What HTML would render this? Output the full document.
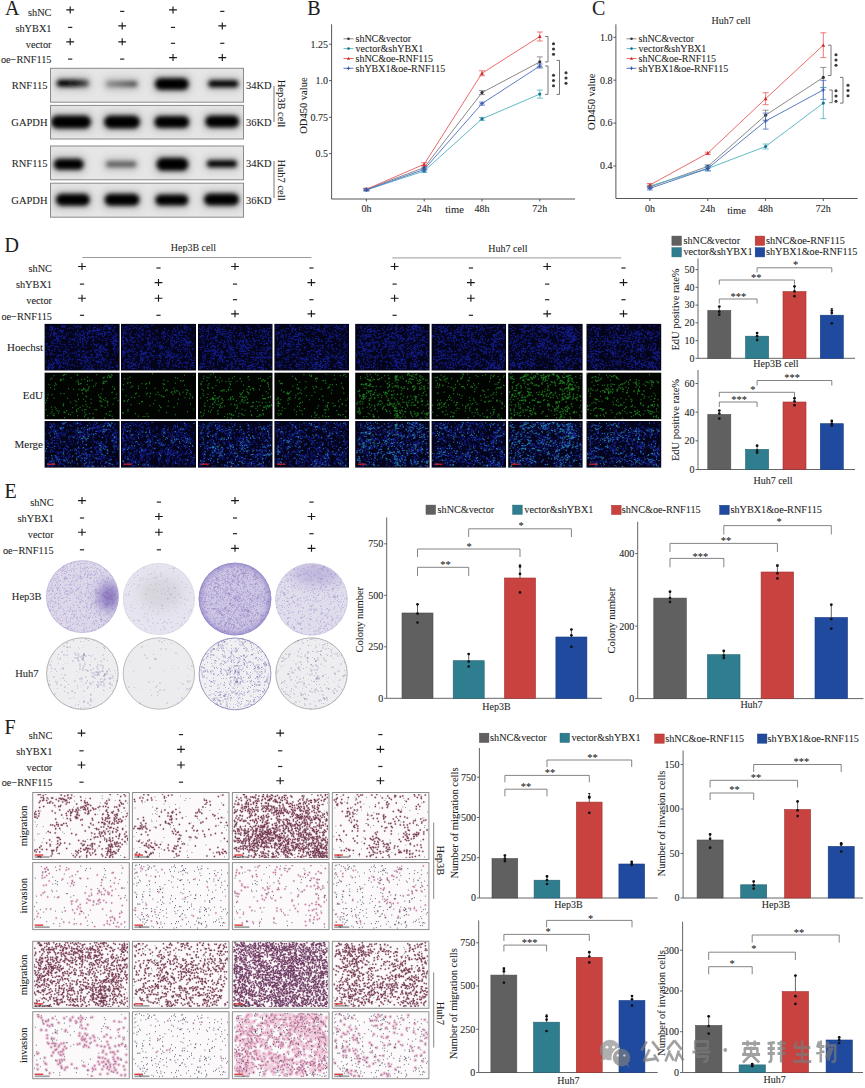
<!DOCTYPE html>
<html><head><meta charset="utf-8"><style>
html,body{margin:0;padding:0;background:#fff;width:865px;height:1088px;overflow:hidden}
svg{display:block}
text{font-family:"Liberation Serif",serif;stroke:#222;stroke-width:0.08px}
</style></head><body>
<svg width="865" height="1088" viewBox="0 0 865 1088">
<rect width="865" height="1088" fill="#fff"/>
<text x="5.0" y="14.6" font-size="20" text-anchor="start" fill="#1e1e1e">A</text>
<text x="51.5" y="15.6" font-size="10.3" text-anchor="end" fill="#1e1e1e">shNC</text>
<path d="M66.30 9.90h7.8M70.20 6.40v7" stroke="#1a1a1a" stroke-width="1.15"/>
<path d="M120.10 11.40h4.2" stroke="#222" stroke-width="1.2"/>
<path d="M169.10 9.90h7.8M173.00 6.40v7" stroke="#1a1a1a" stroke-width="1.15"/>
<path d="M220.20 11.40h4.2" stroke="#222" stroke-width="1.2"/>
<text x="51.5" y="31.6" font-size="10.3" text-anchor="end" fill="#1e1e1e">shYBX1</text>
<path d="M68.10 27.40h4.2" stroke="#222" stroke-width="1.2"/>
<path d="M118.30 25.90h7.8M122.20 22.40v7" stroke="#1a1a1a" stroke-width="1.15"/>
<path d="M170.90 27.40h4.2" stroke="#222" stroke-width="1.2"/>
<path d="M218.40 25.90h7.8M222.30 22.40v7" stroke="#1a1a1a" stroke-width="1.15"/>
<text x="51.5" y="47.5" font-size="10.3" text-anchor="end" fill="#1e1e1e">vector</text>
<path d="M66.30 41.80h7.8M70.20 38.30v7" stroke="#1a1a1a" stroke-width="1.15"/>
<path d="M118.30 41.80h7.8M122.20 38.30v7" stroke="#1a1a1a" stroke-width="1.15"/>
<path d="M170.90 43.30h4.2" stroke="#222" stroke-width="1.2"/>
<path d="M220.20 43.30h4.2" stroke="#222" stroke-width="1.2"/>
<text x="51.5" y="63.3" font-size="10.3" text-anchor="end" fill="#1e1e1e">oe−RNF115</text>
<path d="M68.10 59.10h4.2" stroke="#222" stroke-width="1.2"/>
<path d="M120.10 59.10h4.2" stroke="#222" stroke-width="1.2"/>
<path d="M169.10 57.60h7.8M173.00 54.10v7" stroke="#1a1a1a" stroke-width="1.15"/>
<path d="M218.40 57.60h7.8M222.30 54.10v7" stroke="#1a1a1a" stroke-width="1.15"/>
<defs><filter id="bl" x="-50%" y="-80%" width="200%" height="260%"><feGaussianBlur stdDeviation="1.9"/></filter><filter id="bl2" x="-50%" y="-80%" width="200%" height="260%"><feGaussianBlur stdDeviation="3.5"/></filter></defs>
<rect x="50.5" y="68.3" width="193.0" height="33.9" fill="#e6e6e6" stroke="#8a8a8a" stroke-width="1"/>
<clipPath id="cb0"><rect x="51" y="68.8" width="192" height="32.9"/></clipPath>
<g clip-path="url(#cb0)">
<rect x="53.8" y="75.8" width="38.0" height="15.0" rx="6" fill="#b0b0b0" opacity="0.65" filter="url(#bl2)"/>
<defs><linearGradient id="lg0" x1="0" x2="1"><stop offset="0" stop-color="rgb(0,0,0)"/><stop offset="0.55" stop-color="rgb(10,10,10)"/><stop offset="1" stop-color="rgb(90,90,90)"/></linearGradient></defs>
<rect x="56.8" y="79.8" width="32.0" height="7.0" rx="3.5" fill="url(#lg0)" filter="url(#bl)"/>
<rect x="103.2" y="77.2" width="37.0" height="13.5" rx="6" fill="#b0b0b0" opacity="0.65" filter="url(#bl2)"/>
<defs><linearGradient id="lgr0" x1="0" x2="1"><stop offset="0" stop-color="rgb(141,141,141)"/><stop offset="1" stop-color="rgb(71,71,71)"/></linearGradient></defs>
<rect x="106.2" y="81.2" width="31.0" height="5.5" rx="2.8" fill="url(#lgr0)" filter="url(#bl)"/>
<rect x="151.8" y="74.0" width="40.0" height="20.0" rx="6" fill="#b0b0b0" opacity="0.65" filter="url(#bl2)"/>
<rect x="154.8" y="78.0" width="34.0" height="12.0" rx="6.0" fill="rgb(0,0,0)" filter="url(#bl)"/>
<rect x="205.3" y="76.2" width="36.0" height="15.0" rx="6" fill="#b0b0b0" opacity="0.65" filter="url(#bl2)"/>
<rect x="208.3" y="80.2" width="30.0" height="7.0" rx="3.5" fill="rgb(0,0,0)" filter="url(#bl)"/>
</g>
<text x="47.5" y="88.8" font-size="10.5" text-anchor="end" fill="#1e1e1e">RNF115</text>
<text x="246.0" y="88.8" font-size="10.5" text-anchor="start" fill="#1e1e1e">34KD</text>
<rect x="50.5" y="105.4" width="193.0" height="33.6" fill="#e6e6e6" stroke="#8a8a8a" stroke-width="1"/>
<clipPath id="cb1"><rect x="51" y="105.9" width="192" height="32.6"/></clipPath>
<g clip-path="url(#cb1)">
<rect x="48.0" y="111.5" width="46.0" height="21.0" rx="6" fill="#b0b0b0" opacity="0.65" filter="url(#bl2)"/>
<rect x="51.0" y="115.5" width="40.0" height="13.0" rx="6.5" fill="rgb(0,0,0)" filter="url(#bl)"/>
<rect x="101.0" y="111.5" width="42.0" height="21.0" rx="6" fill="#b0b0b0" opacity="0.65" filter="url(#bl2)"/>
<rect x="104.0" y="115.5" width="36.0" height="13.0" rx="6.5" fill="rgb(0,0,0)" filter="url(#bl)"/>
<rect x="151.3" y="112.0" width="41.0" height="20.0" rx="6" fill="#b0b0b0" opacity="0.65" filter="url(#bl2)"/>
<rect x="154.3" y="116.0" width="35.0" height="12.0" rx="6.0" fill="rgb(0,0,0)" filter="url(#bl)"/>
<rect x="202.2" y="111.5" width="40.0" height="20.0" rx="6" fill="#b0b0b0" opacity="0.65" filter="url(#bl2)"/>
<rect x="205.2" y="115.5" width="34.0" height="12.0" rx="6.0" fill="rgb(0,0,0)" filter="url(#bl)"/>
</g>
<text x="47.5" y="125.8" font-size="10.5" text-anchor="end" fill="#1e1e1e">GAPDH</text>
<text x="246.0" y="125.8" font-size="10.5" text-anchor="start" fill="#1e1e1e">36KD</text>
<rect x="50.5" y="146.0" width="193.0" height="33.8" fill="#e6e6e6" stroke="#8a8a8a" stroke-width="1"/>
<clipPath id="cb2"><rect x="51" y="146.5" width="192" height="32.8"/></clipPath>
<g clip-path="url(#cb2)">
<rect x="50.7" y="154.8" width="36.0" height="19.0" rx="6" fill="#b0b0b0" opacity="0.65" filter="url(#bl2)"/>
<rect x="53.7" y="158.8" width="30.0" height="11.0" rx="5.5" fill="rgb(0,0,0)" filter="url(#bl)"/>
<rect x="103.1" y="157.6" width="36.0" height="13.5" rx="6" fill="#b0b0b0" opacity="0.65" filter="url(#bl2)"/>
<rect x="106.1" y="161.6" width="30.0" height="5.5" rx="2.8" fill="rgb(91,91,91)" filter="url(#bl)"/>
<rect x="153.4" y="153.8" width="38.0" height="21.0" rx="6" fill="#b0b0b0" opacity="0.65" filter="url(#bl2)"/>
<rect x="156.4" y="157.8" width="32.0" height="13.0" rx="6.5" fill="rgb(0,0,0)" filter="url(#bl)"/>
<rect x="203.9" y="156.3" width="36.0" height="15.0" rx="6" fill="#b0b0b0" opacity="0.65" filter="url(#bl2)"/>
<rect x="206.9" y="160.3" width="30.0" height="7.0" rx="3.5" fill="rgb(0,0,0)" filter="url(#bl)"/>
</g>
<text x="47.5" y="166.5" font-size="10.5" text-anchor="end" fill="#1e1e1e">RNF115</text>
<text x="246.0" y="166.5" font-size="10.5" text-anchor="start" fill="#1e1e1e">34KD</text>
<rect x="50.5" y="183.2" width="193.0" height="34.0" fill="#e6e6e6" stroke="#8a8a8a" stroke-width="1"/>
<clipPath id="cb3"><rect x="51" y="183.7" width="192" height="33.0"/></clipPath>
<g clip-path="url(#cb3)">
<rect x="52.8" y="189.8" width="40.0" height="20.0" rx="6" fill="#b0b0b0" opacity="0.65" filter="url(#bl2)"/>
<rect x="55.8" y="193.8" width="34.0" height="12.0" rx="6.0" fill="rgb(0,0,0)" filter="url(#bl)"/>
<rect x="101.5" y="189.8" width="41.0" height="20.0" rx="6" fill="#b0b0b0" opacity="0.65" filter="url(#bl2)"/>
<rect x="104.5" y="193.8" width="35.0" height="12.0" rx="6.0" fill="rgb(0,0,0)" filter="url(#bl)"/>
<rect x="152.3" y="190.5" width="39.0" height="19.0" rx="6" fill="#b0b0b0" opacity="0.65" filter="url(#bl2)"/>
<rect x="155.3" y="194.5" width="33.0" height="11.0" rx="5.5" fill="rgb(0,0,0)" filter="url(#bl)"/>
<rect x="201.0" y="189.5" width="41.0" height="20.0" rx="6" fill="#b0b0b0" opacity="0.65" filter="url(#bl2)"/>
<rect x="204.0" y="193.5" width="35.0" height="12.0" rx="6.0" fill="rgb(0,0,0)" filter="url(#bl)"/>
</g>
<text x="47.5" y="203.8" font-size="10.5" text-anchor="end" fill="#1e1e1e">GAPDH</text>
<text x="246.0" y="203.8" font-size="10.5" text-anchor="start" fill="#1e1e1e">36KD</text>
<line x1="274.0" y1="86.0" x2="274.0" y2="122.0" stroke="#555" stroke-width="0.8"/>
<line x1="274.0" y1="161.0" x2="274.0" y2="198.0" stroke="#555" stroke-width="0.8"/>
<text x="277.5" y="103.5" font-size="10.5" text-anchor="middle" fill="#1e1e1e" transform="rotate(90 277.5 103.5)">Hep3B cell</text>
<text x="277.5" y="180.0" font-size="10.5" text-anchor="middle" fill="#1e1e1e" transform="rotate(90 277.5 180.0)">Huh7 cell</text>
<text x="307.3" y="14.6" font-size="20" text-anchor="start" fill="#1e1e1e">B</text>
<line x1="331.6" y1="24.3" x2="331.6" y2="199.0" stroke="#444" stroke-width="0.9"/>
<line x1="331.6" y1="199.0" x2="575.0" y2="199.0" stroke="#444" stroke-width="0.9"/>
<line x1="329.1" y1="44.2" x2="331.6" y2="44.2" stroke="#444" stroke-width="0.9"/>
<text x="328.1" y="47.5" font-size="10" text-anchor="end" fill="#1e1e1e">1.25</text>
<line x1="329.1" y1="80.6" x2="331.6" y2="80.6" stroke="#444" stroke-width="0.9"/>
<text x="328.1" y="83.9" font-size="10" text-anchor="end" fill="#1e1e1e">1.0</text>
<line x1="329.1" y1="117.3" x2="331.6" y2="117.3" stroke="#444" stroke-width="0.9"/>
<text x="328.1" y="120.6" font-size="10" text-anchor="end" fill="#1e1e1e">0.75</text>
<line x1="329.1" y1="153.6" x2="331.6" y2="153.6" stroke="#444" stroke-width="0.9"/>
<text x="328.1" y="156.9" font-size="10" text-anchor="end" fill="#1e1e1e">0.5</text>
<line x1="366.4" y1="199.0" x2="366.4" y2="201.5" stroke="#444" stroke-width="0.9"/>
<text x="366.4" y="212.0" font-size="10" text-anchor="middle" fill="#1e1e1e">0h</text>
<line x1="424.2" y1="199.0" x2="424.2" y2="201.5" stroke="#444" stroke-width="0.9"/>
<text x="424.2" y="212.0" font-size="10" text-anchor="middle" fill="#1e1e1e">24h</text>
<line x1="482.0" y1="199.0" x2="482.0" y2="201.5" stroke="#444" stroke-width="0.9"/>
<text x="482.0" y="212.0" font-size="10" text-anchor="middle" fill="#1e1e1e">48h</text>
<line x1="539.8" y1="199.0" x2="539.8" y2="201.5" stroke="#444" stroke-width="0.9"/>
<text x="539.8" y="212.0" font-size="10" text-anchor="middle" fill="#1e1e1e">72h</text>
<polyline points="366.4,189.3 424.2,167.6 482.0,92.6 539.8,61.9" fill="none" stroke="#7a7a7a" stroke-width="0.9"/>
<line x1="366.4" y1="188.3" x2="366.4" y2="190.3" stroke="#7a7a7a" stroke-width="0.8"/>
<line x1="363.4" y1="188.3" x2="369.4" y2="188.3" stroke="#7a7a7a" stroke-width="0.8"/>
<line x1="363.4" y1="190.3" x2="369.4" y2="190.3" stroke="#7a7a7a" stroke-width="0.8"/>
<circle cx="366.4" cy="189.3" r="1.6" fill="#333"/>
<line x1="424.2" y1="166.1" x2="424.2" y2="169.1" stroke="#7a7a7a" stroke-width="0.8"/>
<line x1="421.2" y1="166.1" x2="427.2" y2="166.1" stroke="#7a7a7a" stroke-width="0.8"/>
<line x1="421.2" y1="169.1" x2="427.2" y2="169.1" stroke="#7a7a7a" stroke-width="0.8"/>
<circle cx="424.2" cy="167.6" r="1.6" fill="#333"/>
<line x1="482.0" y1="90.6" x2="482.0" y2="94.6" stroke="#7a7a7a" stroke-width="0.8"/>
<line x1="479.0" y1="90.6" x2="485.0" y2="90.6" stroke="#7a7a7a" stroke-width="0.8"/>
<line x1="479.0" y1="94.6" x2="485.0" y2="94.6" stroke="#7a7a7a" stroke-width="0.8"/>
<circle cx="482.0" cy="92.6" r="1.6" fill="#333"/>
<line x1="539.8" y1="56.9" x2="539.8" y2="66.9" stroke="#7a7a7a" stroke-width="0.8"/>
<line x1="536.8" y1="56.9" x2="542.8" y2="56.9" stroke="#7a7a7a" stroke-width="0.8"/>
<line x1="536.8" y1="66.9" x2="542.8" y2="66.9" stroke="#7a7a7a" stroke-width="0.8"/>
<circle cx="539.8" cy="61.9" r="1.6" fill="#333"/>
<polyline points="366.4,190.0 424.2,171.0 482.0,118.9 539.8,94.1" fill="none" stroke="#4fb3c0" stroke-width="0.9"/>
<line x1="366.4" y1="189.0" x2="366.4" y2="191.0" stroke="#4fb3c0" stroke-width="0.8"/>
<line x1="363.4" y1="189.0" x2="369.4" y2="189.0" stroke="#4fb3c0" stroke-width="0.8"/>
<line x1="363.4" y1="191.0" x2="369.4" y2="191.0" stroke="#4fb3c0" stroke-width="0.8"/>
<circle cx="366.4" cy="190.0" r="1.6" fill="#19748a"/>
<line x1="424.2" y1="169.5" x2="424.2" y2="172.5" stroke="#4fb3c0" stroke-width="0.8"/>
<line x1="421.2" y1="169.5" x2="427.2" y2="169.5" stroke="#4fb3c0" stroke-width="0.8"/>
<line x1="421.2" y1="172.5" x2="427.2" y2="172.5" stroke="#4fb3c0" stroke-width="0.8"/>
<circle cx="424.2" cy="171.0" r="1.6" fill="#19748a"/>
<line x1="482.0" y1="117.4" x2="482.0" y2="120.4" stroke="#4fb3c0" stroke-width="0.8"/>
<line x1="479.0" y1="117.4" x2="485.0" y2="117.4" stroke="#4fb3c0" stroke-width="0.8"/>
<line x1="479.0" y1="120.4" x2="485.0" y2="120.4" stroke="#4fb3c0" stroke-width="0.8"/>
<circle cx="482.0" cy="118.9" r="1.6" fill="#19748a"/>
<line x1="539.8" y1="90.1" x2="539.8" y2="98.1" stroke="#4fb3c0" stroke-width="0.8"/>
<line x1="536.8" y1="90.1" x2="542.8" y2="90.1" stroke="#4fb3c0" stroke-width="0.8"/>
<line x1="536.8" y1="98.1" x2="542.8" y2="98.1" stroke="#4fb3c0" stroke-width="0.8"/>
<circle cx="539.8" cy="94.1" r="1.6" fill="#19748a"/>
<polyline points="366.4,189.3 424.2,164.2 482.0,73.3 539.8,36.5" fill="none" stroke="#e85a5a" stroke-width="0.9"/>
<line x1="366.4" y1="188.3" x2="366.4" y2="190.3" stroke="#e85a5a" stroke-width="0.8"/>
<line x1="363.4" y1="188.3" x2="369.4" y2="188.3" stroke="#e85a5a" stroke-width="0.8"/>
<line x1="363.4" y1="190.3" x2="369.4" y2="190.3" stroke="#e85a5a" stroke-width="0.8"/>
<path d="M366.4 187.3L368.3 190.9H364.5Z" fill="#d42a2a"/>
<line x1="424.2" y1="162.7" x2="424.2" y2="165.7" stroke="#e85a5a" stroke-width="0.8"/>
<line x1="421.2" y1="162.7" x2="427.2" y2="162.7" stroke="#e85a5a" stroke-width="0.8"/>
<line x1="421.2" y1="165.7" x2="427.2" y2="165.7" stroke="#e85a5a" stroke-width="0.8"/>
<path d="M424.2 162.2L426.1 165.8H422.3Z" fill="#d42a2a"/>
<line x1="482.0" y1="70.8" x2="482.0" y2="75.8" stroke="#e85a5a" stroke-width="0.8"/>
<line x1="479.0" y1="70.8" x2="485.0" y2="70.8" stroke="#e85a5a" stroke-width="0.8"/>
<line x1="479.0" y1="75.8" x2="485.0" y2="75.8" stroke="#e85a5a" stroke-width="0.8"/>
<path d="M482.0 71.3L483.9 74.9H480.1Z" fill="#d42a2a"/>
<line x1="539.8" y1="32.0" x2="539.8" y2="41.0" stroke="#e85a5a" stroke-width="0.8"/>
<line x1="536.8" y1="32.0" x2="542.8" y2="32.0" stroke="#e85a5a" stroke-width="0.8"/>
<line x1="536.8" y1="41.0" x2="542.8" y2="41.0" stroke="#e85a5a" stroke-width="0.8"/>
<path d="M539.8 34.5L541.7 38.1H537.9Z" fill="#d42a2a"/>
<polyline points="366.4,189.8 424.2,169.4 482.0,103.6 539.8,66.0" fill="none" stroke="#4b6cc1" stroke-width="0.9"/>
<line x1="366.4" y1="188.8" x2="366.4" y2="190.8" stroke="#4b6cc1" stroke-width="0.8"/>
<line x1="363.4" y1="188.8" x2="369.4" y2="188.8" stroke="#4b6cc1" stroke-width="0.8"/>
<line x1="363.4" y1="190.8" x2="369.4" y2="190.8" stroke="#4b6cc1" stroke-width="0.8"/>
<line x1="364.3" y1="189.8" x2="368.5" y2="189.8" stroke="#3355aa" stroke-width="0.9"/>
<line x1="366.4" y1="187.7" x2="366.4" y2="191.9" stroke="#3355aa" stroke-width="0.9"/>
<line x1="424.2" y1="167.9" x2="424.2" y2="170.9" stroke="#4b6cc1" stroke-width="0.8"/>
<line x1="421.2" y1="167.9" x2="427.2" y2="167.9" stroke="#4b6cc1" stroke-width="0.8"/>
<line x1="421.2" y1="170.9" x2="427.2" y2="170.9" stroke="#4b6cc1" stroke-width="0.8"/>
<line x1="422.1" y1="169.4" x2="426.3" y2="169.4" stroke="#3355aa" stroke-width="0.9"/>
<line x1="424.2" y1="167.3" x2="424.2" y2="171.5" stroke="#3355aa" stroke-width="0.9"/>
<line x1="482.0" y1="102.1" x2="482.0" y2="105.1" stroke="#4b6cc1" stroke-width="0.8"/>
<line x1="479.0" y1="102.1" x2="485.0" y2="102.1" stroke="#4b6cc1" stroke-width="0.8"/>
<line x1="479.0" y1="105.1" x2="485.0" y2="105.1" stroke="#4b6cc1" stroke-width="0.8"/>
<line x1="479.9" y1="103.6" x2="484.1" y2="103.6" stroke="#3355aa" stroke-width="0.9"/>
<line x1="482.0" y1="101.5" x2="482.0" y2="105.7" stroke="#3355aa" stroke-width="0.9"/>
<line x1="539.8" y1="64.0" x2="539.8" y2="68.0" stroke="#4b6cc1" stroke-width="0.8"/>
<line x1="536.8" y1="64.0" x2="542.8" y2="64.0" stroke="#4b6cc1" stroke-width="0.8"/>
<line x1="536.8" y1="68.0" x2="542.8" y2="68.0" stroke="#4b6cc1" stroke-width="0.8"/>
<line x1="537.7" y1="66.0" x2="541.9" y2="66.0" stroke="#3355aa" stroke-width="0.9"/>
<line x1="539.8" y1="63.9" x2="539.8" y2="68.1" stroke="#3355aa" stroke-width="0.9"/>
<line x1="343.5" y1="38.8" x2="353.5" y2="38.8" stroke="#7a7a7a" stroke-width="0.9"/>
<circle cx="348.5" cy="38.8" r="1.3" fill="#333"/>
<text x="355.5" y="42.1" font-size="10" text-anchor="start" fill="#1e1e1e">shNC&amp;vector</text>
<line x1="343.5" y1="48.6" x2="353.5" y2="48.6" stroke="#4fb3c0" stroke-width="0.9"/>
<circle cx="348.5" cy="48.6" r="1.3" fill="#19748a"/>
<text x="355.5" y="51.9" font-size="10" text-anchor="start" fill="#1e1e1e">vector&amp;shYBX1</text>
<line x1="343.5" y1="58.5" x2="353.5" y2="58.5" stroke="#e85a5a" stroke-width="0.9"/>
<path d="M348.5 56.8L350.1 59.8H346.9Z" fill="#d42a2a"/>
<text x="355.5" y="61.8" font-size="10" text-anchor="start" fill="#1e1e1e">shNC&amp;oe-RNF115</text>
<line x1="343.5" y1="68.3" x2="353.5" y2="68.3" stroke="#4b6cc1" stroke-width="0.9"/>
<line x1="346.7" y1="68.3" x2="350.3" y2="68.3" stroke="#3355aa" stroke-width="0.9"/>
<line x1="348.5" y1="66.5" x2="348.5" y2="70.1" stroke="#3355aa" stroke-width="0.9"/>
<text x="355.5" y="71.6" font-size="10" text-anchor="start" fill="#1e1e1e">shYBX1&amp;oe-RNF115</text>
<polyline points="545,36.5 548,36.5 548,61.9 545,61.9" fill="none" stroke="#555" stroke-width="0.8"/>
<circle cx="553.5" cy="43.8" r="1.55" fill="#3a3a3a"/>
<circle cx="553.5" cy="49.0" r="1.55" fill="#3a3a3a"/>
<circle cx="553.5" cy="54.2" r="1.55" fill="#3a3a3a"/>
<polyline points="545,66 548,66 548,94.4 545,94.4" fill="none" stroke="#555" stroke-width="0.8"/>
<circle cx="553.5" cy="75.3" r="1.55" fill="#3a3a3a"/>
<circle cx="553.5" cy="80.5" r="1.55" fill="#3a3a3a"/>
<circle cx="553.5" cy="85.7" r="1.55" fill="#3a3a3a"/>
<polyline points="556.5,60.4 559.5,60.4 559.5,94.4 556.5,94.4" fill="none" stroke="#555" stroke-width="0.8"/>
<circle cx="566" cy="72.8" r="1.55" fill="#3a3a3a"/>
<circle cx="566" cy="78.0" r="1.55" fill="#3a3a3a"/>
<circle cx="566" cy="83.2" r="1.55" fill="#3a3a3a"/>
<text x="307.0" y="105.6" font-size="10.5" text-anchor="middle" fill="#1e1e1e" transform="rotate(-90 307.0 105.6)">OD450 value</text>
<text x="454.5" y="213.0" font-size="10.5" text-anchor="middle" fill="#1e1e1e">time</text>
<text x="592.0" y="14.6" font-size="20" text-anchor="start" fill="#1e1e1e">C</text>
<text x="731.0" y="23.5" font-size="10" text-anchor="middle" fill="#1e1e1e">Huh7 cell</text>
<line x1="615.9" y1="24.3" x2="615.9" y2="198.5" stroke="#444" stroke-width="0.9"/>
<line x1="615.9" y1="198.5" x2="857.5" y2="198.5" stroke="#444" stroke-width="0.9"/>
<line x1="613.4" y1="37.3" x2="615.9" y2="37.3" stroke="#444" stroke-width="0.9"/>
<text x="612.4" y="40.6" font-size="10" text-anchor="end" fill="#1e1e1e">1.0</text>
<line x1="613.4" y1="80.2" x2="615.9" y2="80.2" stroke="#444" stroke-width="0.9"/>
<text x="612.4" y="83.5" font-size="10" text-anchor="end" fill="#1e1e1e">0.8</text>
<line x1="613.4" y1="123.1" x2="615.9" y2="123.1" stroke="#444" stroke-width="0.9"/>
<text x="612.4" y="126.4" font-size="10" text-anchor="end" fill="#1e1e1e">0.6</text>
<line x1="613.4" y1="166.0" x2="615.9" y2="166.0" stroke="#444" stroke-width="0.9"/>
<text x="612.4" y="169.3" font-size="10" text-anchor="end" fill="#1e1e1e">0.4</text>
<line x1="649.9" y1="198.5" x2="649.9" y2="201.0" stroke="#444" stroke-width="0.9"/>
<text x="649.9" y="211.5" font-size="10" text-anchor="middle" fill="#1e1e1e">0h</text>
<line x1="707.8" y1="198.5" x2="707.8" y2="201.0" stroke="#444" stroke-width="0.9"/>
<text x="707.8" y="211.5" font-size="10" text-anchor="middle" fill="#1e1e1e">24h</text>
<line x1="765.6" y1="198.5" x2="765.6" y2="201.0" stroke="#444" stroke-width="0.9"/>
<text x="765.6" y="211.5" font-size="10" text-anchor="middle" fill="#1e1e1e">48h</text>
<line x1="823.3" y1="198.5" x2="823.3" y2="201.0" stroke="#444" stroke-width="0.9"/>
<text x="823.3" y="211.5" font-size="10" text-anchor="middle" fill="#1e1e1e">72h</text>
<polyline points="649.9,187.0 707.8,166.4 765.6,115.2 823.3,77.4" fill="none" stroke="#7a7a7a" stroke-width="0.9"/>
<line x1="649.9" y1="186.0" x2="649.9" y2="188.0" stroke="#7a7a7a" stroke-width="0.8"/>
<line x1="646.9" y1="186.0" x2="652.9" y2="186.0" stroke="#7a7a7a" stroke-width="0.8"/>
<line x1="646.9" y1="188.0" x2="652.9" y2="188.0" stroke="#7a7a7a" stroke-width="0.8"/>
<circle cx="649.9" cy="187.0" r="1.6" fill="#333"/>
<line x1="707.8" y1="164.9" x2="707.8" y2="167.9" stroke="#7a7a7a" stroke-width="0.8"/>
<line x1="704.8" y1="164.9" x2="710.8" y2="164.9" stroke="#7a7a7a" stroke-width="0.8"/>
<line x1="704.8" y1="167.9" x2="710.8" y2="167.9" stroke="#7a7a7a" stroke-width="0.8"/>
<circle cx="707.8" cy="166.4" r="1.6" fill="#333"/>
<line x1="765.6" y1="110.2" x2="765.6" y2="120.2" stroke="#7a7a7a" stroke-width="0.8"/>
<line x1="762.6" y1="110.2" x2="768.6" y2="110.2" stroke="#7a7a7a" stroke-width="0.8"/>
<line x1="762.6" y1="120.2" x2="768.6" y2="120.2" stroke="#7a7a7a" stroke-width="0.8"/>
<circle cx="765.6" cy="115.2" r="1.6" fill="#333"/>
<line x1="823.3" y1="67.4" x2="823.3" y2="87.4" stroke="#7a7a7a" stroke-width="0.8"/>
<line x1="820.3" y1="67.4" x2="826.3" y2="67.4" stroke="#7a7a7a" stroke-width="0.8"/>
<line x1="820.3" y1="87.4" x2="826.3" y2="87.4" stroke="#7a7a7a" stroke-width="0.8"/>
<circle cx="823.3" cy="77.4" r="1.6" fill="#333"/>
<polyline points="649.9,186.0 707.8,168.5 765.6,146.5 823.3,103.1" fill="none" stroke="#4fb3c0" stroke-width="0.9"/>
<line x1="649.9" y1="185.0" x2="649.9" y2="187.0" stroke="#4fb3c0" stroke-width="0.8"/>
<line x1="646.9" y1="185.0" x2="652.9" y2="185.0" stroke="#4fb3c0" stroke-width="0.8"/>
<line x1="646.9" y1="187.0" x2="652.9" y2="187.0" stroke="#4fb3c0" stroke-width="0.8"/>
<circle cx="649.9" cy="186.0" r="1.6" fill="#19748a"/>
<line x1="707.8" y1="166.5" x2="707.8" y2="170.5" stroke="#4fb3c0" stroke-width="0.8"/>
<line x1="704.8" y1="166.5" x2="710.8" y2="166.5" stroke="#4fb3c0" stroke-width="0.8"/>
<line x1="704.8" y1="170.5" x2="710.8" y2="170.5" stroke="#4fb3c0" stroke-width="0.8"/>
<circle cx="707.8" cy="168.5" r="1.6" fill="#19748a"/>
<line x1="765.6" y1="144.0" x2="765.6" y2="149.0" stroke="#4fb3c0" stroke-width="0.8"/>
<line x1="762.6" y1="144.0" x2="768.6" y2="144.0" stroke="#4fb3c0" stroke-width="0.8"/>
<line x1="762.6" y1="149.0" x2="768.6" y2="149.0" stroke="#4fb3c0" stroke-width="0.8"/>
<circle cx="765.6" cy="146.5" r="1.6" fill="#19748a"/>
<line x1="823.3" y1="87.6" x2="823.3" y2="118.6" stroke="#4fb3c0" stroke-width="0.8"/>
<line x1="820.3" y1="87.6" x2="826.3" y2="87.6" stroke="#4fb3c0" stroke-width="0.8"/>
<line x1="820.3" y1="118.6" x2="826.3" y2="118.6" stroke="#4fb3c0" stroke-width="0.8"/>
<circle cx="823.3" cy="103.1" r="1.6" fill="#19748a"/>
<polyline points="649.9,185.0 707.8,153.2 765.6,98.7 823.3,45.2" fill="none" stroke="#e85a5a" stroke-width="0.9"/>
<line x1="649.9" y1="183.5" x2="649.9" y2="186.5" stroke="#e85a5a" stroke-width="0.8"/>
<line x1="646.9" y1="183.5" x2="652.9" y2="183.5" stroke="#e85a5a" stroke-width="0.8"/>
<line x1="646.9" y1="186.5" x2="652.9" y2="186.5" stroke="#e85a5a" stroke-width="0.8"/>
<path d="M649.9 183.0L651.8 186.6H648.0Z" fill="#d42a2a"/>
<line x1="707.8" y1="152.2" x2="707.8" y2="154.2" stroke="#e85a5a" stroke-width="0.8"/>
<line x1="704.8" y1="152.2" x2="710.8" y2="152.2" stroke="#e85a5a" stroke-width="0.8"/>
<line x1="704.8" y1="154.2" x2="710.8" y2="154.2" stroke="#e85a5a" stroke-width="0.8"/>
<path d="M707.8 151.2L709.7 154.8H705.9Z" fill="#d42a2a"/>
<line x1="765.6" y1="92.7" x2="765.6" y2="104.7" stroke="#e85a5a" stroke-width="0.8"/>
<line x1="762.6" y1="92.7" x2="768.6" y2="92.7" stroke="#e85a5a" stroke-width="0.8"/>
<line x1="762.6" y1="104.7" x2="768.6" y2="104.7" stroke="#e85a5a" stroke-width="0.8"/>
<path d="M765.6 96.7L767.5 100.3H763.7Z" fill="#d42a2a"/>
<line x1="823.3" y1="32.8" x2="823.3" y2="57.6" stroke="#e85a5a" stroke-width="0.8"/>
<line x1="820.3" y1="32.8" x2="826.3" y2="32.8" stroke="#e85a5a" stroke-width="0.8"/>
<line x1="820.3" y1="57.6" x2="826.3" y2="57.6" stroke="#e85a5a" stroke-width="0.8"/>
<path d="M823.3 43.2L825.2 46.8H821.4Z" fill="#d42a2a"/>
<polyline points="649.9,188.4 707.8,168.5 765.6,121.1 823.3,89.9" fill="none" stroke="#4b6cc1" stroke-width="0.9"/>
<line x1="649.9" y1="186.9" x2="649.9" y2="189.9" stroke="#4b6cc1" stroke-width="0.8"/>
<line x1="646.9" y1="186.9" x2="652.9" y2="186.9" stroke="#4b6cc1" stroke-width="0.8"/>
<line x1="646.9" y1="189.9" x2="652.9" y2="189.9" stroke="#4b6cc1" stroke-width="0.8"/>
<line x1="647.8" y1="188.4" x2="652.0" y2="188.4" stroke="#3355aa" stroke-width="0.9"/>
<line x1="649.9" y1="186.3" x2="649.9" y2="190.5" stroke="#3355aa" stroke-width="0.9"/>
<line x1="707.8" y1="166.0" x2="707.8" y2="171.0" stroke="#4b6cc1" stroke-width="0.8"/>
<line x1="704.8" y1="166.0" x2="710.8" y2="166.0" stroke="#4b6cc1" stroke-width="0.8"/>
<line x1="704.8" y1="171.0" x2="710.8" y2="171.0" stroke="#4b6cc1" stroke-width="0.8"/>
<line x1="705.7" y1="168.5" x2="709.9" y2="168.5" stroke="#3355aa" stroke-width="0.9"/>
<line x1="707.8" y1="166.4" x2="707.8" y2="170.6" stroke="#3355aa" stroke-width="0.9"/>
<line x1="765.6" y1="113.1" x2="765.6" y2="129.1" stroke="#4b6cc1" stroke-width="0.8"/>
<line x1="762.6" y1="113.1" x2="768.6" y2="113.1" stroke="#4b6cc1" stroke-width="0.8"/>
<line x1="762.6" y1="129.1" x2="768.6" y2="129.1" stroke="#4b6cc1" stroke-width="0.8"/>
<line x1="763.5" y1="121.1" x2="767.7" y2="121.1" stroke="#3355aa" stroke-width="0.9"/>
<line x1="765.6" y1="119.0" x2="765.6" y2="123.2" stroke="#3355aa" stroke-width="0.9"/>
<line x1="823.3" y1="80.4" x2="823.3" y2="99.4" stroke="#4b6cc1" stroke-width="0.8"/>
<line x1="820.3" y1="80.4" x2="826.3" y2="80.4" stroke="#4b6cc1" stroke-width="0.8"/>
<line x1="820.3" y1="99.4" x2="826.3" y2="99.4" stroke="#4b6cc1" stroke-width="0.8"/>
<line x1="821.2" y1="89.9" x2="825.4" y2="89.9" stroke="#3355aa" stroke-width="0.9"/>
<line x1="823.3" y1="87.8" x2="823.3" y2="92.0" stroke="#3355aa" stroke-width="0.9"/>
<line x1="626.5" y1="38.8" x2="636.5" y2="38.8" stroke="#7a7a7a" stroke-width="0.9"/>
<circle cx="631.5" cy="38.8" r="1.3" fill="#333"/>
<text x="638.5" y="42.1" font-size="10" text-anchor="start" fill="#1e1e1e">shNC&amp;vector</text>
<line x1="626.5" y1="48.6" x2="636.5" y2="48.6" stroke="#4fb3c0" stroke-width="0.9"/>
<circle cx="631.5" cy="48.6" r="1.3" fill="#19748a"/>
<text x="638.5" y="51.9" font-size="10" text-anchor="start" fill="#1e1e1e">vector&amp;shYBX1</text>
<line x1="626.5" y1="58.5" x2="636.5" y2="58.5" stroke="#e85a5a" stroke-width="0.9"/>
<path d="M631.5 56.8L633.1 59.8H629.9Z" fill="#d42a2a"/>
<text x="638.5" y="61.8" font-size="10" text-anchor="start" fill="#1e1e1e">shNC&amp;oe-RNF115</text>
<line x1="626.5" y1="68.3" x2="636.5" y2="68.3" stroke="#4b6cc1" stroke-width="0.9"/>
<line x1="629.7" y1="68.3" x2="633.3" y2="68.3" stroke="#3355aa" stroke-width="0.9"/>
<line x1="631.5" y1="66.5" x2="631.5" y2="70.1" stroke="#3355aa" stroke-width="0.9"/>
<text x="638.5" y="71.6" font-size="10" text-anchor="start" fill="#1e1e1e">shYBX1&amp;oe-RNF115</text>
<polyline points="828,45.2 831,45.2 831,75.5 828,75.5" fill="none" stroke="#555" stroke-width="0.8"/>
<circle cx="836" cy="54.8" r="1.55" fill="#3a3a3a"/>
<circle cx="836" cy="60.0" r="1.55" fill="#3a3a3a"/>
<circle cx="836" cy="65.2" r="1.55" fill="#3a3a3a"/>
<polyline points="829.2,90 832.2,90 832.2,102.7 829.2,102.7" fill="none" stroke="#555" stroke-width="0.8"/>
<circle cx="836" cy="90.8" r="1.55" fill="#3a3a3a"/>
<circle cx="836" cy="96.0" r="1.55" fill="#3a3a3a"/>
<circle cx="836" cy="101.2" r="1.55" fill="#3a3a3a"/>
<polyline points="840,77.4 843,77.4 843,103.1 840,103.1" fill="none" stroke="#555" stroke-width="0.8"/>
<circle cx="848" cy="85.3" r="1.55" fill="#3a3a3a"/>
<circle cx="848" cy="90.5" r="1.55" fill="#3a3a3a"/>
<circle cx="848" cy="95.7" r="1.55" fill="#3a3a3a"/>
<text x="595.0" y="101.8" font-size="10.5" text-anchor="middle" fill="#1e1e1e" transform="rotate(-90 595.0 101.8)">OD450 value</text>
<text x="736.5" y="214.0" font-size="10.5" text-anchor="middle" fill="#1e1e1e">time</text>
<text x="4.6" y="252.4" font-size="20" text-anchor="start" fill="#1e1e1e">D</text>
<text x="52.0" y="272.2" font-size="10.3" text-anchor="end" fill="#1e1e1e">shNC</text>
<path d="M78.10 266.50h7.8M82.00 263.00v7" stroke="#1a1a1a" stroke-width="1.15"/>
<path d="M156.40 268.00h4.2" stroke="#222" stroke-width="1.2"/>
<path d="M231.10 266.50h7.8M235.00 263.00v7" stroke="#1a1a1a" stroke-width="1.15"/>
<path d="M309.30 268.00h4.2" stroke="#222" stroke-width="1.2"/>
<text x="52.0" y="288.3" font-size="10.3" text-anchor="end" fill="#1e1e1e">shYBX1</text>
<path d="M79.90 284.10h4.2" stroke="#222" stroke-width="1.2"/>
<path d="M154.60 282.60h7.8M158.50 279.10v7" stroke="#1a1a1a" stroke-width="1.15"/>
<path d="M232.90 284.10h4.2" stroke="#222" stroke-width="1.2"/>
<path d="M307.50 282.60h7.8M311.40 279.10v7" stroke="#1a1a1a" stroke-width="1.15"/>
<text x="52.0" y="303.9" font-size="10.3" text-anchor="end" fill="#1e1e1e">vector</text>
<path d="M78.10 298.20h7.8M82.00 294.70v7" stroke="#1a1a1a" stroke-width="1.15"/>
<path d="M154.60 298.20h7.8M158.50 294.70v7" stroke="#1a1a1a" stroke-width="1.15"/>
<path d="M232.90 299.70h4.2" stroke="#222" stroke-width="1.2"/>
<path d="M309.30 299.70h4.2" stroke="#222" stroke-width="1.2"/>
<text x="52.0" y="319.5" font-size="10.3" text-anchor="end" fill="#1e1e1e">oe−RNF115</text>
<path d="M79.90 315.30h4.2" stroke="#222" stroke-width="1.2"/>
<path d="M156.40 315.30h4.2" stroke="#222" stroke-width="1.2"/>
<path d="M231.10 313.80h7.8M235.00 310.30v7" stroke="#1a1a1a" stroke-width="1.15"/>
<path d="M307.50 313.80h7.8M311.40 310.30v7" stroke="#1a1a1a" stroke-width="1.15"/>
<path d="M390.70 266.50h7.8M394.60 263.00v7" stroke="#1a1a1a" stroke-width="1.15"/>
<path d="M392.50 284.10h4.2" stroke="#222" stroke-width="1.2"/>
<path d="M390.70 298.20h7.8M394.60 294.70v7" stroke="#1a1a1a" stroke-width="1.15"/>
<path d="M392.50 315.30h4.2" stroke="#222" stroke-width="1.2"/>
<path d="M468.80 268.00h4.2" stroke="#222" stroke-width="1.2"/>
<path d="M467.00 282.60h7.8M470.90 279.10v7" stroke="#1a1a1a" stroke-width="1.15"/>
<path d="M467.00 298.20h7.8M470.90 294.70v7" stroke="#1a1a1a" stroke-width="1.15"/>
<path d="M468.80 315.30h4.2" stroke="#222" stroke-width="1.2"/>
<path d="M543.30 266.50h7.8M547.20 263.00v7" stroke="#1a1a1a" stroke-width="1.15"/>
<path d="M545.10 284.10h4.2" stroke="#222" stroke-width="1.2"/>
<path d="M545.10 299.70h4.2" stroke="#222" stroke-width="1.2"/>
<path d="M543.30 313.80h7.8M547.20 310.30v7" stroke="#1a1a1a" stroke-width="1.15"/>
<path d="M621.40 268.00h4.2" stroke="#222" stroke-width="1.2"/>
<path d="M619.60 282.60h7.8M623.50 279.10v7" stroke="#1a1a1a" stroke-width="1.15"/>
<path d="M621.40 299.70h4.2" stroke="#222" stroke-width="1.2"/>
<path d="M619.60 313.80h7.8M623.50 310.30v7" stroke="#1a1a1a" stroke-width="1.15"/>
<line x1="82.4" y1="257.5" x2="311.4" y2="257.5" stroke="#999" stroke-width="1"/>
<line x1="392.3" y1="257.9" x2="621.2" y2="257.9" stroke="#999" stroke-width="1"/>
<text x="193.4" y="251.3" font-size="10" text-anchor="middle" fill="#1e1e1e">Hep3B cell</text>
<text x="507.9" y="252.0" font-size="10" text-anchor="middle" fill="#1e1e1e">Huh7 cell</text>
<text x="43.0" y="350.6" font-size="11" text-anchor="end" fill="#1e1e1e">Hoechst</text>
<text x="43.0" y="399.1" font-size="11" text-anchor="end" fill="#1e1e1e">EdU</text>
<text x="43.0" y="447.8" font-size="11" text-anchor="end" fill="#1e1e1e">Merge</text>
<defs><filter id="sm" x="0" y="0" width="1" height="1"><feGaussianBlur stdDeviation="0.35"/></filter></defs>
<defs><path id="p19" d="M115 33h0M101 42h0M117 46h0M143 32h0M104 63h0M49 37h0M109 19h0M106 82h0M55 47h0M46 79h0M130 84h0M53 89h0M135 39h0M74 79h0M143 52h0M139 34h0M118 11h0M100 81h0M107 21h0M98 25h0M72 48h0M9 83h0M83 47h0M121 15h0M89 26h0M55 30h0M118 26h0M43 57h0M75 56h0M48 20h0M99 42h0M111 47h0M11 81h0M14 7h0M69 62h0M34 28h0M130 7h0M127 17h0M32 85h0M36 22h0M40 55h0M13 5h0M79 20h0M60 31h0M111 55h0M107 62h0M93 67h0M28 66h0M17 20h0M52 32h0M19 32h0M97 48h0M2 26h0M107 90h0M16 60h0M25 62h0M14 70h0M122 33h0M25 24h0M93 61h0M102 56h0M56 81h0M3 75h0M81 27h0M112 53h0M41 74h0M113 78h0M131 75h0M45 79h0M86 72h0M38 79h0M64 36h0M13 62h0M78 16h0M104 53h0M12 22h0M21 49h0M101 14h0M13 13h0M125 31h0M15 74h0M71 8h0M26 32h0M98 31h0M45 58h0M104 43h0M25 30h0M76 23h0M23 44h0M53 17h0M96 20h0M58 31h0M84 67h0M64 77h0M115 33h0M14 16h0M19 18h0M5 39h0M84 70h0M95 61h0M65 34h0M5 42h0M48 53h0M110 14h0M53 41h0M120 23h0M112 18h0M113 7h0M10 25h0M111 10h0M79 25h0M36 5h0M85 11h0M140 8h0M34 14h0M19 17h0M99 7h0M89 77h0M133 71h0M38 26h0M112 57h0M27 74h0M27 18h0M50 67h0M92 76h0M46 80h0M119 6h0M85 35h0M26 28h0M42 77h0M73 23h0M62 22h0M67 40h0M76 44h0M29 89h0M137 39h0M126 6h0M126 58h0M8 90h0M98 90h0M135 3h0M80 78h0M72 31h0M140 55h0M73 7h0M114 71h0M133 76h0M64 58h0M127 83h0M120 18h0M122 53h0M60 34h0M104 59h0M146 86h0M116 68h0M11 23h0M121 5h0M102 7h0M123 5h0M62 17h0M120 23h0M90 19h0M20 45h0M84 91h0M127 28h0M110 49h0M13 36h0M28 47h0M142 43h0M125 53h0M99 15h0M128 79h0M111 76h0M109 12h0M93 62h0M9 88h0M144 41h0M116 80h0M29 87h0M140 58h0M115 66h0M110 71h0M118 69h0M69 54h0M117 49h0M34 17h0M90 90h0M67 71h0M10 46h0M123 82h0M66 44h0M70 71h0M80 30h0M49 41h0M110 30h0M38 78h0M30 77h0M51 7h0M116 33h0M138 41h0M103 20h0M31 14h0M139 39h0M123 2h0M94 91h0M26 78h0M56 58h0M78 60h0M117 70h0M66 12h0M12 59h0M85 56h0M92 55h0M65 5h0M138 12h0M72 79h0M18 81h0M111 50h0M29 71h0M141 62h0M128 16h0M87 56h0M114 89h0M87 32h0M89 86h0M109 46h0M121 29h0M109 72h0M139 91h0M34 76h0M111 45h0M113 42h0M119 76h0M24 71h0M9 79h0M112 75h0M31 15h0M128 6h0M106 75h0M21 33h0M7 88h0M15 11h0M47 51h0M76 45h0M67 62h0M18 88h0M16 11h0M60 59h0M79 88h0M82 17h0M13 83h0M24 74h0M30 55h0M92 28h0M24 76h0M8 74h0M80 66h0M140 45h0M66 85h0M11 61h0M23 30h0M105 12h0M22 9h0M17 77h0M22 19h0M3 8h0M143 35h0M137 24h0M40 6h0M116 67h0M137 28h0M86 29h0M88 67h0M141 18h0M113 62h0M95 25h0M20 78h0M69 66h0M147 36h0M67 55h0M11 88h0M7 91h0M115 54h0M137 49h0M14 80h0M79 47h0M140 50h0M106 17h0M85 8h0M122 20h0M114 91h0M34 70h0M80 74h0M101 41h0M111 63h0M78 22h0M101 67h0M131 9h0M103 12h0M16 85h0M31 52h0M127 16h0M41 4h0M127 60h0M85 75h0M143 78h0M66 4h0M119 9h0M86 29h0M79 85h0M143 26h0M81 67h0M37 55h0M65 72h0M104 45h0M67 15h0M126 64h0M15 38h0M90 84h0M136 36h0M16 34h0M113 47h0M20 55h0M115 51h0M77 40h0M48 61h0M141 34h0M79 73h0M146 83h0M130 10h0M56 82h0M93 82h0M23 70h0M63 20h0M43 57h0M83 91h0M95 27h0M70 55h0M30 63h0M32 80h0M20 17h0M138 29h0M112 21h0M82 81h0M77 14h0M143 32h0M30 32h0M132 18h0M110 63h0M17 86h0M77 39h0M136 14h0M98 73h0M3 40h0M91 8h0M10 53h0M38 87h0M39 4h0M72 72h0M69 72h0M135 86h0M130 7h0M68 42h0M70 20h0M122 43h0M92 14h0M57 70h0M114 71h0M12 44h0M90 67h0M90 13h0M14 87h0M46 85h0M70 32h0M105 51h0M19 24h0M137 87h0M130 89h0M37 29h0M83 74h0M106 14h0M139 25h0M8 51h0M128 23h0M105 66h0M19 20h0M141 22h0M142 40h0M143 23h0M24 80h0M20 39h0M32 40h0M51 9h0M98 8h0M84 40h0M86 19h0M141 49h0M120 91h0M19 13h0M41 41h0M64 77h0M74 15h0M82 64h0M41 80h0M122 85h0M144 30h0M113 45h0M14 88h0M72 37h0M100 52h0M40 26h0M87 73h0M79 27h0M132 79h0M105 77h0M108 77h0M36 3h0M142 25h0M81 85h0M125 74h0M21 70h0M86 22h0M110 56h0M27 9h0M116 20h0M91 70h0M97 68h0M22 73h0M42 90h0M86 89h0M85 83h0M28 74h0M63 66h0M94 87h0M103 25h0M39 42h0M68 37h0M15 43h0M26 32h0M144 33h0M80 61h0M39 60h0M13 57h0M138 14h0M45 81h0M58 4h0M71 21h0M60 84h0M61 28h0M29 74h0M18 6h0M20 22h0M131 86h0M124 37h0M108 75h0M18 22h0M45 17h0M71 22h0M112 58h0M121 20h0M23 20h0M25 66h0M95 84h0M98 38h0M105 10h0M35 47h0M57 10h0M127 10h0M84 37h0M125 52h0M96 91h0M31 36h0M115 19h0M82 34h0M95 13h0M37 66h0M18 79h0M113 82h0M49 34h0M17 40h0M32 25h0M50 82h0M29 24h0M121 85h0M45 65h0M114 63h0M147 52h0M102 53h0M58 40h0M146 22h0M20 12h0M28 30h0M89 4h0M37 77h0M98 14h0M84 71h0M61 4h0M137 35h0M138 27h0M79 54h0M43 24h0M128 88h0M79 54h0M141 43h0M38 13h0M106 4h0M133 35h0M62 46h0M103 74h0M76 30h0M25 72h0M32 15h0M112 85h0M109 22h0M87 27h0M142 6h0M60 85h0M111 61h0M94 25h0M107 40h0M145 86h0M105 21h0M109 56h0M54 82h0M15 82h0M11 28h0M23 25h0M132 31h0M105 61h0M120 19h0M55 29h0M45 17h0M94 53h0M38 71h0M80 68h0M35 42h0M68 24h0M19 61h0M16 53h0M23 45h0M124 18h0M35 86h0M135 87h0M46 9h0M104 26h0M103 75h0M116 89h0M57 32h0M120 72h0M137 42h0M78 60h0M86 17h0M129 8h0M76 89h0M43 56h0M71 21h0M127 3h0M33 12h0M10 11h0M98 33h0M144 84h0M138 51h0M69 61h0M83 65h0M76 36h0M132 8h0M20 51h0M6 86h0M65 24h0M138 71h0M83 77h0M73 82h0M51 71h0M108 52h0M67 5h0M71 19h0M50 29h0M15 70h0M34 63h0M41 30h0M11 6h0M124 64h0M105 60h0M107 67h0M124 41h0M63 63h0M61 56h0M14 53h0M116 24h0M48 91h0M135 39h0M135 28h0M38 80h0M13 8h0M3 55h0M96 34h0M77 66h0M117 15h0M81 66h0M44 21h0M34 5h0M113 19h0M132 7h0M79 55h0M103 67h0M136 62h0M36 15h0M30 83h0M108 30h0M119 51h0M32 62h0M36 17h0M146 56h0M43 50h0M120 57h0M69 5h0M72 28h0M107 10h0M107 61h0M74 76h0M44 46h0M25 39h0M5 61h0M27 26h0M131 11h0M86 20h0M22 19h0M29 77h0M78 41h0M80 32h0M7 50h0M114 12h0M139 46h0M89 80h0M78 31h0M28 35h0M38 72h0M99 28h0M65 28h0M28 63h0M7 19h0M38 62h0M75 64h0M74 68h0M19 86h0M40 28h0M133 21h0M92 75h0M19 17h0M123 43h0M144 36h0M37 7h0M40 26h0M16 9h0M25 35h0M8 85h0M110 55h0M119 48h0M52 58h0M30 77h0M47 64h0M58 21h0M34 24h0M24 20h0M119 51h0M3 58h0M38 58h0M132 11h0M43 46h0M42 55h0M120 50h0M32 81h0M96 83h0M122 70h0M120 22h0M121 16h0M76 34h0M68 60h0M116 89h0M39 26h0M83 58h0M97 71h0M27 51h0M79 19h0M105 41h0M85 68h0M123 51h0M95 64h0M18 22h0M47 76h0M72 36h0M111 46h0M112 53h0M141 31h0M117 55h0M29 13h0M31 40h0M53 46h0M16 39h0M88 16h0M85 83h0M43 72h0M11 11h0M48 73h0M26 45h0M107 13h0M68 51h0M76 29h0M76 65h0M111 49h0M40 54h0M16 90h0M55 72h0M10 80h0M22 72h0M118 73h0M123 4h0M130 17h0M66 20h0M125 40h0M91 15h0M30 85h0M143 19h0M139 32h0M128 9h0M122 81h0M107 66h0M94 42h0M24 28h0M91 15h0M87 17h0M100 13h0M72 4h0M98 91h0M100 3h0M7 46h0M141 6h0M69 30h0M140 35h0M48 70h0M98 73h0M88 86h0M13 20h0M89 90h0M63 7h0M101 56h0M93 90h0M88 26h0M71 26h0M96 90h0M69 63h0M89 15h0M96 16h0M39 68h0M28 80h0M76 54h0M114 43h0M111 58h0M75 74h0M147 48h0M98 11h0M114 75h0"/><path id="p20" d="M133 77h0M38 13h0M130 9h0M113 66h0M9 24h0M28 81h0M65 18h0M144 43h0M64 58h0M80 88h0M39 78h0M113 52h0M118 17h0M32 14h0M83 83h0M140 33h0M12 13h0M23 72h0M103 21h0M83 64h0M4 55h0M136 28h0M88 31h0M37 6h0M120 91h0M17 85h0M129 85h0M13 81h0M130 78h0M135 40h0M117 11h0M81 85h0M40 90h0M29 77h0M98 90h0M21 69h0M126 9h0M65 78h0M119 9h0M113 52h0M37 6h0M122 18h0M19 6h0M101 74h0M139 52h0M67 72h0M38 5h0M84 48h0M72 22h0M111 58h0M65 4h0M90 82h0M117 22h0M6 86h0M87 91h0M128 5h0M61 56h0M38 66h0M12 30h0M95 15h0M15 74h0M135 39h0M3 74h0M121 56h0M15 44h0M38 62h0M14 69h0M86 16h0M132 10h0M134 4h0M93 53h0M52 59h0M80 74h0M114 58h0M86 35h0M86 9h0M32 16h0M112 49h0M41 80h0M116 33h0M122 51h0M126 58h0M67 15h0M40 4h0M81 34h0M43 3h0M123 83h0M130 7h0M115 67h0M19 51h0M90 16h0M46 51h0M76 41h0M140 31h0M117 20h0M19 82h0M68 53h0M85 24h0M52 84h0M78 53h0M48 83h0M83 37h0M39 79h0M110 49h0M111 58h0M119 17h0M126 65h0M126 10h0M74 35h0M39 42h0M113 42h0M119 10h0M20 33h0M55 79h0M82 57h0M75 35h0M53 10h0M80 79h0M83 36h0M111 56h0M96 91h0M71 69h0M83 38h0M66 44h0M124 17h0M6 51h0M58 33h0M143 50h0M93 61h0M125 57h0M25 76h0M118 54h0M44 76h0M48 32h0M86 17h0M131 85h0M68 23h0M108 45h0M75 75h0M64 74h0M69 23h0M137 92h0M85 68h0M22 21h0M80 13h0M124 82h0M77 34h0M69 33h0M7 44h0M56 70h0M66 5h0M83 74h0M133 8h0M79 32h0M32 42h0M37 65h0M147 56h0M87 35h0M2 60h0M83 47h0M19 86h0M64 77h0M126 60h0M38 5h0M89 28h0M121 69h0M66 86h0M98 27h0M104 74h0M102 25h0M15 78h0M23 24h0M137 63h0M15 11h0M68 20h0M97 82h0M90 70h0M34 14h0M74 14h0M104 4h0M119 21h0M78 31h0M140 31h0M135 5h0M77 66h0M65 3h0M135 87h0M20 26h0M73 22h0M63 65h0"/></defs>
<g transform="translate(44.6 323.9)">
<rect width="75" height="46.6" fill="#04041a"/><g filter="url(#sm)"><g transform="scale(0.5)">
<use href="#p19" stroke="#2030e8" stroke-width="2.8" stroke-linecap="round" stroke-opacity="0.56"/>
</g></g>
</g>
<g transform="translate(44.6 372.7)">
<rect width="75" height="46.6" fill="#020402"/><g filter="url(#sm)"><g transform="scale(0.5)">
<use href="#p20" stroke="#24aa28" stroke-width="2.6" stroke-linecap="round" stroke-opacity="0.75"/>
</g></g>
</g>
<g transform="translate(44.6 421.0)">
<rect width="75" height="46.6" fill="#04041a"/><g filter="url(#sm)"><g transform="scale(0.5)">
<use href="#p19" stroke="#2030e8" stroke-width="2.8" stroke-linecap="round" stroke-opacity="0.56"/>
<use href="#p20" stroke="#30c0b8" stroke-width="2.4" stroke-linecap="round" stroke-opacity="0.65"/>
</g></g>
<rect x="2.8" y="42.6" width="8" height="1.2" fill="#e02020"/>
</g>
<defs><path id="p21" d="M147 68h0M99 26h0M45 58h0M27 72h0M71 33h0M43 60h0M74 28h0M109 15h0M42 61h0M96 49h0M107 32h0M107 35h0M77 66h0M22 49h0M58 40h0M127 32h0M70 29h0M10 28h0M17 79h0M52 3h0M37 23h0M89 46h0M115 28h0M108 36h0M40 70h0M39 76h0M136 19h0M106 70h0M65 30h0M36 85h0M36 36h0M100 69h0M103 73h0M114 80h0M89 78h0M26 61h0M36 81h0M4 17h0M104 27h0M126 77h0M22 41h0M16 70h0M81 81h0M16 83h0M117 80h0M52 42h0M30 7h0M105 62h0M115 29h0M133 78h0M22 52h0M53 36h0M26 66h0M118 17h0M46 58h0M146 5h0M139 59h0M120 33h0M115 54h0M132 64h0M86 28h0M139 89h0M136 66h0M17 41h0M24 69h0M76 82h0M95 78h0M20 55h0M137 57h0M31 18h0M143 78h0M55 66h0M129 79h0M55 38h0M3 43h0M4 38h0M100 34h0M6 87h0M85 89h0M118 44h0M42 21h0M100 43h0M122 66h0M76 38h0M38 55h0M51 15h0M49 59h0M27 37h0M113 72h0M102 29h0M42 33h0M4 27h0M87 9h0M16 76h0M107 32h0M86 25h0M47 60h0M25 9h0M107 21h0M135 78h0M25 27h0M6 54h0M34 21h0M23 84h0M6 17h0M35 87h0M14 37h0M57 75h0M105 44h0M124 29h0M9 18h0M31 60h0M136 67h0M89 22h0M14 6h0M112 24h0M140 44h0M18 86h0M9 72h0M15 12h0M57 38h0M94 65h0M113 63h0M60 60h0M42 74h0M5 35h0M86 48h0M94 22h0M46 69h0M43 14h0M37 25h0M32 63h0M111 27h0M89 64h0M106 41h0M53 16h0M141 65h0M80 49h0M20 10h0M118 37h0M120 67h0M44 14h0M89 25h0M4 25h0M103 89h0M74 43h0M8 75h0M115 17h0M37 62h0M73 12h0M22 85h0M23 77h0M129 64h0M97 54h0M136 55h0M24 74h0M37 10h0M24 34h0M103 50h0M127 30h0M8 70h0M144 40h0M87 60h0M47 41h0M100 30h0M12 10h0M82 62h0M110 66h0M128 10h0M51 58h0M23 89h0M112 24h0M113 24h0M129 31h0M82 19h0M129 44h0M34 46h0M116 51h0M109 84h0M94 48h0M103 42h0M9 58h0M3 35h0M126 49h0M33 23h0M100 53h0M95 30h0M94 62h0M94 58h0M107 32h0M55 6h0M55 13h0M95 82h0M108 39h0M139 12h0M78 51h0M42 61h0M31 77h0M133 35h0M130 30h0M8 57h0M58 74h0M101 60h0M64 20h0M96 78h0M105 12h0M40 60h0M106 33h0M13 71h0M112 65h0M24 56h0M139 85h0M102 58h0M61 3h0M38 19h0M138 38h0M126 17h0M53 31h0M92 73h0M76 45h0M128 41h0M11 33h0M97 71h0M116 30h0M81 26h0M81 47h0M130 64h0M6 47h0M84 28h0M58 43h0M75 63h0M4 16h0M129 32h0M140 71h0M123 15h0M38 48h0M56 41h0M34 82h0M116 29h0M9 17h0M8 50h0M142 74h0M121 27h0M115 21h0M148 69h0M134 77h0M63 54h0M28 49h0M136 29h0M5 79h0M65 42h0M41 12h0M52 67h0M53 48h0M98 58h0M69 44h0M14 75h0M18 4h0M26 70h0M88 90h0M17 9h0M39 66h0M62 33h0M83 16h0M47 57h0M115 73h0M5 22h0M145 84h0M13 84h0M5 26h0M44 88h0M139 71h0M113 51h0M44 60h0M29 21h0M42 79h0M41 5h0M105 68h0M83 50h0M49 59h0M112 85h0M44 47h0M26 3h0M131 8h0M146 73h0M116 87h0M50 27h0M128 40h0M21 84h0M131 88h0M13 77h0M39 26h0M112 38h0M58 48h0M102 38h0M50 22h0M133 27h0M76 64h0M99 68h0M85 20h0M95 57h0M48 59h0M133 44h0M81 46h0M3 29h0M139 35h0M111 37h0M48 57h0M33 44h0M26 89h0M19 33h0M130 52h0M127 87h0M15 63h0M27 72h0M145 77h0M63 36h0M29 82h0M17 67h0M96 24h0M47 87h0M93 65h0M109 12h0M82 43h0M77 62h0M21 35h0M129 24h0M58 18h0M64 28h0M118 74h0M73 38h0M49 63h0M4 61h0M56 45h0M7 84h0M74 28h0M77 78h0M60 64h0M53 40h0M92 80h0M58 23h0M37 15h0M21 15h0M10 20h0M54 48h0M114 72h0M6 62h0M121 51h0M17 33h0M14 38h0M24 29h0M3 60h0M33 58h0M54 65h0M146 84h0M73 39h0M116 85h0M32 58h0M7 63h0M65 71h0M82 45h0M134 43h0M120 13h0M123 63h0M42 77h0M64 90h0M95 57h0M80 44h0M75 78h0M15 88h0M30 28h0M79 73h0M67 54h0M83 59h0M135 72h0M106 9h0M128 66h0M88 20h0M89 11h0M144 79h0M70 14h0M85 47h0M4 33h0M69 42h0M55 51h0M68 46h0M130 76h0M44 23h0M53 68h0M79 76h0M121 36h0M143 83h0M26 80h0M79 59h0M103 26h0M22 30h0M113 5h0M56 23h0M96 75h0M66 63h0M23 28h0M20 72h0M118 77h0M117 44h0M141 82h0M134 37h0M137 36h0M3 55h0M52 7h0M49 4h0M19 28h0M99 64h0M93 64h0M112 31h0M39 8h0M118 23h0M111 36h0M143 50h0M138 10h0M6 78h0M28 34h0M110 21h0M126 5h0M102 66h0M33 30h0M26 50h0M97 63h0M114 70h0M13 75h0M48 60h0M7 17h0M106 22h0M8 7h0M125 47h0M55 87h0M96 63h0M30 66h0M38 8h0M113 12h0M56 84h0M134 6h0M121 67h0M120 78h0M11 31h0M47 5h0M35 27h0M50 85h0M121 33h0M131 24h0M41 56h0M5 21h0M22 4h0M73 91h0M21 79h0M87 17h0M3 7h0M124 38h0M6 56h0M145 50h0M140 36h0M79 66h0M127 8h0M42 59h0M138 40h0M13 34h0M96 80h0M24 54h0M132 52h0M102 22h0M145 24h0M125 33h0M72 16h0M14 57h0M29 79h0M104 16h0M45 61h0M132 38h0M46 85h0M78 41h0M42 5h0M6 89h0M120 23h0M121 13h0M51 67h0M141 61h0M63 64h0M128 11h0M130 36h0M85 39h0M55 49h0M103 28h0M4 33h0M49 56h0M41 54h0M18 25h0M43 50h0M63 46h0M49 59h0M52 74h0M136 44h0M19 18h0M53 53h0M93 18h0M42 66h0M54 71h0M134 40h0M130 37h0M117 19h0M129 54h0M6 54h0M133 36h0M94 31h0M53 80h0M109 23h0M115 61h0M56 66h0M24 83h0M128 2h0M60 58h0M14 51h0M9 50h0M91 57h0M59 89h0M114 73h0M65 55h0M89 67h0M42 19h0M120 3h0M126 42h0M102 34h0M43 71h0M28 54h0M78 37h0M30 84h0M129 6h0M9 28h0M110 75h0M60 38h0M131 15h0M93 77h0M5 40h0M52 81h0M93 61h0M61 63h0M118 69h0M58 78h0M107 8h0M86 15h0M102 46h0M29 7h0M103 76h0M67 56h0M77 86h0M137 51h0M123 23h0M57 14h0M75 79h0M4 42h0M116 67h0M14 76h0M41 69h0M92 53h0M132 84h0M141 81h0M10 47h0M44 31h0M16 54h0M24 37h0M5 59h0M107 59h0M34 42h0M58 61h0M94 86h0M94 62h0M42 29h0M44 11h0M79 67h0M32 3h0M135 37h0M132 35h0M87 61h0M58 47h0M38 19h0M114 35h0M103 17h0M19 88h0M16 84h0M137 33h0M55 31h0M10 40h0M14 54h0M39 53h0M59 40h0M18 24h0M128 50h0M100 39h0M146 87h0M22 44h0M63 38h0M89 55h0M67 54h0M43 59h0M65 19h0M22 80h0M12 20h0M43 61h0M72 67h0M30 85h0M8 74h0M64 2h0M103 67h0M55 30h0M123 17h0M92 34h0M47 78h0M133 49h0M7 39h0M64 65h0M56 57h0M15 83h0M5 82h0M30 89h0M54 28h0M132 11h0M109 48h0M92 84h0M44 73h0M79 48h0M50 64h0M132 40h0M39 73h0M44 70h0M86 31h0M129 67h0M13 32h0M20 77h0M9 6h0M26 66h0M134 38h0M140 63h0M17 51h0M112 47h0M122 15h0M117 42h0M73 39h0M92 68h0M56 40h0M39 69h0M122 41h0M25 90h0M99 61h0M29 83h0M17 67h0M108 64h0M11 30h0M104 85h0M108 83h0M6 12h0M16 54h0M11 5h0M5 54h0M52 58h0M53 88h0M109 80h0M131 61h0M94 55h0M139 37h0M68 31h0M95 13h0M100 40h0M14 57h0M77 46h0M121 13h0M123 84h0M40 64h0M57 21h0M97 72h0M92 66h0M40 44h0M25 81h0M10 13h0M19 28h0M58 14h0M66 68h0M19 54h0M21 27h0M111 84h0M104 65h0M129 35h0M77 62h0M104 82h0M77 45h0M36 10h0M76 73h0M120 59h0M71 63h0M2 67h0M84 83h0M17 20h0M4 65h0M107 64h0M128 17h0M56 57h0M47 90h0M50 43h0M116 15h0M37 80h0M31 41h0M51 88h0M102 33h0M103 46h0M101 67h0M25 44h0M35 34h0M61 50h0M134 38h0M6 10h0M46 66h0M98 65h0M13 56h0M133 59h0M16 64h0M24 6h0M79 68h0M58 91h0M86 62h0M82 20h0M27 82h0M80 64h0M111 61h0M90 37h0M72 25h0M56 35h0M54 90h0M95 58h0M53 29h0M113 8h0M5 18h0M28 61h0M123 18h0M45 20h0M6 57h0M133 78h0M123 80h0M31 10h0M19 65h0M85 24h0M95 61h0M42 55h0M10 54h0M95 63h0M129 85h0M85 17h0M119 55h0M4 57h0M81 56h0M15 62h0M131 77h0M74 73h0M42 71h0M80 69h0M59 27h0M58 24h0"/><path id="p22" d="M6 57h0M3 80h0M5 81h0M81 46h0M65 62h0M124 39h0M76 76h0M27 50h0M53 41h0M122 17h0M51 43h0M54 87h0M68 55h0M53 41h0M143 50h0M36 47h0M114 37h0M137 51h0M29 82h0M19 20h0M106 31h0M139 45h0M70 43h0M49 23h0M13 57h0M35 87h0M127 25h0M108 40h0M106 69h0M80 70h0M113 11h0M113 62h0M57 19h0M31 41h0M4 34h0M43 58h0M107 37h0M23 27h0M58 48h0M86 24h0M109 10h0M117 41h0M48 88h0M10 46h0M91 80h0M143 49h0M85 31h0M51 31h0M130 34h0M119 16h0M94 17h0M86 48h0M89 36h0M104 43h0M14 20h0M57 22h0M102 38h0M14 74h0M13 21h0M41 58h0M58 66h0M76 44h0M15 54h0M84 48h0M7 56h0M115 53h0M70 43h0M146 73h0M137 51h0M109 84h0M18 9h0M51 22h0M95 57h0M20 64h0M134 36h0M52 82h0M133 78h0M29 42h0M118 44h0M131 43h0M86 15h0M139 63h0M59 42h0M7 12h0M20 29h0M63 2h0M44 88h0M14 77h0M14 12h0M146 5h0M143 49h0M87 23h0M91 33h0M93 35h0M132 40h0M48 88h0M125 16h0M59 41h0M55 88h0M109 21h0M133 35h0M79 69h0M37 62h0M21 49h0M111 36h0M138 42h0M130 34h0M84 22h0M128 50h0M42 22h0M101 40h0M94 67h0M110 36h0M35 32h0M5 24h0M68 31h0M127 5h0M35 27h0M77 66h0M74 39h0"/></defs>
<g transform="translate(121.0 323.9)">
<rect width="75" height="46.6" fill="#04041a"/><g filter="url(#sm)"><g transform="scale(0.5)">
<use href="#p21" stroke="#2030e8" stroke-width="2.8" stroke-linecap="round" stroke-opacity="0.56"/>
</g></g>
</g>
<g transform="translate(121.0 372.7)">
<rect width="75" height="46.6" fill="#020402"/><g filter="url(#sm)"><g transform="scale(0.5)">
<use href="#p22" stroke="#24aa28" stroke-width="2.6" stroke-linecap="round" stroke-opacity="0.75"/>
</g></g>
</g>
<g transform="translate(121.0 421.0)">
<rect width="75" height="46.6" fill="#04041a"/><g filter="url(#sm)"><g transform="scale(0.5)">
<use href="#p21" stroke="#2030e8" stroke-width="2.8" stroke-linecap="round" stroke-opacity="0.56"/>
<use href="#p22" stroke="#30c0b8" stroke-width="2.4" stroke-linecap="round" stroke-opacity="0.65"/>
</g></g>
<rect x="2.8" y="42.6" width="8" height="1.2" fill="#e02020"/>
</g>
<defs><path id="p23" d="M87 27h0M119 67h0M83 20h0M39 45h0M90 41h0M128 57h0M103 11h0M136 59h0M97 33h0M51 44h0M142 23h0M127 64h0M100 40h0M10 63h0M91 36h0M141 29h0M96 38h0M98 23h0M92 53h0M141 64h0M71 52h0M14 79h0M11 85h0M13 67h0M140 40h0M37 55h0M136 66h0M87 17h0M120 2h0M8 23h0M142 51h0M101 9h0M62 47h0M33 60h0M49 76h0M91 45h0M141 31h0M30 55h0M13 47h0M6 89h0M71 70h0M30 51h0M134 26h0M115 14h0M116 73h0M55 88h0M129 31h0M50 15h0M61 4h0M7 12h0M71 47h0M110 43h0M131 11h0M126 12h0M96 48h0M127 87h0M104 43h0M111 32h0M82 81h0M106 66h0M67 84h0M99 89h0M34 45h0M124 57h0M60 32h0M71 56h0M40 82h0M6 51h0M130 88h0M98 59h0M95 82h0M92 42h0M97 36h0M137 39h0M68 84h0M74 80h0M61 74h0M26 48h0M118 52h0M139 21h0M107 9h0M66 34h0M66 80h0M94 81h0M35 58h0M66 50h0M129 21h0M54 14h0M74 9h0M137 55h0M134 68h0M48 57h0M100 22h0M19 89h0M12 67h0M61 18h0M6 86h0M58 91h0M11 24h0M86 52h0M130 75h0M60 83h0M91 90h0M30 59h0M66 35h0M63 24h0M38 26h0M146 27h0M98 89h0M35 54h0M69 53h0M120 76h0M133 68h0M131 83h0M68 64h0M104 82h0M82 23h0M131 25h0M79 86h0M60 65h0M69 66h0M5 26h0M92 75h0M92 60h0M120 68h0M58 2h0M106 17h0M113 58h0M82 89h0M89 64h0M35 62h0M92 55h0M26 62h0M32 70h0M19 43h0M118 32h0M63 61h0M21 51h0M64 29h0M91 40h0M19 55h0M89 86h0M146 34h0M50 71h0M95 55h0M90 73h0M116 73h0M98 5h0M103 84h0M92 23h0M125 68h0M64 32h0M67 18h0M126 74h0M103 89h0M65 14h0M85 18h0M86 52h0M86 55h0M5 47h0M52 11h0M121 75h0M20 40h0M41 71h0M100 58h0M46 63h0M78 65h0M12 81h0M42 36h0M146 86h0M9 15h0M144 49h0M32 82h0M50 56h0M86 71h0M34 10h0M32 90h0M51 20h0M36 25h0M72 59h0M98 37h0M45 56h0M66 37h0M94 48h0M141 82h0M69 80h0M98 49h0M84 42h0M127 39h0M30 45h0M13 11h0M72 6h0M75 79h0M98 85h0M35 25h0M101 17h0M68 76h0M90 44h0M142 66h0M74 34h0M50 39h0M19 44h0M123 87h0M48 20h0M4 87h0M41 42h0M41 3h0M40 75h0M59 52h0M70 18h0M97 31h0M111 81h0M90 40h0M18 25h0M128 47h0M15 63h0M127 58h0M143 81h0M118 59h0M36 30h0M30 43h0M37 64h0M22 55h0M68 48h0M77 37h0M40 82h0M101 40h0M102 29h0M112 89h0M88 74h0M133 17h0M96 59h0M60 25h0M33 70h0M87 48h0M95 33h0M73 57h0M91 64h0M53 36h0M65 13h0M128 62h0M74 72h0M130 80h0M33 44h0M134 34h0M83 22h0M130 67h0M62 58h0M22 77h0M79 33h0M115 91h0M22 85h0M109 67h0M125 52h0M120 69h0M138 39h0M84 78h0M15 68h0M25 79h0M79 69h0M91 33h0M99 48h0M60 33h0M11 74h0M102 15h0M63 17h0M110 61h0M137 16h0M141 32h0M47 11h0M89 35h0M102 47h0M82 70h0M106 88h0M42 7h0M45 72h0M39 57h0M137 14h0M131 29h0M129 76h0M56 20h0M118 61h0M142 70h0M114 68h0M66 53h0M87 56h0M13 65h0M96 46h0M108 18h0M34 48h0M109 47h0M93 29h0M102 21h0M49 10h0M42 7h0M82 74h0M40 17h0M52 42h0M43 10h0M41 10h0M85 11h0M108 76h0M9 9h0M128 14h0M146 48h0M126 61h0M132 13h0M45 20h0M56 67h0M33 58h0M85 32h0M138 53h0M117 67h0M11 70h0M29 91h0M140 49h0M67 27h0M58 75h0M139 10h0M8 87h0M59 19h0M101 86h0M75 61h0M54 24h0M53 46h0M116 72h0M134 14h0M27 44h0M114 34h0M59 74h0M4 84h0M11 85h0M21 15h0M4 36h0M81 88h0M140 46h0M63 13h0M109 23h0M136 90h0M54 46h0M5 11h0M68 86h0M24 4h0M18 54h0M137 26h0M27 10h0M73 65h0M57 89h0M123 6h0M98 42h0M43 15h0M11 14h0M25 40h0M7 24h0M37 36h0M61 25h0M133 10h0M71 56h0M8 19h0M105 34h0M102 53h0M93 42h0M117 81h0M44 15h0M59 86h0M124 60h0M89 54h0M122 86h0M30 69h0M132 58h0M84 49h0M132 48h0M129 16h0M130 82h0M46 62h0M77 18h0M136 57h0M89 84h0M91 78h0M129 52h0M133 34h0M11 24h0M60 55h0M32 53h0M22 53h0M132 41h0M86 73h0M68 77h0M43 11h0M10 58h0M112 39h0M132 16h0M146 3h0M79 40h0M40 16h0M76 47h0M66 47h0M89 81h0M110 66h0M44 65h0M38 7h0M135 77h0M100 49h0M48 87h0M94 82h0M39 11h0M49 59h0M25 67h0M63 68h0M75 5h0M91 41h0M145 61h0M40 52h0M124 71h0M29 36h0M121 33h0M83 35h0M48 68h0M139 18h0M82 39h0M10 25h0M68 43h0M56 20h0M79 72h0M85 49h0M59 29h0M64 82h0M20 23h0M57 26h0M78 90h0M53 20h0M87 43h0M84 7h0M56 20h0M44 68h0M32 63h0M138 38h0M141 33h0M58 37h0M93 81h0M83 37h0M138 48h0M77 17h0M63 50h0M115 18h0M78 49h0M89 50h0M19 14h0M50 63h0M2 26h0M99 70h0M26 77h0M108 56h0M20 11h0M50 21h0M129 67h0M11 43h0M31 82h0M52 5h0M124 88h0M113 90h0M49 17h0M116 70h0M5 79h0M25 68h0M61 35h0M20 9h0M116 71h0M26 53h0M87 22h0M135 22h0M134 67h0M89 79h0M88 46h0M43 37h0M62 26h0M143 9h0M93 26h0M35 56h0M71 51h0M102 89h0M52 76h0M73 24h0M145 38h0M73 9h0M43 64h0M12 6h0M34 28h0M53 34h0M42 63h0M19 26h0M89 36h0M16 54h0M30 64h0M100 35h0M48 55h0M129 88h0M115 35h0M43 69h0M25 30h0M120 27h0M101 8h0M123 38h0M103 42h0M112 85h0M95 70h0M60 32h0M56 41h0M28 59h0M135 74h0M68 88h0M6 27h0M61 35h0M116 22h0M21 32h0M118 47h0M64 22h0M12 30h0M106 36h0M136 67h0M72 23h0M21 17h0M90 85h0M47 53h0M58 81h0M73 31h0M105 83h0M85 44h0M24 40h0M79 45h0M120 64h0M123 33h0M29 7h0M71 69h0M22 20h0M29 20h0M36 28h0M118 32h0M43 74h0M112 29h0M127 91h0M111 66h0M67 34h0M137 90h0M44 49h0M117 14h0M106 67h0M119 79h0M39 16h0M10 79h0M142 15h0M106 46h0M71 13h0M128 76h0M32 43h0M130 52h0M25 53h0M103 90h0M35 12h0M147 8h0M120 88h0M76 73h0M123 17h0M83 75h0M67 90h0M20 60h0M57 74h0M72 26h0M88 81h0M93 24h0M76 90h0M64 67h0M64 23h0M102 21h0M100 76h0M33 52h0M144 68h0M95 45h0M60 18h0M62 40h0M40 44h0M45 38h0M90 32h0M44 67h0M18 29h0M137 37h0M88 35h0M73 64h0M54 89h0M14 61h0M47 60h0M110 85h0M133 49h0M25 54h0M116 71h0M3 90h0M114 85h0M67 78h0M38 33h0M12 81h0M118 58h0M52 6h0M52 47h0M131 91h0M12 38h0M102 41h0M40 21h0M21 12h0M129 28h0M59 55h0M32 39h0M88 55h0M35 46h0M18 45h0M7 47h0M49 73h0M17 85h0M85 81h0M142 27h0M113 41h0M126 26h0M111 33h0M77 42h0M26 28h0M31 79h0M6 25h0M11 38h0M89 84h0M59 84h0M48 23h0M120 88h0M53 67h0M134 60h0M81 88h0M25 21h0M18 30h0M53 65h0M139 51h0M91 20h0M67 6h0M76 62h0M90 26h0M8 32h0M10 78h0M20 11h0M24 8h0M109 29h0M25 80h0M14 72h0M127 23h0M121 66h0M53 68h0M33 52h0M123 38h0M46 68h0M122 13h0M115 13h0M40 61h0M44 68h0M143 46h0M134 40h0M36 29h0M134 53h0M25 68h0M127 85h0M25 47h0M107 83h0M63 48h0M72 70h0M68 58h0M105 43h0M85 35h0M40 53h0M101 84h0M75 65h0M121 87h0M10 35h0M46 37h0M36 28h0M85 49h0M17 14h0M30 51h0M67 61h0M73 88h0M110 71h0M143 58h0M88 48h0M47 65h0M67 89h0M93 60h0M60 75h0M97 62h0M32 27h0M114 80h0M14 50h0M85 60h0M114 35h0M53 90h0M48 88h0M8 80h0M23 75h0M100 15h0M39 78h0M35 25h0M53 44h0M129 63h0M2 46h0M39 50h0M19 49h0M32 68h0M80 40h0M27 38h0M56 15h0M127 85h0M66 52h0M43 58h0M87 65h0M32 52h0M15 20h0M47 33h0M139 68h0M131 90h0M125 57h0M38 22h0M63 25h0M122 85h0M83 54h0M99 64h0M141 20h0M112 34h0M29 54h0M75 76h0M139 18h0M34 60h0M47 53h0M66 65h0M92 43h0M131 66h0M96 33h0M28 70h0M124 24h0M144 15h0M116 45h0M32 3h0M111 72h0M13 86h0M142 35h0M22 6h0M28 85h0M9 46h0M8 83h0M36 90h0M93 24h0M100 8h0M67 49h0M130 35h0M123 58h0M104 77h0M128 70h0M48 70h0M108 82h0M44 14h0M53 37h0M48 33h0M13 54h0M108 80h0M31 3h0M14 55h0M107 86h0M34 45h0M98 52h0M37 13h0M19 75h0M40 63h0M90 34h0M54 26h0M66 22h0M78 57h0M105 48h0M80 34h0M129 73h0M26 38h0M25 73h0M120 80h0M31 29h0M146 66h0M44 18h0M9 66h0M57 53h0M95 76h0M120 67h0M25 54h0M4 16h0M128 91h0M65 56h0M36 3h0M48 68h0M128 63h0M44 3h0M37 17h0M64 81h0M111 56h0M135 40h0M101 52h0M91 59h0M3 9h0M103 59h0M69 52h0M29 30h0M70 85h0M62 43h0M124 66h0M9 6h0M76 75h0M40 14h0M35 33h0M64 45h0M90 52h0M115 73h0"/><path id="p24" d="M6 22h0M130 52h0M88 54h0M99 53h0M89 49h0M117 58h0M67 83h0M119 76h0M119 68h0M25 79h0M40 14h0M52 37h0M78 17h0M137 72h0M125 11h0M19 30h0M30 52h0M73 8h0M77 56h0M34 60h0M89 40h0M105 33h0M84 48h0M92 85h0M136 67h0M111 59h0M8 18h0M71 52h0M146 66h0M19 56h0M81 87h0M40 50h0M142 69h0M94 75h0M94 55h0M61 54h0M26 4h0M5 79h0M109 31h0M32 53h0M122 87h0M49 60h0M147 64h0M46 36h0M123 84h0M66 18h0M79 68h0M105 34h0M122 59h0M66 34h0M84 12h0M18 16h0M101 40h0M88 73h0M133 69h0M98 33h0M53 67h0M40 82h0M49 53h0M32 53h0M24 53h0M39 77h0M48 17h0M73 64h0M31 40h0M10 42h0M84 41h0M140 11h0M105 77h0M12 7h0M98 60h0M143 33h0M14 61h0M38 16h0M141 24h0M35 55h0M31 51h0M75 77h0M59 83h0M30 54h0M101 8h0M46 62h0M124 66h0M41 57h0M49 35h0M64 82h0M48 69h0M85 44h0M140 67h0M11 85h0M90 57h0M57 37h0M47 52h0M35 9h0M91 25h0M31 2h0M89 54h0M30 62h0M103 28h0M129 46h0M29 64h0M13 75h0M121 12h0M102 43h0M66 91h0M30 31h0M29 30h0M130 82h0M133 17h0M102 43h0M47 37h0M145 48h0M143 66h0M22 22h0M131 52h0M53 88h0M40 83h0M98 38h0M29 50h0M36 26h0M52 34h0M101 28h0M24 68h0M111 32h0M123 34h0M145 49h0M59 90h0M42 64h0M14 67h0M11 46h0M144 8h0M88 48h0M143 59h0M28 53h0M71 85h0M129 76h0M118 88h0M107 86h0M85 12h0M100 9h0M126 85h0M65 54h0M74 65h0M43 19h0M46 61h0M63 82h0M136 69h0M22 10h0M66 63h0M64 22h0M91 36h0M107 84h0M61 33h0M131 84h0M69 11h0M64 82h0M89 84h0M20 25h0M97 49h0M62 17h0M87 82h0M62 12h0M87 17h0M108 67h0M27 75h0M65 49h0M12 81h0M61 35h0M11 12h0M34 46h0M112 35h0M35 8h0M84 61h0M30 70h0M68 85h0M7 87h0M43 48h0M136 38h0M69 48h0M65 51h0M96 48h0M131 14h0M63 29h0M142 67h0M141 28h0M128 17h0M116 72h0M130 75h0M44 10h0M125 26h0M18 50h0M65 24h0M19 56h0M50 56h0M40 52h0M100 60h0M93 49h0M40 76h0M21 31h0M82 81h0M129 60h0M56 18h0M11 36h0M18 10h0M6 80h0M131 69h0M140 50h0M140 41h0M44 69h0M136 68h0M133 52h0M36 51h0M87 57h0M102 14h0M78 71h0M21 77h0M136 60h0M139 65h0M128 15h0M38 64h0M20 43h0M100 40h0M43 70h0M109 60h0M92 60h0M106 68h0M78 64h0M87 43h0M6 24h0M33 46h0M139 21h0M70 53h0M67 91h0M66 51h0M141 49h0M64 82h0M48 69h0M34 46h0M140 20h0M77 71h0M134 16h0M45 66h0M135 52h0M5 51h0M8 33h0M33 58h0M110 67h0M13 66h0M98 61h0M92 50h0"/></defs>
<g transform="translate(198.0 323.9)">
<rect width="74.5" height="46.6" fill="#04041a"/><g filter="url(#sm)"><g transform="scale(0.5)">
<use href="#p23" stroke="#2030e8" stroke-width="2.8" stroke-linecap="round" stroke-opacity="0.56"/>
</g></g>
</g>
<g transform="translate(198.0 372.7)">
<rect width="74.5" height="46.6" fill="#020402"/><g filter="url(#sm)"><g transform="scale(0.5)">
<use href="#p24" stroke="#24aa28" stroke-width="2.6" stroke-linecap="round" stroke-opacity="0.75"/>
</g></g>
</g>
<g transform="translate(198.0 421.0)">
<rect width="74.5" height="46.6" fill="#04041a"/><g filter="url(#sm)"><g transform="scale(0.5)">
<use href="#p23" stroke="#2030e8" stroke-width="2.8" stroke-linecap="round" stroke-opacity="0.56"/>
<use href="#p24" stroke="#30c0b8" stroke-width="2.4" stroke-linecap="round" stroke-opacity="0.65"/>
</g></g>
<rect x="2.8" y="42.6" width="8" height="1.2" fill="#e02020"/>
</g>
<defs><path id="p25" d="M9 86h0M14 12h0M38 41h0M35 30h0M126 17h0M115 25h0M80 82h0M48 35h0M10 17h0M28 71h0M37 28h0M102 80h0M51 42h0M99 10h0M18 62h0M142 45h0M125 30h0M11 60h0M97 17h0M52 82h0M18 24h0M124 3h0M135 11h0M130 67h0M6 62h0M97 15h0M33 80h0M117 41h0M65 32h0M100 71h0M54 42h0M44 41h0M67 55h0M17 69h0M104 4h0M9 85h0M122 86h0M82 38h0M53 35h0M78 35h0M31 20h0M57 59h0M73 40h0M8 86h0M104 29h0M41 31h0M142 55h0M146 53h0M75 35h0M86 11h0M134 78h0M124 25h0M132 5h0M92 49h0M119 85h0M108 69h0M121 66h0M87 45h0M80 7h0M78 61h0M129 60h0M20 38h0M98 83h0M79 10h0M95 32h0M19 39h0M54 19h0M140 20h0M46 45h0M57 78h0M138 24h0M56 30h0M9 50h0M110 81h0M79 32h0M90 82h0M113 22h0M46 82h0M116 65h0M65 9h0M132 79h0M42 32h0M49 54h0M76 39h0M47 23h0M48 21h0M122 69h0M58 77h0M47 22h0M111 76h0M41 62h0M124 49h0M124 20h0M33 88h0M93 53h0M116 18h0M6 61h0M91 61h0M143 14h0M118 26h0M59 70h0M70 58h0M15 26h0M112 89h0M104 88h0M108 42h0M19 45h0M128 7h0M115 62h0M86 78h0M58 22h0M12 88h0M15 13h0M13 62h0M95 32h0M130 43h0M89 4h0M50 51h0M27 53h0M80 45h0M55 68h0M34 36h0M113 47h0M103 67h0M21 70h0M8 60h0M73 5h0M82 90h0M87 54h0M49 85h0M135 67h0M89 82h0M63 46h0M43 9h0M62 71h0M54 77h0M31 29h0M6 57h0M134 88h0M89 10h0M36 62h0M45 68h0M108 84h0M38 10h0M37 10h0M95 42h0M102 53h0M141 5h0M14 56h0M131 54h0M101 82h0M106 5h0M97 46h0M37 27h0M109 67h0M64 68h0M108 66h0M28 41h0M91 69h0M31 2h0M95 35h0M87 30h0M8 62h0M81 54h0M10 75h0M91 43h0M31 83h0M15 75h0M40 3h0M125 79h0M28 34h0M50 12h0M51 82h0M14 22h0M26 32h0M98 73h0M85 43h0M3 62h0M50 21h0M26 66h0M92 80h0M138 8h0M64 68h0M131 34h0M127 7h0M116 26h0M125 5h0M64 67h0M50 20h0M140 42h0M142 3h0M103 7h0M85 58h0M56 19h0M6 76h0M133 53h0M92 16h0M52 28h0M87 13h0M53 90h0M10 38h0M41 73h0M139 4h0M9 62h0M75 73h0M36 14h0M11 61h0M95 86h0M30 39h0M60 6h0M34 26h0M86 71h0M64 75h0M31 41h0M56 84h0M84 79h0M24 76h0M104 84h0M44 66h0M27 70h0M28 51h0M69 83h0M61 80h0M90 52h0M23 26h0M25 40h0M131 88h0M13 82h0M85 11h0M121 81h0M56 88h0M84 72h0M7 50h0M132 88h0M28 35h0M109 19h0M126 23h0M25 52h0M130 21h0M88 28h0M48 33h0M44 86h0M49 80h0M122 7h0M27 57h0M69 4h0M108 31h0M37 36h0M20 37h0M35 12h0M80 62h0M14 54h0M39 59h0M98 70h0M14 83h0M37 61h0M131 58h0M107 76h0M106 65h0M133 80h0M44 52h0M19 32h0M93 90h0M61 24h0M82 30h0M81 89h0M128 78h0M111 26h0M33 3h0M3 85h0M84 55h0M83 89h0M74 8h0M129 76h0M39 25h0M30 25h0M103 37h0M25 58h0M60 47h0M92 74h0M140 61h0M139 70h0M124 65h0M47 25h0M87 61h0M139 40h0M51 40h0M22 70h0M43 62h0M18 43h0M37 63h0M54 59h0M85 85h0M3 9h0M65 71h0M102 65h0M147 60h0M118 21h0M25 9h0M128 11h0M72 76h0M106 56h0M105 68h0M81 68h0M143 74h0M45 41h0M11 80h0M112 35h0M92 85h0M143 26h0M107 45h0M42 75h0M105 56h0M31 53h0M76 86h0M32 19h0M120 55h0M5 28h0M16 58h0M87 66h0M103 80h0M84 81h0M133 66h0M36 50h0M21 14h0M124 63h0M135 74h0M143 8h0M51 51h0M98 56h0M87 76h0M70 33h0M84 58h0M8 16h0M13 35h0M147 32h0M91 55h0M12 49h0M93 76h0M28 75h0M95 12h0M116 52h0M118 13h0M30 40h0M114 35h0M8 42h0M28 51h0M38 8h0M105 35h0M57 69h0M107 75h0M125 24h0M123 15h0M3 16h0M119 50h0M126 66h0M68 33h0M23 16h0M96 49h0M70 55h0M89 15h0M65 79h0M82 81h0M82 71h0M74 53h0M33 45h0M92 88h0M111 10h0M86 66h0M108 5h0M90 31h0M49 89h0M109 35h0M82 85h0M85 25h0M48 38h0M42 11h0M34 89h0M73 66h0M48 81h0M51 52h0M42 25h0M142 62h0M51 67h0M43 25h0M28 39h0M75 44h0M3 77h0M6 19h0M44 16h0M138 64h0M24 22h0M108 70h0M50 10h0M86 64h0M87 67h0M137 64h0M18 28h0M47 57h0M98 43h0M63 4h0M33 51h0M104 20h0M17 22h0M134 29h0M85 77h0M57 31h0M69 8h0M111 62h0M106 79h0M122 22h0M100 82h0M89 35h0M29 21h0M55 70h0M42 13h0M80 8h0M138 71h0M78 68h0M125 70h0M99 20h0M6 80h0M77 40h0M81 78h0M88 52h0M133 14h0M15 45h0M6 55h0M95 70h0M75 65h0M122 13h0M110 28h0M130 78h0M15 17h0M66 16h0M19 45h0M100 90h0M136 81h0M108 59h0M35 16h0M134 29h0M109 32h0M67 81h0M147 85h0M64 18h0M52 70h0M101 87h0M44 21h0M107 31h0M51 28h0M22 87h0M37 42h0M15 35h0M141 6h0M102 70h0M24 72h0M86 11h0M86 55h0M48 70h0M28 54h0M38 91h0M67 80h0M26 53h0M60 82h0M49 46h0M9 53h0M14 22h0M108 49h0M107 72h0M133 69h0M52 30h0M33 32h0M15 27h0M110 24h0M104 39h0M52 52h0M8 60h0M96 83h0M48 40h0M101 16h0M90 58h0M81 12h0M98 22h0M69 14h0M22 22h0M51 75h0M79 21h0M132 70h0M134 83h0M31 82h0M103 85h0M127 78h0M76 19h0M118 62h0M41 24h0M13 40h0M132 87h0M45 31h0M29 66h0M128 83h0M15 78h0M127 24h0M61 50h0M73 79h0M137 66h0M90 91h0M83 87h0M22 39h0M54 7h0M65 30h0M52 33h0M79 2h0M35 8h0M140 35h0M96 14h0M50 6h0M115 42h0M131 42h0M120 85h0M7 29h0M93 61h0M7 58h0M140 38h0M87 11h0M96 46h0M71 38h0M56 77h0M3 77h0M93 59h0M96 84h0M76 42h0M52 23h0M42 19h0M133 9h0M7 81h0M92 82h0M67 70h0M129 84h0M103 79h0M130 87h0M135 88h0M69 55h0M126 23h0M61 73h0M84 57h0M7 5h0M109 89h0M131 88h0M115 44h0M127 60h0M74 35h0M14 35h0M29 35h0M61 16h0M38 30h0M59 89h0M68 72h0M116 50h0M83 17h0M107 64h0M125 51h0M101 14h0M47 60h0M101 10h0M137 48h0M31 46h0M90 85h0M139 24h0M129 73h0M131 31h0M75 77h0M14 21h0M137 12h0M119 66h0M74 9h0M132 21h0M83 3h0M77 85h0M78 42h0M78 90h0M7 67h0M14 13h0M78 89h0M113 67h0M144 65h0M138 90h0M96 87h0M5 24h0M9 18h0M77 28h0M107 71h0M8 20h0M126 75h0M68 65h0M101 75h0M86 81h0M99 75h0M125 9h0M22 68h0M94 78h0M78 81h0M100 3h0M18 49h0M146 17h0M57 22h0M59 39h0M81 70h0M62 68h0M41 49h0M94 76h0M63 32h0M110 18h0M78 53h0M112 29h0M130 9h0M49 18h0M81 49h0M75 46h0M28 44h0M27 44h0M53 19h0M90 83h0M137 84h0M146 42h0M131 77h0M94 35h0M43 84h0M34 67h0M106 65h0M38 40h0M143 48h0M82 77h0M23 83h0M143 82h0M33 44h0M56 72h0M100 9h0M45 25h0M19 11h0M44 45h0M107 57h0M47 26h0M109 74h0M48 31h0M4 4h0M106 14h0M54 19h0M20 38h0M140 30h0M45 86h0M14 45h0M122 39h0M90 12h0M142 70h0M143 89h0M84 85h0M145 40h0M6 61h0M15 14h0M61 86h0M103 23h0M106 71h0M45 48h0M69 89h0M106 69h0M32 5h0M22 54h0M97 48h0M30 87h0M70 31h0M119 4h0M8 58h0M66 59h0M11 83h0M142 6h0M14 40h0M50 18h0M75 7h0M141 47h0M75 70h0M66 62h0M19 41h0M46 31h0M74 61h0M22 36h0M88 33h0M76 82h0M8 4h0M29 62h0M64 28h0M79 17h0M61 46h0M68 37h0M102 75h0M132 77h0M9 64h0M143 77h0M73 88h0M86 91h0M33 36h0M6 32h0M96 86h0M28 9h0M56 33h0M83 29h0M31 41h0M115 27h0M102 75h0M78 68h0M83 77h0M103 61h0M93 61h0M28 28h0M90 6h0M127 28h0M88 66h0M4 21h0M49 62h0M63 75h0M12 35h0M45 78h0M10 76h0M143 43h0M41 12h0M135 68h0M7 49h0M31 40h0M13 48h0M25 41h0M19 84h0M44 81h0M139 57h0M36 15h0M108 45h0M48 33h0M113 3h0M47 40h0M38 75h0M40 24h0M13 25h0"/><path id="p26" d="M121 13h0M136 62h0M42 50h0M107 60h0M88 66h0M50 68h0M49 53h0M7 82h0M122 66h0M97 87h0M13 54h0M120 5h0M75 46h0M16 22h0M12 82h0M43 45h0M50 62h0M103 67h0M125 76h0M106 69h0M85 84h0M63 18h0M106 65h0M136 29h0M97 16h0M84 17h0M44 78h0M96 47h0M83 11h0M74 5h0M115 35h0M74 87h0M110 28h0M103 21h0M51 75h0M60 72h0M143 90h0M14 83h0M106 66h0M102 16h0M104 3h0M46 24h0M132 85h0M106 69h0M45 31h0M5 54h0M117 61h0M28 51h0M64 29h0M30 40h0M9 76h0M51 40h0M138 5h0M98 16h0M136 63h0M83 27h0M108 60h0M42 12h0M37 27h0M56 83h0M129 84h0M86 12h0M109 88h0M138 32h0M103 75h0M59 4h0M53 35h0M12 22h0M8 58h0M119 67h0M55 76h0M83 86h0M64 46h0M130 68h0M70 5h0M103 74h0M89 90h0M143 66h0M97 86h0M51 51h0M124 24h0M85 11h0M48 33h0M77 28h0M128 83h0M81 79h0M47 42h0M109 30h0M7 61h0M52 60h0M31 50h0M132 53h0M109 29h0M21 72h0M134 21h0M108 88h0M19 39h0M143 55h0M8 52h0M44 84h0M7 61h0M51 19h0M97 47h0M143 77h0M14 35h0M44 14h0M42 11h0M84 11h0M56 59h0M114 41h0M27 42h0M27 55h0M9 61h0M74 7h0M86 71h0M15 76h0M8 67h0M28 43h0M46 67h0M141 4h0M139 41h0M143 8h0M107 31h0M70 54h0M61 32h0M147 52h0M81 39h0M48 32h0M36 7h0M40 74h0M102 81h0M9 62h0M25 42h0M7 65h0M114 41h0M10 17h0M100 74h0M14 21h0M9 85h0M31 53h0M49 31h0M54 42h0M102 81h0M81 81h0M29 41h0M97 86h0M98 55h0M79 32h0M94 33h0M19 38h0M111 24h0M33 37h0M73 8h0M108 73h0M90 53h0M142 88h0M116 24h0M81 90h0M103 88h0M84 29h0M132 6h0M16 70h0M26 39h0M128 57h0M11 62h0M143 77h0M28 62h0M7 50h0M82 13h0M137 84h0"/></defs>
<g transform="translate(274.4 323.9)">
<rect width="74.6" height="46.6" fill="#04041a"/><g filter="url(#sm)"><g transform="scale(0.5)">
<use href="#p25" stroke="#2030e8" stroke-width="2.8" stroke-linecap="round" stroke-opacity="0.56"/>
</g></g>
</g>
<g transform="translate(274.4 372.7)">
<rect width="74.6" height="46.6" fill="#020402"/><g filter="url(#sm)"><g transform="scale(0.5)">
<use href="#p26" stroke="#24aa28" stroke-width="2.6" stroke-linecap="round" stroke-opacity="0.75"/>
</g></g>
</g>
<g transform="translate(274.4 421.0)">
<rect width="74.6" height="46.6" fill="#04041a"/><g filter="url(#sm)"><g transform="scale(0.5)">
<use href="#p25" stroke="#2030e8" stroke-width="2.8" stroke-linecap="round" stroke-opacity="0.56"/>
<use href="#p26" stroke="#30c0b8" stroke-width="2.4" stroke-linecap="round" stroke-opacity="0.65"/>
</g></g>
<rect x="2.8" y="42.6" width="8" height="1.2" fill="#e02020"/>
</g>
<defs><path id="p27" d="M65 12h0M118 86h0M57 39h0M37 84h0M85 61h0M32 24h0M36 5h0M138 41h0M115 59h0M92 15h0M113 57h0M20 51h0M56 24h0M67 57h0M77 62h0M41 90h0M104 59h0M43 64h0M109 62h0M17 54h0M70 63h0M25 88h0M81 82h0M21 9h0M47 21h0M144 81h0M111 47h0M27 56h0M83 9h0M40 46h0M144 37h0M87 71h0M37 42h0M142 59h0M70 2h0M133 62h0M39 82h0M16 59h0M143 84h0M130 10h0M90 67h0M111 65h0M12 64h0M85 88h0M107 29h0M29 26h0M38 20h0M28 11h0M86 88h0M55 12h0M63 88h0M74 72h0M117 14h0M76 26h0M88 62h0M37 86h0M69 51h0M29 82h0M58 36h0M105 64h0M115 8h0M31 11h0M25 26h0M100 72h0M116 56h0M65 84h0M8 46h0M126 84h0M53 61h0M45 80h0M27 44h0M125 62h0M122 64h0M27 4h0M18 15h0M52 76h0M25 42h0M60 16h0M117 11h0M17 15h0M75 62h0M76 62h0M75 67h0M39 10h0M66 55h0M121 46h0M26 21h0M27 53h0M10 47h0M84 75h0M91 83h0M112 57h0M29 24h0M100 78h0M104 49h0M25 56h0M20 26h0M24 39h0M24 43h0M55 68h0M7 71h0M125 47h0M64 30h0M88 48h0M111 20h0M31 5h0M55 69h0M43 55h0M106 14h0M94 42h0M136 28h0M11 33h0M94 69h0M17 55h0M17 44h0M83 6h0M28 77h0M117 44h0M116 63h0M145 63h0M94 34h0M63 75h0M43 52h0M133 41h0M42 27h0M104 43h0M74 44h0M32 75h0M146 79h0M37 13h0M28 22h0M7 44h0M114 17h0M110 84h0M62 40h0M24 67h0M112 20h0M70 66h0M139 26h0M28 39h0M70 48h0M91 72h0M98 31h0M134 16h0M58 17h0M84 83h0M29 38h0M5 77h0M79 19h0M17 48h0M103 64h0M48 57h0M36 50h0M79 37h0M51 52h0M13 90h0M31 63h0M37 44h0M115 30h0M27 39h0M116 28h0M23 66h0M96 61h0M46 63h0M95 79h0M134 55h0M38 48h0M73 51h0M47 58h0M111 31h0M116 57h0M79 69h0M118 34h0M124 44h0M62 76h0M133 19h0M119 10h0M48 42h0M29 16h0M49 40h0M37 88h0M58 21h0M77 89h0M93 50h0M105 60h0M119 27h0M11 32h0M129 59h0M38 47h0M91 9h0M75 44h0M90 48h0M118 32h0M28 22h0M74 4h0M134 27h0M129 46h0M100 83h0M84 43h0M81 18h0M53 34h0M54 10h0M7 38h0M114 89h0M31 12h0M138 29h0M133 63h0M126 48h0M124 13h0M117 24h0M63 34h0M135 79h0M134 81h0M21 58h0M109 5h0M15 45h0M81 56h0M81 9h0M20 78h0M119 75h0M118 47h0M14 37h0M125 81h0M22 46h0M37 78h0M78 76h0M72 11h0M85 57h0M3 64h0M121 54h0M15 40h0M133 57h0M29 54h0M86 64h0M105 12h0M96 13h0M98 84h0M94 54h0M31 20h0M16 19h0M64 22h0M12 83h0M29 38h0M17 44h0M22 56h0M60 29h0M85 15h0M80 39h0M105 20h0M15 62h0M55 46h0M22 28h0M127 52h0M69 40h0M74 83h0M37 88h0M71 80h0M59 32h0M135 44h0M70 45h0M132 22h0M63 89h0M30 25h0M90 26h0M52 27h0M28 16h0M32 64h0M16 90h0M114 64h0M97 63h0M89 63h0M38 16h0M124 30h0M9 32h0M106 47h0M116 59h0M127 74h0M38 38h0M124 68h0M76 18h0M21 81h0M121 54h0M40 75h0M124 27h0M128 6h0M118 74h0M116 9h0M74 36h0M143 54h0M69 62h0M91 90h0M22 28h0M120 49h0M76 38h0M95 89h0M80 34h0M122 4h0M145 89h0M17 23h0M25 14h0M61 40h0M73 8h0M128 90h0M77 38h0M73 22h0M118 79h0M90 50h0M89 30h0M6 57h0M119 30h0M98 29h0M110 28h0M118 63h0M96 11h0M74 48h0M76 84h0M71 37h0M32 55h0M33 82h0M94 7h0M102 39h0M130 43h0M79 73h0M25 13h0M64 37h0M49 43h0M83 2h0M33 15h0M33 67h0M106 31h0M31 32h0M139 34h0M77 43h0M77 68h0M107 32h0M124 14h0M32 50h0M92 74h0M115 9h0M67 26h0M14 62h0M110 12h0M56 19h0M27 87h0M78 46h0M8 75h0M146 79h0M98 85h0M113 54h0M129 23h0M127 43h0M86 34h0M76 38h0M91 30h0M132 87h0M146 91h0M128 16h0M98 72h0M117 3h0M126 61h0M76 46h0M18 53h0M132 32h0M92 42h0M122 2h0M82 82h0M42 18h0M83 9h0M134 61h0M19 50h0M145 15h0M9 82h0M21 39h0M52 83h0M132 14h0M98 20h0M9 78h0M17 76h0M30 53h0M120 71h0M60 42h0M59 44h0M19 31h0M87 15h0M132 63h0M67 45h0M63 45h0M23 5h0M52 57h0M30 11h0M24 16h0M92 24h0M120 85h0M84 78h0M10 26h0M102 52h0M46 36h0M52 56h0M52 51h0M52 65h0M124 26h0M131 54h0M62 35h0M101 85h0M23 36h0M82 23h0M98 79h0M114 7h0M129 37h0M50 74h0M46 28h0M119 33h0M9 59h0M82 64h0M86 39h0M72 43h0M109 59h0M58 6h0M69 35h0M132 52h0M88 59h0M46 63h0M26 42h0M143 49h0M39 79h0M9 60h0M66 23h0M122 20h0M28 85h0M10 35h0M129 11h0M121 6h0M88 30h0M53 62h0M95 8h0M22 26h0M6 55h0M24 38h0M23 22h0M121 83h0M121 80h0M11 86h0M52 74h0M6 23h0M90 23h0M36 38h0M12 39h0M58 5h0M122 68h0M84 55h0M68 12h0M62 66h0M124 5h0M78 50h0M115 71h0M140 45h0M115 19h0M26 76h0M124 23h0M77 69h0M12 7h0M142 78h0M14 13h0M63 41h0M96 45h0M103 10h0M117 5h0M15 52h0M112 78h0M11 25h0M132 60h0M142 15h0M81 70h0M94 58h0M91 83h0M24 70h0M112 51h0M50 19h0M33 87h0M39 67h0M73 39h0M135 82h0M79 20h0M13 23h0M145 30h0M125 23h0M72 79h0M41 15h0M111 22h0M17 88h0M75 57h0M74 19h0M50 25h0M29 16h0M82 76h0M128 8h0M59 67h0M131 80h0M124 8h0M37 42h0M67 29h0M122 63h0M95 56h0M136 41h0M86 71h0M126 57h0M21 51h0M58 66h0M93 74h0M141 67h0M29 41h0M83 70h0M98 71h0M84 3h0M112 60h0M20 53h0M92 30h0M104 33h0M141 37h0M86 61h0M25 62h0M72 43h0M19 11h0M83 11h0M67 38h0M82 16h0M90 52h0M67 21h0M143 48h0M85 84h0M108 40h0M87 60h0M17 70h0M31 37h0M122 51h0M86 88h0M39 73h0M129 56h0M86 86h0M81 70h0M86 27h0M117 34h0M83 81h0M122 76h0M113 86h0M45 88h0M144 32h0M45 50h0M73 39h0M16 52h0M118 84h0M130 7h0M113 37h0M129 32h0M145 84h0M80 77h0M113 61h0M95 44h0M106 38h0M122 86h0M124 14h0M41 36h0M134 34h0M60 46h0M121 58h0M27 43h0M39 82h0M29 43h0M126 60h0M33 55h0M24 51h0M114 57h0M4 76h0M97 29h0M82 82h0M123 4h0M95 72h0M10 88h0M64 84h0M78 27h0M52 64h0M143 24h0M118 51h0M24 6h0M128 73h0M118 67h0M85 36h0M119 81h0M12 37h0M20 61h0M48 27h0M118 65h0M61 30h0M4 41h0M111 79h0M91 79h0M145 55h0M40 23h0M65 37h0M112 86h0M41 26h0M88 77h0M17 85h0M12 55h0M137 13h0M98 58h0M6 32h0M93 35h0M80 89h0M125 5h0M39 38h0M21 23h0M40 68h0M28 52h0M86 77h0M16 72h0M117 83h0M67 6h0M93 55h0M108 49h0M36 65h0M14 60h0M102 34h0M72 64h0M137 25h0M122 46h0M3 60h0M32 9h0M117 79h0M35 34h0M70 77h0M75 29h0M117 23h0M63 61h0M64 77h0M41 3h0M85 88h0M45 35h0M117 15h0M102 88h0M108 12h0M143 57h0M76 56h0M102 16h0M66 32h0M68 50h0M22 87h0M47 45h0M86 25h0M115 5h0M113 29h0M95 50h0M74 64h0M10 5h0M125 84h0M135 31h0M85 49h0M32 38h0M44 12h0M113 81h0M16 29h0M3 61h0M69 64h0M144 80h0M67 52h0M15 85h0M80 7h0M93 71h0M62 40h0M103 68h0M126 39h0M12 9h0M134 8h0M20 22h0M122 85h0M84 22h0M127 20h0M118 24h0M135 76h0M76 26h0M130 12h0M6 8h0M92 27h0M93 75h0M88 63h0M55 38h0M87 34h0M41 70h0M70 18h0M32 9h0M97 41h0M46 13h0M95 70h0M14 40h0M29 67h0M28 11h0M39 15h0M68 90h0M21 52h0M147 71h0M75 17h0M72 26h0M31 14h0M124 58h0M91 46h0M69 64h0M134 45h0M13 42h0M61 47h0M26 11h0M86 22h0M83 79h0M118 54h0M90 44h0M145 64h0M93 6h0M40 65h0M123 76h0M120 42h0M120 8h0M97 63h0M28 62h0M89 79h0M47 28h0M145 21h0M40 50h0M126 59h0M88 45h0M109 18h0M16 25h0M119 65h0M49 13h0M17 49h0M81 22h0M97 66h0M5 47h0M105 4h0M107 7h0M25 81h0M83 74h0M95 72h0M26 25h0M35 28h0M140 16h0M37 31h0M105 60h0M129 22h0M7 78h0M121 4h0M107 27h0M90 84h0M105 30h0M44 6h0M143 62h0M98 46h0M71 9h0M127 43h0M121 2h0M88 89h0M132 90h0M139 75h0M96 32h0M14 47h0M123 22h0M116 49h0M64 10h0M85 21h0M9 59h0M141 89h0M9 74h0M136 33h0M73 25h0M39 39h0M38 52h0M76 42h0M81 8h0M111 17h0M81 13h0M46 38h0M70 25h0M35 54h0M101 78h0M137 58h0M81 42h0M43 37h0M119 43h0M73 22h0M81 74h0M31 15h0M99 89h0M20 31h0M96 82h0M93 76h0M16 51h0M93 6h0M123 77h0M80 29h0M119 4h0M20 9h0M109 25h0M124 41h0M89 11h0M131 60h0M121 63h0M120 34h0M122 11h0M78 63h0M60 22h0M122 85h0M30 17h0M121 64h0M134 61h0M16 51h0M54 51h0M28 70h0M106 23h0M112 77h0M6 38h0M106 67h0M9 16h0M13 6h0M86 28h0M35 36h0M25 14h0M66 64h0M81 85h0M29 44h0M129 57h0M101 75h0M95 55h0M114 6h0M46 66h0M75 36h0M79 50h0M18 65h0M7 74h0M14 59h0M25 73h0M111 44h0M84 25h0M94 29h0M106 55h0M80 81h0M7 57h0M117 16h0M78 62h0M94 35h0M132 54h0M129 90h0M136 8h0M44 68h0M36 21h0M32 32h0M142 82h0M57 48h0M113 11h0M35 14h0M66 29h0M20 41h0M61 34h0"/><path id="p28" d="M45 14h0M14 23h0M72 44h0M68 27h0M38 44h0M78 76h0M31 37h0M143 44h0M95 54h0M12 23h0M64 22h0M46 49h0M28 62h0M73 45h0M136 41h0M132 58h0M28 64h0M120 65h0M61 40h0M134 46h0M129 7h0M41 3h0M20 23h0M63 75h0M102 17h0M19 44h0M142 83h0M144 82h0M18 44h0M84 9h0M97 47h0M139 27h0M112 21h0M79 76h0M128 17h0M65 22h0M29 25h0M10 82h0M67 11h0M131 91h0M79 85h0M107 18h0M117 35h0M21 22h0M15 46h0M125 57h0M8 44h0M53 46h0M29 27h0M84 26h0M75 45h0M118 26h0M81 9h0M122 52h0M9 35h0M6 79h0M83 8h0M122 11h0M69 12h0M144 15h0M94 77h0M39 50h0M82 54h0M62 45h0M123 3h0M36 28h0M28 16h0M77 36h0M95 59h0M144 91h0M84 75h0M108 56h0M112 65h0M23 88h0M138 33h0M55 71h0M85 43h0M82 71h0M84 88h0M77 67h0M84 82h0M94 69h0M85 61h0M29 55h0M63 40h0M22 23h0M88 61h0M27 37h0M36 87h0M55 73h0M29 15h0M111 80h0M136 77h0M131 20h0M60 39h0M123 3h0M61 41h0M64 63h0M53 10h0M140 37h0M9 75h0M118 78h0M62 40h0M121 4h0M65 42h0M11 12h0M135 13h0M117 28h0M135 57h0M22 48h0M78 63h0M84 78h0M8 78h0M129 14h0M146 81h0M78 70h0M139 82h0M119 83h0M11 79h0M112 6h0M120 29h0M41 35h0M39 52h0M105 5h0M87 63h0M44 45h0M46 62h0M118 65h0M117 34h0M141 15h0M134 55h0M39 68h0M78 61h0M86 30h0M61 40h0M65 30h0M8 82h0M81 7h0M71 62h0M28 52h0M39 74h0M39 65h0M113 7h0M105 33h0M112 20h0M47 89h0M146 21h0M15 58h0M90 10h0M36 84h0M121 56h0M146 64h0M72 63h0M98 59h0M89 76h0M108 14h0M92 30h0M66 5h0M104 50h0M105 47h0M34 28h0M115 27h0M59 6h0M86 86h0M69 77h0M52 57h0M35 44h0M66 55h0M8 71h0M120 49h0M31 38h0M143 81h0M105 31h0M80 9h0M16 53h0M92 30h0M82 11h0M83 82h0M126 22h0M79 72h0M56 69h0M30 22h0M104 65h0M81 69h0M23 3h0M93 42h0M144 63h0M9 59h0M3 62h0M49 12h0M66 52h0M102 18h0M137 12h0M54 61h0M144 85h0M115 13h0M28 25h0M91 81h0M102 16h0M68 64h0M138 31h0M68 25h0M10 46h0M68 35h0M33 9h0M134 8h0M89 80h0M10 63h0M15 62h0M36 87h0M11 8h0M147 71h0M20 51h0M7 71h0M30 69h0M52 50h0M82 7h0M78 63h0M129 33h0M75 29h0M80 7h0M68 19h0M45 65h0M121 50h0M86 27h0M95 87h0M69 24h0M121 65h0M24 36h0M17 24h0M25 7h0M27 38h0M74 22h0M44 77h0M146 80h0M26 14h0M8 75h0M91 90h0M90 79h0M32 49h0M71 81h0M87 15h0M116 59h0M137 28h0M103 63h0M109 5h0M75 67h0M37 89h0M16 43h0M122 87h0M84 6h0M82 65h0M125 57h0M88 89h0M114 53h0M42 27h0M30 4h0M127 44h0M85 14h0M122 86h0M49 43h0M108 14h0M102 59h0M90 65h0M65 56h0M142 45h0M84 44h0M126 60h0M105 68h0M145 31h0M18 48h0M22 31h0M30 42h0M73 51h0M12 24h0M68 25h0M22 25h0M144 57h0M101 72h0M113 85h0M61 74h0M132 52h0M28 37h0M16 48h0M116 3h0M17 88h0M133 80h0M68 12h0M38 88h0M98 31h0M80 72h0M85 85h0M80 12h0M37 13h0M31 45h0M91 81h0M127 17h0M134 64h0M30 14h0M125 60h0M111 47h0M29 55h0M23 40h0M133 57h0M123 4h0M16 45h0M51 28h0M131 33h0M28 56h0M16 50h0M20 23h0M26 81h0M125 70h0M4 78h0M133 31h0M118 9h0M95 32h0M94 7h0M93 36h0M40 72h0M91 51h0M84 20h0M82 14h0M20 10h0M115 7h0M141 89h0M22 48h0M85 83h0M111 78h0M145 63h0M32 76h0M125 22h0M121 65h0M67 56h0M39 40h0M5 59h0M29 16h0M113 60h0M146 80h0M129 22h0M91 43h0M60 17h0M57 39h0M83 86h0M82 15h0M50 56h0M112 13h0M6 38h0M79 51h0M133 57h0M39 68h0M90 9h0M59 43h0M45 5h0M24 13h0M81 76h0M106 21h0M23 41h0M122 4h0M81 90h0M106 2h0M38 87h0M66 65h0M78 27h0M74 63h0M31 52h0M84 87h0M31 24h0M141 66h0M70 62h0M74 50h0M34 15h0M115 29h0M33 36h0M24 69h0M116 14h0M95 69h0M73 37h0M82 28h0M136 40h0M78 43h0M144 63h0M126 84h0M75 67h0M78 63h0M80 83h0M129 29h0M59 6h0M125 85h0M51 64h0M15 71h0M144 84h0M85 57h0M46 45h0M131 10h0M115 88h0M29 83h0M93 75h0M119 32h0M80 16h0M99 78h0M33 65h0M69 60h0M106 60h0M110 12h0M37 43h0M17 52h0M84 89h0M134 82h0M9 48h0M126 81h0M107 2h0M63 48h0M48 58h0M47 63h0M69 65h0M131 15h0M27 39h0M133 26h0M120 81h0M18 31h0M121 47h0M31 17h0M13 52h0M96 12h0M101 78h0M92 29h0M58 67h0M124 81h0M66 29h0M66 37h0M130 6h0M26 26h0M23 22h0M120 54h0M124 15h0M20 10h0M110 18h0M100 89h0M4 63h0M102 16h0M81 26h0M96 83h0M9 74h0M82 77h0M112 82h0M118 47h0M38 14h0M98 28h0M117 65h0M47 14h0M11 57h0M63 78h0M8 37h0M105 3h0M96 11h0M16 53h0M123 48h0M105 65h0M119 33h0"/></defs>
<g transform="translate(355.2 323.9)">
<rect width="74.4" height="46.6" fill="#04041a"/><g filter="url(#sm)"><g transform="scale(0.5)">
<use href="#p27" stroke="#2030e8" stroke-width="2.8" stroke-linecap="round" stroke-opacity="0.56"/>
</g></g>
</g>
<g transform="translate(355.2 372.7)">
<rect width="74.4" height="46.6" fill="#020402"/><g filter="url(#sm)"><g transform="scale(0.5)">
<use href="#p28" stroke="#24aa28" stroke-width="2.6" stroke-linecap="round" stroke-opacity="0.75"/>
</g></g>
</g>
<g transform="translate(355.2 421.0)">
<rect width="74.4" height="46.6" fill="#04041a"/><g filter="url(#sm)"><g transform="scale(0.5)">
<use href="#p27" stroke="#2030e8" stroke-width="2.8" stroke-linecap="round" stroke-opacity="0.56"/>
<use href="#p28" stroke="#30c0b8" stroke-width="2.4" stroke-linecap="round" stroke-opacity="0.65"/>
</g></g>
<rect x="2.8" y="42.6" width="8" height="1.2" fill="#e02020"/>
</g>
<defs><path id="p29" d="M143 76h0M35 68h0M14 72h0M20 59h0M146 68h0M37 19h0M136 62h0M66 76h0M145 27h0M75 24h0M70 7h0M50 84h0M68 39h0M48 77h0M11 74h0M117 86h0M110 54h0M28 64h0M63 65h0M136 70h0M38 18h0M60 56h0M84 49h0M7 44h0M71 17h0M140 18h0M50 70h0M111 88h0M65 33h0M84 21h0M36 82h0M31 20h0M20 13h0M16 66h0M82 38h0M120 65h0M96 13h0M26 16h0M143 52h0M26 39h0M26 43h0M124 43h0M80 27h0M14 41h0M124 23h0M91 37h0M134 35h0M124 30h0M101 10h0M69 47h0M139 15h0M98 52h0M109 21h0M65 76h0M71 17h0M64 23h0M64 37h0M67 47h0M144 73h0M21 16h0M110 50h0M140 71h0M87 80h0M73 64h0M138 30h0M98 76h0M5 66h0M29 69h0M75 56h0M43 82h0M64 49h0M82 91h0M121 82h0M43 88h0M58 15h0M125 80h0M53 75h0M15 28h0M124 52h0M81 61h0M41 54h0M120 41h0M12 86h0M46 26h0M130 20h0M130 45h0M61 64h0M116 17h0M135 41h0M23 25h0M71 3h0M127 36h0M122 40h0M47 13h0M84 87h0M44 89h0M63 87h0M129 30h0M74 44h0M83 32h0M75 5h0M24 30h0M76 58h0M110 73h0M132 8h0M112 8h0M41 88h0M17 36h0M126 33h0M62 32h0M81 85h0M28 14h0M8 59h0M79 4h0M117 9h0M128 89h0M67 42h0M18 6h0M88 35h0M31 12h0M74 84h0M138 62h0M141 29h0M62 44h0M22 46h0M30 69h0M146 52h0M39 29h0M67 18h0M111 89h0M99 83h0M44 29h0M24 32h0M124 24h0M36 89h0M90 78h0M70 47h0M64 82h0M33 79h0M145 74h0M79 56h0M129 56h0M80 50h0M143 66h0M28 52h0M4 5h0M128 28h0M70 70h0M73 64h0M123 54h0M120 30h0M74 3h0M118 88h0M88 51h0M70 83h0M137 53h0M73 60h0M64 5h0M19 56h0M135 88h0M44 84h0M47 55h0M80 33h0M91 67h0M144 26h0M26 79h0M133 89h0M66 43h0M126 80h0M56 75h0M137 82h0M38 28h0M77 46h0M118 41h0M40 22h0M82 18h0M20 63h0M114 31h0M135 90h0M10 10h0M44 79h0M56 8h0M60 12h0M14 49h0M135 83h0M82 4h0M27 83h0M131 20h0M99 37h0M60 42h0M73 9h0M49 29h0M19 63h0M16 35h0M87 37h0M55 54h0M17 21h0M73 64h0M18 70h0M99 45h0M33 57h0M81 22h0M76 76h0M19 57h0M84 21h0M140 71h0M105 38h0M22 46h0M47 24h0M20 4h0M60 30h0M140 91h0M9 86h0M40 34h0M68 64h0M72 60h0M91 31h0M53 15h0M61 22h0M34 27h0M97 34h0M4 24h0M60 75h0M51 33h0M12 52h0M104 36h0M137 65h0M85 32h0M53 78h0M27 59h0M31 88h0M138 88h0M89 16h0M22 66h0M29 76h0M24 69h0M14 37h0M54 7h0M84 30h0M3 78h0M69 80h0M110 82h0M103 89h0M102 30h0M111 51h0M79 63h0M38 51h0M59 16h0M139 42h0M88 39h0M63 18h0M74 14h0M39 69h0M77 71h0M84 4h0M44 82h0M74 77h0M91 6h0M125 78h0M113 87h0M144 31h0M26 62h0M84 4h0M36 18h0M59 91h0M89 17h0M123 55h0M13 56h0M11 85h0M143 8h0M101 53h0M75 68h0M100 46h0M46 69h0M112 34h0M39 28h0M53 13h0M131 89h0M138 14h0M144 8h0M44 23h0M23 62h0M22 27h0M15 40h0M74 12h0M93 79h0M52 60h0M12 33h0M105 37h0M18 6h0M125 84h0M39 23h0M72 66h0M14 27h0M118 72h0M10 66h0M55 51h0M110 60h0M35 34h0M120 85h0M141 63h0M21 66h0M96 5h0M92 73h0M61 47h0M122 50h0M88 49h0M130 37h0M106 49h0M34 70h0M70 71h0M126 5h0M130 55h0M47 18h0M69 56h0M95 44h0M44 27h0M79 10h0M123 39h0M34 4h0M90 79h0M116 50h0M16 36h0M76 68h0M122 7h0M124 21h0M81 40h0M107 89h0M104 60h0M11 73h0M54 77h0M24 8h0M19 9h0M124 50h0M86 52h0M4 78h0M38 87h0M39 65h0M15 5h0M139 29h0M122 7h0M96 79h0M131 24h0M113 78h0M66 81h0M107 55h0M60 7h0M104 36h0M132 82h0M28 18h0M132 6h0M63 4h0M13 25h0M136 39h0M36 87h0M94 22h0M13 41h0M90 4h0M49 72h0M137 86h0M17 37h0M57 23h0M24 62h0M31 10h0M95 83h0M109 49h0M111 75h0M116 79h0M30 22h0M127 33h0M103 46h0M145 56h0M81 29h0M123 82h0M132 76h0M117 88h0M46 60h0M22 53h0M120 44h0M9 89h0M119 7h0M32 29h0M62 82h0M81 79h0M91 41h0M104 56h0M109 74h0M139 65h0M121 31h0M134 56h0M89 35h0M4 87h0M28 41h0M71 65h0M38 78h0M102 25h0M143 26h0M141 63h0M22 8h0M62 29h0M136 28h0M80 17h0M58 15h0M78 84h0M75 22h0M104 74h0M139 16h0M142 59h0M13 57h0M121 62h0M88 82h0M127 87h0M17 78h0M126 83h0M74 62h0M122 78h0M50 31h0M84 6h0M85 77h0M22 80h0M121 39h0M132 84h0M74 65h0M89 69h0M50 11h0M20 77h0M47 5h0M135 17h0M69 8h0M118 52h0M120 30h0M31 85h0M41 77h0M100 12h0M16 31h0M78 5h0M8 84h0M134 56h0M53 66h0M118 73h0M120 69h0M99 29h0M119 81h0M91 61h0M58 50h0M114 49h0M130 87h0M59 82h0M32 70h0M125 24h0M117 56h0M130 24h0M32 14h0M141 42h0M55 17h0M124 37h0M131 56h0M93 74h0M129 41h0M59 23h0M132 29h0M136 31h0M15 71h0M54 51h0M89 76h0M62 79h0M107 54h0M122 68h0M142 87h0M74 34h0M76 15h0M28 4h0M57 53h0M102 32h0M135 28h0M124 48h0M123 89h0M122 57h0M125 25h0M77 83h0M55 82h0M127 22h0M116 63h0M45 27h0M52 41h0M59 41h0M125 51h0M40 11h0M38 82h0M88 74h0M141 62h0M77 9h0M57 22h0M35 55h0M70 79h0M106 58h0M6 3h0M58 11h0M126 22h0M124 45h0M71 36h0M62 3h0M42 63h0M128 88h0M52 17h0M59 17h0M104 60h0M9 76h0M135 16h0M72 70h0M42 72h0M2 23h0M114 34h0M68 4h0M98 10h0M86 84h0M63 68h0M12 33h0M133 8h0M110 77h0M21 78h0M96 63h0M97 17h0M92 8h0M114 82h0M118 83h0M25 54h0M134 52h0M22 35h0M66 25h0M119 88h0M140 41h0M127 74h0M74 18h0M11 6h0M109 3h0M18 88h0M37 22h0M61 47h0M143 21h0M77 52h0M48 25h0M59 20h0M49 64h0M87 18h0M29 80h0M76 73h0M132 55h0M68 78h0M80 24h0M4 71h0M96 33h0M106 39h0M96 36h0M36 52h0M77 29h0M109 59h0M146 22h0M102 82h0M140 76h0M133 85h0M126 35h0M51 32h0M27 68h0M16 55h0M9 71h0M102 71h0M139 70h0M84 53h0M33 20h0M2 26h0M146 57h0M141 23h0M31 55h0M58 73h0M122 45h0M94 20h0M73 89h0M125 52h0M13 65h0M76 34h0M66 67h0M137 24h0M17 21h0M75 37h0M101 7h0M83 35h0M137 15h0M68 70h0M104 14h0M72 22h0M124 40h0M128 35h0M36 52h0M52 21h0M60 11h0M45 42h0M58 38h0M16 12h0M75 57h0M125 35h0M127 78h0M135 20h0M45 33h0M97 85h0M136 39h0M27 78h0M8 51h0M125 88h0M44 35h0M42 70h0M105 9h0M138 56h0M105 45h0M33 27h0M75 85h0M89 60h0M146 8h0M134 19h0M132 18h0M16 36h0M23 64h0M108 17h0M132 69h0M26 14h0M93 37h0M49 61h0M9 9h0M23 56h0M132 30h0M59 68h0M6 68h0M105 71h0M55 78h0M126 86h0M47 14h0M136 80h0M95 50h0M98 70h0M71 73h0M105 38h0M91 13h0M100 55h0M7 25h0M46 62h0M106 47h0M20 70h0M36 18h0M46 38h0M75 36h0M37 65h0M127 14h0M18 54h0M110 90h0M72 25h0M8 30h0M115 56h0M78 70h0M86 33h0M100 51h0M56 45h0M108 31h0M85 60h0M55 32h0M21 34h0M21 37h0M145 6h0M116 58h0M51 44h0M30 41h0M45 32h0M32 6h0M22 15h0M120 41h0M26 11h0M14 65h0M73 65h0M145 3h0M127 62h0M5 14h0M16 7h0M71 67h0M45 60h0M19 15h0M127 24h0M101 22h0M146 71h0M35 75h0M124 42h0M14 60h0M48 81h0M131 32h0M12 21h0M14 65h0M89 5h0M137 24h0M62 36h0M62 9h0M85 25h0M137 56h0M119 80h0M14 54h0M144 7h0M34 30h0M142 81h0M28 14h0M104 25h0M39 56h0M145 66h0M62 29h0M51 70h0M101 2h0M141 59h0M119 29h0M98 26h0M104 70h0M138 72h0M40 61h0M128 44h0M111 41h0M29 15h0M35 41h0M125 24h0M136 2h0M42 72h0M69 71h0M25 38h0M46 19h0M45 73h0M98 37h0M52 76h0M110 49h0M55 33h0M41 55h0M132 12h0M40 69h0M59 71h0M36 19h0M141 78h0M116 7h0M32 62h0M23 86h0M96 38h0M112 91h0M124 31h0M99 4h0M58 61h0M73 40h0M62 72h0M90 7h0M80 21h0M31 87h0M124 73h0M72 91h0M114 77h0M77 86h0M119 13h0M8 16h0M29 33h0M24 6h0M28 10h0M17 70h0M122 84h0M113 88h0M84 46h0M74 71h0M109 57h0M143 84h0M141 59h0M39 78h0M20 24h0M127 13h0M8 9h0M40 18h0M83 72h0M91 81h0M47 27h0M83 90h0M18 13h0M92 64h0M105 12h0M19 35h0M8 20h0M57 72h0M66 40h0M36 48h0M51 16h0M53 10h0M33 64h0M65 67h0M61 3h0M137 13h0M54 79h0M35 49h0M95 12h0M73 83h0M62 36h0M105 45h0M36 17h0M18 62h0M42 73h0M8 72h0M24 38h0M73 15h0M114 81h0M140 67h0M32 85h0M25 61h0M12 74h0M15 80h0M20 18h0"/><path id="p30" d="M28 13h0M73 90h0M45 33h0M80 27h0M31 12h0M82 29h0M140 42h0M62 28h0M12 9h0M105 37h0M79 63h0M78 29h0M131 23h0M98 46h0M49 76h0M48 24h0M40 12h0M23 9h0M76 72h0M134 83h0M2 79h0M31 55h0M87 80h0M139 29h0M141 71h0M66 31h0M72 3h0M129 33h0M13 72h0M93 8h0M44 42h0M84 22h0M13 41h0M12 55h0M73 16h0M39 29h0M118 89h0M76 50h0M105 88h0M25 62h0M82 62h0M119 45h0M140 91h0M12 41h0M92 73h0M16 64h0M45 59h0M42 88h0M133 20h0M38 50h0M131 55h0M112 88h0M26 7h0M118 12h0M62 7h0M19 5h0M88 59h0M123 8h0M29 69h0M123 51h0M127 23h0M73 64h0M32 83h0M68 68h0M89 73h0M131 57h0M33 28h0M89 6h0M28 60h0M138 30h0M15 61h0M84 52h0M102 6h0M103 36h0M119 57h0M76 10h0M145 6h0M48 30h0M118 9h0M50 60h0M97 86h0M25 15h0M134 30h0M81 80h0M24 63h0M12 41h0M91 63h0M25 67h0M135 85h0M129 44h0M34 49h0M18 55h0M141 60h0M15 65h0M112 90h0M11 86h0M124 7h0M9 29h0M102 35h0M135 19h0M123 43h0M59 51h0M21 78h0M124 78h0M20 60h0M27 84h0M106 44h0M85 87h0M27 13h0M60 28h0M15 71h0M7 10h0M108 49h0M61 46h0M123 74h0M72 24h0M55 72h0M113 34h0M51 71h0M108 4h0M52 16h0M99 55h0M34 21h0M56 44h0M75 16h0M23 79h0M114 58h0M9 16h0M18 14h0M93 83h0M113 48h0M130 55h0M102 82h0M77 69h0M131 30h0M124 82h0M17 14h0M49 76h0M16 13h0M133 8h0M142 63h0M109 49h0M110 89h0M14 29h0M60 12h0M26 63h0M44 87h0M48 65h0M16 26h0M106 58h0M52 60h0M67 77h0M122 69h0M86 25h0M2 65h0M85 55h0M61 10h0M38 88h0M16 23h0M87 33h0M145 26h0M73 63h0M52 43h0M71 66h0M144 9h0M58 12h0M19 15h0M90 75h0M144 25h0M36 46h0M34 65h0M44 88h0M46 81h0M116 18h0M121 85h0M62 2h0M130 39h0M140 61h0M45 33h0M12 64h0M64 4h0M92 79h0M137 57h0M25 39h0M116 56h0M86 38h0M125 79h0M43 31h0M125 5h0M22 26h0M12 21h0M108 59h0M125 40h0M146 67h0M21 67h0M94 22h0M136 14h0M112 88h0M68 71h0M132 87h0M137 14h0M43 80h0M31 11h0M19 15h0M56 23h0M29 76h0M119 5h0M90 29h0M19 70h0M40 55h0M52 18h0M77 56h0M50 64h0M118 81h0M11 10h0M43 87h0M39 79h0M111 75h0M64 28h0M135 31h0M77 76h0M62 65h0M23 25h0M36 54h0M29 18h0M44 36h0M17 63h0M12 25h0M126 74h0M135 90h0"/></defs>
<g transform="translate(431.6 323.9)">
<rect width="74.4" height="46.6" fill="#04041a"/><g filter="url(#sm)"><g transform="scale(0.5)">
<use href="#p29" stroke="#2030e8" stroke-width="2.8" stroke-linecap="round" stroke-opacity="0.56"/>
</g></g>
</g>
<g transform="translate(431.6 372.7)">
<rect width="74.4" height="46.6" fill="#020402"/><g filter="url(#sm)"><g transform="scale(0.5)">
<use href="#p30" stroke="#24aa28" stroke-width="2.6" stroke-linecap="round" stroke-opacity="0.75"/>
</g></g>
</g>
<g transform="translate(431.6 421.0)">
<rect width="74.4" height="46.6" fill="#04041a"/><g filter="url(#sm)"><g transform="scale(0.5)">
<use href="#p29" stroke="#2030e8" stroke-width="2.8" stroke-linecap="round" stroke-opacity="0.56"/>
<use href="#p30" stroke="#30c0b8" stroke-width="2.4" stroke-linecap="round" stroke-opacity="0.65"/>
</g></g>
<rect x="2.8" y="42.6" width="8" height="1.2" fill="#e02020"/>
</g>
<defs><path id="p31" d="M131 27h0M79 43h0M29 15h0M93 65h0M119 29h0M88 38h0M67 51h0M9 44h0M51 66h0M97 62h0M124 37h0M42 16h0M101 71h0M107 85h0M102 48h0M35 54h0M47 85h0M4 79h0M14 36h0M14 70h0M124 35h0M22 40h0M37 4h0M56 40h0M97 24h0M13 80h0M46 55h0M144 85h0M109 79h0M53 19h0M98 79h0M21 58h0M121 30h0M74 49h0M66 62h0M140 17h0M78 54h0M65 17h0M82 24h0M35 32h0M126 47h0M13 49h0M49 84h0M35 86h0M88 15h0M41 55h0M110 43h0M127 25h0M88 40h0M14 84h0M77 16h0M97 73h0M8 83h0M72 40h0M104 49h0M118 23h0M49 47h0M90 7h0M112 21h0M124 41h0M78 9h0M47 79h0M112 9h0M56 31h0M107 16h0M82 13h0M135 9h0M75 7h0M98 18h0M133 33h0M50 16h0M50 74h0M48 5h0M69 13h0M24 71h0M101 59h0M4 9h0M3 40h0M32 55h0M120 51h0M99 6h0M118 66h0M56 84h0M133 22h0M25 71h0M28 16h0M94 64h0M100 30h0M133 27h0M62 33h0M81 15h0M29 63h0M124 44h0M126 21h0M103 21h0M99 79h0M44 13h0M110 85h0M114 26h0M130 17h0M122 44h0M41 39h0M135 64h0M9 52h0M132 79h0M40 69h0M73 51h0M110 52h0M91 84h0M102 15h0M40 14h0M14 43h0M16 58h0M128 53h0M108 65h0M19 24h0M98 42h0M116 15h0M61 58h0M125 21h0M130 81h0M45 64h0M137 44h0M27 11h0M20 22h0M32 4h0M24 37h0M112 2h0M78 81h0M73 59h0M97 3h0M44 10h0M12 81h0M78 32h0M53 81h0M92 72h0M72 64h0M12 82h0M43 39h0M117 22h0M84 36h0M146 51h0M98 58h0M78 56h0M72 14h0M104 85h0M63 59h0M47 71h0M5 34h0M129 54h0M11 83h0M40 74h0M110 30h0M140 29h0M21 88h0M68 21h0M94 85h0M62 53h0M11 39h0M110 33h0M37 25h0M53 88h0M106 88h0M94 76h0M5 3h0M76 8h0M85 32h0M105 22h0M80 37h0M98 8h0M81 36h0M14 56h0M115 48h0M144 72h0M39 76h0M109 43h0M135 12h0M136 14h0M146 27h0M137 60h0M76 14h0M80 21h0M98 26h0M107 44h0M43 82h0M81 66h0M129 50h0M146 72h0M122 14h0M49 58h0M75 46h0M144 66h0M81 75h0M132 33h0M9 29h0M110 17h0M97 46h0M32 6h0M95 43h0M47 78h0M13 34h0M27 10h0M81 6h0M28 23h0M41 36h0M112 10h0M99 13h0M62 46h0M116 81h0M58 52h0M35 31h0M38 76h0M70 46h0M19 79h0M130 36h0M134 51h0M146 48h0M22 40h0M129 12h0M15 84h0M43 32h0M33 57h0M121 50h0M133 18h0M88 20h0M90 6h0M116 77h0M120 18h0M18 28h0M145 60h0M41 24h0M106 76h0M51 66h0M8 28h0M5 38h0M56 23h0M34 15h0M144 87h0M7 15h0M44 75h0M28 49h0M87 76h0M52 78h0M79 5h0M110 10h0M14 41h0M135 73h0M113 17h0M39 74h0M81 64h0M18 66h0M27 22h0M60 58h0M103 57h0M49 11h0M138 56h0M25 78h0M78 41h0M108 26h0M96 47h0M107 78h0M121 5h0M133 77h0M120 69h0M32 33h0M21 85h0M62 60h0M11 79h0M41 81h0M61 38h0M75 56h0M79 15h0M23 69h0M63 29h0M66 68h0M76 13h0M127 11h0M116 30h0M67 29h0M63 39h0M49 79h0M116 20h0M64 62h0M123 10h0M30 52h0M108 50h0M36 5h0M13 19h0M123 41h0M53 49h0M23 11h0M67 43h0M71 6h0M121 25h0M111 87h0M55 70h0M20 22h0M27 56h0M39 46h0M111 57h0M120 73h0M65 35h0M91 69h0M79 64h0M45 77h0M134 25h0M144 48h0M59 26h0M124 23h0M128 17h0M87 11h0M66 43h0M125 6h0M19 82h0M49 22h0M7 30h0M129 33h0M50 55h0M100 10h0M45 58h0M40 39h0M60 44h0M62 16h0M101 10h0M143 19h0M24 4h0M69 54h0M28 76h0M102 86h0M117 70h0M105 91h0M35 6h0M144 75h0M67 81h0M41 39h0M109 7h0M38 48h0M107 53h0M122 73h0M93 76h0M123 49h0M71 45h0M127 17h0M143 6h0M99 68h0M134 26h0M45 20h0M115 49h0M6 81h0M43 60h0M95 76h0M39 83h0M70 56h0M6 88h0M125 31h0M89 6h0M81 61h0M129 84h0M45 71h0M113 47h0M90 4h0M45 25h0M112 74h0M93 44h0M68 37h0M13 50h0M31 17h0M17 33h0M108 33h0M73 3h0M46 39h0M50 81h0M104 16h0M70 77h0M71 34h0M18 46h0M128 12h0M100 72h0M82 35h0M75 12h0M140 69h0M123 20h0M122 86h0M23 71h0M6 37h0M116 11h0M113 51h0M143 46h0M5 90h0M63 25h0M42 45h0M27 25h0M116 78h0M99 57h0M99 59h0M60 12h0M117 67h0M91 46h0M108 49h0M23 87h0M92 69h0M116 76h0M30 3h0M68 10h0M94 20h0M112 44h0M131 6h0M121 15h0M48 71h0M104 16h0M44 50h0M58 58h0M99 76h0M85 49h0M106 7h0M81 48h0M95 18h0M131 23h0M79 16h0M115 41h0M113 46h0M143 46h0M22 63h0M109 44h0M17 47h0M20 52h0M18 70h0M64 6h0M93 57h0M125 35h0M113 90h0M118 22h0M50 73h0M40 31h0M11 86h0M63 29h0M36 56h0M105 33h0M118 17h0M95 86h0M136 32h0M70 41h0M30 49h0M112 35h0M94 89h0M48 2h0M115 72h0M129 12h0M29 37h0M111 53h0M24 82h0M74 8h0M56 52h0M95 62h0M46 28h0M38 24h0M70 46h0M41 43h0M123 47h0M33 28h0M95 72h0M100 53h0M108 36h0M97 15h0M93 18h0M63 14h0M81 51h0M27 29h0M119 23h0M12 47h0M54 6h0M91 50h0M30 55h0M119 19h0M47 49h0M48 21h0M69 48h0M116 58h0M43 32h0M119 29h0M109 53h0M98 86h0M143 70h0M109 39h0M11 53h0M116 26h0M29 63h0M44 70h0M121 17h0M40 15h0M47 63h0M61 53h0M12 77h0M29 68h0M49 8h0M27 53h0M37 5h0M113 32h0M82 19h0M137 50h0M42 88h0M80 29h0M52 70h0M124 65h0M126 5h0M66 33h0M101 66h0M45 90h0M27 90h0M80 68h0M65 4h0M36 34h0M78 36h0M97 52h0M50 54h0M63 66h0M73 11h0M35 6h0M104 42h0M141 37h0M11 23h0M29 13h0M129 41h0M12 80h0M84 40h0M72 6h0M86 17h0M73 87h0M126 89h0M63 44h0M75 59h0M7 49h0M128 32h0M87 74h0M5 74h0M124 26h0M137 44h0M8 12h0M76 48h0M118 52h0M35 76h0M122 36h0M4 72h0M26 29h0M117 2h0M127 37h0M137 69h0M51 11h0M133 69h0M136 20h0M104 22h0M71 16h0M130 30h0M26 29h0M6 23h0M123 14h0M133 30h0M129 48h0M68 24h0M4 55h0M60 83h0M10 74h0M56 19h0M10 43h0M27 59h0M124 24h0M30 45h0M128 28h0M30 77h0M40 14h0M79 86h0M61 46h0M5 83h0M45 85h0M23 56h0M96 60h0M118 54h0M61 14h0M23 26h0M63 52h0M25 11h0M52 55h0M76 62h0M21 80h0M15 25h0M110 11h0M133 25h0M111 25h0M118 16h0M118 37h0M76 33h0M52 46h0M122 11h0M60 44h0M6 61h0M12 13h0M111 83h0M140 60h0M104 8h0M102 9h0M145 44h0M29 23h0M13 32h0M145 11h0M69 5h0M3 65h0M34 4h0M109 71h0M72 37h0M120 14h0M33 18h0M28 80h0M23 79h0M113 50h0M86 55h0M6 10h0M106 16h0M65 40h0M28 69h0M58 46h0M18 61h0M36 66h0M55 29h0M104 83h0M108 19h0M37 79h0M125 72h0M63 48h0M85 40h0M74 13h0M105 75h0M120 6h0M80 28h0M138 45h0M118 48h0M146 53h0M64 4h0M99 71h0M129 9h0M106 44h0M85 4h0M129 89h0M30 80h0M85 69h0M127 13h0M125 19h0M104 16h0M104 32h0M69 42h0M67 4h0M142 31h0M9 7h0M111 31h0M35 54h0M109 50h0M48 12h0M51 26h0M124 10h0M37 76h0M93 57h0M139 40h0M104 41h0M32 50h0M35 56h0M33 14h0M119 12h0M100 33h0M67 40h0M136 79h0M115 16h0M93 83h0M49 54h0M91 3h0M105 56h0M123 7h0M138 56h0M33 38h0M71 7h0M116 77h0M82 8h0M7 64h0M112 23h0M127 64h0M127 18h0M10 78h0M137 70h0M128 8h0M124 84h0M113 8h0M61 45h0M145 90h0M119 47h0M119 42h0M118 7h0M109 33h0M110 18h0M129 25h0M52 6h0M72 33h0M125 62h0M19 41h0M40 13h0M20 31h0M99 51h0M31 62h0M61 7h0M62 75h0M129 76h0M91 3h0M75 88h0M90 46h0M68 59h0M140 51h0M10 36h0M96 62h0M115 70h0M99 37h0M120 44h0M16 44h0M74 17h0M130 32h0M92 3h0M92 43h0M138 15h0M77 13h0M48 51h0M16 26h0M83 48h0M124 71h0M97 28h0M121 16h0M104 75h0M10 19h0M32 9h0M60 31h0M93 43h0M42 44h0M143 47h0M55 60h0M84 33h0M69 42h0M22 83h0M82 49h0M25 79h0M20 62h0M107 47h0M133 25h0M115 69h0M98 90h0M122 23h0M84 6h0M88 67h0M19 59h0M102 64h0M89 22h0M133 22h0M117 49h0M108 18h0M98 56h0M63 35h0M122 16h0M17 36h0M66 9h0M98 4h0M33 81h0M131 31h0M26 26h0M100 71h0M118 17h0M23 44h0M59 42h0M15 9h0M123 71h0M46 82h0M74 31h0M85 50h0M25 79h0M103 78h0M64 4h0M64 5h0M126 21h0M116 30h0M87 50h0M108 5h0M113 44h0M136 29h0M59 4h0M94 49h0M96 24h0M123 20h0M100 24h0M72 61h0M19 74h0M99 55h0M120 23h0M94 40h0M30 80h0M61 32h0M53 80h0M55 65h0M57 3h0M78 35h0M124 11h0M122 9h0M136 25h0M92 12h0M26 88h0M128 26h0M109 9h0M57 24h0M27 56h0M8 81h0M45 47h0M139 51h0M123 28h0M119 73h0M28 77h0M77 7h0M77 28h0M23 65h0M129 69h0M122 21h0M45 39h0M45 42h0M93 19h0M120 89h0M66 83h0M106 33h0M104 79h0M63 25h0M48 20h0M71 11h0M124 91h0M121 89h0M32 49h0M145 77h0M61 57h0M13 70h0M97 89h0M29 10h0M116 69h0M109 36h0M70 31h0M135 32h0M113 49h0M127 56h0M117 10h0M101 59h0M19 59h0M32 22h0M69 39h0M21 87h0M29 34h0M77 47h0M141 23h0M132 28h0M100 81h0M65 5h0M80 26h0M128 24h0M72 31h0M26 41h0M9 77h0M35 50h0M40 31h0M35 85h0M120 5h0M146 57h0M134 52h0M90 61h0M72 43h0M23 84h0M59 58h0M142 74h0M52 10h0M103 81h0M121 76h0M68 37h0M104 7h0M113 43h0M36 12h0M42 43h0M15 63h0M128 35h0M14 26h0M110 36h0M66 45h0M50 48h0M11 19h0M97 52h0M119 78h0M71 10h0M103 49h0M100 70h0M121 46h0M138 49h0M73 38h0M41 4h0M76 68h0M40 80h0M65 14h0"/><path id="p32" d="M87 19h0M114 32h0M7 89h0M16 31h0M102 22h0M79 64h0M38 37h0M28 56h0M110 38h0M80 26h0M27 49h0M124 24h0M89 3h0M143 46h0M58 26h0M14 64h0M62 39h0M109 53h0M60 58h0M130 47h0M110 52h0M20 40h0M120 52h0M112 2h0M39 5h0M26 37h0M82 35h0M55 52h0M123 39h0M139 49h0M93 17h0M14 36h0M104 34h0M26 55h0M124 23h0M130 80h0M86 76h0M53 10h0M110 10h0M55 81h0M12 47h0M67 11h0M43 45h0M30 75h0M112 89h0M9 45h0M79 63h0M93 74h0M8 32h0M8 28h0M115 76h0M102 58h0M99 5h0M131 79h0M123 22h0M119 7h0M86 18h0M36 76h0M34 19h0M60 60h0M32 6h0M46 40h0M79 67h0M137 79h0M40 4h0M46 84h0M118 8h0M73 9h0M82 66h0M69 78h0M128 17h0M16 26h0M100 71h0M101 65h0M105 83h0M92 85h0M97 90h0M97 47h0M143 70h0M55 8h0M72 17h0M9 45h0M120 49h0M64 68h0M7 12h0M118 73h0M88 3h0M68 6h0M19 80h0M107 88h0M132 33h0M11 13h0M40 69h0M34 7h0M128 34h0M123 42h0M126 64h0M72 9h0M124 10h0M110 53h0M25 72h0M78 16h0M110 18h0M132 80h0M31 55h0M133 77h0M113 42h0M118 52h0M35 6h0M55 25h0M68 23h0M23 45h0M40 32h0M73 38h0M112 74h0M59 59h0M119 7h0M90 44h0M105 16h0M66 43h0M128 53h0M41 13h0M95 39h0M121 30h0M94 25h0M75 11h0M122 12h0M145 6h0M50 55h0M103 91h0M110 10h0M78 87h0M40 38h0M71 45h0M35 29h0M26 31h0M75 14h0M137 20h0M29 55h0M131 32h0M25 26h0M144 89h0M79 5h0M32 8h0M54 6h0M89 19h0M98 14h0M95 26h0M101 8h0M48 13h0M76 44h0M80 29h0M120 69h0M130 34h0M116 49h0M34 74h0M50 10h0M22 86h0M34 3h0M43 33h0M33 86h0M81 7h0M134 25h0M6 8h0M99 51h0M22 40h0M84 24h0M47 2h0M125 23h0M57 2h0M120 69h0M44 9h0M51 74h0M68 40h0M44 44h0M49 22h0M12 36h0M89 68h0M107 55h0M118 78h0M12 75h0M29 49h0M120 44h0M133 80h0M105 78h0M127 62h0M35 49h0M68 10h0M17 26h0M70 78h0M103 22h0M54 81h0M16 47h0M108 50h0M6 59h0M79 87h0M101 11h0M7 82h0M110 82h0M116 58h0M15 64h0M24 40h0M141 31h0M104 16h0M98 58h0M116 69h0M32 22h0M48 22h0M131 43h0M30 8h0M43 14h0M109 20h0M68 40h0M123 24h0M19 52h0M85 50h0M44 21h0M6 50h0M5 76h0M45 72h0M58 2h0M69 37h0M70 47h0M120 71h0M123 40h0M12 73h0M145 66h0M105 15h0M66 44h0M27 56h0M71 56h0M112 22h0M102 10h0M12 13h0M39 47h0M9 29h0M44 39h0M17 36h0M80 8h0M102 11h0M93 77h0M21 22h0M97 60h0M112 53h0M71 12h0M30 62h0M87 19h0M39 74h0M140 28h0M94 21h0M138 44h0M108 35h0M35 55h0M112 20h0M98 61h0M130 52h0M81 64h0M123 45h0M128 12h0M20 42h0M32 16h0M129 32h0M108 44h0M19 24h0M127 17h0M124 48h0M96 72h0M129 29h0M81 74h0M108 16h0M74 33h0M22 39h0M136 29h0M78 22h0M116 31h0M122 25h0M41 40h0M59 58h0M75 8h0M52 55h0M125 34h0M117 7h0M128 34h0M67 21h0M25 79h0M29 16h0M90 45h0M20 60h0M145 56h0M128 68h0M126 34h0M83 5h0M31 15h0M17 31h0M122 49h0M39 68h0M99 76h0M29 45h0M15 68h0M81 12h0M80 48h0M53 56h0M67 81h0M33 49h0M31 8h0M143 85h0M118 30h0M60 58h0M104 32h0M34 19h0M2 64h0M105 87h0M13 79h0M63 59h0M7 82h0M62 26h0M5 91h0M82 5h0M116 7h0M123 71h0M123 82h0M26 27h0M9 7h0M75 16h0M127 25h0M120 11h0M7 65h0M60 13h0M76 9h0M38 47h0M144 11h0M68 20h0M101 68h0M135 8h0M36 12h0M111 10h0M110 52h0M29 75h0M110 19h0M60 58h0M70 14h0M42 42h0M119 74h0M39 14h0M137 50h0M61 27h0M83 65h0M12 84h0M89 3h0M120 14h0M51 7h0M46 10h0M71 11h0M25 69h0M43 76h0M22 42h0M6 2h0M49 12h0M40 45h0M48 55h0M103 79h0M91 4h0M39 23h0M145 48h0M107 85h0M134 25h0M113 10h0M120 44h0M97 68h0M100 8h0M79 28h0M98 8h0M25 86h0M91 2h0M109 7h0M4 54h0M21 63h0M24 12h0M45 76h0M119 50h0M85 49h0M105 21h0M131 19h0M96 58h0M51 71h0M142 31h0M81 61h0M69 15h0M41 69h0M113 42h0M121 31h0M5 11h0M52 25h0M135 51h0M105 90h0M76 7h0M37 3h0M60 3h0M26 30h0M115 83h0M96 75h0M7 91h0M126 32h0M121 25h0M85 39h0M24 64h0M102 59h0M25 10h0M26 9h0M29 10h0M83 43h0M127 11h0M113 47h0M115 48h0M122 16h0M57 40h0M103 44h0M110 54h0M60 44h0M102 22h0M30 79h0M13 48h0M134 52h0M128 24h0M44 32h0M2 40h0M100 71h0M8 46h0M114 70h0M128 32h0M78 42h0M93 72h0M117 23h0M22 71h0M47 11h0M120 5h0M100 11h0M34 57h0M35 56h0M118 37h0M9 12h0M79 56h0M140 36h0M137 54h0M49 79h0M4 9h0M95 61h0M41 88h0M61 58h0M92 3h0M71 9h0M78 36h0M118 77h0M107 17h0M47 19h0M107 72h0M104 18h0M40 15h0M90 50h0M124 89h0M94 42h0M56 24h0M138 55h0M108 21h0M110 77h0M14 42h0M129 34h0M109 42h0M11 18h0M43 60h0M44 81h0M109 7h0M99 70h0M40 24h0M65 6h0M130 50h0M61 58h0M12 86h0M30 14h0M36 7h0M20 42h0M21 67h0M5 73h0M87 40h0M121 17h0M67 9h0M122 30h0M120 6h0M73 54h0M44 77h0M144 11h0M13 84h0M123 6h0M108 73h0M125 5h0M55 83h0M97 6h0M61 44h0M4 54h0M71 3h0M3 38h0M120 32h0M146 77h0M119 73h0M108 49h0M103 58h0M119 44h0M119 20h0M145 47h0M41 13h0M109 50h0M109 43h0M39 32h0M24 79h0M128 14h0M48 46h0M116 59h0M92 20h0M120 50h0M85 41h0M79 33h0M120 8h0M121 28h0M53 81h0M29 50h0M68 44h0M116 51h0M18 83h0M52 66h0M46 76h0M65 59h0M125 92h0M71 5h0M76 47h0M118 67h0M113 34h0M34 54h0M22 82h0M7 45h0M6 82h0M81 47h0M48 83h0M109 78h0M97 83h0M119 20h0M116 78h0M119 16h0M41 45h0M127 35h0M23 56h0M4 73h0M71 55h0M10 54h0M122 35h0M91 5h0M9 43h0M75 87h0M9 20h0M108 34h0M121 18h0"/></defs>
<g transform="translate(508.2 323.9)">
<rect width="74.4" height="46.6" fill="#04041a"/><g filter="url(#sm)"><g transform="scale(0.5)">
<use href="#p31" stroke="#2030e8" stroke-width="2.8" stroke-linecap="round" stroke-opacity="0.56"/>
</g></g>
</g>
<g transform="translate(508.2 372.7)">
<rect width="74.4" height="46.6" fill="#020402"/><g filter="url(#sm)"><g transform="scale(0.5)">
<use href="#p32" stroke="#24aa28" stroke-width="2.6" stroke-linecap="round" stroke-opacity="0.75"/>
</g></g>
</g>
<g transform="translate(508.2 421.0)">
<rect width="74.4" height="46.6" fill="#04041a"/><g filter="url(#sm)"><g transform="scale(0.5)">
<use href="#p31" stroke="#2030e8" stroke-width="2.8" stroke-linecap="round" stroke-opacity="0.56"/>
<use href="#p32" stroke="#30c0b8" stroke-width="2.4" stroke-linecap="round" stroke-opacity="0.65"/>
</g></g>
<rect x="2.8" y="42.6" width="8" height="1.2" fill="#e02020"/>
</g>
<defs><path id="p33" d="M69 66h0M103 78h0M65 11h0M19 44h0M71 76h0M118 53h0M113 67h0M117 82h0M8 35h0M48 38h0M13 82h0M130 66h0M57 20h0M45 76h0M80 2h0M72 35h0M77 15h0M62 26h0M79 69h0M106 76h0M62 33h0M28 79h0M136 3h0M114 81h0M76 83h0M17 26h0M63 75h0M113 48h0M90 55h0M132 66h0M55 37h0M142 73h0M138 69h0M70 64h0M16 13h0M86 22h0M14 59h0M40 6h0M83 26h0M58 56h0M113 73h0M117 77h0M47 41h0M98 82h0M66 34h0M126 3h0M29 72h0M110 29h0M98 29h0M10 55h0M103 33h0M5 68h0M50 36h0M57 33h0M131 29h0M101 16h0M112 86h0M106 21h0M107 37h0M103 50h0M11 45h0M58 66h0M36 39h0M9 59h0M65 12h0M110 81h0M66 4h0M82 45h0M21 35h0M81 57h0M28 57h0M135 52h0M91 71h0M23 55h0M73 91h0M7 73h0M47 24h0M27 5h0M21 73h0M4 11h0M125 48h0M77 60h0M125 80h0M147 70h0M51 76h0M135 19h0M131 85h0M8 44h0M21 83h0M56 4h0M19 59h0M42 46h0M73 3h0M99 34h0M133 43h0M58 60h0M140 57h0M147 15h0M88 64h0M13 6h0M117 77h0M143 63h0M60 9h0M65 79h0M63 38h0M19 36h0M99 17h0M109 42h0M100 64h0M147 48h0M7 18h0M141 72h0M60 21h0M75 77h0M131 87h0M43 31h0M109 63h0M73 40h0M37 35h0M138 45h0M134 40h0M57 75h0M112 42h0M16 7h0M24 22h0M107 50h0M30 25h0M143 55h0M105 23h0M59 42h0M145 18h0M138 48h0M82 81h0M10 32h0M137 25h0M142 25h0M61 22h0M105 43h0M114 55h0M117 76h0M71 23h0M20 90h0M42 60h0M45 3h0M46 38h0M137 70h0M126 87h0M61 37h0M67 74h0M29 11h0M17 53h0M130 78h0M18 69h0M131 82h0M130 17h0M78 17h0M130 51h0M32 36h0M67 71h0M146 29h0M64 36h0M110 86h0M112 45h0M127 17h0M87 79h0M10 36h0M92 66h0M52 60h0M130 28h0M70 76h0M52 23h0M39 65h0M17 14h0M98 77h0M68 81h0M96 13h0M129 34h0M83 43h0M19 84h0M64 54h0M137 84h0M54 36h0M55 72h0M101 20h0M23 21h0M127 20h0M28 47h0M59 64h0M93 46h0M64 80h0M81 66h0M19 19h0M115 36h0M142 69h0M111 46h0M13 73h0M55 58h0M56 46h0M101 46h0M138 26h0M36 86h0M61 77h0M136 85h0M18 73h0M128 83h0M139 42h0M124 68h0M9 51h0M9 12h0M92 66h0M109 49h0M60 18h0M63 5h0M40 52h0M86 70h0M28 57h0M108 19h0M84 6h0M47 7h0M116 23h0M132 75h0M135 14h0M141 63h0M74 23h0M63 11h0M24 19h0M82 9h0M43 52h0M100 82h0M94 76h0M43 36h0M21 31h0M130 46h0M61 9h0M59 79h0M62 35h0M46 55h0M79 33h0M27 39h0M43 50h0M55 57h0M57 89h0M115 51h0M8 50h0M39 43h0M103 52h0M43 41h0M108 65h0M129 80h0M144 66h0M90 21h0M71 29h0M103 56h0M104 75h0M10 75h0M46 10h0M92 42h0M101 22h0M90 35h0M97 73h0M48 51h0M67 84h0M42 32h0M105 72h0M104 31h0M137 65h0M139 26h0M141 58h0M21 11h0M19 37h0M110 13h0M18 82h0M90 85h0M132 85h0M86 28h0M10 67h0M27 35h0M137 33h0M38 52h0M133 53h0M6 40h0M81 29h0M21 22h0M54 63h0M63 59h0M45 90h0M146 58h0M107 4h0M43 41h0M43 11h0M141 17h0M67 43h0M130 23h0M99 26h0M144 80h0M91 65h0M11 62h0M147 10h0M35 41h0M25 51h0M4 74h0M52 47h0M103 42h0M11 71h0M98 75h0M24 50h0M53 43h0M113 59h0M56 37h0M106 30h0M129 77h0M83 85h0M94 39h0M109 19h0M105 27h0M124 46h0M8 58h0M69 41h0M78 10h0M129 46h0M142 23h0M138 50h0M46 42h0M89 67h0M102 42h0M122 21h0M127 84h0M91 52h0M32 81h0M78 28h0M123 85h0M124 14h0M126 16h0M122 88h0M90 36h0M105 21h0M85 86h0M28 86h0M125 68h0M12 61h0M106 24h0M54 37h0M97 76h0M141 62h0M121 75h0M144 91h0M67 49h0M45 35h0M99 81h0M39 78h0M10 64h0M86 75h0M76 41h0M91 55h0M24 67h0M87 14h0M64 37h0M137 66h0M39 52h0M67 72h0M99 27h0M89 75h0M53 27h0M121 50h0M134 39h0M54 84h0M97 73h0M17 90h0M11 80h0M33 43h0M44 51h0M110 20h0M93 83h0M143 59h0M13 87h0M124 81h0M23 80h0M104 18h0M67 77h0M54 39h0M49 54h0M131 18h0M97 20h0M74 64h0M2 3h0M140 70h0M74 22h0M17 38h0M100 79h0M57 51h0M141 16h0M144 58h0M13 55h0M11 20h0M7 48h0M51 8h0M106 77h0M130 47h0M10 10h0M144 55h0M94 25h0M111 82h0M23 33h0M104 14h0M37 30h0M123 14h0M101 80h0M53 7h0M93 40h0M13 41h0M17 85h0M37 82h0M89 89h0M125 76h0M52 56h0M126 28h0M138 80h0M48 53h0M20 84h0M72 14h0M7 88h0M7 55h0M138 58h0M25 55h0M118 84h0M115 83h0M26 10h0M13 74h0M135 39h0M76 73h0M34 89h0M13 46h0M108 60h0M55 27h0M83 71h0M61 82h0M113 66h0M36 62h0M87 27h0M33 25h0M53 74h0M143 64h0M123 20h0M110 79h0M96 59h0M48 34h0M43 35h0M99 52h0M146 79h0M121 17h0M95 20h0M61 73h0M133 79h0M19 15h0M125 78h0M21 88h0M92 48h0M67 28h0M110 54h0M139 56h0M54 16h0M92 70h0M80 35h0M40 52h0M23 25h0M81 79h0M133 83h0M131 27h0M61 10h0M127 78h0M42 30h0M20 71h0M145 7h0M7 38h0M104 49h0M94 20h0M113 34h0M53 39h0M99 20h0M112 87h0M62 75h0M138 86h0M97 77h0M8 40h0M105 34h0M24 16h0M74 55h0M14 68h0M79 48h0M37 34h0M56 50h0M53 59h0M16 76h0M33 74h0M121 70h0M116 28h0M111 54h0M77 36h0M144 20h0M108 46h0M136 59h0M107 74h0M112 11h0M9 83h0M106 84h0M27 39h0M118 26h0M117 72h0M108 52h0M125 42h0M34 81h0M25 71h0M18 14h0M53 65h0M52 61h0M85 79h0M13 72h0M63 39h0M109 79h0M57 43h0M118 15h0M92 41h0M100 15h0M49 27h0M31 34h0M10 63h0M98 17h0M122 31h0M89 64h0M22 16h0M59 59h0M59 64h0M18 90h0M57 36h0M60 90h0M87 31h0M20 30h0M107 18h0M20 61h0M120 27h0M116 44h0M134 77h0M98 79h0M46 83h0M65 5h0M112 21h0M47 15h0M73 57h0M24 73h0M6 26h0M79 47h0M97 75h0M30 25h0M85 23h0M138 66h0M63 27h0M74 4h0M125 68h0M146 66h0M41 32h0M77 36h0M36 36h0M23 62h0M39 66h0M102 51h0M105 52h0M25 9h0M8 44h0M57 5h0M14 29h0M62 36h0M88 23h0M39 15h0M134 65h0M85 45h0M47 18h0M134 60h0M68 30h0M103 77h0M64 8h0M58 20h0M105 20h0M27 80h0M53 81h0M137 86h0M19 53h0M3 74h0M33 55h0M51 58h0M18 26h0M19 71h0M14 65h0M134 88h0M135 49h0M9 77h0M58 14h0M143 65h0M14 8h0M63 64h0M30 55h0M108 54h0M124 18h0M103 35h0M55 26h0M100 28h0M90 69h0M104 36h0M62 24h0M49 73h0M106 89h0M103 79h0M128 53h0M116 78h0M56 49h0M12 35h0M131 84h0M80 71h0M113 66h0M84 19h0M120 84h0M20 9h0M99 33h0M94 54h0M49 84h0M126 16h0M42 34h0M53 10h0M14 86h0M4 65h0M122 19h0M42 53h0M28 29h0M19 71h0M108 46h0M140 71h0M113 80h0M71 64h0M49 49h0M82 35h0M109 60h0M32 74h0M62 35h0M94 68h0M95 38h0M113 34h0M24 42h0M127 83h0M95 20h0M20 81h0M8 66h0M54 60h0M3 33h0M62 24h0M10 29h0M25 84h0M14 86h0M98 20h0M114 13h0M138 40h0M26 57h0M95 35h0M67 24h0M20 55h0M58 45h0M115 30h0M31 80h0M62 32h0M96 68h0M127 52h0M127 31h0M41 11h0M85 30h0M89 57h0M133 52h0M62 81h0M97 46h0M134 79h0M103 77h0M135 58h0M115 49h0M53 54h0M48 58h0M52 80h0M140 76h0M5 62h0M98 87h0M60 33h0M59 54h0M104 15h0M75 29h0M135 5h0M46 83h0M110 22h0M129 27h0M37 24h0M32 76h0M46 19h0M64 28h0M93 87h0M100 90h0M115 35h0M141 57h0M71 90h0M30 90h0M91 18h0M90 40h0M95 36h0M11 61h0M24 8h0M105 8h0M98 26h0M87 36h0M11 76h0M48 34h0M82 34h0M8 44h0M118 62h0M26 43h0M75 33h0M21 73h0M90 16h0M110 51h0M82 41h0M86 46h0M111 42h0M132 27h0M146 21h0M133 56h0M3 33h0M109 28h0M24 58h0M74 34h0M141 90h0M14 82h0M140 89h0M56 30h0M22 72h0M141 17h0M91 81h0M65 66h0M92 46h0M100 56h0M91 72h0M127 22h0M19 89h0M97 38h0M126 4h0M75 61h0M65 53h0M92 44h0M68 55h0M77 78h0M88 53h0M105 37h0M9 13h0M146 69h0M35 86h0M140 87h0M33 36h0M16 60h0M41 83h0M75 5h0M135 68h0M132 21h0M24 25h0M133 90h0M42 54h0M18 54h0M92 24h0M66 29h0M139 32h0M42 26h0M78 51h0M146 86h0M90 52h0M127 53h0M47 68h0M107 52h0M77 19h0M78 15h0M70 23h0M81 39h0M70 30h0M53 32h0M138 60h0M52 42h0M64 3h0M101 46h0M107 6h0M90 73h0M93 30h0M97 38h0M85 35h0M92 87h0M92 87h0M21 88h0M15 87h0M37 28h0M140 71h0M124 88h0M145 51h0M2 64h0M40 60h0M116 24h0M77 24h0M56 24h0"/><path id="p34" d="M129 77h0M40 5h0M76 72h0M113 44h0M36 39h0M49 37h0M135 68h0M91 55h0M20 54h0M17 8h0M69 81h0M7 47h0M135 87h0M72 76h0M59 64h0M94 86h0M60 9h0M132 78h0M33 36h0M52 40h0M125 49h0M9 31h0M105 21h0M144 67h0M129 83h0M16 72h0M28 38h0M34 74h0M57 89h0M104 35h0M65 26h0M71 30h0M19 71h0M47 40h0M39 82h0M106 28h0M62 53h0M89 53h0M74 33h0M115 37h0M135 41h0M109 63h0M38 51h0M55 50h0M4 33h0M22 34h0M53 37h0M133 19h0M2 66h0M140 89h0M15 26h0M49 28h0M60 56h0M144 19h0M13 35h0M13 9h0M114 83h0M42 27h0M40 32h0M134 58h0M90 58h0M134 19h0M81 81h0M43 24h0M143 54h0M72 91h0M99 18h0M28 47h0M145 20h0M125 79h0M34 73h0M51 80h0M62 36h0M131 16h0M7 65h0M92 65h0M49 27h0M47 34h0M128 32h0M98 21h0M104 37h0M64 66h0M89 68h0M44 38h0M73 38h0M68 65h0M18 54h0M87 79h0M20 86h0M61 34h0M20 17h0M131 27h0M106 84h0M53 33h0M37 35h0M47 39h0M8 42h0M11 10h0M144 90h0M131 81h0M61 11h0M15 59h0M32 36h0M31 76h0M32 74h0M4 73h0M97 69h0M99 29h0M136 64h0M90 88h0M24 10h0M103 79h0M123 69h0M103 25h0M117 76h0M17 86h0M44 42h0M138 45h0M8 82h0M49 23h0M75 60h0M131 24h0M69 63h0M106 78h0M140 72h0M109 54h0M102 41h0M100 24h0M126 4h0M43 9h0M80 40h0M63 33h0M134 20h0M61 37h0M87 15h0M71 24h0M142 65h0M135 79h0M91 55h0M18 16h0M134 88h0M79 68h0M118 26h0M32 25h0M130 20h0M100 14h0M65 13h0M11 19h0M140 77h0M50 8h0M130 47h0M100 21h0M105 16h0M71 22h0M33 36h0M53 7h0M28 13h0M145 79h0M2 2h0M62 12h0M95 36h0M19 9h0M132 64h0M143 20h0M65 29h0M48 15h0M30 11h0M21 87h0M40 33h0M139 88h0M123 69h0M36 39h0M108 86h0M82 40h0M22 54h0M95 20h0M18 15h0M68 24h0M106 37h0M9 34h0M42 49h0M36 87h0M60 83h0M63 81h0M80 17h0M23 24h0M49 75h0M63 58h0M38 39h0M21 88h0M131 18h0M98 84h0M115 36h0M84 19h0M129 54h0M99 82h0M31 57h0M75 22h0M23 16h0M4 37h0M127 16h0M19 70h0M69 51h0M113 66h0M116 47h0M98 78h0M68 31h0M142 64h0M79 29h0M127 82h0M36 38h0M26 4h0M129 65h0M54 64h0M108 61h0M11 61h0M140 86h0M61 9h0M130 65h0M19 61h0M124 67h0M135 58h0M119 18h0M127 77h0M60 65h0M25 72h0M3 74h0M42 53h0M71 65h0M53 23h0M47 6h0M28 72h0M43 52h0M124 76h0M111 43h0M21 17h0M53 8h0M65 67h0M44 40h0M53 59h0M82 36h0M122 75h0M109 60h0M36 25h0M102 42h0M2 67h0M124 68h0M34 84h0M28 85h0M79 54h0M136 52h0M57 5h0M103 83h0M88 14h0M85 47h0M122 19h0M129 83h0M132 66h0M41 33h0M54 6h0M2 74h0M43 35h0M19 36h0M59 8h0M101 81h0M67 82h0M102 75h0M3 67h0M25 15h0M95 38h0M60 10h0M9 75h0M41 51h0M77 78h0M114 65h0M79 70h0M21 85h0M14 75h0M17 52h0M77 20h0M103 37h0M52 33h0M104 33h0M25 57h0M85 23h0M137 51h0M115 23h0M125 20h0M44 31h0M84 31h0M66 79h0M72 33h0M141 17h0M96 77h0M91 67h0M90 80h0M56 24h0M30 72h0M115 51h0M39 80h0"/></defs>
<g transform="translate(586.5 323.9)">
<rect width="74.7" height="46.6" fill="#04041a"/><g filter="url(#sm)"><g transform="scale(0.5)">
<use href="#p33" stroke="#2030e8" stroke-width="2.8" stroke-linecap="round" stroke-opacity="0.56"/>
</g></g>
</g>
<g transform="translate(586.5 372.7)">
<rect width="74.7" height="46.6" fill="#020402"/><g filter="url(#sm)"><g transform="scale(0.5)">
<use href="#p34" stroke="#24aa28" stroke-width="2.6" stroke-linecap="round" stroke-opacity="0.75"/>
</g></g>
</g>
<g transform="translate(586.5 421.0)">
<rect width="74.7" height="46.6" fill="#04041a"/><g filter="url(#sm)"><g transform="scale(0.5)">
<use href="#p33" stroke="#2030e8" stroke-width="2.8" stroke-linecap="round" stroke-opacity="0.56"/>
<use href="#p34" stroke="#30c0b8" stroke-width="2.4" stroke-linecap="round" stroke-opacity="0.65"/>
</g></g>
<rect x="2.8" y="42.6" width="8" height="1.2" fill="#e02020"/>
</g>
<rect x="671.9" y="236.1" width="9.5" height="9.2" fill="#606060" stroke="#4a4a4a" stroke-width="0.5"/>
<text x="683.5" y="243.8" font-size="10.2" text-anchor="start" fill="#1e1e1e">shNC&amp;vector</text>
<rect x="671.9" y="247.7" width="9.5" height="9.2" fill="#2e7e90" stroke="#21606e" stroke-width="0.5"/>
<text x="683.5" y="255.3" font-size="10.2" text-anchor="start" fill="#1e1e1e">vector&amp;shYBX1</text>
<rect x="755.2" y="236.1" width="9.5" height="9.2" fill="#c8433f" stroke="#9e302d" stroke-width="0.5"/>
<text x="766.0" y="243.8" font-size="10.2" text-anchor="start" fill="#1e1e1e">shNC&amp;oe-RNF115</text>
<rect x="755.2" y="247.7" width="9.5" height="9.2" fill="#1f4a9e" stroke="#163a80" stroke-width="0.5"/>
<text x="766.0" y="255.3" font-size="10.2" text-anchor="start" fill="#1e1e1e">shYBX1&amp;oe-RNF115</text>
<line x1="698.0" y1="258.5" x2="698.0" y2="358.3" stroke="#555" stroke-width="0.9"/>
<line x1="698.0" y1="358.3" x2="855.0" y2="358.3" stroke="#555" stroke-width="0.9"/>
<line x1="695.5" y1="358.3" x2="698.0" y2="358.3" stroke="#555" stroke-width="0.9"/>
<text x="694.5" y="361.7" font-size="10" text-anchor="end" fill="#1e1e1e">0</text>
<line x1="695.5" y1="340.6" x2="698.0" y2="340.6" stroke="#555" stroke-width="0.9"/>
<text x="694.5" y="343.9" font-size="10" text-anchor="end" fill="#1e1e1e">10</text>
<line x1="695.5" y1="322.8" x2="698.0" y2="322.8" stroke="#555" stroke-width="0.9"/>
<text x="694.5" y="326.2" font-size="10" text-anchor="end" fill="#1e1e1e">20</text>
<line x1="695.5" y1="305.1" x2="698.0" y2="305.1" stroke="#555" stroke-width="0.9"/>
<text x="694.5" y="308.4" font-size="10" text-anchor="end" fill="#1e1e1e">30</text>
<line x1="695.5" y1="287.3" x2="698.0" y2="287.3" stroke="#555" stroke-width="0.9"/>
<text x="694.5" y="290.7" font-size="10" text-anchor="end" fill="#1e1e1e">40</text>
<line x1="695.5" y1="269.6" x2="698.0" y2="269.6" stroke="#555" stroke-width="0.9"/>
<text x="694.5" y="272.9" font-size="10" text-anchor="end" fill="#1e1e1e">50</text>
<rect x="707.8" y="310.5" width="23.0" height="47.8" fill="#606060" stroke="#4a4a4a" stroke-width="0.6"/>
<line x1="719.3" y1="306.0" x2="719.3" y2="310.5" stroke="#222" stroke-width="0.7"/>
<path d="M717.9 306.0h2.8l-1.4 1.6z" fill="#111"/>
<circle cx="719.3" cy="306.6" r="1.35" fill="#111"/>
<circle cx="719.3" cy="311.7" r="1.35" fill="#111"/>
<circle cx="719.3" cy="314.7" r="1.35" fill="#111"/>
<rect x="745.6" y="336.2" width="23.0" height="22.1" fill="#2e7e90" stroke="#21606e" stroke-width="0.6"/>
<line x1="757.1" y1="332.5" x2="757.1" y2="336.2" stroke="#222" stroke-width="0.7"/>
<path d="M755.7 332.5h2.8l-1.4 1.6z" fill="#111"/>
<circle cx="757.1" cy="333.0" r="1.35" fill="#111"/>
<circle cx="757.1" cy="336.2" r="1.35" fill="#111"/>
<circle cx="757.1" cy="339.9" r="1.35" fill="#111"/>
<rect x="783.0" y="291.6" width="23.0" height="66.7" fill="#c8433f" stroke="#9e302d" stroke-width="0.6"/>
<line x1="794.5" y1="286.3" x2="794.5" y2="291.6" stroke="#222" stroke-width="0.7"/>
<path d="M793.1 286.3h2.8l-1.4 1.6z" fill="#111"/>
<circle cx="794.5" cy="286.3" r="1.35" fill="#111"/>
<circle cx="794.5" cy="291.4" r="1.35" fill="#111"/>
<circle cx="794.5" cy="296.2" r="1.35" fill="#111"/>
<rect x="820.3" y="315.2" width="23.0" height="43.1" fill="#1f4a9e" stroke="#163a80" stroke-width="0.6"/>
<line x1="831.8" y1="308.2" x2="831.8" y2="315.2" stroke="#222" stroke-width="0.7"/>
<path d="M830.4 308.2h2.8l-1.4 1.6z" fill="#111"/>
<circle cx="831.8" cy="310.5" r="1.35" fill="#111"/>
<circle cx="831.8" cy="312.9" r="1.35" fill="#111"/>
<circle cx="831.8" cy="323.3" r="1.35" fill="#111"/>
<polyline points="719.3,303.6 719.3,299.0 757.1,299.0 757.1,303.6" fill="none" stroke="#666" stroke-width="0.8"/>
<text x="738.4" y="299.6" font-size="10.5" text-anchor="middle" fill="#222">***</text>
<polyline points="719.3,284.6 719.3,280.0 794.5,280.0 794.5,284.6" fill="none" stroke="#666" stroke-width="0.8"/>
<text x="756.3" y="280.6" font-size="10.5" text-anchor="middle" fill="#222">**</text>
<polyline points="757.1,272.4 757.1,267.8 831.8,267.8 831.8,272.4" fill="none" stroke="#666" stroke-width="0.8"/>
<text x="795.6" y="268.2" font-size="10.5" text-anchor="middle" fill="#222">*</text>
<text x="776.0" y="366.6" font-size="10" text-anchor="middle" fill="#1e1e1e">Hep3B cell</text>
<text x="679.2" y="309.5" font-size="10.5" text-anchor="middle" fill="#1e1e1e" transform="rotate(-90 679.2 309.5)">EdU positive rate%</text>
<line x1="698.0" y1="370.0" x2="698.0" y2="469.5" stroke="#555" stroke-width="0.9"/>
<line x1="698.0" y1="469.5" x2="855.0" y2="469.5" stroke="#555" stroke-width="0.9"/>
<line x1="695.5" y1="469.5" x2="698.0" y2="469.5" stroke="#555" stroke-width="0.9"/>
<text x="694.5" y="472.9" font-size="10" text-anchor="end" fill="#1e1e1e">0</text>
<line x1="695.5" y1="440.8" x2="698.0" y2="440.8" stroke="#555" stroke-width="0.9"/>
<text x="694.5" y="444.2" font-size="10" text-anchor="end" fill="#1e1e1e">20</text>
<line x1="695.5" y1="412.2" x2="698.0" y2="412.2" stroke="#555" stroke-width="0.9"/>
<text x="694.5" y="415.6" font-size="10" text-anchor="end" fill="#1e1e1e">40</text>
<line x1="695.5" y1="383.5" x2="698.0" y2="383.5" stroke="#555" stroke-width="0.9"/>
<text x="694.5" y="386.9" font-size="10" text-anchor="end" fill="#1e1e1e">60</text>
<rect x="707.8" y="414.5" width="23.0" height="55.0" fill="#606060" stroke="#4a4a4a" stroke-width="0.6"/>
<line x1="719.3" y1="410.0" x2="719.3" y2="414.5" stroke="#222" stroke-width="0.7"/>
<path d="M717.9 410.0h2.8l-1.4 1.6z" fill="#111"/>
<circle cx="719.3" cy="410.5" r="1.35" fill="#111"/>
<circle cx="719.3" cy="413.5" r="1.35" fill="#111"/>
<circle cx="719.3" cy="418.6" r="1.35" fill="#111"/>
<rect x="745.6" y="449.4" width="23.0" height="20.1" fill="#2e7e90" stroke="#21606e" stroke-width="0.6"/>
<line x1="757.1" y1="445.2" x2="757.1" y2="449.4" stroke="#222" stroke-width="0.7"/>
<path d="M755.7 445.2h2.8l-1.4 1.6z" fill="#111"/>
<circle cx="757.1" cy="445.7" r="1.35" fill="#111"/>
<circle cx="757.1" cy="450.5" r="1.35" fill="#111"/>
<circle cx="757.1" cy="452.6" r="1.35" fill="#111"/>
<rect x="783.0" y="402.0" width="23.0" height="67.5" fill="#c8433f" stroke="#9e302d" stroke-width="0.6"/>
<line x1="794.5" y1="397.8" x2="794.5" y2="402.0" stroke="#222" stroke-width="0.7"/>
<path d="M793.1 397.8h2.8l-1.4 1.6z" fill="#111"/>
<circle cx="794.5" cy="398.3" r="1.35" fill="#111"/>
<circle cx="794.5" cy="401.3" r="1.35" fill="#111"/>
<circle cx="794.5" cy="405.2" r="1.35" fill="#111"/>
<rect x="820.3" y="423.7" width="23.0" height="45.8" fill="#1f4a9e" stroke="#163a80" stroke-width="0.6"/>
<line x1="831.8" y1="420.5" x2="831.8" y2="423.7" stroke="#222" stroke-width="0.7"/>
<path d="M830.4 420.5h2.8l-1.4 1.6z" fill="#111"/>
<circle cx="831.8" cy="420.9" r="1.35" fill="#111"/>
<circle cx="831.8" cy="423.7" r="1.35" fill="#111"/>
<circle cx="831.8" cy="425.5" r="1.35" fill="#111"/>
<polyline points="719.3,407.0 719.3,402.0 757.1,402.0 757.1,407.0" fill="none" stroke="#666" stroke-width="0.8"/>
<text x="739.0" y="403.0" font-size="10.5" text-anchor="middle" fill="#222">***</text>
<polyline points="719.3,397.0 719.3,392.3 794.5,392.3 794.5,397.0" fill="none" stroke="#666" stroke-width="0.8"/>
<text x="752.9" y="392.6" font-size="10.5" text-anchor="middle" fill="#222">*</text>
<polyline points="757.1,385.5 757.1,380.5 831.8,380.5 831.8,385.5" fill="none" stroke="#666" stroke-width="0.8"/>
<text x="792.0" y="381.0" font-size="10.5" text-anchor="middle" fill="#222">***</text>
<text x="773.0" y="483.5" font-size="10" text-anchor="middle" fill="#1e1e1e">Huh7 cell</text>
<text x="679.2" y="420.0" font-size="10.5" text-anchor="middle" fill="#1e1e1e" transform="rotate(-90 679.2 420.0)">EdU positive rate%</text>
<text x="4.6" y="498.0" font-size="20" text-anchor="start" fill="#1e1e1e">E</text>
<text x="53.6" y="506.3" font-size="10.3" text-anchor="end" fill="#1e1e1e">shNC</text>
<path d="M78.10 500.60h7.8M82.00 497.10v7" stroke="#1a1a1a" stroke-width="1.15"/>
<path d="M156.80 502.10h4.2" stroke="#222" stroke-width="1.2"/>
<path d="M231.10 500.60h7.8M235.00 497.10v7" stroke="#1a1a1a" stroke-width="1.15"/>
<path d="M309.40 502.10h4.2" stroke="#222" stroke-width="1.2"/>
<text x="53.6" y="522.2" font-size="10.3" text-anchor="end" fill="#1e1e1e">shYBX1</text>
<path d="M79.90 518.00h4.2" stroke="#222" stroke-width="1.2"/>
<path d="M155.00 516.50h7.8M158.90 513.00v7" stroke="#1a1a1a" stroke-width="1.15"/>
<path d="M232.90 518.00h4.2" stroke="#222" stroke-width="1.2"/>
<path d="M307.60 516.50h7.8M311.50 513.00v7" stroke="#1a1a1a" stroke-width="1.15"/>
<text x="53.6" y="537.9" font-size="10.3" text-anchor="end" fill="#1e1e1e">vector</text>
<path d="M78.10 532.20h7.8M82.00 528.70v7" stroke="#1a1a1a" stroke-width="1.15"/>
<path d="M155.00 532.20h7.8M158.90 528.70v7" stroke="#1a1a1a" stroke-width="1.15"/>
<path d="M232.90 533.70h4.2" stroke="#222" stroke-width="1.2"/>
<path d="M309.40 533.70h4.2" stroke="#222" stroke-width="1.2"/>
<text x="53.6" y="554.0" font-size="10.3" text-anchor="end" fill="#1e1e1e">oe−RNF115</text>
<path d="M79.90 549.80h4.2" stroke="#222" stroke-width="1.2"/>
<path d="M156.80 549.80h4.2" stroke="#222" stroke-width="1.2"/>
<path d="M231.10 548.30h7.8M235.00 544.80v7" stroke="#1a1a1a" stroke-width="1.15"/>
<path d="M307.60 548.30h7.8M311.50 544.80v7" stroke="#1a1a1a" stroke-width="1.15"/>
<text x="41.6" y="600.0" font-size="10.5" text-anchor="end" fill="#1e1e1e">Hep3B</text>
<text x="38.5" y="676.5" font-size="10.5" text-anchor="end" fill="#1e1e1e">Huh7</text>
<defs><filter id="bl6" x="-50%" y="-50%" width="200%" height="200%"><feGaussianBlur stdDeviation="6"/></filter></defs>
<filter id="sp0" x="0" y="0" width="1" height="1"><feTurbulence type="fractalNoise" baseFrequency="1.7" numOctaves="2" seed="11"/><feColorMatrix type="matrix" values="0 0 0 0 0.42 0 0 0 0 0.32 0 0 0 0 0.64 14 0 0 0 -8.42"/></filter>
<clipPath id="dc0"><circle cx="82.4" cy="596.6" r="36.3"/></clipPath>
<circle cx="82.4" cy="596.6" r="36.3" fill="#dcd8ea"/>
<g clip-path="url(#dc0)">
<ellipse cx="109.4" cy="596.6" rx="11" ry="14" fill="#6e58b0" opacity="0.75" filter="url(#bl6)"/>
<rect x="46.1" y="560.3" width="72.6" height="72.6" filter="url(#sp0)" opacity="0.6"/>
<path d="M106 606h0M77 624h0M85 573h0M56 624h0M51 628h0M105 604h0M113 609h0M101 576h0M55 586h0M94 630h0M81 572h0M66 579h0M58 568h0M111 570h0M96 572h0M100 607h0M53 632h0M89 610h0M101 619h0M103 563h0M49 564h0M117 565h0M113 563h0M96 603h0M118 606h0M102 595h0M110 598h0M72 592h0M71 589h0M67 629h0M100 628h0M65 579h0M101 617h0M67 567h0M102 575h0M54 579h0M96 600h0M105 607h0M100 602h0M79 588h0M104 615h0M112 600h0M108 604h0M106 582h0M69 585h0M86 615h0M101 620h0M109 627h0M70 591h0M118 621h0M112 605h0M104 628h0M113 577h0M102 619h0M97 569h0M54 615h0M107 578h0M48 606h0M104 585h0M113 587h0M95 565h0M53 607h0M93 575h0M59 608h0M112 603h0M96 602h0M95 630h0M116 614h0M103 607h0M80 611h0M53 566h0M49 618h0M112 591h0M105 629h0M113 603h0M105 596h0M112 630h0M73 630h0M91 605h0M104 586h0M54 576h0M104 602h0M60 585h0M47 570h0M58 569h0M106 604h0M84 594h0M47 572h0M96 601h0M80 599h0M102 625h0M115 594h0M75 615h0M55 612h0M88 586h0M112 589h0M84 577h0M108 600h0M84 629h0M63 598h0M48 604h0M85 575h0M65 614h0M52 620h0M106 605h0M90 616h0M62 567h0M110 602h0M48 631h0M63 567h0M92 562h0M50 610h0M99 578h0M69 595h0M108 612h0M51 579h0M103 629h0M93 604h0M68 607h0M105 582h0M94 623h0M74 616h0M79 621h0M63 566h0M106 592h0M62 574h0M76 602h0M70 622h0M103 601h0M92 601h0M87 561h0M104 595h0M54 597h0M56 567h0M47 632h0M112 631h0M104 563h0M107 592h0M48 591h0M51 616h0M55 629h0M117 591h0M68 562h0M104 628h0M108 598h0M53 591h0M99 593h0M107 571h0M47 624h0M108 598h0M104 628h0M88 575h0M51 600h0M108 602h0M64 567h0M68 591h0M84 584h0M100 570h0M104 623h0M111 596h0M118 572h0M75 611h0M57 583h0M104 631h0M84 570h0M104 593h0M58 562h0M71 593h0M54 568h0M48 576h0M81 577h0M105 621h0M67 597h0M105 597h0M111 600h0M56 593h0M107 623h0M52 586h0M90 575h0M52 624h0M64 589h0M60 569h0M96 591h0M108 604h0M107 619h0M91 595h0M107 607h0M57 565h0M92 567h0M53 564h0M106 596h0M95 603h0M48 579h0M50 625h0M51 630h0M67 623h0M114 601h0M108 598h0M64 603h0M95 614h0M116 607h0M58 588h0M105 598h0M52 589h0M95 574h0M47 574h0M112 596h0M103 595h0M107 594h0M99 593h0M99 604h0M81 578h0M89 593h0M52 570h0M50 565h0M56 603h0M87 603h0M118 598h0M86 606h0M55 595h0M84 624h0M50 590h0M92 623h0M54 569h0M60 594h0M80 603h0M99 600h0M65 628h0M86 594h0M57 589h0M110 589h0M51 563h0M55 603h0M109 622h0M97 597h0M90 578h0M63 569h0M98 593h0M74 569h0M91 578h0M83 616h0M99 601h0M71 585h0M82 579h0M96 589h0M53 567h0M47 572h0M80 596h0M89 618h0M113 580h0M51 594h0M101 562h0M52 584h0M64 570h0M67 594h0M73 581h0M77 579h0M117 632h0M78 576h0M81 579h0M88 600h0M84 569h0M89 618h0M78 564h0M63 562h0M97 593h0M101 621h0M60 593h0M111 616h0M60 564h0M80 576h0M83 601h0M107 598h0M50 602h0M74 584h0M69 627h0M110 594h0M93 603h0M112 600h0M89 597h0M51 570h0M71 630h0M108 595h0M81 592h0M85 564h0M109 621h0M70 593h0M107 631h0M115 562h0M59 588h0M85 567h0M53 562h0M48 588h0M59 600h0M107 588h0M87 588h0M96 590h0M63 582h0M107 593h0M115 599h0M114 565h0M64 578h0M59 604h0M80 593h0M108 605h0M100 609h0M53 591h0M114 595h0M57 567h0M113 609h0M67 617h0M96 594h0M98 583h0M78 597h0M87 588h0M86 593h0M100 612h0M76 591h0M87 608h0M81 571h0M88 631h0M116 588h0M64 611h0M67 591h0M100 590h0M63 609h0M69 575h0M85 617h0M87 607h0M99 625h0M49 591h0M104 580h0M106 604h0M73 590h0M73 614h0M73 592h0M96 607h0M62 571h0M104 576h0M73 575h0M105 593h0M88 584h0M108 591h0M59 597h0" stroke="#6a4aa8" stroke-width="0.9" stroke-linecap="round" stroke-opacity="0.55" transform="scale(1.0)"/>
</g>
<circle cx="82.4" cy="596.6" r="35.9" fill="none" stroke="#b8b0d8" stroke-width="0.7" opacity="0.85"/>
<filter id="sp1" x="0" y="0" width="1" height="1"><feTurbulence type="fractalNoise" baseFrequency="1.7" numOctaves="2" seed="12"/><feColorMatrix type="matrix" values="0 0 0 0 0.45 0 0 0 0 0.38 0 0 0 0 0.62 14 0 0 0 -9.68"/></filter>
<clipPath id="dc1"><circle cx="158.9" cy="599" r="36.0"/></clipPath>
<circle cx="158.9" cy="599" r="36.0" fill="#e6e4ee"/>
<g clip-path="url(#dc1)">
<ellipse cx="160.9" cy="593" rx="22" ry="16" fill="#d2d2d8" opacity="0.8" filter="url(#bl6)"/>
<rect x="122.9" y="563.0" width="72.0" height="72.0" filter="url(#sp1)" opacity="0.6"/>
<path d="M153 623h0M131 630h0M161 573h0M184 618h0M127 570h0M131 605h0M161 630h0M148 620h0M138 620h0M133 566h0M141 580h0M156 578h0M126 595h0M137 570h0M167 579h0M173 568h0M162 606h0M158 614h0M182 624h0M194 586h0M194 598h0M127 615h0M162 605h0M167 623h0M130 631h0M175 588h0M130 627h0M146 630h0M144 568h0M172 627h0M171 595h0M182 582h0M161 576h0M142 608h0M164 627h0M191 610h0M168 599h0M139 585h0M134 584h0M129 595h0M139 621h0M147 579h0M164 622h0M150 607h0M134 620h0M168 591h0M151 574h0M176 565h0M124 624h0M187 570h0M153 611h0M144 617h0M185 599h0M143 578h0M165 629h0M156 584h0M125 566h0M171 594h0" stroke="#6a5ca8" stroke-width="0.9" stroke-linecap="round" stroke-opacity="0.55" transform="scale(1.0)"/>
</g>
<circle cx="158.9" cy="599" r="35.6" fill="none" stroke="#d8d4e4" stroke-width="0.7" opacity="0.85"/>
<filter id="sp2" x="0" y="0" width="1" height="1"><feTurbulence type="fractalNoise" baseFrequency="1.7" numOctaves="2" seed="13"/><feColorMatrix type="matrix" values="0 0 0 0 0.38 0 0 0 0 0.28 0 0 0 0 0.62 14 0 0 0 -7.72"/></filter>
<clipPath id="dc2"><circle cx="235" cy="599" r="36.3"/></clipPath>
<circle cx="235" cy="599" r="36.3" fill="#cdc6e4"/>
<g clip-path="url(#dc2)">
<circle cx="235" cy="599" r="36.3" fill="none" stroke="#8070c0" stroke-width="6" opacity="0.5" filter="url(#bl)"/>
<rect x="198.7" y="562.7" width="72.6" height="72.6" filter="url(#sp2)" opacity="0.6"/>
<path d="M211 569h0M207 612h0M257 567h0M256 579h0M269 604h0M253 580h0M263 613h0M212 598h0M244 611h0M250 585h0M250 605h0M247 614h0M238 629h0M256 598h0M239 594h0M221 588h0M267 632h0M230 596h0M247 605h0M217 568h0M225 631h0M230 593h0M250 608h0M242 570h0M259 596h0M199 598h0M260 598h0M204 630h0M225 631h0M238 585h0M243 578h0M223 621h0M231 619h0M204 568h0M261 591h0M269 619h0M203 583h0M254 632h0M238 622h0M237 600h0M262 572h0M241 571h0M209 626h0M265 600h0M258 598h0M206 604h0M223 615h0M228 577h0M244 596h0M255 587h0M221 634h0M236 620h0M270 599h0M210 588h0M260 633h0M199 634h0M227 572h0M219 601h0M213 591h0M234 612h0M233 575h0M223 599h0M256 579h0M243 577h0M249 565h0M249 611h0M238 582h0M250 593h0M238 599h0M202 630h0M234 569h0M249 630h0M233 570h0M203 633h0M263 625h0M245 586h0M219 567h0M238 570h0M246 573h0M239 629h0M246 570h0M244 573h0M209 597h0M243 582h0M243 599h0M252 625h0M247 565h0M244 575h0M230 584h0M241 607h0M238 567h0M203 586h0M244 574h0M205 631h0M247 565h0M216 613h0M256 584h0M200 572h0M227 589h0M203 609h0M223 571h0M204 611h0M252 569h0M212 625h0M229 625h0M219 585h0M246 624h0M205 602h0M205 624h0M268 602h0M261 630h0M258 595h0M214 563h0M214 595h0M267 621h0M242 573h0M263 626h0M237 600h0M263 575h0M229 582h0M248 591h0M268 624h0M266 615h0M232 567h0M268 613h0M249 621h0M222 630h0M211 572h0M240 626h0M236 575h0M231 612h0M231 619h0M245 617h0M248 613h0M236 576h0M255 594h0M235 597h0M204 626h0M228 614h0M218 587h0M242 615h0M233 580h0M230 566h0M237 579h0M205 565h0M245 584h0M270 602h0M208 573h0M201 612h0M237 620h0M226 634h0M227 600h0M215 568h0M253 587h0M209 566h0M244 611h0M200 611h0M242 626h0M240 624h0M253 633h0M269 609h0M246 593h0M240 569h0M235 605h0M266 593h0M203 595h0M246 571h0M220 614h0M199 594h0M270 579h0M217 580h0M245 610h0M225 625h0M226 584h0M242 618h0M240 619h0M262 569h0M265 626h0M231 590h0M261 600h0M263 603h0M244 615h0M268 602h0M216 591h0M265 595h0M262 593h0M202 578h0M234 622h0M266 633h0M270 584h0M269 601h0M263 568h0M229 595h0M253 607h0M239 596h0M219 580h0M252 600h0M240 619h0M225 626h0M226 635h0M254 575h0M265 630h0M221 622h0M244 616h0M201 593h0M249 611h0M220 597h0M212 629h0M251 564h0M228 627h0M219 634h0M243 574h0M228 570h0M240 598h0M209 622h0M224 590h0M200 633h0M239 611h0M222 626h0M234 566h0M266 630h0M211 595h0M232 624h0M206 573h0M204 622h0M263 627h0M203 587h0M216 587h0M218 610h0M244 630h0M258 629h0M259 624h0M229 594h0M246 622h0M234 576h0M243 592h0M255 616h0M244 617h0M218 567h0M231 628h0M229 628h0M234 598h0M223 632h0M213 609h0M200 591h0M230 604h0M225 579h0M234 625h0M265 600h0M250 624h0M230 603h0M232 564h0M261 621h0M255 584h0M229 624h0M234 626h0M263 597h0M263 616h0M212 609h0M229 618h0M222 634h0M219 613h0M251 599h0M241 566h0M248 611h0M205 573h0M270 579h0M248 619h0M225 608h0M243 625h0M245 587h0M206 621h0M212 631h0M200 571h0M250 567h0M226 565h0M243 607h0M241 574h0M254 577h0M221 624h0M247 596h0M230 621h0M218 587h0M245 565h0M216 583h0M225 608h0M234 576h0M235 577h0M265 597h0M256 572h0M266 612h0M258 566h0M256 626h0M235 577h0M233 629h0M266 603h0M222 614h0M231 600h0M232 582h0M238 602h0M222 576h0M251 622h0M255 573h0M225 593h0M238 581h0M221 613h0M228 619h0M254 568h0M215 566h0M268 612h0M268 592h0M266 621h0M266 591h0M208 619h0M262 623h0M220 610h0M270 583h0M215 591h0M265 589h0M246 611h0M241 601h0M221 596h0M214 590h0M247 616h0M244 607h0M267 604h0M237 623h0M245 573h0M251 607h0M205 634h0M267 601h0M244 599h0M204 630h0M216 603h0M226 624h0M242 610h0M219 566h0M261 626h0M240 632h0M207 635h0M261 630h0M262 619h0M262 615h0M229 619h0M251 566h0M269 624h0M238 610h0M227 610h0M238 576h0M257 583h0M243 581h0M244 567h0M237 596h0M245 609h0M220 623h0M260 595h0M205 601h0M200 628h0M230 608h0M212 634h0M232 590h0M253 596h0M269 623h0M242 609h0M235 599h0M234 628h0M228 622h0M240 605h0M214 588h0M220 612h0M215 621h0M204 631h0M217 583h0M209 609h0M253 620h0M269 575h0M238 578h0M244 589h0M238 580h0M204 613h0M216 564h0M257 604h0M200 631h0M199 595h0M253 577h0M221 613h0M249 595h0M266 564h0M215 584h0M201 632h0M248 626h0M237 572h0M268 613h0M233 582h0M267 564h0M201 598h0M235 627h0M239 634h0M234 626h0M216 609h0M269 621h0M232 581h0M206 578h0M243 572h0M239 582h0M227 612h0M219 621h0M221 564h0M244 586h0M219 569h0M268 592h0M223 633h0M262 575h0M228 632h0M218 578h0M239 600h0M248 611h0M270 588h0M236 597h0M243 634h0M241 615h0M261 594h0M228 583h0M264 602h0M270 591h0M210 601h0M257 577h0M254 633h0M233 598h0M270 565h0M256 583h0M254 620h0M235 599h0M263 627h0M226 623h0M249 615h0M219 624h0M231 589h0M221 608h0M230 611h0M227 628h0M238 571h0M236 618h0M229 574h0M264 625h0M247 616h0M228 594h0M248 570h0M230 579h0M223 610h0M226 623h0M265 589h0M242 628h0M250 631h0M222 634h0M256 565h0M265 564h0M251 621h0M257 598h0M204 566h0M251 603h0M242 611h0M238 618h0M255 575h0M251 600h0M215 583h0M226 581h0M238 597h0M227 573h0M213 576h0M218 569h0M226 592h0M268 606h0M224 591h0M253 617h0M256 577h0M258 601h0M260 564h0M233 605h0M214 609h0M204 602h0M214 570h0M249 565h0M247 611h0M229 630h0M229 619h0M247 577h0M252 566h0M218 600h0M222 618h0M217 579h0M228 621h0M213 580h0M226 626h0M202 598h0M233 580h0M251 621h0M269 570h0M208 564h0M247 603h0M210 614h0M207 613h0M230 604h0M233 606h0M255 615h0M223 593h0M226 608h0M229 623h0M238 578h0M264 619h0M217 628h0M204 628h0M205 585h0M236 610h0M246 610h0M238 606h0M203 632h0M257 613h0M237 592h0M204 592h0M254 601h0M236 627h0M219 585h0M250 599h0M209 564h0M212 597h0M245 625h0M209 564h0M262 595h0M200 601h0M208 574h0M208 581h0M231 584h0M199 630h0M220 564h0M244 569h0M206 634h0M250 612h0M225 609h0M253 569h0M270 613h0M217 604h0M262 597h0M255 579h0M200 572h0M265 565h0M204 625h0M240 615h0M215 624h0M200 563h0M233 572h0M214 564h0M234 614h0M224 627h0M200 588h0M217 578h0M223 615h0M218 612h0M218 564h0M211 569h0M201 617h0M224 616h0M217 592h0M228 610h0M222 615h0M200 633h0M239 576h0M267 572h0M207 568h0M220 631h0M243 583h0M202 613h0M248 615h0M258 613h0M259 635h0M264 622h0M256 620h0" stroke="#5a40a0" stroke-width="0.9" stroke-linecap="round" stroke-opacity="0.55" transform="scale(1.0)"/>
</g>
<circle cx="235" cy="599" r="35.9" fill="none" stroke="#8e80c6" stroke-width="0.7" opacity="0.85"/>
<filter id="sp3" x="0" y="0" width="1" height="1"><feTurbulence type="fractalNoise" baseFrequency="1.7" numOctaves="2" seed="14"/><feColorMatrix type="matrix" values="0 0 0 0 0.42 0 0 0 0 0.32 0 0 0 0 0.64 14 0 0 0 -8.70"/></filter>
<clipPath id="dc3"><circle cx="311.5" cy="599.4" r="36.2"/></clipPath>
<circle cx="311.5" cy="599.4" r="36.2" fill="#e0ddec"/>
<g clip-path="url(#dc3)">
<ellipse cx="316.5" cy="573.4" rx="26" ry="12" fill="#b0a4d4" opacity="0.6" filter="url(#bl6)"/>
<rect x="275.3" y="563.2" width="72.4" height="72.4" filter="url(#sp3)" opacity="0.6"/>
<path d="M300 598h0M314 585h0M308 600h0M316 598h0M335 574h0M295 588h0M344 635h0M343 629h0M347 584h0M294 602h0M322 619h0M319 594h0M337 585h0M313 592h0M310 610h0M288 635h0M289 605h0M347 598h0M318 581h0M335 597h0M330 597h0M338 574h0M276 632h0M288 631h0M306 564h0M284 593h0M276 633h0M311 610h0M340 572h0M311 606h0M282 630h0M316 634h0M285 594h0M340 625h0M301 618h0M287 579h0M301 623h0M346 631h0M321 606h0M339 621h0M321 579h0M333 632h0M324 628h0M319 631h0M301 618h0M310 606h0M338 596h0M291 634h0M322 585h0M279 622h0M321 587h0M335 599h0M319 582h0M290 604h0M312 606h0M300 624h0M314 612h0M345 635h0M309 575h0M331 616h0M333 589h0M333 633h0M286 630h0M317 602h0M311 577h0M323 570h0M284 632h0M281 571h0M331 574h0M282 606h0M294 595h0M281 592h0M319 633h0M328 623h0M342 621h0M345 619h0M298 577h0M336 623h0M292 597h0M326 576h0M309 624h0M294 627h0M288 618h0M328 617h0M333 590h0M321 582h0M344 631h0M303 621h0M297 604h0M309 580h0M313 605h0M287 575h0M290 574h0M333 618h0M298 606h0M300 611h0M296 632h0M299 623h0M327 609h0M316 610h0M335 613h0M276 621h0M322 576h0M340 585h0M341 596h0M298 576h0M326 566h0M307 573h0M297 632h0M294 628h0M344 571h0M329 610h0M319 578h0M347 628h0M328 614h0M334 609h0M315 567h0M278 572h0M279 624h0M288 624h0M320 573h0M313 590h0M333 596h0M347 599h0M323 579h0M284 595h0M319 629h0M312 567h0M292 598h0M293 568h0M282 591h0M328 583h0M277 575h0M343 623h0M293 633h0M289 567h0M294 596h0M332 619h0M322 610h0M324 584h0M282 582h0M326 587h0M298 599h0M333 589h0M286 576h0M341 628h0M288 593h0M297 624h0M334 566h0M301 601h0M319 569h0M294 576h0M326 624h0M326 564h0M335 627h0M332 624h0M306 580h0M322 613h0M313 566h0M299 624h0M293 602h0M300 575h0M285 615h0M326 614h0M322 613h0M278 599h0M346 575h0M318 572h0M333 588h0M326 616h0M319 628h0M320 589h0M279 581h0M314 609h0M300 575h0M328 571h0M345 634h0M335 597h0M319 601h0M316 609h0M315 589h0M276 570h0M342 564h0M326 626h0M330 610h0M310 619h0M294 569h0M285 589h0M294 586h0M301 588h0M341 611h0M345 629h0M312 585h0M283 593h0M276 629h0M288 622h0M341 619h0M325 626h0M305 574h0M339 602h0M337 618h0M343 570h0M312 580h0M335 597h0M316 631h0M341 579h0M332 626h0M279 568h0M333 577h0M279 613h0M321 579h0M333 597h0M337 597h0M322 569h0M340 582h0M313 601h0M323 599h0M333 620h0M289 571h0M310 619h0M322 568h0M305 589h0M293 612h0M338 632h0M288 601h0M315 575h0M303 617h0M285 569h0M320 565h0M337 616h0M341 602h0M314 597h0M307 600h0M285 635h0M324 568h0M291 579h0M328 590h0M324 567h0M288 581h0M322 570h0M304 598h0M302 629h0M309 629h0" stroke="#6a4aa8" stroke-width="0.9" stroke-linecap="round" stroke-opacity="0.55" transform="scale(1.0)"/>
</g>
<circle cx="311.5" cy="599.4" r="35.800000000000004" fill="none" stroke="#c8c2de" stroke-width="0.7" opacity="0.85"/>
<filter id="sp4" x="0" y="0" width="1" height="1"><feTurbulence type="fractalNoise" baseFrequency="1.7" numOctaves="2" seed="15"/><feColorMatrix type="matrix" values="0 0 0 0 0.35 0 0 0 0 0.3 0 0 0 0 0.5 14 0 0 0 -9.96"/></filter>
<clipPath id="dc4"><circle cx="82.4" cy="673.6" r="36.2"/></clipPath>
<circle cx="82.4" cy="673.6" r="36.2" fill="#eeeef0"/>
<g clip-path="url(#dc4)">
<rect x="46.2" y="637.4" width="72.4" height="72.4" filter="url(#sp4)" opacity="0.6"/>
<path d="M91 695h0M67 647h0M110 688h0M83 660h0M102 638h0M78 658h0M65 687h0M63 668h0M103 671h0M84 654h0M98 687h0M98 673h0M105 674h0M97 672h0M104 676h0M80 666h0M56 708h0M103 655h0M91 670h0M86 656h0M86 670h0M68 693h0M64 655h0M83 670h0M75 681h0M105 675h0M97 667h0M67 655h0M55 669h0M98 686h0M117 656h0M72 691h0M63 669h0M95 678h0M79 661h0M88 671h0M97 675h0M84 654h0M90 665h0M104 686h0M94 673h0M81 708h0M83 659h0M82 659h0M84 666h0M60 659h0M104 647h0M78 654h0M86 677h0M98 669h0M82 656h0M84 702h0M67 643h0M62 652h0M103 666h0M63 678h0M80 664h0M84 655h0M83 658h0M86 683h0M88 703h0M47 656h0M113 676h0M75 653h0M76 655h0M92 673h0M101 682h0M107 674h0M107 672h0M98 674h0M101 661h0M99 675h0M82 679h0M52 642h0M109 669h0M84 655h0M104 680h0M49 639h0M102 644h0M110 679h0M64 646h0M73 661h0M95 675h0M91 700h0M84 701h0M110 684h0M65 675h0M104 684h0M101 685h0M96 672h0M104 659h0M101 665h0M93 676h0M103 668h0M79 656h0M75 693h0M50 685h0M90 705h0M91 656h0M100 672h0M55 694h0M80 679h0M97 685h0M101 679h0M110 678h0M80 669h0M86 639h0M57 684h0M84 691h0M54 677h0M75 658h0M70 647h0M85 664h0M118 698h0M102 671h0M93 682h0M112 678h0M98 665h0M99 684h0M105 679h0M110 683h0M84 656h0M53 646h0M81 657h0M61 685h0M99 672h0M91 684h0M117 681h0M107 671h0M95 659h0M57 682h0M77 658h0M91 701h0M108 700h0M98 682h0M54 647h0M88 687h0M104 676h0M90 683h0M50 665h0M74 709h0M78 660h0M112 685h0M83 668h0M93 677h0M103 682h0M105 674h0" stroke="#4a3a80" stroke-width="0.9" stroke-linecap="round" stroke-opacity="0.75" transform="scale(1.0)"/>
</g>
<circle cx="82.4" cy="673.6" r="35.800000000000004" fill="none" stroke="#8a8a8a" stroke-width="0.7" opacity="0.85"/>
<filter id="sp5" x="0" y="0" width="1" height="1"><feTurbulence type="fractalNoise" baseFrequency="1.7" numOctaves="2" seed="16"/><feColorMatrix type="matrix" values="0 0 0 0 0.4 0 0 0 0 0.36 0 0 0 0 0.55 14 0 0 0 -10.52"/></filter>
<clipPath id="dc5"><circle cx="158.9" cy="673.5" r="36.1"/></clipPath>
<circle cx="158.9" cy="673.5" r="36.1" fill="#ececef"/>
<g clip-path="url(#dc5)">
<rect x="122.8" y="637.4" width="72.2" height="72.2" filter="url(#sp5)" opacity="0.6"/>
<path d="M188 643h0M156 659h0M155 659h0M178 640h0M161 649h0M142 647h0M183 684h0M159 641h0M150 668h0M166 649h0M193 699h0M128 707h0M137 709h0M164 690h0M149 682h0M156 687h0M162 642h0M188 682h0M147 658h0M145 655h0M189 689h0M192 666h0M160 690h0M190 706h0M194 687h0M146 638h0M160 683h0M191 688h0M190 681h0M176 653h0M182 698h0M140 703h0M129 687h0M178 703h0M187 689h0M158 692h0M189 641h0M167 703h0M184 705h0" stroke="#5a4a90" stroke-width="0.9" stroke-linecap="round" stroke-opacity="0.75" transform="scale(1.0)"/>
</g>
<circle cx="158.9" cy="673.5" r="35.7" fill="none" stroke="#9a9a9a" stroke-width="0.7" opacity="0.85"/>
<filter id="sp6" x="0" y="0" width="1" height="1"><feTurbulence type="fractalNoise" baseFrequency="1.7" numOctaves="2" seed="17"/><feColorMatrix type="matrix" values="0 0 0 0 0.25 0 0 0 0 0.2 0 0 0 0 0.55 14 0 0 0 -8.98"/></filter>
<clipPath id="dc6"><circle cx="235" cy="673.9" r="36.3"/></clipPath>
<circle cx="235" cy="673.9" r="36.3" fill="#f0f0f2"/>
<g clip-path="url(#dc6)">
<rect x="198.7" y="637.6" width="72.6" height="72.6" filter="url(#sp6)" opacity="0.6"/>
<path d="M259 677h0M244 656h0M238 682h0M265 672h0M216 707h0M201 652h0M249 691h0M246 651h0M236 693h0M235 678h0M202 641h0M269 708h0M263 706h0M223 661h0M229 672h0M204 708h0M240 684h0M220 645h0M243 639h0M208 656h0M209 705h0M265 682h0M239 670h0M233 688h0M222 642h0M236 649h0M251 682h0M255 683h0M266 665h0M219 700h0M241 656h0M213 705h0M237 682h0M224 657h0M237 670h0M225 642h0M202 692h0M265 666h0M235 671h0M246 657h0M204 648h0M220 695h0M225 694h0M228 699h0M215 663h0M268 694h0M236 666h0M257 685h0M258 667h0M239 691h0M259 685h0M215 698h0M202 667h0M256 640h0M226 699h0M202 689h0M260 682h0M261 700h0M237 679h0M243 639h0M257 644h0M231 652h0M239 662h0M238 658h0M238 672h0M254 701h0M268 678h0M257 677h0M255 708h0M202 690h0M227 692h0M214 710h0M232 651h0M204 668h0M247 650h0M240 683h0M257 648h0M215 681h0M267 696h0M212 655h0M245 660h0M230 670h0M228 661h0M244 663h0M242 681h0M238 672h0M248 692h0M259 668h0M204 701h0M224 685h0M265 640h0M216 707h0M259 685h0M210 686h0M217 703h0M203 703h0M262 667h0M214 649h0M225 696h0M218 685h0M221 671h0M218 646h0M249 678h0M211 682h0M256 690h0M203 699h0M265 670h0M267 703h0M202 638h0M264 664h0M214 694h0M231 677h0M215 638h0M207 654h0M245 706h0M266 664h0M224 696h0M225 663h0M258 660h0M203 660h0M270 659h0M237 683h0M207 702h0M254 639h0M219 659h0M203 677h0M239 640h0M257 639h0M239 673h0M225 656h0M218 638h0M219 688h0M220 695h0M204 695h0M203 700h0M207 670h0M239 661h0M221 647h0M271 688h0M223 648h0M252 650h0M248 701h0M238 678h0M254 692h0M262 704h0M258 669h0M258 652h0M265 682h0M251 709h0M258 674h0M230 657h0M268 683h0M213 649h0M223 646h0M236 682h0M204 640h0M239 695h0M236 652h0M265 662h0M236 648h0M234 657h0M220 701h0M252 655h0M262 639h0M207 709h0M235 651h0M224 642h0M214 649h0M258 690h0M268 699h0M202 672h0M243 668h0M254 669h0M225 699h0M242 670h0M254 700h0M204 668h0M236 672h0M235 685h0M237 651h0M226 671h0M264 692h0M243 643h0M211 652h0M211 673h0M227 673h0M232 693h0M225 696h0M243 645h0M256 685h0M218 706h0M237 694h0M207 707h0M212 650h0M213 666h0M219 648h0M223 708h0M255 671h0M216 661h0M208 672h0M230 683h0M262 701h0M205 695h0M229 667h0M235 678h0M231 671h0M241 677h0M259 668h0M215 706h0M239 668h0M206 639h0M240 642h0M221 673h0M259 642h0M230 658h0M242 642h0M249 641h0M247 656h0M227 703h0M246 648h0M219 642h0M225 670h0M205 684h0M234 680h0M207 678h0M206 705h0M228 670h0M247 663h0M201 705h0M257 665h0M244 659h0M227 675h0M214 708h0M211 671h0M215 638h0M243 688h0M211 651h0M210 645h0M265 695h0M202 652h0M255 666h0M259 665h0M202 667h0M235 666h0M228 674h0M265 640h0M211 641h0M241 679h0M231 681h0M230 669h0M221 709h0M267 680h0M250 676h0M236 682h0M227 705h0M262 660h0M213 671h0M223 675h0M259 646h0M229 694h0M223 701h0M238 710h0M262 674h0M250 662h0M247 666h0M269 657h0M217 649h0M210 701h0M260 675h0M254 705h0M238 685h0M267 679h0M269 665h0M262 672h0M243 681h0M221 704h0M268 698h0M244 695h0M254 642h0M224 696h0M201 708h0M205 654h0M251 643h0M259 698h0M239 703h0M244 655h0M220 692h0M235 677h0M247 674h0M231 698h0M247 673h0M236 694h0M220 701h0M254 702h0M234 692h0M240 666h0M263 692h0M232 654h0M204 676h0M237 681h0M199 644h0M224 651h0M245 642h0M231 656h0M207 644h0M222 645h0M252 685h0M230 678h0M226 662h0M216 704h0M232 660h0M241 645h0M243 644h0M204 699h0M250 708h0M249 662h0M210 702h0M259 647h0M270 702h0M269 706h0M260 672h0M259 646h0M201 670h0M236 681h0M260 676h0M241 638h0M256 658h0M214 699h0M258 682h0M258 643h0M204 643h0M213 682h0M237 680h0M260 685h0M244 660h0M240 659h0M221 665h0M217 698h0M261 652h0M249 703h0M233 692h0M221 692h0M257 677h0M253 663h0M239 672h0M259 645h0M230 674h0M237 650h0M227 644h0M247 705h0M202 674h0M233 677h0M235 669h0M211 646h0M204 672h0M258 679h0M223 656h0M268 676h0M214 674h0M239 678h0M257 672h0M207 646h0M234 674h0M210 695h0M235 673h0M213 699h0M267 681h0M228 697h0M235 672h0M262 706h0M231 698h0M204 671h0M234 666h0M265 663h0M238 666h0M251 696h0M226 707h0" stroke="#3a2a88" stroke-width="0.9" stroke-linecap="round" stroke-opacity="0.75" transform="scale(1.0)"/>
</g>
<circle cx="235" cy="673.9" r="35.9" fill="none" stroke="#6060a4" stroke-width="0.7" opacity="0.85"/>
<filter id="sp7" x="0" y="0" width="1" height="1"><feTurbulence type="fractalNoise" baseFrequency="1.7" numOctaves="2" seed="18"/><feColorMatrix type="matrix" values="0 0 0 0 0.35 0 0 0 0 0.3 0 0 0 0 0.5 14 0 0 0 -9.68"/></filter>
<clipPath id="dc7"><circle cx="311.5" cy="673.5" r="36.1"/></clipPath>
<circle cx="311.5" cy="673.5" r="36.1" fill="#eeeef0"/>
<g clip-path="url(#dc7)">
<rect x="275.4" y="637.4" width="72.2" height="72.2" filter="url(#sp7)" opacity="0.6"/>
<path d="M293 673h0M306 687h0M315 690h0M312 639h0M334 693h0M339 671h0M296 640h0M305 699h0M323 676h0M292 672h0M301 657h0M316 661h0M277 672h0M298 641h0M312 670h0M321 655h0M335 642h0M283 650h0M327 688h0M300 649h0M320 700h0M324 698h0M316 706h0M331 650h0M333 667h0M281 640h0M336 654h0M333 704h0M335 640h0M305 656h0M318 658h0M305 699h0M341 705h0M315 692h0M298 668h0M316 673h0M341 651h0M295 642h0M339 697h0M339 644h0M290 697h0M285 648h0M286 654h0M300 662h0M344 676h0M319 679h0M343 676h0M321 651h0M308 662h0M317 677h0M295 670h0M302 695h0M283 658h0M301 695h0M342 642h0M310 691h0M347 649h0M317 670h0M316 689h0M276 704h0M291 668h0M290 654h0M338 656h0M296 687h0M316 661h0M310 675h0M285 681h0M337 691h0M308 658h0M283 661h0M279 640h0M314 638h0M325 644h0M318 676h0M323 645h0M315 670h0M341 664h0M335 689h0M312 692h0M335 673h0M317 679h0M308 653h0M288 674h0M317 652h0M319 678h0M299 667h0M305 705h0M326 661h0M316 647h0M313 666h0M323 648h0M301 693h0M298 640h0M336 700h0M345 675h0M335 701h0M338 645h0M285 659h0M323 676h0M311 671h0M285 692h0M304 683h0M300 679h0M319 701h0M331 656h0M291 680h0M344 651h0M302 682h0M304 685h0M318 668h0M326 649h0M284 644h0M286 694h0M345 705h0M329 689h0M282 689h0M339 687h0M345 707h0M308 652h0M279 638h0M278 688h0M290 706h0M282 708h0M297 677h0M303 643h0M298 656h0M299 682h0M317 666h0M289 674h0M318 660h0M327 700h0M323 695h0M307 658h0M311 709h0M282 639h0M327 698h0M324 699h0M291 706h0M328 708h0M307 699h0M297 683h0M291 691h0M336 645h0M311 665h0M290 677h0M316 679h0M284 701h0M299 669h0M284 704h0M346 695h0M283 682h0M322 691h0M340 680h0M325 699h0M298 640h0M324 659h0M346 656h0M296 702h0M333 691h0M345 698h0M316 665h0M312 674h0M277 708h0M317 678h0M294 694h0M310 704h0M300 670h0M296 664h0M289 656h0" stroke="#4a3a80" stroke-width="0.9" stroke-linecap="round" stroke-opacity="0.75" transform="scale(1.0)"/>
</g>
<circle cx="311.5" cy="673.5" r="35.7" fill="none" stroke="#8a8a8a" stroke-width="0.7" opacity="0.85"/>
<rect x="426.0" y="505.1" width="9.5" height="9.2" fill="#606060" stroke="#4a4a4a" stroke-width="0.5"/>
<text x="437.6" y="512.8" font-size="10.2" text-anchor="start" fill="#1e1e1e">shNC&amp;vector</text>
<rect x="512.7" y="505.1" width="9.5" height="9.2" fill="#2e7e90" stroke="#21606e" stroke-width="0.5"/>
<text x="524.3" y="512.8" font-size="10.2" text-anchor="start" fill="#1e1e1e">vector&amp;shYBX1</text>
<rect x="611.6" y="505.3" width="9.5" height="9.2" fill="#c8433f" stroke="#9e302d" stroke-width="0.5"/>
<text x="621.8" y="512.8" font-size="10.2" text-anchor="start" fill="#1e1e1e">shNC&amp;oe-RNF115</text>
<rect x="719.7" y="505.3" width="9.5" height="9.2" fill="#1f4a9e" stroke="#163a80" stroke-width="0.5"/>
<text x="730.5" y="512.8" font-size="10.2" text-anchor="start" fill="#1e1e1e">shYBX1&amp;oe-RNF115</text>
<line x1="386.7" y1="517.5" x2="386.7" y2="698.3" stroke="#555" stroke-width="0.9"/>
<line x1="386.7" y1="698.3" x2="602.0" y2="698.3" stroke="#555" stroke-width="0.9"/>
<line x1="384.2" y1="698.3" x2="386.7" y2="698.3" stroke="#555" stroke-width="0.9"/>
<text x="383.2" y="701.7" font-size="10" text-anchor="end" fill="#1e1e1e">0</text>
<line x1="384.2" y1="646.8" x2="386.7" y2="646.8" stroke="#555" stroke-width="0.9"/>
<text x="383.2" y="650.2" font-size="10" text-anchor="end" fill="#1e1e1e">250</text>
<line x1="384.2" y1="595.3" x2="386.7" y2="595.3" stroke="#555" stroke-width="0.9"/>
<text x="383.2" y="598.7" font-size="10" text-anchor="end" fill="#1e1e1e">500</text>
<line x1="384.2" y1="543.8" x2="386.7" y2="543.8" stroke="#555" stroke-width="0.9"/>
<text x="383.2" y="547.2" font-size="10" text-anchor="end" fill="#1e1e1e">750</text>
<rect x="402.0" y="613.0" width="31.0" height="85.3" fill="#606060" stroke="#4a4a4a" stroke-width="0.6"/>
<line x1="417.5" y1="604.0" x2="417.5" y2="613.0" stroke="#222" stroke-width="0.7"/>
<path d="M416.1 604.0h2.8l-1.4 1.6z" fill="#111"/>
<circle cx="417.5" cy="604.3" r="1.35" fill="#111"/>
<circle cx="417.5" cy="613.6" r="1.35" fill="#111"/>
<circle cx="417.5" cy="622.5" r="1.35" fill="#111"/>
<rect x="453.2" y="660.7" width="31.0" height="37.6" fill="#2e7e90" stroke="#21606e" stroke-width="0.6"/>
<line x1="468.7" y1="653.5" x2="468.7" y2="660.7" stroke="#222" stroke-width="0.7"/>
<path d="M467.3 653.5h2.8l-1.4 1.6z" fill="#111"/>
<circle cx="468.7" cy="654.0" r="1.35" fill="#111"/>
<circle cx="468.7" cy="661.6" r="1.35" fill="#111"/>
<circle cx="468.7" cy="666.5" r="1.35" fill="#111"/>
<rect x="504.5" y="578.0" width="31.0" height="120.3" fill="#c8433f" stroke="#9e302d" stroke-width="0.6"/>
<line x1="520.0" y1="564.4" x2="520.0" y2="578.0" stroke="#222" stroke-width="0.7"/>
<path d="M518.6 564.4h2.8l-1.4 1.6z" fill="#111"/>
<circle cx="520.0" cy="566.4" r="1.35" fill="#111"/>
<circle cx="520.0" cy="573.9" r="1.35" fill="#111"/>
<circle cx="520.0" cy="592.4" r="1.35" fill="#111"/>
<rect x="555.9" y="637.0" width="31.0" height="61.3" fill="#1f4a9e" stroke="#163a80" stroke-width="0.6"/>
<line x1="571.4" y1="628.9" x2="571.4" y2="637.0" stroke="#222" stroke-width="0.7"/>
<path d="M570.0 628.9h2.8l-1.4 1.6z" fill="#111"/>
<circle cx="571.4" cy="629.5" r="1.35" fill="#111"/>
<circle cx="571.4" cy="635.3" r="1.35" fill="#111"/>
<circle cx="571.4" cy="646.8" r="1.35" fill="#111"/>
<polyline points="417.5,576.0 417.5,567.3 468.7,567.3 468.7,576.0" fill="none" stroke="#666" stroke-width="0.8"/>
<text x="445.4" y="568.2" font-size="10.5" text-anchor="middle" fill="#222">**</text>
<polyline points="417.5,557.0 417.5,549.0 520.0,549.0 520.0,557.0" fill="none" stroke="#666" stroke-width="0.8"/>
<text x="469.0" y="549.9" font-size="10.5" text-anchor="middle" fill="#222">*</text>
<polyline points="468.7,537.0 468.7,528.8 571.4,528.8 571.4,537.0" fill="none" stroke="#666" stroke-width="0.8"/>
<text x="521.0" y="529.2" font-size="10.5" text-anchor="middle" fill="#222">*</text>
<text x="496.5" y="709.8" font-size="10" text-anchor="middle" fill="#1e1e1e">Hep3B</text>
<text x="363.0" y="619.7" font-size="10.5" text-anchor="middle" fill="#1e1e1e" transform="rotate(-90 363.0 619.7)">Colony number</text>
<line x1="637.7" y1="521.8" x2="637.7" y2="698.6" stroke="#555" stroke-width="0.9"/>
<line x1="637.7" y1="698.6" x2="863.4" y2="698.6" stroke="#555" stroke-width="0.9"/>
<line x1="635.2" y1="698.6" x2="637.7" y2="698.6" stroke="#555" stroke-width="0.9"/>
<text x="634.2" y="702.0" font-size="10" text-anchor="end" fill="#1e1e1e">0</text>
<line x1="635.2" y1="626.1" x2="637.7" y2="626.1" stroke="#555" stroke-width="0.9"/>
<text x="634.2" y="629.5" font-size="10" text-anchor="end" fill="#1e1e1e">200</text>
<line x1="635.2" y1="553.6" x2="637.7" y2="553.6" stroke="#555" stroke-width="0.9"/>
<text x="634.2" y="557.0" font-size="10" text-anchor="end" fill="#1e1e1e">400</text>
<rect x="653.8" y="598.1" width="32.5" height="100.5" fill="#606060" stroke="#4a4a4a" stroke-width="0.6"/>
<line x1="670.0" y1="591.1" x2="670.0" y2="598.1" stroke="#222" stroke-width="0.7"/>
<path d="M668.6 591.1h2.8l-1.4 1.6z" fill="#111"/>
<circle cx="670.0" cy="591.7" r="1.35" fill="#111"/>
<circle cx="670.0" cy="598.1" r="1.35" fill="#111"/>
<circle cx="670.0" cy="601.9" r="1.35" fill="#111"/>
<rect x="707.5" y="654.7" width="32.5" height="43.9" fill="#2e7e90" stroke="#21606e" stroke-width="0.6"/>
<line x1="723.8" y1="650.2" x2="723.8" y2="654.7" stroke="#222" stroke-width="0.7"/>
<path d="M722.4 650.2h2.8l-1.4 1.6z" fill="#111"/>
<circle cx="723.8" cy="650.9" r="1.35" fill="#111"/>
<circle cx="723.8" cy="655.6" r="1.35" fill="#111"/>
<circle cx="723.8" cy="657.9" r="1.35" fill="#111"/>
<rect x="761.1" y="572.0" width="32.5" height="126.6" fill="#c8433f" stroke="#9e302d" stroke-width="0.6"/>
<line x1="777.4" y1="564.7" x2="777.4" y2="572.0" stroke="#222" stroke-width="0.7"/>
<path d="M776.0 564.7h2.8l-1.4 1.6z" fill="#111"/>
<circle cx="777.4" cy="565.7" r="1.35" fill="#111"/>
<circle cx="777.4" cy="573.3" r="1.35" fill="#111"/>
<circle cx="777.4" cy="578.4" r="1.35" fill="#111"/>
<rect x="815.0" y="617.5" width="32.5" height="81.1" fill="#1f4a9e" stroke="#163a80" stroke-width="0.6"/>
<line x1="831.3" y1="603.8" x2="831.3" y2="617.5" stroke="#222" stroke-width="0.7"/>
<path d="M829.9 603.8h2.8l-1.4 1.6z" fill="#111"/>
<circle cx="831.3" cy="604.8" r="1.35" fill="#111"/>
<circle cx="831.3" cy="619.1" r="1.35" fill="#111"/>
<circle cx="831.3" cy="628.6" r="1.35" fill="#111"/>
<polyline points="670.0,567.3 670.0,558.4 723.8,558.4 723.8,567.3" fill="none" stroke="#666" stroke-width="0.8"/>
<text x="700.3" y="560.4" font-size="10.5" text-anchor="middle" fill="#222">***</text>
<polyline points="670.0,552.0 670.0,543.4 777.4,543.4 777.4,552.0" fill="none" stroke="#666" stroke-width="0.8"/>
<text x="726.0" y="543.5" font-size="10.5" text-anchor="middle" fill="#222">**</text>
<polyline points="723.8,534.5 723.8,525.6 831.3,525.6 831.3,534.5" fill="none" stroke="#666" stroke-width="0.8"/>
<text x="779.2" y="525.4" font-size="10.5" text-anchor="middle" fill="#222">*</text>
<text x="751.5" y="708.0" font-size="10" text-anchor="middle" fill="#1e1e1e">Huh7</text>
<text x="615.0" y="620.6" font-size="10.5" text-anchor="middle" fill="#1e1e1e" transform="rotate(-90 615.0 620.6)">Colony number</text>
<text x="4.4" y="733.6" font-size="20" text-anchor="start" fill="#1e1e1e">F</text>
<text x="52.3" y="738.8" font-size="10.3" text-anchor="end" fill="#1e1e1e">shNC</text>
<path d="M77.60 733.10h7.8M81.50 729.60v7" stroke="#1a1a1a" stroke-width="1.15"/>
<path d="M178.90 734.60h4.2" stroke="#222" stroke-width="1.2"/>
<path d="M276.30 733.10h7.8M280.20 729.60v7" stroke="#1a1a1a" stroke-width="1.15"/>
<path d="M378.30 734.60h4.2" stroke="#222" stroke-width="1.2"/>
<text x="52.3" y="755.0" font-size="10.3" text-anchor="end" fill="#1e1e1e">shYBX1</text>
<path d="M79.40 750.80h4.2" stroke="#222" stroke-width="1.2"/>
<path d="M177.10 749.30h7.8M181.00 745.80v7" stroke="#1a1a1a" stroke-width="1.15"/>
<path d="M278.10 750.80h4.2" stroke="#222" stroke-width="1.2"/>
<path d="M376.50 749.30h7.8M380.40 745.80v7" stroke="#1a1a1a" stroke-width="1.15"/>
<text x="52.3" y="770.7" font-size="10.3" text-anchor="end" fill="#1e1e1e">vector</text>
<path d="M77.60 765.00h7.8M81.50 761.50v7" stroke="#1a1a1a" stroke-width="1.15"/>
<path d="M177.10 765.00h7.8M181.00 761.50v7" stroke="#1a1a1a" stroke-width="1.15"/>
<path d="M278.10 766.50h4.2" stroke="#222" stroke-width="1.2"/>
<path d="M378.30 766.50h4.2" stroke="#222" stroke-width="1.2"/>
<text x="52.3" y="786.4" font-size="10.3" text-anchor="end" fill="#1e1e1e">oe−RNF115</text>
<path d="M79.40 782.20h4.2" stroke="#222" stroke-width="1.2"/>
<path d="M178.90 782.20h4.2" stroke="#222" stroke-width="1.2"/>
<path d="M276.30 780.70h7.8M280.20 777.20v7" stroke="#1a1a1a" stroke-width="1.15"/>
<path d="M376.50 780.70h7.8M380.40 777.20v7" stroke="#1a1a1a" stroke-width="1.15"/>
<text x="27.5" y="825.8" font-size="10.5" text-anchor="middle" fill="#1e1e1e" transform="rotate(-90 27.5 825.8)">migration</text>
<text x="27.5" y="895.7" font-size="10.5" text-anchor="middle" fill="#1e1e1e" transform="rotate(-90 27.5 895.7)">invasion</text>
<text x="27.5" y="974.8" font-size="10.5" text-anchor="middle" fill="#1e1e1e" transform="rotate(-90 27.5 974.8)">migration</text>
<text x="27.5" y="1045.2" font-size="10.5" text-anchor="middle" fill="#1e1e1e" transform="rotate(-90 27.5 1045.2)">invasion</text>
<line x1="433.7" y1="822.5" x2="433.7" y2="898.9" stroke="#666" stroke-width="0.8"/>
<line x1="433.7" y1="972.5" x2="433.7" y2="1047.5" stroke="#666" stroke-width="0.8"/>
<text x="437.3" y="860.5" font-size="10.5" text-anchor="middle" fill="#1e1e1e" transform="rotate(90 437.3 860.5)">Hep3B</text>
<text x="437.3" y="1013.4" font-size="10.5" text-anchor="middle" fill="#1e1e1e" transform="rotate(90 437.3 1013.4)">Huh7</text>
<defs><path id="p1" d="M112 67h0M154 44h0M163 16h0M39 37h0M136 36h0M189 32h0M17 6h0M187 68h0M131 24h0M107 123h0M135 100h0M127 63h0M49 17h0M47 106h0M98 8h0M89 17h0M108 25h0M154 30h0M56 35h0M166 119h0M10 71h0M111 114h0M14 52h0M149 10h0M177 9h0M152 123h0M51 13h0M22 67h0M156 56h0M10 130h0M23 43h0M191 114h0M186 81h0M9 67h0M77 62h0M119 48h0M87 49h0M140 123h0M96 99h0M79 96h0M11 52h0M145 45h0M131 91h0M149 98h0M111 41h0M186 98h0M140 128h0M147 17h0M64 53h0M169 20h0M92 102h0M149 37h0M146 58h0M33 122h0M155 59h0M16 22h0M75 121h0M53 30h0M136 114h0M28 54h0M174 22h0M126 11h0M84 127h0M83 106h0M48 31h0M179 95h0M191 89h0M4 40h0M6 76h0M62 84h0M61 56h0M124 42h0M57 41h0M125 63h0M17 98h0M50 25h0M120 30h0M87 13h0M20 35h0M179 111h0M57 60h0M118 70h0M151 70h0M145 39h0M172 100h0M32 122h0M79 13h0M85 118h0M148 43h0M100 32h0M137 69h0M24 127h0M145 29h0M51 81h0M39 43h0M46 41h0M104 119h0M115 77h0M106 30h0M38 108h0M176 104h0M48 120h0M148 5h0M22 56h0M12 26h0M168 80h0M21 71h0M76 54h0M137 24h0M103 91h0M47 95h0M21 8h0M109 12h0M51 77h0M66 91h0M15 100h0M155 103h0M168 90h0M101 129h0M119 52h0M84 4h0M6 113h0M115 95h0M139 12h0M24 77h0M28 43h0M4 92h0M108 115h0M22 66h0M87 63h0M180 37h0M150 8h0M12 107h0M15 131h0M103 39h0M65 13h0M181 76h0M97 100h0M164 102h0M159 62h0M181 9h0M28 119h0M95 47h0M74 99h0M134 16h0M148 41h0M58 12h0M82 86h0M131 4h0M97 28h0M31 31h0M36 77h0M28 15h0M115 45h0M100 101h0M91 86h0M180 90h0M81 57h0M65 114h0M164 98h0M136 41h0M93 17h0M148 41h0M56 87h0M165 46h0M161 76h0M18 6h0M31 20h0M79 69h0M104 82h0M7 31h0M88 33h0M35 70h0M127 69h0M178 46h0M43 6h0M179 120h0M113 17h0M10 89h0M111 56h0M98 47h0M87 125h0M134 24h0M180 23h0M7 129h0M183 15h0M57 81h0M183 41h0M167 17h0M15 7h0M62 65h0M136 37h0M101 119h0M17 20h0M16 52h0M10 94h0M9 65h0M129 18h0M32 130h0M98 75h0M22 22h0M151 96h0M157 40h0M102 73h0M178 27h0M123 101h0M103 122h0M50 46h0M6 122h0M89 5h0M165 113h0M85 45h0M182 14h0M61 75h0M186 14h0M64 28h0M30 19h0M98 99h0M161 63h0M105 57h0M30 43h0M55 5h0M172 115h0M46 128h0M52 56h0M40 38h0M101 33h0M39 124h0M59 51h0M22 16h0M191 35h0M99 128h0M128 71h0M29 29h0M35 91h0M62 39h0M134 15h0M19 128h0M41 28h0M155 56h0M98 117h0M23 27h0M86 37h0M55 108h0M30 89h0M6 104h0M42 62h0M55 23h0M61 6h0M173 99h0M165 65h0M8 115h0M138 46h0M134 13h0M77 117h0M102 111h0M177 85h0M52 116h0M34 125h0M112 100h0M117 6h0M85 130h0M70 25h0M105 119h0M106 62h0M153 80h0M20 61h0M187 42h0M131 126h0M36 82h0M175 16h0M69 34h0M80 108h0M79 126h0M138 109h0M44 128h0M8 74h0M25 22h0M40 8h0M102 62h0M133 121h0M95 27h0M69 42h0M62 67h0M155 113h0M35 127h0M93 116h0M36 69h0M178 59h0M13 95h0M125 118h0M25 12h0M18 118h0M92 39h0M58 16h0M138 122h0"/><path id="p2" d="M112 67h0M154 44h0M163 16h0M39 37h0M136 36h0M189 32h0M17 6h0M187 68h0M131 24h0M107 123h0M135 100h0M127 63h0M49 17h0M47 106h0M98 8h0M89 17h0M108 25h0M154 30h0M56 35h0M166 119h0M10 71h0M111 114h0M14 52h0M149 10h0M177 9h0M152 123h0M51 13h0M22 67h0M156 56h0M10 130h0M23 43h0M191 114h0M186 81h0M9 67h0M77 62h0M119 48h0M87 49h0M140 123h0M96 99h0M79 96h0M11 52h0M145 45h0M131 91h0M149 98h0M111 41h0M186 98h0M140 128h0M147 17h0M64 53h0M169 20h0M92 102h0M149 37h0M146 58h0M33 122h0M155 59h0M16 22h0M75 121h0M53 30h0M136 114h0M28 54h0M174 22h0M126 11h0M84 127h0M83 106h0M48 31h0M179 95h0M191 89h0M4 40h0M6 76h0M62 84h0M61 56h0M124 42h0M57 41h0M125 63h0M17 98h0M50 25h0M120 30h0M87 13h0M20 35h0M179 111h0M57 60h0M118 70h0M151 70h0M145 39h0M172 100h0M32 122h0M79 13h0M85 118h0M148 43h0M100 32h0"/></defs>
<g transform="translate(32.2 792.0)">
<rect x="0.5" y="0.5" width="96.6" height="67" fill="#fbf9f9" stroke="#8e8e8e" stroke-width="1"/><g filter="url(#sm)"><g transform="scale(0.5)">
<defs><path id="p3" d="M173 93h0M156 127h0M78 12h0M170 100h0M165 120h0M154 106h0M111 107h0M53 29h0M143 70h0M49 112h0M168 122h0M166 104h0M98 17h0M91 45h0M154 97h0M132 31h0M174 89h0M111 44h0M100 66h0M82 127h0M105 31h0M63 15h0M108 28h0M169 52h0M188 49h0M75 36h0M92 122h0M105 21h0M187 18h0M113 38h0M102 29h0M121 32h0M81 38h0M123 34h0M155 92h0M141 61h0M165 46h0M182 50h0M6 116h0M163 73h0M190 43h0M174 87h0M121 103h0M164 64h0M170 47h0M77 57h0M47 54h0M161 125h0M106 27h0M143 78h0M144 65h0M60 13h0M116 114h0M148 113h0M49 65h0M70 68h0M86 39h0M52 65h0M86 130h0M113 43h0M168 45h0M8 45h0M27 4h0M22 11h0M168 75h0M117 37h0M126 45h0M167 49h0M53 18h0M154 16h0M94 47h0M37 66h0M149 96h0M165 59h0M161 42h0M105 18h0M65 15h0M103 115h0M152 53h0M173 55h0M158 106h0M15 111h0M144 63h0M152 117h0M29 115h0M111 119h0M147 29h0M72 12h0M170 62h0M43 117h0M164 56h0M157 109h0M158 104h0M188 80h0M95 130h0M126 116h0M97 56h0M14 21h0M113 40h0M175 17h0M30 12h0M79 6h0M140 81h0M125 84h0M168 89h0M77 40h0M166 123h0M172 62h0M113 25h0M152 49h0M41 22h0M176 102h0M140 114h0M149 74h0M71 7h0M58 15h0M152 79h0M124 91h0M170 100h0M21 17h0M150 59h0M149 99h0M129 73h0M54 92h0M104 105h0M172 103h0M123 35h0M142 29h0M55 36h0M141 128h0M52 68h0M174 59h0M135 80h0M127 90h0M181 73h0M154 61h0M40 38h0M170 44h0M106 42h0M47 73h0M139 61h0M159 64h0M18 11h0M115 122h0M171 71h0M58 66h0M69 17h0M5 42h0M110 25h0M175 84h0M184 32h0M147 131h0M109 130h0M77 47h0M155 52h0M97 113h0M172 118h0M13 38h0M110 113h0M56 95h0M157 111h0M13 48h0M179 57h0M151 45h0M90 44h0M48 15h0M111 34h0M121 122h0M161 97h0M186 89h0M153 47h0M156 115h0M150 123h0M178 60h0M49 116h0M68 63h0M52 91h0M65 8h0M153 106h0M152 112h0M138 70h0M46 82h0M175 85h0M35 21h0M139 83h0M89 50h0M180 58h0M58 6h0M91 32h0M14 129h0M49 116h0M103 106h0M157 115h0M69 113h0M111 116h0M156 96h0M191 93h0M103 35h0M157 71h0M72 4h0M120 109h0M86 50h0M45 27h0M136 100h0M117 126h0M166 54h0M70 53h0M163 119h0M57 27h0M107 114h0M155 129h0M17 130h0M167 108h0M121 114h0M146 84h0M61 20h0M134 108h0M87 118h0M169 30h0M66 18h0M159 108h0M29 102h0M62 14h0M114 71h0M87 50h0M106 99h0M59 46h0M157 122h0M90 120h0M120 53h0M101 31h0M57 103h0M57 13h0M106 78h0M89 46h0M182 24h0M169 101h0M155 119h0M125 119h0M171 77h0M39 12h0M148 38h0M181 75h0M159 41h0M13 5h0M156 5h0M106 34h0M75 104h0M109 121h0M116 107h0M149 36h0M7 39h0M161 110h0M121 56h0M69 47h0M36 81h0M180 105h0M111 32h0M109 127h0M191 96h0M93 117h0M97 32h0M22 7h0M164 52h0M15 120h0M89 37h0M41 66h0M146 57h0M119 82h0M185 84h0M120 106h0M135 29h0M4 118h0M5 45h0M74 21h0M171 4h0M145 94h0M105 116h0M144 62h0M153 118h0M7 50h0M20 115h0M127 34h0M189 88h0M70 21h0M136 86h0M116 13h0M89 24h0M141 55h0M90 40h0M65 102h0M45 68h0M32 79h0M137 89h0M35 22h0M39 117h0M91 52h0M31 22h0M134 83h0M55 73h0M10 52h0M177 21h0M40 124h0M165 30h0M141 45h0M150 126h0M54 123h0M47 74h0M51 110h0M185 99h0M102 98h0M140 52h0M15 31h0M8 120h0M165 101h0M129 75h0M98 30h0M107 22h0M146 64h0M41 117h0M18 108h0M89 126h0M147 54h0M158 126h0M160 121h0M173 115h0M176 110h0M105 31h0M155 59h0M38 128h0M98 103h0M10 115h0M139 125h0M175 28h0M37 19h0M145 81h0M133 75h0M149 18h0M186 8h0M89 51h0M161 62h0M51 98h0M155 72h0M150 23h0M46 42h0M168 80h0M172 35h0M161 79h0M154 63h0M110 21h0M68 24h0M16 18h0M162 39h0M93 36h0M56 29h0M154 109h0M150 52h0M93 97h0M125 104h0M49 61h0M100 55h0M112 40h0M6 116h0M50 91h0M76 54h0M23 16h0M81 35h0M155 131h0M169 58h0M12 129h0M16 5h0M176 54h0M88 85h0M152 114h0M117 63h0M139 81h0M155 84h0M51 103h0M151 122h0M101 107h0M157 119h0M142 44h0M41 12h0M107 36h0M68 43h0M117 27h0M120 110h0M177 9h0M113 113h0M68 16h0M167 49h0M97 119h0M161 130h0M173 108h0M158 71h0M174 26h0M55 106h0M15 111h0M168 104h0M151 41h0M149 24h0M88 35h0M14 43h0M186 100h0M111 34h0M77 43h0M5 50h0M88 53h0M23 13h0M161 81h0M131 90h0M76 12h0M184 5h0M79 41h0M63 63h0M161 92h0M117 95h0M43 117h0M150 126h0M60 66h0M127 125h0M133 61h0M173 38h0M170 109h0M36 108h0M152 69h0M23 29h0M54 13h0M157 116h0M185 131h0M105 34h0M142 88h0M147 52h0M122 66h0M40 120h0M157 99h0M165 104h0M91 41h0M160 106h0M152 31h0M180 95h0M119 104h0M108 112h0M179 23h0M14 21h0M146 22h0M97 10h0M186 90h0M29 17h0M36 105h0M151 119h0M72 39h0M79 83h0M35 96h0"/></defs>
<use href="#p3" stroke="#94506a" stroke-width="4.6" stroke-linecap="round" stroke-opacity="0.35"/>
<use href="#p3" stroke="#62223c" stroke-width="2.7" stroke-linecap="round" stroke-opacity="0.85"/>
<use href="#p2" stroke="#3a3a4a" stroke-width="1.8" stroke-linecap="round" stroke-opacity="0.75" transform="translate(0 136) scale(1 -1)"/>
</g></g>
<rect x="2.5" y="62.4" width="8.5" height="1.3" fill="#e02828"/>
<rect x="2.5" y="64.2" width="15" height="1.7" fill="#333" opacity="0.45"/>
</g>
<g transform="translate(131.9 792.0)">
<rect x="0.5" y="0.5" width="96.6" height="67" fill="#fbf9f9" stroke="#8e8e8e" stroke-width="1"/><g filter="url(#sm)"><g transform="scale(0.5)">
<defs><path id="p4" d="M50 33h0M73 42h0M80 54h0M21 74h0M19 85h0M72 112h0M134 38h0M80 61h0M166 47h0M20 18h0M145 85h0M175 122h0M38 122h0M146 89h0M72 48h0M88 114h0M91 81h0M25 107h0M35 126h0M172 111h0M183 26h0M28 72h0M101 52h0M20 66h0M88 35h0M130 49h0M154 75h0M13 129h0M77 49h0M65 116h0M185 93h0M182 115h0M39 110h0M78 50h0M83 83h0M134 35h0M189 122h0M85 132h0M16 74h0M81 79h0M89 109h0M80 6h0M57 105h0M96 93h0M34 106h0M86 108h0M79 56h0M34 112h0M97 112h0M176 125h0M74 63h0M30 74h0M5 15h0M32 86h0M29 108h0M128 42h0M54 111h0M127 108h0M32 110h0M66 36h0M96 119h0M39 12h0M145 16h0M27 68h0M109 78h0M32 4h0M142 60h0M16 12h0M179 51h0M138 62h0M115 90h0M50 106h0M80 41h0M39 123h0M81 118h0M28 72h0M165 129h0M88 85h0M101 104h0M121 72h0M83 119h0M42 121h0M29 103h0M32 98h0M67 59h0M27 119h0M180 121h0M40 16h0M73 7h0M149 17h0M31 129h0M173 53h0M28 63h0M36 77h0M178 61h0M85 74h0M95 86h0M24 70h0M162 45h0M173 9h0M81 42h0M37 124h0M180 82h0M158 86h0M31 16h0M130 78h0M130 92h0M115 63h0M32 130h0M189 61h0M37 108h0M168 68h0M156 19h0M6 19h0M118 91h0M127 48h0M23 57h0M41 111h0M35 96h0M182 123h0M131 77h0M14 73h0M43 111h0M68 60h0M33 6h0M165 48h0M80 53h0M18 72h0M150 128h0M28 106h0M23 70h0M22 12h0M15 98h0M89 45h0M23 51h0M127 90h0M94 127h0M82 39h0M73 106h0M142 78h0M136 40h0M24 57h0M131 41h0M39 102h0M92 99h0M87 78h0M185 119h0M93 94h0M24 5h0M157 26h0M29 121h0M191 67h0M98 87h0M79 55h0M48 106h0M93 80h0M4 73h0M84 112h0M8 124h0M12 73h0M170 121h0M105 104h0M15 124h0M13 99h0M18 62h0M63 74h0M48 71h0M149 53h0M61 4h0M79 48h0M187 119h0M10 121h0M123 68h0M65 9h0M16 73h0M95 94h0M112 132h0M6 69h0M28 80h0M85 113h0M182 6h0M57 66h0M55 49h0M67 61h0M92 107h0M167 83h0M73 63h0M124 77h0M46 103h0M148 24h0M150 21h0M142 30h0M76 65h0M90 128h0M65 12h0M20 70h0M45 115h0M191 99h0M140 43h0M174 120h0M89 124h0M17 68h0M67 18h0M96 41h0M59 40h0M76 55h0M95 65h0M89 54h0M74 117h0M156 115h0M12 54h0M20 102h0"/></defs>
<use href="#p4" stroke="#94506a" stroke-width="4.6" stroke-linecap="round" stroke-opacity="0.35"/>
<use href="#p4" stroke="#62223c" stroke-width="2.7" stroke-linecap="round" stroke-opacity="0.85"/>
<use href="#p2" stroke="#3a3a4a" stroke-width="1.8" stroke-linecap="round" stroke-opacity="0.75" transform="translate(195.2 0) scale(-1 1)"/>
</g></g>
<rect x="2.5" y="62.4" width="8.5" height="1.3" fill="#e02828"/>
<rect x="2.5" y="64.2" width="15" height="1.7" fill="#333" opacity="0.45"/>
</g>
<g transform="translate(231.9 792.0)">
<rect x="0.5" y="0.5" width="96.6" height="67" fill="#fbf9f9" stroke="#8e8e8e" stroke-width="1"/><g filter="url(#sm)"><g transform="scale(0.5)">
<defs><path id="p5" d="M74 119h0M101 83h0M51 60h0M124 36h0M148 43h0M102 59h0M123 46h0M96 75h0M163 122h0M93 89h0M34 90h0M54 97h0M156 49h0M143 97h0M49 57h0M151 48h0M80 12h0M161 28h0M6 99h0M85 84h0M108 126h0M122 39h0M119 102h0M7 112h0M45 112h0M167 124h0M97 104h0M139 90h0M129 78h0M118 63h0M63 94h0M183 80h0M61 76h0M181 10h0M72 70h0M149 84h0M113 104h0M160 57h0M145 68h0M159 104h0M68 85h0M47 12h0M123 108h0M41 32h0M111 20h0M47 56h0M23 115h0M169 52h0M7 83h0M162 127h0M158 21h0M133 85h0M11 36h0M157 17h0M56 92h0M104 123h0M115 78h0M190 41h0M142 103h0M171 94h0M69 63h0M37 69h0M172 126h0M86 112h0M71 57h0M5 70h0M48 6h0M82 125h0M14 25h0M179 106h0M154 115h0M71 110h0M173 77h0M74 97h0M95 21h0M169 128h0M34 99h0M120 24h0M89 37h0M48 83h0M110 41h0M149 109h0M14 15h0M54 8h0M135 31h0M29 20h0M115 62h0M79 54h0M143 121h0M152 43h0M63 9h0M188 127h0M158 91h0M62 96h0M17 109h0M111 59h0M181 97h0M169 94h0M41 87h0M139 48h0M56 75h0M119 35h0M67 14h0M167 54h0M21 48h0M138 38h0M177 124h0M87 9h0M154 89h0M82 86h0M132 129h0M156 84h0M103 61h0M42 56h0M108 116h0M112 132h0M172 7h0M91 37h0M165 28h0M126 132h0M137 23h0M36 15h0M38 76h0M59 81h0M24 95h0M42 80h0M138 29h0M28 97h0M94 104h0M57 86h0M190 57h0M122 68h0M138 104h0M150 15h0M173 115h0M32 62h0M127 94h0M57 94h0M139 64h0M48 76h0M59 23h0M84 46h0M146 90h0M88 16h0M62 102h0M104 116h0M142 79h0M144 29h0M24 77h0M65 115h0M104 78h0M154 106h0M154 18h0M130 52h0M176 102h0M175 122h0M35 64h0M5 42h0M71 31h0M54 99h0M161 112h0M43 111h0M133 18h0M60 103h0M164 93h0M69 130h0M90 107h0M67 98h0M35 106h0M144 100h0M24 59h0M51 101h0M159 54h0M17 70h0M163 103h0M114 99h0M158 108h0M32 79h0M105 100h0M74 49h0M161 73h0M94 125h0M113 43h0M24 98h0M137 130h0M116 115h0M137 73h0M34 95h0M145 55h0M111 12h0M99 38h0M53 89h0M4 77h0M105 32h0M158 120h0M185 50h0M191 68h0M6 36h0M182 105h0M173 102h0M77 79h0M94 110h0M68 80h0M94 99h0M59 129h0M50 63h0M134 75h0M90 19h0M99 91h0M55 85h0M53 68h0M83 72h0M170 114h0M162 101h0M123 58h0M41 40h0M57 108h0M72 10h0M121 27h0M171 30h0M185 96h0M165 79h0M121 36h0M113 114h0M153 45h0M156 103h0M99 42h0M185 81h0M68 123h0M149 49h0M107 114h0M133 111h0M70 76h0M126 101h0M129 63h0M165 79h0M184 123h0M123 88h0M95 55h0M66 82h0M14 83h0M119 9h0M85 111h0M164 112h0M180 120h0M87 67h0M66 69h0M146 81h0M113 110h0M164 91h0M142 62h0M115 62h0M80 29h0M42 103h0M94 13h0M180 122h0M175 132h0M123 55h0M81 66h0M37 47h0M164 127h0M48 67h0M117 23h0M154 85h0M104 64h0M190 55h0M70 9h0M132 107h0M135 93h0M163 77h0M175 27h0M152 93h0M142 81h0M63 120h0M114 24h0M110 113h0M74 95h0M60 70h0M25 83h0M100 12h0M30 111h0M127 52h0M159 17h0M157 125h0M186 109h0M90 115h0M68 38h0M139 30h0M166 118h0M152 74h0M176 57h0M112 101h0M177 91h0M172 97h0M102 68h0M81 92h0M46 10h0M113 72h0M140 37h0M171 117h0M69 100h0M80 130h0M113 123h0M120 74h0M41 74h0M179 130h0M163 75h0M23 5h0M141 49h0M40 36h0M107 107h0M127 114h0M50 74h0M61 103h0M161 77h0M140 132h0M46 108h0M61 88h0M161 119h0M108 73h0M71 6h0M73 118h0M62 120h0M70 58h0M171 16h0M124 112h0M9 39h0M20 76h0M86 80h0M85 34h0M114 104h0M31 52h0M143 87h0M148 77h0M5 98h0M131 33h0M61 72h0M187 64h0M41 32h0M131 105h0M88 118h0M52 36h0M86 32h0M28 99h0M106 75h0M73 79h0M113 74h0M82 131h0M43 98h0M41 109h0M36 111h0M165 32h0M169 110h0M33 85h0M103 99h0M168 62h0M14 119h0M30 82h0M182 66h0M68 109h0M40 47h0M64 71h0M67 90h0M52 14h0M180 113h0M86 108h0M24 97h0M98 16h0M99 34h0M172 47h0M188 100h0M83 82h0M176 68h0M131 95h0M109 97h0M45 129h0M82 124h0M154 103h0M95 69h0M46 125h0M155 94h0M157 57h0M34 96h0M70 103h0M107 112h0M164 79h0M120 102h0M34 90h0M41 10h0M164 130h0M141 70h0M163 121h0M40 90h0M22 34h0M134 50h0M182 93h0M96 78h0M62 32h0M66 13h0M60 123h0M131 65h0M174 68h0M162 31h0M90 78h0M73 127h0M109 22h0M28 83h0M17 71h0M136 15h0M70 111h0M12 97h0M14 112h0M173 105h0M132 47h0M36 108h0M41 115h0M32 78h0M132 51h0M127 110h0M93 58h0M160 4h0M134 67h0M125 27h0M147 81h0M112 62h0M156 82h0M145 48h0M168 113h0M160 61h0M173 33h0M171 79h0M184 86h0M50 98h0M29 12h0M86 63h0M124 41h0M118 124h0M39 104h0M76 74h0M50 76h0M83 18h0M174 115h0M178 108h0M98 93h0M36 50h0M34 120h0M137 118h0M58 120h0M178 127h0M171 109h0M70 103h0M34 118h0M135 108h0M150 105h0M73 23h0M89 19h0M122 95h0M117 23h0M71 89h0M168 50h0M108 67h0M60 89h0M58 71h0M51 102h0M106 36h0M48 118h0M177 126h0M128 105h0M147 23h0M33 22h0M106 120h0M107 127h0M93 97h0M7 65h0M95 48h0M98 56h0M37 35h0M76 81h0M61 15h0M114 63h0M61 86h0M12 77h0M103 120h0M110 69h0M107 116h0M49 102h0M166 102h0M139 86h0M120 88h0M66 127h0M181 81h0M120 45h0M88 38h0M87 105h0M169 117h0M65 65h0M53 106h0M43 99h0M141 109h0M51 117h0M44 69h0M62 81h0M111 102h0M116 63h0M177 111h0M43 107h0M4 130h0M134 117h0M98 88h0M103 42h0M175 89h0M75 82h0M182 25h0M107 109h0M178 111h0M154 114h0M141 126h0M48 83h0M110 56h0M117 95h0M136 68h0M23 58h0M66 103h0M70 61h0M92 72h0M80 32h0M75 85h0M159 132h0M161 90h0M72 17h0M97 103h0M116 122h0M130 104h0M65 93h0M135 51h0M33 25h0M138 29h0M128 60h0M153 108h0M95 59h0M26 33h0M145 32h0M109 54h0M115 117h0M83 93h0M144 33h0M64 92h0M128 77h0M143 24h0M104 62h0M117 67h0M18 57h0M178 6h0M121 49h0M42 117h0M82 98h0M87 20h0M18 12h0M77 98h0M34 127h0M174 122h0M32 36h0M179 17h0M16 57h0M89 39h0M157 62h0M168 18h0M28 78h0M48 126h0M165 108h0M47 18h0M105 38h0M150 27h0M113 100h0M144 107h0M183 113h0M118 8h0M121 116h0M29 9h0M61 61h0M72 84h0M152 32h0M159 21h0M144 76h0M15 78h0M90 43h0M50 75h0M150 70h0M152 83h0M141 60h0M79 108h0M25 80h0M140 96h0M160 106h0M19 102h0M134 123h0M173 21h0M45 94h0M26 10h0M142 91h0M78 77h0M41 117h0M166 20h0M22 113h0M33 74h0M51 104h0M111 22h0M78 98h0M122 85h0M73 76h0M131 73h0M61 98h0M191 102h0M51 86h0M8 98h0M41 84h0M74 38h0M35 50h0M105 11h0M134 30h0M14 98h0M156 66h0M96 91h0M50 23h0M141 104h0M70 85h0M154 88h0M99 115h0M173 54h0M62 128h0M77 103h0M190 129h0M139 51h0M76 16h0M161 94h0M74 93h0M10 118h0M95 11h0M123 112h0M68 81h0M188 101h0M30 24h0M89 103h0M69 47h0M19 17h0M49 27h0M73 34h0M74 83h0M104 36h0M47 123h0M103 73h0M150 121h0M7 129h0M4 78h0M182 87h0M67 79h0M127 112h0M155 35h0M13 74h0M124 101h0M174 120h0M165 55h0M8 52h0M166 120h0M125 66h0M52 93h0M30 88h0M191 69h0M111 105h0M150 74h0M163 120h0M171 89h0M148 95h0M189 111h0M159 102h0M148 113h0M148 41h0M7 89h0M87 18h0M28 58h0M113 77h0M173 100h0M84 82h0M54 18h0M147 76h0M108 35h0M51 112h0M32 132h0M65 67h0M96 105h0M26 81h0M33 94h0M43 24h0M110 109h0M96 38h0M11 74h0M149 96h0M158 132h0M87 102h0M79 108h0M98 91h0M50 77h0M60 28h0M151 37h0M65 110h0M113 77h0M141 115h0M127 73h0M62 33h0M176 39h0M175 66h0M97 97h0M71 63h0M16 47h0M74 62h0M153 96h0M111 121h0M105 118h0M175 40h0M88 40h0M170 121h0M118 66h0M83 73h0M102 93h0M44 78h0M146 54h0M27 113h0M33 89h0M29 31h0M68 28h0M145 34h0M91 121h0M137 86h0M139 54h0M70 72h0M52 39h0M130 84h0M148 91h0M83 125h0M32 81h0M179 107h0M33 29h0M137 38h0M115 29h0M46 36h0M55 101h0M174 119h0M188 107h0M79 13h0M164 54h0M89 45h0M84 129h0M177 58h0M191 74h0M188 91h0M166 124h0M180 110h0M90 66h0M50 96h0M163 119h0M189 54h0M138 49h0M127 37h0M150 60h0M52 108h0M94 111h0M172 117h0M102 120h0M60 86h0M109 72h0M163 50h0M61 96h0M182 44h0M54 86h0M114 93h0M169 100h0M180 51h0M150 70h0M61 54h0M173 123h0M113 102h0M35 102h0M58 88h0M58 90h0M35 104h0M163 97h0M59 49h0M85 81h0M121 110h0M135 113h0M118 83h0M191 4h0M28 92h0M88 80h0M166 33h0M22 103h0M43 21h0M63 123h0M172 46h0M190 106h0M95 62h0M158 72h0M37 57h0M134 96h0M59 88h0M137 45h0M14 132h0M62 76h0M89 128h0M19 74h0M32 86h0M71 32h0M22 108h0M173 127h0M20 26h0M149 56h0M128 71h0M46 102h0M89 36h0M40 71h0M40 90h0M164 37h0M136 103h0M106 15h0M8 66h0M60 109h0M138 82h0M76 9h0M168 70h0M72 69h0M72 44h0M176 60h0M6 59h0M113 79h0M94 90h0M12 101h0M186 128h0M182 125h0M69 81h0M139 86h0M25 30h0M121 31h0M179 96h0M164 90h0M56 79h0M29 22h0M60 98h0M186 77h0M11 93h0M147 61h0M95 98h0M111 132h0M109 98h0M150 37h0M26 94h0M92 76h0M72 56h0M91 49h0M5 57h0M76 83h0M36 95h0M112 97h0M74 102h0M180 123h0M152 65h0M141 8h0M70 101h0M100 67h0M179 72h0M68 33h0M95 85h0M130 49h0M173 127h0M32 39h0M111 38h0M83 97h0M146 50h0M74 111h0M33 93h0M173 116h0M27 103h0M84 80h0M48 125h0M38 10h0M35 103h0M105 90h0M99 106h0M58 51h0M80 91h0M10 11h0M163 92h0M151 63h0M104 55h0M32 108h0M64 68h0M93 44h0M185 44h0M58 51h0M85 74h0M158 86h0M75 75h0M136 36h0M68 65h0M143 89h0M145 113h0M109 117h0M129 110h0M185 128h0M46 96h0M125 117h0M4 30h0M187 108h0M12 55h0M60 100h0M52 88h0M43 131h0M13 22h0M61 9h0M163 128h0M169 79h0M22 100h0M184 111h0M43 11h0M57 84h0M57 109h0M187 14h0M142 52h0M98 107h0M18 86h0M21 30h0M61 128h0M181 128h0M58 67h0M187 121h0M46 102h0M119 125h0M59 79h0M64 123h0M121 126h0M113 101h0M160 56h0M88 75h0M89 68h0M166 16h0M177 129h0M18 114h0M147 111h0M55 84h0M116 132h0M60 17h0M86 82h0M100 102h0M130 45h0M183 67h0M17 47h0M143 12h0M162 123h0M96 32h0M121 98h0M107 82h0M5 113h0M134 82h0M174 14h0M46 94h0M162 97h0M59 107h0M153 32h0M126 68h0M166 94h0M44 21h0M117 50h0M39 128h0M13 93h0M88 91h0M76 91h0M191 44h0M51 88h0M63 47h0M145 20h0M47 103h0M169 115h0M78 84h0M182 47h0M107 126h0M189 130h0M67 91h0M23 114h0M156 131h0M91 21h0M30 96h0M65 131h0M69 29h0M91 87h0M88 72h0M96 105h0M83 31h0M132 66h0M176 120h0M62 89h0M172 52h0M85 78h0M53 14h0M83 92h0M178 103h0M126 68h0M142 16h0M153 121h0M136 88h0M89 71h0M119 107h0M43 80h0M112 98h0M167 103h0M117 29h0M166 114h0M79 14h0M88 89h0M92 132h0M124 83h0M114 118h0M102 43h0M143 112h0M166 114h0M145 62h0M150 123h0M178 123h0M79 6h0M7 91h0M138 86h0M176 107h0M75 94h0M153 38h0M64 50h0M165 41h0M171 35h0M155 104h0M48 45h0M170 91h0M27 68h0M177 123h0M115 116h0M45 104h0M78 28h0M184 130h0M172 107h0M165 117h0M41 57h0M172 26h0M175 64h0M38 108h0M92 54h0M168 122h0M19 40h0M78 86h0M38 116h0M85 41h0M91 56h0M38 92h0M91 7h0M63 39h0M191 132h0M67 39h0M148 51h0M17 85h0M191 100h0M49 109h0M124 114h0M65 79h0M129 105h0M165 117h0M187 115h0M14 52h0M72 95h0M185 128h0M122 107h0M146 67h0M174 114h0M171 118h0M42 102h0M152 51h0M186 94h0M97 97h0M144 129h0M89 62h0M112 41h0M133 88h0M53 87h0M184 132h0M92 122h0M64 28h0M136 76h0M80 36h0M126 37h0M48 79h0M156 126h0M139 113h0M50 99h0M146 94h0M20 54h0M89 52h0M68 97h0M76 38h0M14 75h0M55 91h0M59 105h0M36 39h0M177 109h0M132 93h0M9 63h0M155 103h0M92 90h0M60 68h0M34 93h0M144 116h0M5 41h0M62 58h0M51 73h0M73 132h0M63 100h0M9 111h0M147 64h0M90 86h0M52 31h0M187 5h0M181 132h0M134 24h0M86 38h0M143 119h0M95 92h0M75 15h0M12 79h0M116 64h0M188 79h0M169 81h0M130 109h0M186 121h0M82 122h0M105 65h0M86 107h0M36 41h0M47 78h0M97 43h0M44 84h0M170 84h0M95 49h0M72 50h0M49 80h0M37 18h0M64 84h0M129 111h0M103 107h0M122 110h0M135 61h0M150 41h0M75 17h0M39 114h0M83 42h0M62 68h0M176 54h0M69 100h0M182 120h0M64 54h0M143 116h0M146 74h0M103 98h0M95 89h0M55 79h0M164 70h0M23 98h0M190 128h0M35 43h0M52 14h0M49 78h0M48 73h0M26 57h0M66 91h0M185 112h0M102 91h0M27 108h0M120 10h0M110 90h0M26 74h0M125 43h0M180 98h0M101 10h0M169 89h0M70 35h0M110 121h0M127 65h0M86 15h0M108 69h0M120 83h0M110 17h0M171 112h0M121 42h0M10 61h0M22 129h0M23 110h0M91 114h0M148 65h0M45 120h0M49 94h0M45 39h0M90 120h0M155 42h0M104 55h0M27 24h0M38 25h0M120 44h0M95 113h0M74 97h0M96 109h0M190 115h0M153 105h0M170 96h0M82 123h0M64 102h0M25 5h0M116 40h0M69 92h0M145 92h0M151 120h0M11 25h0M45 61h0M93 122h0M143 85h0M34 33h0M106 95h0M176 129h0M137 118h0M55 79h0M48 54h0M137 34h0M136 72h0M107 93h0M19 32h0M72 76h0M84 73h0M104 124h0M69 81h0M103 77h0M168 83h0M96 28h0M159 85h0M111 119h0M27 83h0M45 103h0M101 102h0M80 111h0M182 96h0M185 123h0M73 78h0M135 83h0M48 31h0M79 81h0M37 90h0M55 132h0M50 91h0M51 19h0M43 97h0M177 48h0M174 55h0M37 49h0M174 130h0M71 82h0M6 24h0M21 39h0M10 48h0M189 55h0M181 119h0M90 106h0M173 39h0M111 62h0M138 112h0M108 105h0M73 90h0M23 123h0M79 97h0M177 91h0M176 72h0M169 42h0M183 127h0M187 7h0M137 45h0M92 94h0M148 112h0M175 88h0M152 112h0M102 112h0M182 124h0M149 20h0M169 132h0M175 119h0M59 90h0M103 79h0M63 5h0M107 96h0M112 55h0M92 94h0M117 117h0M166 52h0M59 95h0M84 79h0M94 60h0M13 113h0M187 97h0M137 66h0M137 116h0M95 27h0M145 58h0M121 110h0M81 72h0M60 35h0M126 95h0M155 127h0M101 41h0M74 28h0M62 89h0M169 51h0M79 94h0M129 109h0M8 18h0M190 120h0M33 29h0M130 26h0M137 82h0M162 101h0M160 92h0M85 104h0M99 119h0M184 18h0M31 115h0M165 132h0M52 107h0M45 59h0M121 74h0M47 68h0M117 81h0M72 28h0M122 20h0M120 76h0M177 110h0M69 50h0M67 22h0M73 81h0M133 79h0M167 108h0M141 44h0M185 76h0M167 47h0M27 37h0M71 87h0M112 65h0M47 89h0M55 127h0M119 70h0M174 92h0M108 56h0M154 24h0M182 61h0M104 47h0M105 35h0M111 128h0M144 8h0M168 127h0M77 35h0M148 81h0M97 107h0M81 7h0M67 130h0M48 86h0M18 82h0M153 53h0M29 21h0M61 128h0M53 113h0M137 50h0M102 32h0M135 54h0M192 95h0M182 46h0M72 51h0M152 85h0M53 53h0M43 35h0M149 86h0M189 116h0M104 87h0M157 119h0M27 29h0M183 94h0M45 97h0M179 67h0M10 93h0M53 69h0M146 78h0M117 50h0M6 68h0M53 49h0M164 76h0M89 87h0M169 75h0M165 15h0M41 86h0M17 97h0M135 23h0M97 21h0M73 25h0M132 67h0M8 83h0M17 69h0M115 57h0M169 121h0M112 87h0M76 98h0M131 72h0M18 109h0M155 69h0M150 16h0M90 32h0M15 93h0M181 131h0M34 36h0M96 68h0M119 77h0M27 100h0M133 29h0M176 124h0M87 86h0M143 115h0M119 68h0M69 22h0M87 88h0M69 106h0M96 97h0M189 114h0M105 7h0M165 104h0M43 77h0M39 44h0M64 69h0M134 97h0M60 52h0M190 123h0M77 13h0M39 90h0M144 57h0M35 116h0M72 124h0M166 118h0M71 80h0M131 57h0M94 41h0M12 132h0M178 129h0M88 40h0M166 126h0M7 79h0M166 130h0M106 82h0M188 58h0M15 100h0M166 114h0M113 95h0M134 32h0M139 85h0M29 29h0M123 58h0M29 109h0M155 54h0M105 111h0M108 105h0M57 57h0M173 32h0M71 87h0M101 17h0M138 90h0M80 42h0M123 80h0M148 128h0M185 15h0M44 106h0M139 129h0M26 76h0M73 16h0M91 37h0M148 101h0M25 87h0M169 82h0M46 47h0M99 83h0M102 42h0M133 104h0M150 29h0M61 83h0M108 39h0M104 65h0M128 46h0M65 111h0M147 38h0M79 109h0M31 17h0M102 25h0M131 48h0M34 79h0M36 115h0M152 50h0M47 44h0M45 130h0M132 98h0M49 22h0M25 107h0M67 60h0M103 72h0M124 90h0M162 100h0M86 93h0M98 41h0M131 50h0M95 37h0M153 124h0M144 21h0M122 101h0M81 65h0M9 115h0M82 129h0M45 117h0M183 84h0M134 47h0M99 37h0M86 130h0M108 7h0M72 68h0M62 70h0M56 70h0M62 84h0M66 108h0M96 94h0M147 93h0M176 81h0M150 105h0M84 29h0M165 80h0M72 109h0M64 84h0M156 51h0M160 39h0M108 130h0M171 67h0M122 66h0M81 94h0M191 11h0M20 99h0M49 36h0M103 28h0M65 31h0M66 101h0M93 41h0M112 129h0M50 17h0M63 111h0M119 123h0M97 43h0M126 32h0M137 53h0M172 119h0M143 39h0M149 84h0M7 40h0M35 97h0M17 37h0M122 109h0M39 104h0"/></defs>
<use href="#p5" stroke="#94506a" stroke-width="4.6" stroke-linecap="round" stroke-opacity="0.35"/>
<use href="#p5" stroke="#62223c" stroke-width="2.7" stroke-linecap="round" stroke-opacity="0.85"/>
<use href="#p2" stroke="#3a3a4a" stroke-width="1.8" stroke-linecap="round" stroke-opacity="0.75" transform="translate(0 136) scale(1 -1)"/>
</g></g>
<rect x="2.5" y="62.4" width="8.5" height="1.3" fill="#e02828"/>
<rect x="2.5" y="64.2" width="15" height="1.7" fill="#333" opacity="0.45"/>
</g>
<g transform="translate(331.8 792.0)">
<rect x="0.5" y="0.5" width="96.6" height="67" fill="#fbf9f9" stroke="#8e8e8e" stroke-width="1"/><g filter="url(#sm)"><g transform="scale(0.5)">
<defs><path id="p6" d="M149 19h0M109 112h0M147 86h0M154 97h0M123 54h0M150 84h0M88 92h0M103 103h0M52 22h0M137 66h0M77 93h0M110 21h0M151 89h0M157 105h0M15 87h0M85 103h0M94 44h0M93 101h0M11 12h0M123 39h0M119 78h0M127 64h0M153 14h0M144 83h0M89 131h0M179 10h0M137 10h0M17 95h0M188 56h0M36 45h0M166 8h0M12 24h0M107 50h0M31 42h0M20 23h0M170 88h0M92 99h0M52 68h0M147 95h0M36 42h0M177 76h0M20 15h0M171 106h0M175 127h0M127 125h0M88 111h0M41 78h0M34 39h0M126 10h0M67 94h0M104 46h0M164 93h0M75 107h0M71 113h0M42 41h0M145 117h0M90 91h0M57 20h0M144 60h0M111 31h0M91 115h0M164 58h0M165 5h0M102 131h0M137 40h0M32 33h0M11 27h0M155 77h0M156 123h0M18 21h0M156 63h0M134 121h0M115 111h0M167 85h0M171 11h0M173 84h0M83 53h0M58 6h0M90 44h0M32 48h0M77 129h0M9 14h0M102 98h0M150 88h0M132 109h0M91 53h0M35 57h0M13 132h0M180 62h0M31 39h0M184 84h0M5 16h0M38 32h0M183 95h0M33 115h0M42 49h0M52 73h0M184 20h0M142 8h0M156 124h0M191 76h0M72 55h0M166 84h0M51 88h0M84 111h0M180 60h0M96 119h0M65 103h0M148 80h0M126 7h0M137 119h0M49 65h0M161 130h0M33 11h0M73 66h0M115 12h0M129 50h0M36 128h0M114 126h0M106 60h0M77 111h0M72 46h0M174 82h0M161 124h0M110 110h0M90 5h0M91 80h0M170 66h0M96 96h0M103 48h0M89 105h0M133 36h0M179 13h0M44 69h0M10 5h0M21 39h0M150 118h0M36 116h0M89 85h0M77 127h0M104 50h0M75 121h0M10 25h0M93 105h0M106 78h0M93 110h0M86 99h0M184 57h0M10 95h0M113 106h0M151 66h0M170 85h0M112 119h0M163 85h0M173 85h0M173 25h0M152 71h0M134 57h0M169 34h0M106 105h0M49 14h0M113 115h0M43 93h0M94 22h0M110 25h0M51 36h0M82 96h0M119 69h0M159 94h0M93 59h0M169 117h0M163 62h0M80 6h0M112 8h0M43 117h0M24 79h0M79 95h0M146 50h0M45 67h0M125 112h0M87 11h0M137 9h0M110 104h0M103 120h0M16 132h0M178 54h0M157 103h0M156 125h0M9 15h0M150 122h0M46 98h0M101 12h0M128 8h0M47 25h0M129 22h0M169 85h0M104 54h0M100 69h0M150 119h0M82 110h0M107 72h0M70 129h0M174 6h0M84 94h0M87 29h0M52 78h0M165 89h0M54 9h0M155 85h0M13 127h0M112 104h0M18 67h0M79 114h0M150 97h0M91 122h0M65 78h0M86 121h0M151 117h0M44 44h0M109 118h0M121 71h0M8 20h0M51 58h0M19 117h0M156 131h0M137 49h0M178 106h0M87 82h0M28 49h0M151 52h0M179 111h0M94 94h0M151 92h0M31 22h0M126 108h0M164 89h0M134 37h0M116 115h0M29 113h0M93 93h0M58 30h0M175 118h0M101 32h0M45 36h0M126 59h0M153 76h0M156 118h0M149 132h0M170 81h0M184 80h0M79 112h0M46 71h0M136 121h0M23 6h0M176 29h0M114 63h0M51 102h0M24 78h0M167 129h0M29 86h0M61 6h0M98 123h0M37 52h0M55 125h0M111 20h0M118 63h0M39 61h0M83 120h0M104 53h0M115 130h0M119 84h0M82 117h0M31 48h0M139 121h0M146 71h0M167 57h0M135 120h0M165 108h0M80 47h0M150 116h0M35 117h0M119 15h0M135 95h0M19 98h0M182 119h0M153 92h0M112 28h0M139 39h0M143 90h0M145 118h0M83 125h0M97 119h0M45 56h0M134 116h0M112 115h0M82 89h0M114 24h0M144 66h0M117 102h0M80 126h0M51 5h0M110 71h0M104 109h0M138 99h0M169 29h0M187 6h0M25 117h0"/></defs>
<use href="#p6" stroke="#94506a" stroke-width="4.6" stroke-linecap="round" stroke-opacity="0.35"/>
<use href="#p6" stroke="#62223c" stroke-width="2.7" stroke-linecap="round" stroke-opacity="0.85"/>
<use href="#p2" stroke="#3a3a4a" stroke-width="1.8" stroke-linecap="round" stroke-opacity="0.75" transform="translate(195.2 0) scale(-1 1)"/>
</g></g>
<rect x="2.5" y="62.4" width="8.5" height="1.3" fill="#e02828"/>
<rect x="2.5" y="64.2" width="15" height="1.7" fill="#333" opacity="0.45"/>
</g>
<g transform="translate(32.2 862.1)">
<rect x="0.5" y="0.5" width="96.6" height="67" fill="#fbf9f9" stroke="#8e8e8e" stroke-width="1"/><g filter="url(#sm)"><g transform="scale(0.5)">
<defs><path id="p7" d="M53 70h0M175 103h0M10 109h0M133 76h0M68 16h0M90 76h0M165 116h0M159 82h0M138 47h0M153 65h0M99 99h0M171 121h0M37 94h0M114 68h0M51 71h0M168 129h0M157 49h0M179 52h0M157 117h0M144 126h0M146 57h0M83 46h0M150 123h0M152 64h0M135 75h0M91 19h0M20 32h0M180 87h0M12 103h0M31 15h0M130 26h0M123 78h0M160 110h0M97 33h0M97 124h0M116 77h0M141 94h0M34 23h0M29 11h0M18 66h0M79 84h0M31 70h0M25 13h0M125 129h0M139 65h0M110 74h0M28 46h0M27 19h0M74 121h0M23 47h0M185 120h0M160 57h0M109 82h0M107 111h0M26 14h0M25 60h0M90 94h0M113 76h0M129 84h0M179 101h0M178 124h0M164 112h0M81 96h0M143 77h0M151 60h0M55 15h0M80 78h0M106 62h0M66 98h0M140 36h0M119 66h0M181 12h0M97 98h0M29 27h0M132 78h0M73 14h0M160 109h0M81 39h0M95 104h0M162 21h0M63 120h0M88 79h0M56 8h0M85 102h0M143 53h0M61 34h0M165 114h0M166 32h0M79 42h0M78 79h0M123 80h0M150 118h0M131 63h0M156 111h0M177 73h0M155 125h0M175 110h0M111 33h0M34 38h0M159 67h0M135 60h0M96 85h0M84 124h0M164 42h0M96 92h0M154 62h0M25 31h0M133 58h0M79 43h0M80 28h0M21 20h0M136 81h0M28 94h0M144 65h0M92 89h0M144 65h0M133 77h0M20 27h0M118 55h0M48 112h0M122 86h0M80 37h0M157 98h0M148 81h0M160 22h0M173 130h0M22 62h0"/></defs>
<use href="#p7" stroke="#e4b8cc" stroke-width="5.2" stroke-linecap="round" stroke-opacity="0.5"/>
<use href="#p7" stroke="#b0588a" stroke-width="3" stroke-linecap="round" stroke-opacity="0.75"/>
<use href="#p2" stroke="#2e3250" stroke-width="2.0" stroke-linecap="round" stroke-opacity="0.9" transform="translate(195.2 0) scale(-1 1)"/>
</g></g>
<rect x="2.5" y="62.4" width="8.5" height="1.3" fill="#e02828"/>
<rect x="2.5" y="64.2" width="15" height="1.7" fill="#333" opacity="0.45"/>
</g>
<g transform="translate(131.9 862.1)">
<rect x="0.5" y="0.5" width="96.6" height="67" fill="#fbf9f9" stroke="#8e8e8e" stroke-width="1"/><g filter="url(#sm)"><g transform="scale(0.5)">
<defs><path id="p8" d="M168 102h0M47 29h0M21 14h0M57 54h0M107 71h0M46 100h0M123 108h0M18 12h0M35 38h0M60 15h0M51 122h0M39 118h0M29 86h0M29 26h0M7 92h0M20 105h0M151 50h0M33 109h0M10 21h0M126 34h0M139 123h0M7 97h0M54 60h0M168 27h0M101 115h0"/></defs>
<use href="#p8" stroke="#e4b8cc" stroke-width="5.2" stroke-linecap="round" stroke-opacity="0.5"/>
<use href="#p8" stroke="#b0588a" stroke-width="3" stroke-linecap="round" stroke-opacity="0.75"/>
<use href="#p1" stroke="#2e3250" stroke-width="2.0" stroke-linecap="round" stroke-opacity="0.9" transform="translate(0 136) scale(1 -1)"/>
</g></g>
<rect x="2.5" y="62.4" width="8.5" height="1.3" fill="#e02828"/>
<rect x="2.5" y="64.2" width="15" height="1.7" fill="#333" opacity="0.45"/>
</g>
<g transform="translate(231.9 862.1)">
<rect x="0.5" y="0.5" width="96.6" height="67" fill="#fbf9f9" stroke="#8e8e8e" stroke-width="1"/><g filter="url(#sm)"><g transform="scale(0.5)">
<defs><path id="p9" d="M173 19h0M108 6h0M12 69h0M137 29h0M65 76h0M168 85h0M68 71h0M170 64h0M73 61h0M120 78h0M70 65h0M95 43h0M11 102h0M173 74h0M175 86h0M165 110h0M178 89h0M111 19h0M160 83h0M147 119h0M72 54h0M168 24h0M74 53h0M36 90h0M155 21h0M172 49h0M185 80h0M50 29h0M186 67h0M171 106h0M114 14h0M87 16h0M150 48h0M11 63h0M158 49h0M179 102h0M161 97h0M98 71h0M91 55h0M133 26h0M152 26h0M84 121h0M159 33h0M27 51h0M57 92h0M174 51h0M170 35h0M132 69h0M185 124h0M87 77h0M124 87h0M90 92h0M173 85h0M51 78h0M187 13h0M169 102h0M157 107h0M21 122h0M169 94h0M42 120h0M164 115h0M62 52h0M185 70h0M15 22h0M14 64h0M99 26h0M171 53h0M83 21h0M127 93h0M93 52h0M71 50h0M6 61h0M36 17h0M11 79h0M105 13h0M146 23h0M23 104h0M164 95h0M66 56h0M121 7h0M147 85h0M6 59h0M8 63h0M164 32h0M173 72h0M171 115h0M90 10h0M175 113h0M145 56h0M20 44h0M19 57h0M41 28h0M56 120h0M96 14h0M8 27h0M81 59h0M172 35h0M154 97h0M132 99h0M84 112h0M80 73h0M169 80h0M98 95h0M20 11h0M52 10h0M25 50h0M178 55h0M141 59h0M182 48h0M171 35h0M9 21h0M168 64h0M49 25h0M15 23h0M10 16h0M148 127h0M93 38h0M106 54h0M32 50h0M20 47h0M30 118h0M165 47h0M61 74h0M94 55h0M133 66h0M106 106h0M124 38h0M156 118h0M31 119h0M170 41h0M60 67h0M40 97h0M75 6h0M87 21h0M158 7h0M16 38h0M90 98h0M121 76h0M177 22h0M55 7h0M156 115h0M157 37h0M155 87h0"/></defs>
<use href="#p9" stroke="#e4b8cc" stroke-width="5.2" stroke-linecap="round" stroke-opacity="0.5"/>
<use href="#p9" stroke="#b0588a" stroke-width="3" stroke-linecap="round" stroke-opacity="0.75"/>
<use href="#p2" stroke="#2e3250" stroke-width="2.0" stroke-linecap="round" stroke-opacity="0.9" transform="translate(195.2 0) scale(-1 1)"/>
</g></g>
<rect x="2.5" y="62.4" width="8.5" height="1.3" fill="#e02828"/>
<rect x="2.5" y="64.2" width="15" height="1.7" fill="#333" opacity="0.45"/>
</g>
<g transform="translate(331.8 862.1)">
<rect x="0.5" y="0.5" width="96.6" height="67" fill="#fbf9f9" stroke="#8e8e8e" stroke-width="1"/><g filter="url(#sm)"><g transform="scale(0.5)">
<defs><path id="p10" d="M116 81h0M139 15h0M102 69h0M124 29h0M161 63h0M19 39h0M42 77h0M95 80h0M105 52h0M170 57h0M136 98h0M123 83h0M126 74h0M127 125h0M187 86h0M107 111h0M115 61h0M144 96h0M23 58h0M84 30h0M135 14h0M169 97h0M24 103h0M85 36h0M50 120h0M96 43h0M92 99h0M183 8h0M12 83h0M22 29h0M117 90h0M165 93h0M98 53h0M27 13h0M149 105h0M103 56h0M9 120h0M157 93h0M111 75h0M160 58h0M9 104h0M130 31h0M179 58h0M58 53h0M181 49h0M94 41h0M75 32h0M163 49h0M136 12h0M133 109h0M108 77h0M57 118h0M22 23h0M132 82h0M131 20h0M18 110h0M147 121h0M110 83h0M165 50h0M48 108h0M117 81h0M120 27h0M143 68h0M43 17h0M9 25h0M121 27h0M111 32h0M154 66h0M114 38h0M97 32h0M41 31h0M111 35h0M129 18h0"/></defs>
<use href="#p10" stroke="#e4b8cc" stroke-width="5.2" stroke-linecap="round" stroke-opacity="0.5"/>
<use href="#p10" stroke="#b0588a" stroke-width="3" stroke-linecap="round" stroke-opacity="0.75"/>
<use href="#p1" stroke="#2e3250" stroke-width="2.0" stroke-linecap="round" stroke-opacity="0.9" transform="translate(0 136) scale(1 -1)"/>
</g></g>
<rect x="2.5" y="62.4" width="8.5" height="1.3" fill="#e02828"/>
<rect x="2.5" y="64.2" width="15" height="1.7" fill="#333" opacity="0.45"/>
</g>
<g transform="translate(32.2 940.8)">
<rect x="0.5" y="0.5" width="96.6" height="67" fill="#fbf9f9" stroke="#8e8e8e" stroke-width="1"/><g filter="url(#sm)"><g transform="scale(0.5)">
<defs><path id="p11" d="M158 58h0M32 17h0M57 50h0M121 117h0M121 56h0M100 24h0M125 18h0M137 92h0M53 24h0M116 44h0M62 55h0M136 101h0M190 115h0M61 66h0M71 4h0M103 83h0M17 56h0M17 52h0M134 120h0M85 38h0M26 69h0M76 85h0M133 7h0M124 90h0M30 66h0M8 87h0M6 66h0M51 125h0M127 99h0M40 86h0M32 37h0M186 20h0M156 54h0M35 48h0M54 95h0M181 11h0M80 108h0M74 12h0M129 125h0M139 120h0M71 117h0M73 69h0M38 108h0M63 69h0M129 79h0M154 60h0M152 40h0M46 120h0M15 73h0M140 109h0M14 91h0M160 71h0M70 111h0M121 79h0M12 4h0M159 15h0M58 58h0M98 104h0M20 71h0M81 35h0M55 61h0M130 73h0M38 58h0M41 73h0M8 41h0M97 112h0M89 129h0M179 16h0M4 81h0M36 81h0M69 128h0M49 39h0M154 91h0M39 65h0M5 105h0M138 113h0M53 58h0M84 7h0M51 83h0M155 61h0M70 15h0M16 69h0M127 128h0M31 33h0M138 98h0M73 70h0M132 93h0M167 87h0M118 74h0M141 27h0M29 65h0M36 117h0M37 64h0M132 15h0M162 67h0M139 19h0M161 77h0M111 31h0M172 33h0M173 108h0M47 8h0M18 41h0M81 39h0M114 47h0M47 50h0M145 80h0M142 83h0M147 129h0M130 46h0M142 115h0M30 41h0M83 59h0M83 28h0M78 34h0M99 98h0M117 16h0M38 112h0M59 73h0M139 29h0M160 36h0M147 42h0M29 5h0M82 28h0M101 64h0M177 108h0M65 76h0M10 101h0M21 36h0M60 121h0M74 23h0M124 29h0M49 38h0M152 75h0M175 39h0M68 15h0M113 35h0M65 122h0M60 90h0M154 101h0M134 44h0M89 40h0M137 93h0M119 16h0M41 33h0M156 117h0M108 23h0M49 63h0M149 83h0M47 100h0M142 65h0M167 70h0M5 15h0M33 59h0M28 117h0M158 31h0M83 127h0M99 48h0M106 124h0M39 61h0M133 84h0M134 24h0M190 51h0M169 29h0M89 84h0M138 81h0M190 68h0M32 26h0M95 19h0M53 103h0M85 56h0M12 77h0M28 91h0M139 42h0M18 46h0M46 64h0M150 11h0M185 117h0M41 55h0M162 32h0M135 79h0M46 24h0M98 132h0M14 83h0M18 36h0M161 116h0M26 57h0M78 33h0M22 98h0M129 38h0M123 122h0M38 47h0M23 101h0M80 87h0M106 39h0M66 65h0M161 89h0M10 122h0M34 14h0M149 55h0M33 4h0M147 92h0M163 92h0M156 97h0M179 111h0M185 67h0M172 75h0M141 114h0M116 32h0M92 105h0M171 111h0M178 109h0M104 17h0M167 67h0M81 117h0M36 128h0M78 27h0M106 30h0M176 80h0M115 59h0M126 65h0M164 51h0M27 49h0M25 131h0M20 99h0M100 98h0M74 129h0M138 123h0M10 80h0M62 27h0M109 67h0M181 22h0M14 50h0M8 125h0M150 43h0M124 71h0M189 73h0M161 108h0M81 44h0M38 17h0M139 122h0M41 37h0M161 128h0M112 79h0M136 126h0M58 10h0M166 7h0M17 10h0M120 119h0M145 64h0M80 94h0M15 129h0M169 79h0M20 100h0M132 103h0M185 13h0M107 34h0M34 18h0M152 81h0M32 93h0M124 89h0M64 29h0M135 91h0M18 79h0M42 52h0M90 111h0M10 68h0M141 91h0M124 34h0M20 70h0M142 120h0M31 61h0M139 99h0M150 97h0M14 132h0M56 52h0M125 23h0M4 48h0M53 48h0M165 40h0M62 70h0M61 104h0M100 20h0M28 56h0M9 81h0M22 108h0M120 107h0M189 15h0M155 100h0M71 106h0M43 116h0M146 40h0M72 113h0M99 52h0M167 36h0M127 42h0M100 127h0M140 115h0M51 78h0M42 18h0M86 37h0M110 84h0M85 122h0M142 80h0M154 71h0M27 55h0M175 55h0M172 98h0M133 100h0M54 90h0M74 119h0M48 36h0M79 100h0M149 51h0M12 100h0M175 102h0M85 122h0M164 124h0M40 52h0M97 82h0M61 64h0M177 63h0M26 96h0M77 65h0M37 96h0M77 114h0M142 113h0M16 33h0M7 108h0M182 53h0M191 12h0M178 75h0M174 92h0M185 47h0M10 88h0M62 64h0M160 28h0M105 74h0M125 85h0M4 103h0M6 131h0M29 56h0M92 21h0M19 73h0M163 96h0M33 62h0M137 60h0M66 9h0M131 126h0M99 100h0M138 131h0M79 13h0M185 13h0M180 14h0M168 84h0M149 77h0M33 16h0M150 59h0M30 7h0M21 41h0M63 111h0M106 32h0M79 97h0M162 123h0M176 56h0M125 4h0M179 21h0M137 5h0M136 25h0M186 49h0M40 38h0M47 12h0M156 14h0M160 83h0M175 7h0M98 131h0M53 99h0M116 6h0M125 69h0M24 82h0M44 40h0M44 120h0M122 109h0M18 89h0M35 130h0M44 55h0M74 57h0M78 96h0M43 55h0M56 78h0M90 17h0M179 60h0M146 91h0M162 43h0M154 55h0M132 21h0M132 63h0M24 22h0M58 28h0M145 90h0M127 29h0M84 102h0M134 106h0M41 82h0M167 66h0M137 107h0M113 29h0M37 83h0M148 79h0M144 101h0M82 128h0M97 116h0M16 92h0M113 92h0M184 29h0M97 117h0M100 48h0M84 16h0M72 27h0M106 113h0M163 113h0M47 96h0M114 103h0M181 23h0M131 22h0M121 50h0M25 13h0M37 38h0M121 100h0M95 54h0M107 94h0M34 6h0M76 89h0M97 121h0M173 72h0M55 6h0M4 52h0M84 81h0M65 8h0M173 97h0M180 61h0M48 16h0M101 9h0M70 38h0M54 81h0M9 132h0M152 66h0M48 44h0M16 128h0M36 48h0M95 82h0M97 36h0M101 119h0M131 113h0M5 29h0M33 69h0M123 62h0M32 93h0M29 56h0M88 7h0M74 107h0M60 107h0M34 89h0M170 41h0M101 70h0M81 40h0M28 107h0M32 88h0M73 39h0M159 46h0M172 95h0M80 53h0M145 4h0M45 81h0M97 69h0M156 110h0M128 115h0M69 25h0M56 19h0M20 116h0M96 6h0M34 98h0M86 117h0M170 96h0M110 106h0M137 120h0M106 83h0M164 18h0M33 47h0M135 98h0M159 105h0M161 79h0M171 39h0M34 132h0M112 62h0M159 81h0M96 22h0M185 113h0M63 103h0M175 68h0M185 40h0M7 23h0M160 64h0M95 31h0M60 12h0M151 48h0M166 96h0M126 23h0M61 17h0M170 124h0M51 118h0M180 79h0M51 33h0M94 12h0M136 13h0M144 100h0M98 22h0M36 18h0M66 36h0M170 44h0M101 128h0M43 81h0M173 48h0M121 66h0M101 88h0M89 88h0M185 7h0M32 76h0M5 125h0M190 7h0M135 106h0M23 79h0M112 87h0M125 123h0M180 20h0M157 132h0M166 118h0M189 84h0M148 109h0M183 75h0M77 128h0M161 49h0M136 90h0M64 95h0M122 102h0M127 77h0M40 18h0M147 78h0M160 70h0M122 18h0M31 79h0M190 76h0M60 12h0M154 83h0M8 53h0M129 125h0M105 7h0M95 46h0M176 101h0M125 48h0M97 88h0M113 27h0M109 16h0M125 107h0M57 13h0M90 86h0M172 15h0M153 80h0M44 49h0M143 113h0M66 32h0M147 113h0M24 89h0M178 90h0M33 130h0M22 56h0M42 58h0M76 117h0M143 93h0M59 117h0M60 75h0M182 93h0M82 94h0M160 66h0M49 32h0M48 121h0M115 16h0M100 39h0M46 64h0M11 43h0M177 87h0M62 16h0M90 115h0M63 100h0M121 97h0M76 92h0M185 10h0M158 86h0M7 63h0M146 83h0M148 37h0M178 27h0M23 102h0M65 62h0M151 27h0M92 4h0M21 26h0M117 110h0M51 52h0M57 118h0M7 26h0M146 115h0M105 53h0M157 13h0M15 39h0M141 132h0M53 71h0M149 59h0M35 23h0M77 109h0M174 106h0M15 37h0M153 98h0M15 71h0M55 43h0M39 84h0M36 103h0M96 99h0M134 107h0M137 121h0M58 56h0M55 125h0M186 124h0M38 53h0M147 114h0M149 127h0M80 119h0M166 83h0M53 85h0M59 95h0M93 34h0M121 55h0M22 57h0M43 114h0M116 93h0M127 80h0M134 121h0M113 86h0M107 74h0M152 132h0M183 23h0M66 31h0M162 124h0M137 83h0M76 52h0M172 84h0M49 71h0M67 32h0M32 47h0M181 56h0M103 90h0M89 24h0M31 106h0M19 89h0M26 34h0M120 115h0M119 44h0M173 131h0M24 61h0M38 132h0M128 43h0M137 107h0M60 20h0M171 89h0M108 131h0M83 100h0M17 7h0M31 39h0M168 35h0M12 75h0M76 99h0M170 96h0M75 118h0M158 33h0M49 6h0M84 25h0M106 30h0M162 21h0M147 16h0M77 5h0M118 24h0M37 64h0M44 16h0M164 72h0M38 79h0M169 71h0M119 58h0M139 108h0M37 33h0M179 61h0M19 29h0M76 122h0M85 63h0M109 130h0M151 111h0M15 22h0M116 53h0M72 100h0M33 18h0M117 98h0M32 44h0M25 99h0M87 42h0M161 101h0M104 121h0M121 79h0M52 11h0M94 28h0M119 95h0M70 46h0M189 54h0M107 66h0M126 29h0M177 50h0M82 121h0M142 125h0M138 34h0M139 106h0M191 132h0M173 49h0M54 59h0M102 78h0M190 35h0M118 112h0M140 92h0M85 22h0M78 20h0M125 31h0M143 115h0M177 57h0M142 125h0M54 71h0M130 86h0M92 106h0M102 66h0M36 23h0M23 17h0M126 19h0M19 9h0M53 128h0M139 107h0M63 97h0M182 126h0M189 35h0M56 118h0M101 37h0M49 35h0M116 13h0M174 50h0M24 88h0M83 23h0M126 31h0M56 52h0M14 103h0M134 29h0M164 102h0M130 86h0M146 120h0M51 42h0M13 47h0M46 73h0M36 116h0M122 46h0M144 81h0M144 41h0M186 97h0M70 110h0M140 86h0M55 9h0M101 44h0M183 14h0M43 16h0M163 34h0M145 57h0M12 60h0M137 115h0M100 9h0M156 116h0M23 123h0M148 37h0M91 78h0M171 89h0M35 49h0M47 27h0M102 8h0M110 56h0M127 9h0M64 40h0M156 21h0M133 108h0M29 86h0M190 121h0M170 58h0M161 27h0M21 132h0M78 44h0M149 122h0M50 123h0M30 130h0M178 81h0M30 78h0M155 93h0M13 64h0M191 13h0M120 14h0M107 76h0M64 13h0M93 70h0M90 15h0M61 78h0M146 105h0M126 55h0M48 86h0M104 117h0M59 31h0M69 98h0M173 80h0M122 111h0M49 12h0M28 41h0M91 102h0M36 64h0M66 38h0M63 103h0M145 95h0M39 55h0M129 30h0M162 80h0M17 76h0M123 106h0M20 34h0M146 101h0M9 119h0M62 18h0M110 15h0M85 106h0M187 20h0M177 32h0M140 112h0M98 95h0M153 70h0M46 35h0M123 117h0M161 117h0M100 99h0M100 47h0M176 123h0M142 97h0M158 49h0M80 80h0M134 19h0M118 36h0M177 48h0M144 51h0M112 23h0M122 106h0M99 31h0M179 119h0M98 65h0M89 7h0M168 92h0M136 38h0M15 58h0M148 72h0M119 48h0M182 17h0M130 39h0M152 36h0M154 66h0M116 63h0M173 68h0M25 80h0M73 80h0M133 129h0M29 18h0M117 31h0M54 93h0M130 33h0M148 128h0M69 36h0M127 20h0M58 123h0M188 69h0M44 22h0M142 129h0M97 110h0M70 61h0M42 41h0M80 44h0M25 115h0M143 7h0M164 96h0M160 71h0M167 74h0M143 44h0M70 48h0M147 106h0M20 16h0M5 60h0M55 71h0M116 97h0M74 95h0M114 68h0M34 104h0M146 58h0M60 56h0M127 97h0M135 121h0M61 105h0M71 102h0M40 52h0M180 122h0M14 74h0M12 102h0M120 100h0M11 93h0M87 47h0M82 27h0M129 4h0M87 117h0M116 62h0M149 112h0M68 17h0M47 64h0M40 60h0M176 18h0M184 107h0M153 96h0M82 117h0M115 58h0M61 123h0M154 71h0M31 77h0M74 48h0M162 75h0M135 11h0M91 18h0M128 31h0M154 127h0M126 94h0M95 35h0M62 114h0M115 48h0M27 69h0M146 94h0M136 100h0M120 109h0M183 38h0M91 121h0M144 109h0M108 23h0M58 24h0M137 12h0M14 69h0M163 77h0M34 55h0M137 27h0M50 57h0M99 99h0M175 56h0M128 115h0M164 75h0M93 20h0M171 61h0M74 41h0M164 57h0M28 53h0M37 38h0M142 92h0M89 81h0M68 86h0M16 49h0M124 18h0M65 43h0M185 38h0M160 44h0M144 53h0M123 114h0M163 80h0M101 28h0M101 23h0M35 113h0M180 79h0M88 59h0M13 55h0M131 17h0M87 23h0M101 13h0M155 120h0M191 23h0M22 71h0M73 9h0M114 128h0M71 77h0M62 20h0M162 58h0M184 5h0M180 39h0M144 11h0M106 91h0M75 27h0M169 96h0M169 55h0M30 30h0M143 4h0M51 117h0M166 107h0M73 70h0M45 107h0M184 128h0M14 6h0M138 34h0M141 44h0M172 66h0M51 52h0M116 118h0M52 43h0M148 5h0M75 65h0M34 23h0M24 84h0M23 63h0M127 116h0M88 16h0M117 19h0M187 37h0M76 40h0M55 95h0M163 5h0M58 37h0M162 78h0M96 32h0M21 87h0M87 33h0M186 63h0M62 25h0M84 67h0M11 73h0M17 104h0M81 129h0M141 5h0M17 44h0M127 40h0M108 96h0M20 43h0M79 21h0M59 96h0M66 25h0M54 54h0M6 90h0M120 87h0M14 39h0M25 5h0M115 31h0M40 13h0M81 4h0M79 63h0M114 65h0M48 114h0M164 76h0M98 41h0M62 111h0M163 81h0M24 78h0M128 80h0M180 8h0M123 47h0M25 76h0M122 113h0M71 76h0M138 119h0M14 120h0M67 4h0M92 131h0M98 16h0M128 98h0M95 36h0M8 37h0M8 69h0M84 130h0M142 121h0M168 110h0M68 23h0M132 52h0M129 59h0M113 103h0M137 103h0M126 40h0M10 79h0M58 26h0M181 56h0M143 123h0M159 68h0M128 103h0M51 25h0M39 69h0M50 104h0M116 13h0M138 5h0M97 20h0M188 47h0M90 117h0M91 11h0M82 99h0M37 34h0M96 34h0M129 72h0M91 25h0M43 4h0M47 90h0M50 127h0M180 10h0M13 78h0M129 109h0M158 78h0M101 32h0M100 59h0M183 17h0M22 98h0M121 11h0M113 122h0M144 101h0M111 34h0M144 78h0M150 75h0M164 111h0M67 14h0M13 44h0M112 18h0M135 40h0M32 120h0M121 93h0M100 33h0M36 44h0M57 38h0M25 77h0M169 50h0M49 118h0M121 16h0M145 114h0M133 113h0M103 113h0M31 23h0M96 60h0M136 53h0M23 114h0M143 119h0M52 128h0M161 68h0M145 63h0M98 63h0M137 67h0M168 120h0M110 41h0M178 94h0M18 66h0M109 91h0M43 19h0M79 16h0M63 88h0M111 95h0M70 90h0M130 12h0M32 67h0M50 126h0M86 68h0M145 119h0M34 7h0M101 41h0M164 41h0M167 116h0M29 11h0M58 108h0M181 35h0M86 130h0M158 82h0M184 9h0M62 41h0M91 129h0M146 100h0M15 56h0M37 63h0M187 71h0M132 129h0M82 120h0M95 99h0M63 15h0M87 67h0M186 61h0M122 90h0M86 64h0M155 62h0M184 53h0M185 17h0M136 89h0M141 123h0M42 42h0M22 19h0M178 110h0M82 16h0M50 54h0M159 33h0M140 113h0M30 42h0M40 101h0M53 108h0M25 54h0M190 13h0M24 71h0M163 99h0M152 99h0M137 5h0M170 82h0M175 123h0M104 116h0M138 49h0M32 64h0M15 9h0M132 30h0M95 92h0M40 54h0M137 96h0M137 106h0M87 25h0M178 125h0M71 62h0M152 46h0M123 35h0M161 19h0M131 111h0M80 20h0M115 27h0M19 18h0M129 94h0M128 124h0M13 90h0M39 51h0M46 54h0M102 97h0M143 128h0M174 72h0M70 66h0M27 34h0M47 45h0M108 93h0M175 101h0M140 34h0M181 39h0M56 39h0M44 126h0M188 78h0M116 34h0M33 52h0M144 127h0M115 24h0M89 48h0M132 38h0M37 52h0M67 76h0M149 17h0M132 48h0M121 84h0M185 13h0M164 107h0M129 117h0M14 4h0M74 99h0M152 9h0M87 5h0"/></defs>
<use href="#p11" stroke="#94506a" stroke-width="4.6" stroke-linecap="round" stroke-opacity="0.35"/>
<use href="#p11" stroke="#62223c" stroke-width="2.7" stroke-linecap="round" stroke-opacity="0.85"/>
<use href="#p2" stroke="#3a3a4a" stroke-width="1.8" stroke-linecap="round" stroke-opacity="0.75" transform="translate(0 136) scale(1 -1)"/>
</g></g>
<rect x="2.5" y="62.4" width="8.5" height="1.3" fill="#e02828"/>
<rect x="2.5" y="64.2" width="15" height="1.7" fill="#333" opacity="0.45"/>
</g>
<g transform="translate(131.9 940.8)">
<rect x="0.5" y="0.5" width="96.6" height="67" fill="#fbf9f9" stroke="#8e8e8e" stroke-width="1"/><g filter="url(#sm)"><g transform="scale(0.5)">
<defs><path id="p12" d="M77 22h0M128 108h0M121 123h0M185 13h0M173 15h0M187 128h0M142 129h0M178 77h0M162 53h0M132 93h0M40 90h0M27 28h0M92 4h0M157 100h0M125 65h0M34 122h0M28 65h0M66 91h0M77 56h0M83 76h0M72 102h0M166 39h0M20 119h0M142 127h0M24 89h0M117 70h0M161 129h0M59 35h0M110 5h0M170 129h0M9 107h0M68 96h0M60 131h0M123 49h0M75 8h0M123 99h0M84 37h0M153 59h0M83 58h0M145 125h0M169 51h0M97 111h0M27 56h0M177 45h0M60 112h0M50 92h0M88 107h0M143 118h0M159 37h0M165 110h0M141 78h0M6 51h0M147 108h0M20 127h0M38 38h0M116 69h0M100 77h0M156 68h0M114 76h0M53 91h0M48 116h0M74 129h0M102 7h0M169 88h0M24 40h0M16 17h0M96 92h0M133 82h0M187 22h0M88 34h0M71 42h0M140 86h0M185 11h0M17 116h0M122 100h0M116 96h0M21 116h0M22 93h0M166 127h0M78 125h0M131 72h0M125 74h0M76 40h0M129 63h0M165 101h0M157 35h0M142 109h0M114 126h0M61 57h0M173 14h0M11 102h0M170 109h0M162 87h0M121 76h0M164 110h0M189 62h0M110 78h0M135 106h0M71 131h0M132 71h0M147 118h0M160 103h0M144 59h0M49 14h0M166 121h0M8 99h0M94 18h0M162 103h0M108 96h0M111 102h0M99 94h0M57 115h0M86 36h0M177 21h0M149 85h0M75 82h0M117 132h0M47 86h0M168 61h0M134 46h0M175 29h0M176 36h0M52 55h0M151 111h0M150 67h0M65 70h0M140 57h0M147 76h0M165 84h0M71 124h0M153 7h0M38 123h0M42 92h0M121 35h0M52 104h0M105 71h0M64 15h0M156 19h0M141 9h0M8 13h0M79 129h0M103 6h0M54 32h0M35 80h0M49 15h0M191 123h0M108 51h0M22 98h0M86 129h0M67 92h0M113 47h0M105 118h0M137 81h0M87 56h0M132 74h0M152 110h0M114 63h0M173 21h0M27 75h0M47 91h0M38 94h0M128 94h0M99 115h0M52 108h0M174 54h0M65 54h0M84 19h0M146 40h0M97 53h0M76 14h0M143 49h0M100 95h0M145 117h0M131 126h0M62 47h0M64 75h0M133 110h0M119 65h0M182 57h0M98 91h0M115 77h0M109 64h0M145 45h0M117 117h0M179 40h0M120 53h0M82 40h0M105 99h0M17 79h0M119 47h0M128 29h0M91 119h0M150 124h0M143 52h0M109 57h0M9 9h0M67 75h0M26 104h0M140 96h0M124 22h0M99 52h0M27 63h0M137 96h0M51 49h0M138 19h0M72 67h0M110 104h0M69 128h0M161 66h0M175 10h0M27 95h0M52 68h0M144 28h0M57 82h0M102 36h0M116 62h0M122 53h0M35 101h0M171 26h0M77 98h0M112 84h0M64 50h0M49 108h0M107 45h0M106 62h0M9 68h0M123 49h0M102 62h0M14 40h0M137 109h0M122 109h0M50 125h0M43 80h0M166 58h0M118 113h0M34 107h0M18 54h0M64 31h0M119 94h0M86 120h0M133 82h0M85 30h0M106 127h0M122 114h0M77 92h0M57 81h0M83 111h0M184 80h0M73 37h0M70 81h0M30 9h0M79 132h0M179 21h0M131 16h0M152 99h0M108 108h0M119 42h0M147 83h0M71 121h0M99 67h0M163 98h0M59 91h0M94 95h0M162 31h0M7 31h0M187 45h0M47 48h0M116 80h0M151 45h0M150 131h0M85 79h0M58 79h0M131 55h0M58 40h0M106 95h0M81 113h0M87 119h0M104 56h0M189 76h0M13 6h0M49 90h0M180 88h0M191 22h0M90 110h0M54 75h0M84 85h0M165 19h0M135 76h0M129 33h0M178 101h0M116 28h0M131 7h0M178 115h0M130 55h0M134 103h0M77 122h0M78 47h0M65 33h0M35 92h0M109 42h0M94 68h0M19 29h0M42 98h0M109 69h0M165 122h0M140 81h0M127 93h0M106 14h0M37 108h0M122 92h0M178 59h0M69 62h0M24 120h0M162 127h0M32 119h0M124 40h0M114 123h0M46 122h0M103 73h0M189 37h0M64 49h0M45 40h0M92 108h0M98 104h0M99 6h0M145 82h0M114 16h0M53 82h0M66 47h0M101 50h0M117 46h0M38 66h0M34 99h0M52 93h0M9 102h0M70 73h0M168 58h0M56 55h0M65 106h0M114 106h0M187 39h0M147 120h0M125 70h0M169 123h0M79 86h0M88 83h0M143 97h0M88 123h0M104 62h0M105 95h0M178 61h0M127 49h0M73 124h0M61 104h0M102 99h0M63 77h0M136 4h0M101 11h0M143 5h0M141 82h0M107 38h0M81 65h0M173 85h0M91 52h0M147 16h0M15 60h0M183 92h0M128 74h0M154 9h0M83 47h0M23 86h0M91 124h0M110 87h0M96 99h0M135 130h0M96 95h0M173 119h0M99 73h0M137 55h0M112 62h0M78 88h0M69 108h0M109 115h0M95 91h0M15 6h0M182 92h0M151 106h0M185 86h0M40 42h0M76 27h0M180 99h0M150 113h0M184 52h0M6 29h0M24 92h0M74 121h0M154 15h0M51 88h0M146 93h0M127 108h0M109 58h0M145 92h0M16 98h0M58 28h0M178 70h0M110 8h0M70 13h0M180 21h0M128 99h0M174 77h0M60 132h0M112 5h0M127 57h0M85 45h0M14 99h0M85 102h0M101 50h0M152 54h0M131 9h0M93 74h0M68 18h0M157 26h0M151 128h0M73 86h0M166 36h0M47 87h0M173 101h0M67 46h0M68 111h0M16 50h0M62 36h0M60 33h0M31 39h0M96 80h0M156 29h0M73 29h0M57 42h0M137 40h0M95 108h0M46 107h0M111 125h0M25 76h0M83 127h0M27 84h0M62 80h0M141 87h0M177 73h0M164 43h0M85 76h0M113 60h0M32 81h0M90 37h0M153 119h0M60 79h0M14 98h0M81 129h0M14 18h0M34 54h0M41 23h0M23 26h0M119 12h0M167 97h0M71 127h0M104 39h0M80 71h0M161 41h0M31 95h0M131 22h0M102 39h0M26 59h0M130 97h0M133 33h0M172 114h0M60 74h0M112 10h0M45 71h0M60 63h0M118 131h0M16 114h0M23 45h0M103 117h0M69 106h0M108 101h0M37 108h0M82 102h0M23 101h0M40 103h0M132 130h0M176 56h0M19 98h0M148 23h0M132 57h0M99 12h0M28 85h0M18 118h0M72 23h0M146 48h0M129 28h0M64 54h0M25 69h0M78 7h0M80 111h0M107 64h0M153 121h0M121 64h0M5 55h0M99 63h0M131 92h0M20 104h0M177 112h0M30 49h0M139 108h0M93 62h0M32 113h0M183 16h0M44 45h0M33 44h0M147 81h0M122 49h0M119 58h0M32 56h0M127 58h0M65 33h0M179 88h0M17 96h0M60 60h0M118 119h0M88 31h0M138 62h0M132 65h0M166 7h0M183 9h0M125 95h0M8 43h0M26 63h0M84 74h0M6 82h0M141 76h0M160 37h0M168 108h0M17 47h0M152 53h0M154 42h0M155 113h0M157 67h0M176 41h0M53 49h0M36 18h0M162 116h0M71 96h0M57 54h0M142 9h0M29 50h0M71 67h0M52 44h0M118 47h0M102 57h0M60 60h0M72 77h0M72 14h0M94 46h0M184 27h0M155 131h0M159 45h0M169 7h0M58 113h0M97 61h0M65 95h0M40 100h0M121 43h0M129 84h0M42 124h0M76 132h0M98 48h0M175 110h0M67 79h0M157 71h0M183 46h0M179 110h0M104 62h0M8 12h0M172 81h0M33 39h0M145 46h0M77 42h0M178 38h0M81 73h0M98 77h0M110 26h0M64 71h0M110 48h0M102 129h0M83 110h0M181 55h0M57 20h0M69 128h0M77 5h0M52 95h0M108 103h0M166 46h0M68 122h0M123 59h0M161 79h0M7 106h0M139 76h0M116 17h0M149 16h0M186 126h0M146 125h0M53 116h0M9 20h0M13 68h0M109 59h0M171 85h0M34 66h0M140 85h0M152 37h0M118 115h0M99 71h0M115 75h0M63 6h0M99 19h0M153 80h0M37 26h0M170 95h0M19 76h0M153 92h0M187 127h0M97 109h0M98 54h0M110 50h0M190 35h0M154 56h0M43 125h0M57 59h0M79 73h0M186 73h0M99 66h0M125 126h0M180 29h0M30 114h0M99 125h0M135 75h0M148 61h0M9 61h0M172 62h0M76 45h0M187 6h0M69 118h0M144 104h0M114 56h0M30 108h0M51 30h0M5 11h0M177 8h0M109 112h0M107 54h0M71 126h0M85 95h0M162 97h0M155 105h0M57 67h0M158 124h0M111 28h0M59 48h0M144 120h0M56 70h0M174 50h0M5 128h0M31 111h0M143 96h0M157 93h0M66 76h0M164 56h0M80 9h0M158 60h0M55 23h0M115 130h0M177 98h0M62 72h0M22 16h0M68 64h0M175 13h0M50 68h0M94 112h0M51 70h0M89 51h0M177 25h0M161 95h0M54 119h0M91 38h0M160 109h0M71 64h0M189 13h0M50 45h0M54 28h0M175 113h0M116 94h0M158 19h0M117 78h0M38 107h0M122 96h0M132 104h0M54 63h0M68 52h0M34 70h0M64 112h0M180 55h0M157 116h0M67 105h0M153 48h0M143 63h0M169 58h0M90 43h0M51 124h0M102 6h0M22 6h0M17 52h0M31 55h0M160 81h0M88 15h0M59 28h0M52 88h0M191 36h0M13 79h0M115 114h0M155 57h0M53 76h0M119 35h0M46 95h0M146 37h0M92 118h0M55 23h0M176 56h0M146 67h0M184 50h0M35 40h0M180 45h0M4 77h0M106 9h0M185 62h0M43 107h0M130 49h0M135 110h0M53 95h0M150 120h0M10 64h0M171 50h0M65 75h0M27 12h0M13 25h0M72 65h0M164 112h0M77 84h0M159 19h0M170 119h0"/></defs>
<use href="#p12" stroke="#94506a" stroke-width="4.6" stroke-linecap="round" stroke-opacity="0.35"/>
<use href="#p12" stroke="#62223c" stroke-width="2.7" stroke-linecap="round" stroke-opacity="0.85"/>
<use href="#p2" stroke="#3a3a4a" stroke-width="1.8" stroke-linecap="round" stroke-opacity="0.75" transform="translate(195.2 0) scale(-1 1)"/>
</g></g>
<rect x="2.5" y="62.4" width="8.5" height="1.3" fill="#e02828"/>
<rect x="2.5" y="64.2" width="15" height="1.7" fill="#333" opacity="0.45"/>
</g>
<g transform="translate(231.9 940.8)">
<rect x="0.5" y="0.5" width="96.6" height="67" fill="#fbf9f9" stroke="#8e8e8e" stroke-width="1"/><g filter="url(#sm)"><g transform="scale(0.5)">
<defs><path id="p13" d="M113 39h0M135 107h0M38 83h0M19 126h0M88 126h0M25 28h0M169 9h0M190 56h0M150 98h0M56 83h0M178 129h0M86 87h0M129 77h0M156 15h0M145 46h0M115 94h0M115 44h0M35 129h0M27 13h0M172 86h0M66 114h0M153 46h0M59 43h0M119 84h0M82 90h0M8 94h0M151 123h0M173 116h0M15 89h0M107 86h0M142 64h0M91 35h0M100 60h0M118 72h0M49 121h0M73 117h0M19 105h0M124 114h0M124 116h0M143 22h0M138 8h0M106 87h0M88 16h0M175 14h0M94 129h0M117 50h0M102 67h0M89 131h0M30 11h0M57 4h0M55 104h0M139 54h0M135 14h0M22 10h0M88 90h0M184 97h0M150 21h0M36 115h0M15 22h0M132 84h0M164 112h0M20 132h0M110 129h0M168 30h0M44 38h0M134 11h0M184 92h0M34 104h0M85 11h0M167 39h0M54 32h0M107 42h0M53 23h0M189 109h0M80 101h0M118 33h0M155 14h0M61 71h0M11 55h0M53 17h0M76 73h0M76 79h0M141 28h0M139 95h0M84 73h0M155 59h0M116 23h0M109 120h0M168 8h0M132 60h0M97 124h0M113 86h0M96 38h0M29 58h0M120 122h0M154 31h0M71 66h0M180 85h0M123 7h0M22 120h0M143 122h0M113 62h0M68 5h0M156 28h0M114 52h0M71 27h0M109 128h0M50 89h0M45 44h0M104 11h0M55 86h0M23 9h0M160 62h0M143 13h0M51 69h0M11 50h0M115 5h0M60 31h0M150 59h0M75 90h0M176 25h0M33 124h0M39 61h0M173 98h0M59 115h0M21 67h0M18 68h0M139 24h0M104 55h0M54 63h0M148 125h0M10 34h0M104 89h0M150 4h0M96 120h0M109 65h0M20 53h0M105 97h0M88 60h0M136 96h0M110 68h0M39 15h0M79 124h0M151 63h0M5 20h0M125 71h0M139 35h0M145 101h0M191 51h0M125 113h0M73 13h0M45 10h0M118 88h0M12 18h0M118 56h0M93 66h0M58 88h0M183 118h0M77 89h0M100 29h0M82 78h0M54 12h0M95 131h0M141 132h0M107 73h0M13 34h0M53 91h0M67 10h0M6 30h0M9 74h0M161 6h0M178 75h0M134 69h0M96 119h0M124 59h0M25 71h0M68 78h0M61 97h0M81 28h0M144 119h0M175 38h0M182 66h0M24 42h0M140 95h0M68 85h0M101 22h0M112 46h0M164 45h0M142 46h0M83 58h0M25 81h0M161 38h0M101 91h0M98 120h0M106 43h0M70 21h0M102 110h0M152 43h0M49 125h0M43 27h0M84 98h0M91 65h0M21 104h0M110 17h0M142 101h0M116 37h0M152 39h0M118 113h0M98 122h0M31 60h0M91 34h0M96 29h0M15 79h0M62 24h0M9 24h0M77 103h0M191 96h0M143 57h0M181 64h0M58 85h0M126 75h0M127 122h0M88 85h0M77 29h0M9 130h0M176 101h0M40 107h0M47 83h0M63 101h0M106 52h0M58 53h0M105 33h0M27 57h0M151 117h0M77 87h0M176 65h0M100 123h0M175 115h0M147 118h0M149 74h0M161 108h0M23 128h0M101 101h0M162 44h0M80 107h0M178 72h0M121 43h0M170 92h0M10 38h0M133 76h0M22 39h0M56 46h0M69 7h0M57 83h0M124 4h0M81 59h0M43 86h0M133 126h0M6 61h0M66 78h0M108 14h0M98 26h0M58 46h0M80 15h0M166 131h0M21 18h0M119 122h0M34 56h0M117 12h0M179 36h0M92 65h0M90 42h0M62 61h0M54 33h0M154 102h0M133 111h0M97 111h0M67 68h0M34 20h0M156 91h0M149 96h0M6 130h0M170 8h0M46 120h0M153 78h0M53 17h0M42 108h0M31 20h0M175 119h0M96 119h0M89 73h0M105 66h0M87 17h0M95 131h0M177 87h0M22 93h0M113 66h0M176 79h0M164 22h0M22 103h0M18 96h0M127 86h0M161 104h0M76 55h0M161 34h0M71 110h0M154 55h0M14 125h0M117 42h0M14 62h0M187 40h0M27 36h0M135 81h0M135 127h0M16 56h0M45 124h0M178 70h0M92 109h0M44 93h0M110 59h0M11 7h0M59 47h0M46 47h0M80 33h0M64 7h0M150 13h0M57 68h0M121 70h0M89 71h0M112 16h0M154 44h0M115 50h0M135 129h0M168 44h0M44 67h0M115 39h0M54 40h0M87 40h0M112 53h0M59 89h0M185 54h0M176 103h0M175 40h0M75 89h0M132 38h0M146 19h0M180 94h0M163 83h0M123 131h0M170 16h0M23 98h0M186 116h0M175 43h0M145 49h0M131 38h0M104 88h0M186 43h0M83 67h0M45 126h0M46 73h0M168 13h0M137 29h0M141 129h0M144 59h0M20 8h0M167 87h0M73 96h0M176 5h0M90 124h0M188 132h0M159 39h0M160 107h0M124 57h0M173 18h0M106 44h0M122 61h0M63 107h0M134 11h0M43 35h0M138 48h0M87 120h0M86 123h0M5 79h0M46 73h0M25 27h0M176 32h0M12 64h0M139 123h0M29 72h0M67 104h0M103 93h0M69 63h0M117 120h0M104 85h0M70 13h0M70 48h0M97 64h0M15 52h0M127 72h0M129 130h0M26 68h0M84 120h0M157 122h0M152 113h0M142 64h0M190 50h0M30 104h0M159 126h0M5 49h0M166 51h0M15 73h0M75 52h0M158 59h0M146 76h0M50 64h0M96 106h0M189 121h0M104 119h0M137 82h0M85 42h0M62 75h0M101 42h0M46 118h0M89 58h0M140 18h0M186 49h0M127 23h0M16 60h0M95 65h0M113 116h0M130 55h0M68 19h0M140 53h0M8 8h0M190 44h0M44 72h0M19 100h0M52 109h0M34 132h0M78 16h0M27 83h0M50 75h0M91 25h0M162 74h0M117 124h0M21 40h0M160 53h0M120 25h0M56 127h0M17 58h0M190 67h0M7 30h0M26 10h0M155 35h0M62 39h0M76 21h0M10 11h0M73 84h0M164 81h0M97 130h0M87 64h0M93 60h0M56 128h0M139 45h0M18 27h0M106 41h0M37 31h0M162 33h0M54 59h0M108 88h0M107 40h0M23 4h0M78 82h0M144 40h0M174 54h0M80 39h0M117 71h0M101 6h0M137 60h0M168 119h0M6 88h0M123 52h0M139 87h0M179 65h0M147 15h0M24 18h0M11 99h0M115 106h0M69 18h0M46 34h0M82 34h0M148 31h0M167 82h0M128 77h0M114 118h0M15 87h0M180 126h0M124 131h0M69 79h0M171 40h0M38 12h0M38 84h0M135 75h0M187 107h0M35 63h0M78 45h0M123 42h0M39 25h0M161 51h0M139 47h0M64 86h0M27 131h0M96 17h0M15 126h0M130 92h0M61 74h0M121 8h0M54 130h0M159 38h0M129 115h0M170 101h0M4 128h0M84 104h0M137 55h0M114 63h0M86 19h0M42 111h0M154 111h0M150 17h0M63 68h0M18 93h0M110 63h0M156 24h0M167 23h0M25 103h0M88 93h0M24 98h0M149 104h0M181 119h0M190 50h0M138 47h0M95 46h0M27 130h0M92 73h0M160 78h0M106 27h0M151 100h0M123 116h0M22 19h0M185 27h0M169 122h0M76 132h0M71 110h0M118 84h0M185 24h0M145 118h0M178 61h0M167 22h0M25 73h0M26 84h0M165 87h0M142 86h0M83 59h0M13 93h0M148 27h0M20 71h0M179 10h0M122 109h0M98 131h0M109 100h0M191 71h0M142 86h0M11 102h0M170 76h0M142 32h0M95 114h0M58 105h0M79 53h0M125 50h0M123 103h0M43 102h0M83 36h0M102 40h0M113 69h0M27 131h0M119 35h0M128 31h0M65 98h0M172 94h0M47 5h0M82 29h0M112 41h0M139 77h0M4 89h0M89 85h0M137 15h0M66 50h0M175 130h0M115 63h0M146 9h0M179 94h0M56 122h0M81 6h0M90 95h0M30 122h0M156 54h0M20 58h0M179 30h0M133 100h0M78 101h0M82 55h0M14 82h0M27 19h0M166 31h0M95 35h0M99 106h0M143 19h0M105 96h0M124 109h0M185 4h0M177 70h0M79 119h0M122 59h0M172 91h0M68 40h0M105 6h0M117 74h0M56 129h0M69 13h0M64 85h0M100 81h0M143 74h0M185 24h0M130 87h0M186 56h0M98 85h0M121 119h0M65 131h0M71 10h0M62 10h0M123 64h0M17 108h0M18 110h0M119 121h0M89 23h0M99 9h0M80 118h0M161 45h0M14 15h0M83 34h0M137 22h0M126 117h0M42 30h0M94 19h0M7 52h0M163 14h0M81 10h0M55 25h0M127 14h0M176 31h0M53 73h0M102 91h0M132 16h0M86 90h0M97 75h0M176 99h0M163 91h0M137 113h0M61 94h0M138 98h0M92 108h0M177 54h0M100 52h0M144 111h0M117 111h0M89 112h0M159 66h0M106 33h0M41 39h0M87 129h0M58 31h0M106 70h0M31 44h0M42 53h0M139 31h0M191 64h0M173 99h0M156 91h0M112 61h0M69 51h0M103 47h0M48 81h0M122 111h0M110 111h0M114 36h0M76 110h0M180 61h0M47 11h0M110 33h0M90 73h0M100 127h0M104 31h0M50 125h0M181 82h0M50 74h0M32 11h0M44 22h0M178 37h0M144 65h0M88 50h0M100 13h0M33 105h0M26 102h0M165 27h0M75 84h0M192 124h0M102 127h0M119 11h0M164 118h0M99 97h0M19 42h0M34 127h0M117 69h0M110 86h0M46 111h0M182 104h0M126 51h0M119 117h0M58 30h0M152 91h0M15 81h0M99 58h0M188 62h0M56 33h0M150 13h0M183 69h0M142 90h0M164 4h0M67 59h0M96 94h0M8 56h0M25 103h0M182 88h0M80 101h0M87 61h0M21 9h0M56 98h0M21 77h0M173 71h0M189 91h0M127 120h0M5 90h0M102 16h0M106 91h0M86 84h0M52 76h0M102 39h0M185 114h0M75 19h0M34 108h0M82 90h0M63 129h0M182 85h0M93 46h0M7 95h0M9 109h0M16 68h0M44 21h0M46 94h0M81 84h0M111 101h0M125 38h0M165 54h0M55 94h0M170 23h0M96 83h0M167 69h0M134 35h0M7 39h0M145 119h0M18 23h0M165 130h0M107 64h0M100 38h0M21 93h0M17 59h0M56 63h0M119 66h0M77 113h0M70 25h0M156 101h0M178 39h0M81 90h0M47 32h0M100 99h0M58 51h0M38 8h0M7 100h0M150 97h0M167 122h0M113 125h0M31 81h0M55 71h0M184 54h0M87 125h0M14 62h0M5 126h0M104 15h0M41 103h0M109 82h0M73 15h0M98 97h0M152 80h0M148 22h0M120 60h0M107 121h0M133 56h0M92 87h0M29 121h0M85 65h0M110 11h0M126 60h0M189 42h0M9 30h0M183 70h0M19 73h0M101 99h0M167 100h0M80 111h0M106 19h0M31 77h0M29 122h0M5 65h0M130 6h0M151 33h0M189 127h0M122 79h0M106 39h0M8 35h0M183 112h0M25 56h0M164 79h0M148 63h0M178 8h0M70 113h0M18 4h0M183 108h0M127 108h0M96 63h0M97 60h0M188 117h0M71 4h0M70 23h0M184 51h0M155 72h0M48 71h0M182 54h0M48 44h0M44 55h0M164 100h0M5 113h0M155 52h0M7 20h0M108 115h0M27 96h0M129 36h0M176 120h0M129 54h0M151 87h0M142 99h0M180 33h0M173 74h0M100 78h0M4 57h0M6 4h0M105 65h0M134 20h0M61 49h0M65 43h0M11 51h0M123 47h0M183 99h0M22 112h0M118 59h0M32 11h0M52 23h0M105 83h0M191 63h0M183 23h0M128 31h0M125 64h0M69 100h0M152 127h0M46 12h0M55 48h0M132 102h0M184 4h0M154 63h0M41 115h0M177 102h0M116 17h0M146 100h0M28 98h0M161 104h0M71 68h0M48 84h0M89 30h0M66 19h0M162 17h0M116 91h0M191 87h0M113 28h0M94 89h0M104 69h0M127 79h0M117 78h0M118 101h0M93 104h0M61 67h0M183 115h0M103 123h0M156 103h0M36 48h0M145 68h0M127 52h0M124 86h0M21 69h0M180 20h0M93 95h0M84 22h0M184 65h0M16 24h0M123 66h0M166 74h0M101 55h0M6 51h0M112 123h0M20 109h0M56 72h0M143 44h0M94 35h0M156 18h0M27 108h0M4 13h0M134 43h0M35 43h0M113 24h0M80 20h0M96 127h0M187 24h0M146 80h0M17 53h0M109 57h0M80 125h0M25 113h0M137 39h0M21 28h0M16 46h0M66 77h0M8 118h0M124 69h0M67 102h0M46 57h0M100 130h0M136 65h0M35 69h0M137 76h0M142 128h0M25 96h0M127 52h0M163 128h0M55 48h0M33 10h0M145 127h0M74 13h0M50 23h0M190 15h0M7 92h0M105 60h0M135 39h0M28 38h0M63 82h0M6 37h0M149 51h0M142 85h0M85 72h0M157 59h0M188 53h0M184 56h0M153 34h0M19 103h0M68 55h0M63 45h0M88 6h0M12 104h0M123 124h0M14 8h0M31 74h0M63 53h0M161 82h0M53 28h0M29 90h0M45 15h0M129 38h0M73 120h0M138 79h0M31 54h0M140 125h0M161 34h0M90 24h0M104 52h0M176 20h0M186 101h0M92 121h0M119 55h0M90 64h0M35 85h0M91 123h0M97 24h0M59 119h0M130 110h0M150 22h0M109 81h0M143 17h0M156 112h0M157 28h0M20 128h0M140 71h0M86 108h0M81 15h0M186 24h0M117 63h0M58 132h0M184 22h0M107 20h0M17 11h0M172 51h0M112 51h0M23 121h0M91 22h0M135 85h0M42 17h0M10 54h0M42 22h0M29 39h0M181 49h0M83 110h0M168 82h0M106 102h0M168 101h0M116 55h0M74 56h0M89 116h0M63 16h0M92 50h0M112 128h0M157 44h0M19 132h0M188 124h0M35 97h0M58 95h0M97 31h0M48 111h0M95 21h0M136 63h0M168 48h0M147 91h0M122 90h0M183 39h0M119 61h0M17 54h0M17 35h0M90 65h0M18 33h0M140 74h0M148 42h0M159 7h0M141 45h0M123 15h0M116 24h0M90 90h0M23 87h0M174 6h0M52 132h0M162 32h0M10 103h0M123 31h0M100 23h0M13 66h0M103 104h0M178 88h0M126 19h0M5 63h0M123 109h0M123 65h0M13 84h0M189 88h0M27 65h0M158 42h0M190 61h0M118 66h0M125 108h0M10 42h0M19 70h0M189 33h0M138 29h0M78 84h0M172 109h0M173 38h0M66 68h0M188 125h0M111 19h0M47 26h0M135 41h0M49 126h0M153 21h0M27 125h0M80 128h0M78 10h0M115 14h0M29 124h0M35 18h0M7 56h0M114 27h0M34 85h0M48 54h0M75 80h0M50 34h0M122 14h0M18 27h0M161 8h0M170 52h0M90 27h0M154 66h0M118 39h0M165 71h0M178 64h0M95 77h0M37 110h0M117 8h0M21 104h0M166 60h0M159 100h0M170 65h0M167 87h0M70 78h0M23 73h0M100 81h0M80 12h0M34 27h0M71 58h0M32 81h0M13 26h0M145 68h0M177 112h0M36 102h0M70 101h0M157 98h0M91 53h0M186 43h0M168 78h0M53 5h0M89 13h0M81 107h0M181 93h0M174 80h0M151 98h0M92 98h0M102 116h0M18 76h0M168 84h0M84 104h0M137 72h0M31 59h0M19 101h0M104 27h0M92 38h0M170 106h0M51 88h0M159 131h0M8 79h0M183 130h0M25 16h0M115 18h0M98 71h0M185 56h0M16 103h0M22 96h0M170 57h0M119 90h0M94 37h0M158 70h0M30 58h0M159 117h0M188 42h0M35 13h0M140 55h0M82 7h0M14 116h0M181 45h0M101 122h0M19 4h0M58 111h0M78 68h0M85 100h0M182 74h0M72 110h0M121 54h0M21 62h0M116 103h0M23 72h0M86 113h0M144 46h0M129 60h0M80 125h0M58 12h0M181 130h0M47 28h0M63 49h0M51 30h0M28 21h0M36 29h0M168 72h0M105 125h0M20 57h0M102 18h0M164 82h0M38 101h0M175 93h0M183 74h0M8 34h0M154 20h0M21 80h0M5 82h0M164 24h0M144 32h0M98 19h0M158 22h0M91 17h0M175 12h0M22 7h0M171 86h0M182 118h0M145 31h0M134 127h0M109 120h0M122 34h0M175 47h0M83 4h0M62 78h0M16 58h0M175 49h0M55 10h0M40 89h0M69 87h0M100 107h0M157 68h0M147 37h0M144 6h0M134 109h0M107 27h0M140 124h0M5 57h0M185 99h0M65 53h0M151 53h0M64 88h0M33 75h0M144 11h0M150 109h0M52 62h0M126 80h0M56 61h0M102 34h0M89 36h0M180 108h0M68 9h0M129 82h0M45 31h0M29 49h0M153 48h0M77 62h0M76 64h0M76 50h0M168 64h0M27 47h0M123 74h0M74 11h0M118 56h0M72 56h0M169 60h0M12 65h0M79 103h0M120 102h0M28 106h0M171 59h0M80 92h0M77 44h0M171 22h0M115 86h0M119 31h0M37 65h0M108 91h0M54 56h0M145 68h0M162 37h0M29 107h0M86 17h0M79 28h0M184 9h0M75 40h0M97 64h0M55 109h0M47 8h0M110 116h0M19 20h0M178 61h0M8 67h0M125 126h0M126 42h0M14 120h0M45 109h0M127 112h0M29 74h0M99 43h0M149 104h0M146 19h0M121 51h0M122 97h0M158 24h0M39 98h0M69 12h0M108 119h0M85 105h0M103 41h0M144 95h0M38 100h0M181 22h0M10 73h0M128 89h0M153 116h0M132 48h0M62 99h0M19 54h0M98 52h0M79 115h0M131 88h0M161 121h0M174 64h0M16 73h0M190 80h0M18 113h0M58 25h0M103 19h0M57 36h0M118 96h0M60 74h0M179 33h0M122 104h0M86 120h0M91 95h0M97 98h0M131 84h0M96 41h0M28 51h0M48 10h0M153 66h0M178 6h0M46 26h0M177 125h0M22 43h0M46 107h0M92 73h0M23 11h0M108 116h0M85 88h0M62 32h0M38 40h0M102 14h0M144 51h0M9 35h0M35 107h0M14 79h0M190 88h0M34 42h0M16 110h0M83 62h0M125 98h0M187 126h0M20 21h0M159 100h0M186 11h0M10 59h0M135 130h0M39 69h0M52 67h0M90 120h0M144 33h0M173 97h0M148 123h0M89 73h0M115 10h0M114 18h0M79 61h0M106 16h0M74 88h0M42 101h0M69 90h0M21 19h0M171 38h0M160 12h0M121 32h0M64 63h0M117 18h0M34 83h0M9 53h0M138 99h0M91 16h0M82 77h0M109 6h0M56 73h0M117 22h0M45 90h0M172 87h0M128 86h0M96 41h0M95 117h0M127 39h0M19 38h0M177 100h0M71 13h0M159 8h0M26 50h0M154 94h0M34 109h0M136 36h0M98 122h0M136 69h0M19 36h0M25 5h0M57 50h0M65 11h0M103 58h0M191 123h0M50 86h0M182 46h0M121 129h0M159 95h0M153 127h0M126 19h0M19 119h0M137 46h0M94 112h0M51 16h0M16 31h0M106 11h0M99 74h0M35 26h0M168 108h0M129 89h0M159 64h0M36 7h0M71 115h0M19 6h0M182 48h0M151 104h0M52 66h0M182 62h0M81 92h0M186 62h0M70 68h0M60 68h0M16 110h0M185 129h0M109 13h0M40 111h0M90 119h0M53 8h0M72 46h0M37 68h0M17 113h0M68 15h0M98 103h0M152 35h0M47 34h0M110 90h0M168 125h0M184 80h0M181 68h0M170 35h0M131 47h0M55 116h0M92 48h0M77 8h0M59 106h0M145 100h0M30 30h0M20 12h0M141 131h0M125 57h0M106 105h0M119 45h0M142 28h0M128 34h0M171 32h0M164 80h0M42 82h0M189 83h0M67 86h0M4 128h0M142 45h0M180 33h0M183 68h0M180 69h0M73 56h0M186 56h0M93 96h0M152 75h0M120 18h0M34 100h0M34 18h0M36 106h0M16 109h0M72 9h0M12 17h0M122 36h0M12 130h0M173 118h0M122 67h0M78 76h0M38 32h0M185 105h0M71 32h0M179 90h0M10 60h0M95 61h0M132 38h0M152 31h0M174 71h0M28 70h0M23 47h0M94 113h0M93 125h0M87 116h0M65 114h0M110 20h0M120 32h0M155 103h0M174 71h0M136 60h0M181 40h0M40 26h0M153 18h0M98 4h0M25 47h0M143 65h0M6 106h0M76 108h0M151 90h0M54 83h0M169 122h0M56 32h0M114 61h0M92 38h0M47 126h0M117 51h0M81 83h0M139 7h0M62 78h0M49 103h0M116 28h0M53 29h0M139 46h0M150 36h0M125 124h0M65 132h0M53 120h0M149 130h0M58 16h0M138 89h0M170 87h0M88 19h0M39 93h0M20 112h0M129 38h0M61 9h0M35 43h0M69 14h0M153 78h0M161 44h0M173 100h0M52 30h0M179 65h0M84 83h0M153 76h0M114 39h0M111 103h0M124 71h0M79 7h0M70 122h0M87 65h0M19 69h0M127 75h0M84 92h0M180 10h0M79 99h0M86 34h0M151 105h0M183 4h0M43 44h0M57 92h0M147 77h0M110 81h0M29 120h0M126 122h0M59 51h0M35 100h0M96 38h0M51 40h0M170 110h0M156 60h0M128 11h0M109 126h0M21 55h0M159 83h0M130 110h0M154 100h0M99 69h0M47 8h0M65 108h0M46 56h0M16 75h0M122 12h0M75 57h0M183 27h0M25 88h0M101 50h0M42 111h0M165 27h0M92 111h0M118 13h0M38 64h0M92 123h0M108 67h0M81 75h0M66 108h0M153 19h0M62 98h0M4 81h0M179 66h0M141 83h0M58 119h0M14 126h0M172 102h0M121 88h0M38 21h0M38 129h0M50 41h0M173 109h0M122 93h0M161 105h0M42 44h0M86 26h0M20 100h0M92 105h0M53 39h0M165 74h0M159 108h0M21 86h0M190 114h0M118 70h0M173 69h0M106 93h0M162 26h0M108 19h0M80 63h0M94 41h0M145 25h0M49 30h0M53 14h0M100 50h0M186 125h0M155 37h0M117 26h0M92 83h0M24 116h0M122 11h0M82 73h0M35 127h0M112 132h0M128 26h0M168 48h0M8 130h0M98 86h0M62 6h0M48 15h0M136 91h0M147 127h0M157 65h0M95 16h0M28 121h0M123 59h0M113 12h0M42 119h0M16 63h0M89 79h0M30 25h0M98 28h0M155 24h0M38 33h0M117 49h0M151 81h0M4 13h0M105 18h0M34 24h0M61 118h0M135 29h0M90 93h0M128 7h0M130 82h0M121 4h0M151 121h0M105 89h0M35 86h0M177 36h0M75 51h0M108 130h0M11 9h0M48 49h0M177 52h0M111 106h0M130 72h0M164 63h0M50 128h0M69 5h0M141 121h0M67 108h0M109 66h0M72 80h0M132 99h0M177 74h0M147 88h0M89 12h0M69 87h0M125 122h0M57 110h0M118 57h0M164 74h0M24 72h0M83 23h0M84 64h0M60 127h0M103 96h0M101 109h0M165 93h0M69 68h0M191 72h0M76 28h0M128 68h0M96 69h0M176 112h0M43 27h0M77 102h0M101 120h0M143 77h0M146 34h0M190 62h0M169 32h0M143 104h0M92 79h0M54 34h0M139 41h0M142 86h0M157 56h0M91 85h0M88 86h0M51 50h0M111 40h0M132 112h0M120 36h0M166 48h0M4 22h0M164 95h0M97 131h0M156 33h0M96 41h0M165 62h0M129 69h0M92 61h0M165 24h0M128 128h0M119 51h0M36 60h0M104 71h0M97 74h0M79 84h0M45 40h0M105 36h0M25 37h0M165 96h0M107 114h0M35 102h0M54 38h0M91 62h0M83 114h0M126 29h0M28 35h0M127 35h0M170 7h0M89 123h0M113 60h0M154 66h0M107 47h0M178 69h0M156 23h0M6 116h0M100 22h0M31 59h0M140 8h0M35 65h0M104 83h0M34 114h0M59 86h0M43 29h0M131 117h0M148 63h0M85 132h0M95 102h0M25 128h0M172 92h0M109 106h0M113 88h0M84 16h0M115 97h0M65 122h0M47 80h0M123 63h0M189 22h0M108 98h0M93 7h0M142 125h0M8 88h0M159 20h0M74 88h0M72 85h0M143 47h0M27 30h0M72 68h0M12 120h0M37 52h0M121 38h0M30 50h0M191 110h0M138 95h0M54 85h0M34 72h0M183 119h0M75 114h0M75 90h0M161 55h0M175 114h0M185 38h0M133 48h0M99 68h0M81 93h0M143 115h0M33 65h0M56 41h0M119 13h0M34 124h0M103 98h0M82 26h0M5 18h0M71 53h0M55 37h0M106 106h0M67 72h0M95 127h0M68 114h0M41 10h0M129 9h0M59 90h0M157 60h0M68 85h0M46 33h0M65 55h0M187 17h0M29 102h0M183 101h0M69 11h0M94 11h0M23 77h0M58 56h0M27 132h0M117 23h0M130 80h0M10 49h0M92 56h0M92 55h0M119 46h0M145 49h0M58 10h0M7 4h0M93 74h0M109 68h0M168 94h0M85 71h0M17 36h0M183 87h0M188 104h0M46 30h0M139 115h0M151 38h0M91 19h0M123 97h0M84 89h0M40 108h0M84 109h0M128 17h0M9 65h0M184 118h0M95 11h0M186 66h0M179 73h0M20 87h0M29 101h0M52 128h0M28 14h0M15 78h0M113 72h0M8 129h0M71 59h0M91 24h0M61 81h0M89 98h0M163 9h0M131 83h0M21 57h0M127 24h0M171 124h0M47 14h0M72 74h0M79 132h0M137 93h0M87 112h0M136 108h0M25 89h0M172 6h0M17 83h0M125 26h0M60 95h0M109 96h0M116 123h0M62 51h0M11 117h0M151 82h0M16 94h0M73 51h0M126 26h0M63 127h0M112 75h0M162 41h0M4 102h0M109 34h0M28 34h0M104 92h0M45 107h0M48 104h0M49 60h0M53 16h0M67 88h0M129 45h0M30 73h0M183 50h0M189 132h0M82 13h0M168 91h0M163 36h0M54 121h0M95 74h0M32 80h0M144 90h0M123 40h0M35 95h0M66 117h0M39 55h0M168 96h0M118 121h0M9 31h0M27 91h0M43 13h0M51 52h0M53 68h0M81 77h0M47 19h0M20 35h0M5 55h0M66 20h0M162 94h0M100 38h0M177 29h0M167 104h0M30 91h0M62 111h0M96 84h0M149 110h0M131 116h0M86 114h0M87 86h0M187 63h0M126 97h0M81 13h0M21 92h0M166 40h0M34 51h0M124 16h0M168 118h0M113 70h0M100 18h0M107 68h0M73 64h0M111 60h0M69 113h0M62 42h0M164 113h0M184 86h0M56 40h0M94 103h0M63 77h0M121 113h0M153 87h0M179 64h0M82 94h0M122 46h0M61 80h0M53 42h0M143 84h0M155 126h0M117 104h0M67 74h0M28 17h0M26 9h0M85 77h0M15 118h0M130 113h0M123 87h0M181 40h0M86 51h0M181 82h0M12 79h0M4 120h0M156 123h0M47 67h0M114 60h0M188 126h0M26 43h0M72 13h0M120 81h0M143 102h0M44 8h0M185 54h0M96 81h0M119 58h0M77 18h0M164 39h0M73 78h0M75 70h0M92 88h0M71 66h0M177 56h0M168 9h0M16 123h0M155 15h0M60 81h0M28 54h0M114 104h0M172 129h0M71 64h0M104 106h0M162 23h0M129 28h0M115 8h0M69 74h0M140 66h0M54 47h0M41 107h0M131 117h0M166 89h0M146 26h0M64 91h0M17 82h0M45 47h0M29 63h0M19 57h0M64 24h0M141 114h0M33 122h0M176 115h0M65 62h0M110 105h0M142 39h0M105 47h0M159 30h0M16 39h0M131 129h0M26 48h0M185 28h0M150 14h0M141 68h0M163 8h0M153 63h0M64 117h0M68 59h0M32 126h0M23 29h0M154 69h0M17 72h0M128 22h0M108 78h0M161 37h0M29 66h0M143 11h0M107 60h0M117 60h0M186 7h0M101 119h0M88 71h0M114 34h0M63 7h0M59 55h0M73 110h0M35 86h0M10 48h0M73 16h0M135 68h0M34 73h0M117 85h0M14 105h0M115 10h0M45 5h0M34 99h0M83 15h0M93 118h0M10 62h0M124 131h0M69 44h0M82 37h0M129 20h0M92 111h0M79 39h0M54 61h0M188 61h0M173 82h0M190 19h0M151 100h0M54 57h0M30 24h0M44 99h0M99 5h0M129 5h0M56 20h0M79 18h0M7 103h0M60 42h0M62 128h0M142 108h0M168 63h0M100 46h0M92 51h0M135 101h0M131 70h0M9 61h0M107 115h0M74 69h0M89 51h0M145 116h0M138 18h0M178 106h0M128 71h0M147 94h0M29 99h0M132 78h0M16 75h0M183 19h0M142 21h0M36 79h0M152 112h0M57 13h0M152 115h0M36 15h0M167 125h0M91 33h0M150 68h0M77 68h0M26 38h0M92 77h0M16 128h0M64 10h0M18 17h0M68 69h0M162 77h0M157 119h0M18 112h0M8 103h0M21 90h0M184 45h0M147 124h0M106 13h0M174 74h0M68 79h0M81 111h0M100 81h0M32 76h0M123 54h0M115 111h0M4 113h0M69 114h0M125 24h0M130 32h0M109 43h0M111 18h0M176 8h0M153 79h0M72 121h0M26 88h0M38 107h0M87 109h0M141 43h0M5 60h0M28 131h0M145 6h0M112 53h0M119 81h0M38 23h0M132 54h0M138 76h0M174 84h0M104 128h0M183 81h0M179 16h0M184 111h0M105 16h0M170 111h0M149 119h0M184 83h0M81 26h0M13 107h0M159 91h0M143 123h0M93 100h0M55 27h0M90 104h0M105 38h0M44 75h0M136 94h0M124 129h0M155 74h0M132 132h0M59 99h0M65 96h0M48 20h0M78 6h0M95 111h0M98 43h0M25 47h0M7 36h0M155 54h0M84 30h0M125 10h0M110 46h0M43 68h0M141 63h0M8 71h0M41 129h0M134 65h0M24 24h0M118 66h0M55 28h0M101 130h0M9 17h0M144 35h0M150 58h0M119 117h0M190 44h0M16 39h0M129 104h0M6 47h0M8 39h0M121 68h0M40 118h0M34 69h0M144 119h0M155 33h0M4 120h0M145 127h0M129 42h0M148 23h0M18 52h0M110 67h0M67 102h0M57 61h0M140 119h0M144 87h0M69 21h0M10 59h0M138 130h0M42 129h0M176 117h0M114 54h0M184 112h0M188 38h0M54 131h0M163 115h0M7 43h0M126 34h0M122 64h0M129 91h0M189 125h0M122 103h0M99 5h0M154 94h0M131 46h0M132 43h0M24 97h0M60 60h0M76 111h0M33 83h0M96 115h0M93 32h0M66 28h0M44 39h0M102 29h0M122 73h0M121 81h0M142 12h0M113 68h0M66 42h0M155 58h0M157 102h0M152 17h0M135 38h0M53 47h0M7 99h0M112 56h0M153 118h0M24 11h0M151 110h0M70 59h0M124 66h0M187 55h0M164 37h0M38 91h0M9 101h0M176 80h0M174 131h0M84 13h0M51 131h0M128 86h0M157 25h0M88 15h0M108 78h0M174 19h0M75 4h0M84 13h0M83 69h0M125 78h0M5 100h0M30 99h0M140 24h0M146 19h0M13 51h0M122 74h0M24 76h0M146 60h0M169 112h0M138 101h0M33 60h0M168 108h0M126 89h0M93 73h0M93 80h0M187 127h0M174 72h0M132 43h0M60 24h0M137 7h0M11 97h0M98 66h0M124 11h0M29 118h0M152 55h0M181 92h0M43 29h0M111 45h0M47 124h0M158 125h0M104 110h0M62 7h0M20 120h0M91 65h0M132 78h0M30 105h0M74 118h0M156 81h0M48 41h0M104 60h0M95 14h0M180 90h0M44 94h0M32 77h0M45 89h0M63 129h0M96 66h0M173 51h0M114 75h0M119 50h0M151 54h0M143 18h0M9 61h0M73 118h0M112 45h0M55 111h0M83 53h0M163 4h0M99 49h0M54 71h0M37 8h0M163 90h0M120 116h0M166 79h0M71 29h0M26 94h0M162 75h0M116 101h0M128 128h0M140 9h0M110 103h0M13 96h0M54 30h0M157 104h0M118 51h0M168 19h0M82 91h0M75 56h0M59 49h0M154 96h0M16 10h0M52 60h0M93 124h0M149 65h0M127 85h0M16 37h0M40 109h0M47 39h0M27 79h0M14 9h0M129 124h0M80 74h0M131 6h0M115 83h0M91 23h0M24 33h0M55 101h0M110 86h0M122 53h0M96 118h0M73 22h0M129 31h0"/></defs>
<use href="#p13" stroke="#8a4a78" stroke-width="4.6" stroke-linecap="round" stroke-opacity="0.35"/>
<use href="#p13" stroke="#5a2450" stroke-width="2.7" stroke-linecap="round" stroke-opacity="0.85"/>
<use href="#p2" stroke="#3a3a4a" stroke-width="1.8" stroke-linecap="round" stroke-opacity="0.75" transform="translate(0 136) scale(1 -1)"/>
</g></g>
<rect x="2.5" y="62.4" width="8.5" height="1.3" fill="#e02828"/>
<rect x="2.5" y="64.2" width="15" height="1.7" fill="#333" opacity="0.45"/>
</g>
<g transform="translate(331.8 940.8)">
<rect x="0.5" y="0.5" width="96.6" height="67" fill="#fbf9f9" stroke="#8e8e8e" stroke-width="1"/><g filter="url(#sm)"><g transform="scale(0.5)">
<defs><path id="p14" d="M113 121h0M53 42h0M122 93h0M157 86h0M34 112h0M144 131h0M152 30h0M19 76h0M56 18h0M95 94h0M77 58h0M119 89h0M46 107h0M100 108h0M37 114h0M45 37h0M43 65h0M19 114h0M50 80h0M169 109h0M130 30h0M23 87h0M129 22h0M79 91h0M189 86h0M46 89h0M154 58h0M154 57h0M5 87h0M58 40h0M84 108h0M175 23h0M55 106h0M32 87h0M29 15h0M52 34h0M46 117h0M144 113h0M99 72h0M16 89h0M97 87h0M93 111h0M142 50h0M33 97h0M39 64h0M144 84h0M188 44h0M95 130h0M141 100h0M117 123h0M74 29h0M80 61h0M147 46h0M190 63h0M106 105h0M42 58h0M25 108h0M31 75h0M9 11h0M114 20h0M64 25h0M36 29h0M63 20h0M152 76h0M40 41h0M170 123h0M145 58h0M79 72h0M44 35h0M99 96h0M61 27h0M79 102h0M42 41h0M16 105h0M186 35h0M188 108h0M172 37h0M50 36h0M25 112h0M39 21h0M18 88h0M20 123h0M73 18h0M73 73h0M149 90h0M10 127h0M176 112h0M36 25h0M135 55h0M27 8h0M126 58h0M64 38h0M155 73h0M74 56h0M65 104h0M64 11h0M184 55h0M70 28h0M135 114h0M107 104h0M26 81h0M145 57h0M143 71h0M123 90h0M36 90h0M151 59h0M164 82h0M61 124h0M33 27h0M113 22h0M124 112h0M148 106h0M99 50h0M140 33h0M29 11h0M54 131h0M57 15h0M39 127h0M147 40h0M30 10h0M44 110h0M37 97h0M171 103h0M37 50h0M138 45h0M49 31h0M101 75h0M172 37h0M81 55h0M180 68h0M74 11h0M15 100h0M105 18h0M49 98h0M81 95h0M191 31h0M132 41h0M25 37h0M166 28h0M42 37h0M67 109h0M158 103h0M21 107h0M106 8h0M61 15h0M30 22h0M74 95h0M159 121h0M86 105h0M41 112h0M80 11h0M185 85h0M55 31h0M74 69h0M64 112h0M37 61h0M124 60h0M74 121h0M107 22h0M37 16h0M42 21h0M80 123h0M109 87h0M156 123h0M90 82h0M177 36h0M170 127h0M46 46h0M99 93h0M34 114h0M179 7h0M116 72h0M42 96h0M164 21h0M23 113h0M79 25h0M151 90h0M117 32h0M171 7h0M62 79h0M33 106h0M167 36h0M54 114h0M157 126h0M114 91h0M100 108h0M160 57h0M181 35h0M179 124h0M48 85h0M94 71h0M92 90h0M107 76h0M175 23h0M59 23h0M38 96h0M46 62h0M49 41h0M170 78h0M152 115h0M117 64h0M174 56h0M167 107h0M45 71h0M74 103h0M27 34h0M185 106h0M97 16h0M124 25h0M48 105h0M11 114h0M167 85h0M151 109h0M154 91h0M104 46h0M104 17h0M26 125h0M27 99h0M26 14h0M167 131h0M73 104h0M68 31h0M139 122h0M30 6h0M178 103h0M41 10h0M119 103h0M139 92h0M73 23h0M69 117h0M74 117h0M16 23h0M60 54h0M41 88h0M158 131h0M79 66h0M176 60h0M101 111h0M185 34h0M89 6h0M157 63h0M28 49h0M169 101h0M108 43h0M179 40h0M126 93h0M70 40h0M61 123h0M47 27h0M179 38h0M12 26h0M35 77h0M34 14h0M52 121h0M17 37h0M17 122h0M156 105h0M162 90h0M153 62h0M99 113h0M118 98h0M17 96h0M186 44h0M150 65h0M123 48h0M133 70h0M148 55h0M148 90h0M116 87h0M160 50h0M65 28h0M181 92h0M24 96h0M90 118h0M40 101h0M61 30h0M106 94h0M136 52h0M62 67h0M155 9h0M182 111h0M44 90h0M45 67h0M43 127h0M188 71h0M48 107h0M187 100h0M184 36h0M16 8h0M31 79h0M81 122h0M92 25h0M162 126h0M148 54h0M56 71h0M144 41h0M113 119h0M31 36h0M122 71h0M111 41h0M148 22h0M75 93h0M180 31h0M12 100h0M13 62h0M127 86h0M143 72h0M126 51h0M73 78h0M120 47h0M163 119h0M113 27h0M66 91h0M145 130h0M185 65h0M180 81h0M50 46h0M143 60h0M177 104h0M74 84h0M31 41h0M25 30h0M69 117h0M22 88h0M178 13h0M161 79h0M56 92h0M52 117h0M79 54h0M100 37h0M73 121h0M179 96h0M59 65h0M122 93h0M128 77h0M50 60h0M49 42h0M147 95h0M32 52h0M15 54h0M146 88h0M172 59h0M28 112h0M55 98h0M140 61h0M36 111h0M102 76h0M148 79h0M39 100h0M42 108h0M176 117h0M155 21h0M58 98h0M82 69h0M156 86h0M166 81h0M167 105h0M54 75h0M124 98h0M183 101h0M50 59h0M34 120h0M171 117h0M164 98h0M114 55h0M35 123h0M169 78h0M81 99h0M188 73h0M20 55h0M64 97h0M15 6h0M107 57h0M79 107h0M132 95h0M15 82h0M114 75h0M64 22h0M164 92h0M154 63h0M57 101h0M175 29h0M95 117h0M7 31h0M120 69h0M128 51h0M31 29h0M43 131h0M43 67h0M166 130h0M97 8h0M141 48h0M154 36h0M35 23h0M118 100h0M127 102h0M115 42h0M143 120h0M46 130h0M160 70h0M151 124h0M112 9h0M41 116h0M91 33h0M166 75h0M29 14h0M131 23h0M173 130h0M48 43h0M64 67h0M53 17h0M39 47h0M163 120h0M52 59h0M79 79h0M41 16h0M71 93h0M159 107h0M45 46h0M121 109h0M57 80h0M67 90h0M46 51h0M26 22h0M190 66h0M46 119h0M85 17h0M42 46h0M38 96h0M20 118h0M180 26h0M112 74h0M41 112h0M73 62h0M146 89h0M168 69h0M37 115h0M129 40h0M104 107h0M148 121h0M16 26h0M126 46h0M186 100h0M133 124h0M182 60h0M151 76h0M8 29h0M59 19h0M64 86h0M187 41h0M34 69h0M73 27h0M125 128h0M154 116h0M60 123h0M51 52h0M176 8h0M92 117h0M88 60h0M25 107h0M92 59h0M85 54h0M63 11h0M60 41h0M105 42h0M160 37h0M173 80h0M9 60h0M31 29h0M40 70h0M117 77h0M158 76h0M154 75h0M33 25h0M16 24h0M97 91h0M182 55h0M75 123h0M42 87h0M179 117h0M75 119h0M162 87h0M143 124h0M133 113h0M23 52h0M54 24h0M180 42h0M47 108h0M72 12h0M55 88h0M78 90h0M147 42h0M159 78h0M63 75h0M171 117h0M117 106h0M121 100h0M187 112h0M14 51h0M155 38h0M64 118h0M161 17h0M91 103h0M125 31h0M48 107h0M9 26h0M64 35h0M62 97h0M186 123h0M132 49h0M188 121h0M182 35h0M171 50h0M98 122h0M8 68h0M149 93h0M99 16h0M101 86h0M86 7h0M35 115h0M60 126h0M27 53h0M28 77h0M35 14h0M76 113h0M165 95h0M36 41h0M152 6h0M131 16h0M170 109h0M148 130h0M33 14h0M174 81h0M54 15h0M8 96h0M66 85h0M173 75h0M110 69h0M112 111h0M36 93h0M55 8h0M169 103h0M155 34h0M148 34h0M181 6h0M128 83h0M102 89h0M51 48h0M71 86h0M144 89h0M23 45h0M58 106h0M112 87h0M142 106h0M160 55h0M18 30h0M121 107h0M19 30h0M172 27h0M50 89h0M93 30h0M91 71h0M151 113h0M44 21h0M156 19h0M33 23h0M62 69h0M138 71h0M127 71h0M152 116h0M163 73h0M19 7h0M162 100h0M60 30h0M88 47h0M38 112h0M175 54h0M35 94h0M118 113h0M51 90h0M163 116h0M166 29h0M54 120h0M188 16h0M15 93h0M53 55h0M44 52h0M163 17h0M17 88h0M18 55h0M7 120h0M40 41h0M31 49h0M171 90h0M151 96h0M64 13h0M108 115h0M98 108h0M29 20h0M9 50h0M166 72h0M47 67h0M60 101h0M54 78h0M35 45h0M180 114h0M76 7h0M166 86h0M159 93h0M41 31h0M38 108h0M26 36h0M190 95h0M170 38h0M167 15h0M57 40h0M106 102h0M131 117h0M181 80h0M59 28h0M107 101h0M70 117h0M76 55h0M59 65h0M9 21h0M106 120h0M28 58h0M36 16h0M64 118h0M152 109h0M116 49h0M85 88h0M28 129h0M189 46h0M37 63h0M93 105h0M139 59h0M70 48h0M122 60h0M153 126h0M34 110h0M4 57h0M143 120h0M62 9h0M77 20h0M25 53h0M55 62h0M121 76h0M40 63h0M84 98h0M98 18h0M140 47h0M142 88h0M184 61h0M26 107h0M41 86h0M121 45h0M190 108h0M94 22h0M49 117h0M15 22h0M58 20h0M54 43h0M45 36h0M62 10h0M135 73h0M33 103h0M39 28h0M157 13h0M50 85h0M32 69h0M119 87h0M61 115h0M46 70h0M11 90h0M135 67h0M43 64h0M87 104h0M30 99h0M48 38h0M154 105h0M116 123h0M98 13h0M115 80h0M125 80h0M172 13h0M117 95h0M137 48h0M79 7h0M165 110h0M53 20h0M123 52h0M46 81h0M127 57h0M159 131h0M187 19h0M156 78h0M147 59h0M101 109h0M79 99h0M140 61h0M10 51h0M179 92h0M14 27h0M110 90h0M156 56h0M85 34h0M67 124h0M84 98h0M85 39h0M129 68h0M58 123h0M52 121h0M35 46h0M37 31h0M156 8h0M128 57h0M47 18h0M98 107h0M71 65h0M120 105h0M160 72h0M139 71h0M40 73h0M185 112h0M68 23h0M190 103h0M188 95h0M150 105h0M156 15h0M26 58h0M127 112h0M45 99h0M172 125h0M183 72h0M62 44h0M165 62h0M92 116h0M91 93h0M17 26h0M104 48h0M21 38h0M27 19h0M190 19h0M29 53h0M46 16h0M34 60h0M45 12h0M23 22h0M57 13h0M32 88h0M31 62h0M150 57h0M75 108h0M122 97h0M163 124h0M97 93h0M110 97h0M45 100h0M27 23h0M67 48h0M139 32h0M66 122h0M118 13h0M37 26h0M22 67h0M15 24h0M77 17h0M61 4h0M46 22h0M184 125h0M129 84h0M12 10h0M53 70h0M156 62h0M184 128h0M100 124h0M163 118h0M78 110h0M49 79h0M60 13h0M155 95h0M154 60h0M160 78h0M76 102h0M23 52h0M24 34h0M169 92h0M130 102h0M92 37h0M130 93h0M75 77h0M129 73h0M61 22h0M137 128h0M10 19h0M105 115h0M20 94h0M141 124h0M83 107h0M145 60h0M141 49h0M148 65h0M130 87h0M33 11h0M116 33h0M174 29h0M31 40h0M127 73h0M64 129h0M152 115h0M86 94h0M184 114h0M45 60h0M178 118h0M104 82h0M127 70h0M67 47h0M192 61h0M92 114h0M139 93h0M141 44h0M74 43h0M47 101h0M10 117h0M176 59h0M46 81h0M173 61h0M173 73h0M131 89h0M67 27h0M173 11h0M113 94h0M83 85h0M147 67h0M107 109h0M40 6h0M69 111h0M50 43h0M166 10h0M141 88h0M126 38h0M101 21h0M174 56h0M50 49h0M47 68h0M82 22h0M178 102h0M182 66h0M149 117h0M107 77h0M21 73h0M61 53h0M85 102h0M42 40h0M39 30h0M82 88h0M18 80h0M52 103h0M46 70h0M55 24h0M98 56h0M130 37h0M21 42h0M103 82h0M181 48h0M158 88h0M67 125h0M22 18h0M103 21h0M181 99h0M26 100h0M14 18h0M118 22h0M35 91h0M187 10h0M54 130h0M15 26h0M39 120h0M76 24h0M135 70h0M14 5h0M79 123h0M82 47h0M60 28h0M24 45h0M140 102h0M85 83h0M106 7h0M54 55h0M75 104h0M140 71h0M47 38h0M48 96h0M151 124h0M42 23h0M29 82h0M165 120h0M42 17h0M167 29h0M72 107h0M103 107h0M26 111h0M166 130h0M181 77h0M52 58h0M169 73h0M80 21h0M103 127h0M101 93h0M32 84h0M146 121h0M108 27h0M80 126h0M24 61h0M141 103h0M128 23h0M126 89h0M52 73h0M145 86h0M56 65h0M30 79h0M32 8h0M130 29h0M94 78h0M41 13h0M127 22h0M46 84h0M122 86h0M98 85h0M82 75h0M72 93h0M91 87h0M81 109h0M75 30h0M53 32h0M141 63h0M166 126h0M121 106h0M10 95h0M24 35h0M45 17h0M39 112h0M22 83h0M56 106h0M140 103h0M102 84h0M187 4h0M191 102h0M176 80h0M110 20h0M120 92h0M148 103h0M138 107h0M35 20h0M175 34h0"/></defs>
<use href="#p14" stroke="#94506a" stroke-width="4.6" stroke-linecap="round" stroke-opacity="0.35"/>
<use href="#p14" stroke="#62223c" stroke-width="2.7" stroke-linecap="round" stroke-opacity="0.85"/>
<use href="#p2" stroke="#3a3a4a" stroke-width="1.8" stroke-linecap="round" stroke-opacity="0.75" transform="translate(195.2 0) scale(-1 1)"/>
</g></g>
<rect x="2.5" y="62.4" width="8.5" height="1.3" fill="#e02828"/>
<rect x="2.5" y="64.2" width="15" height="1.7" fill="#333" opacity="0.45"/>
</g>
<g transform="translate(32.2 1011.2)">
<rect x="0.5" y="0.5" width="96.6" height="67" fill="#fbf9f9" stroke="#8e8e8e" stroke-width="1"/><g filter="url(#sm)"><g transform="scale(0.5)">
<defs><path id="p15" d="M46 69h0M163 82h0M111 27h0M18 13h0M149 47h0M62 78h0M56 102h0M76 19h0M156 112h0M63 64h0M11 6h0M153 102h0M164 20h0M119 130h0M49 99h0M157 53h0M132 101h0M154 117h0M68 74h0M59 113h0M170 123h0M156 106h0M163 96h0M106 55h0M60 81h0M53 83h0M31 28h0M102 109h0M91 66h0M32 19h0M102 56h0M142 79h0M55 102h0M120 12h0M49 76h0M150 61h0M178 128h0M76 19h0M100 34h0M105 110h0M95 65h0M185 117h0M174 50h0M33 65h0M55 98h0M77 18h0M26 104h0M43 64h0M30 48h0M89 22h0M30 54h0M141 82h0M121 114h0M108 61h0M125 59h0M12 84h0M100 58h0M31 63h0M188 87h0M89 114h0M163 107h0M180 65h0M101 14h0M183 33h0M148 86h0M136 126h0M152 67h0M45 65h0M165 100h0M57 81h0M106 45h0M18 38h0M47 77h0M98 17h0M38 72h0M108 69h0M138 70h0M58 110h0M58 88h0M56 87h0M165 86h0M116 64h0M28 117h0M183 56h0M43 55h0M151 100h0M64 97h0M35 30h0M177 96h0M47 65h0M155 74h0M140 116h0M140 102h0M146 95h0M18 37h0M28 38h0M98 12h0M171 93h0M173 107h0M64 14h0M76 16h0M40 64h0M103 71h0M67 38h0M10 85h0M164 113h0M147 106h0M41 14h0M11 116h0M188 102h0M130 68h0M162 92h0M67 113h0M107 35h0M151 125h0M10 107h0M95 44h0M116 54h0M29 20h0M179 66h0M105 56h0M59 97h0M13 11h0M113 72h0M122 49h0M166 105h0M105 67h0M93 14h0M151 111h0M152 98h0M23 25h0M135 93h0M65 117h0M42 82h0M97 21h0M39 54h0M79 106h0M12 10h0M133 92h0M155 73h0M53 23h0M46 78h0M151 33h0M187 70h0M40 27h0M141 93h0M124 52h0M12 6h0M150 114h0M42 83h0M39 89h0M174 21h0M166 70h0M166 118h0M21 18h0M70 112h0M101 51h0M58 65h0M35 124h0M62 76h0M167 101h0M39 27h0M56 104h0M98 28h0M172 95h0M156 109h0M174 69h0M66 40h0M104 58h0M112 118h0M126 116h0M161 82h0M105 68h0M122 117h0M53 71h0M25 93h0M62 86h0M186 14h0M143 110h0M110 47h0M143 101h0M54 68h0M157 82h0M171 80h0M65 71h0M87 20h0M159 120h0M52 106h0M145 71h0M81 12h0M94 49h0M167 117h0M47 42h0M28 106h0M144 51h0M186 127h0M172 37h0M134 106h0M183 110h0M99 55h0M125 109h0"/></defs>
<use href="#p15" stroke="#d8a8c4" stroke-width="7.6" stroke-linecap="round" stroke-opacity="0.45"/>
<use href="#p15" stroke="#e4b8cc" stroke-width="5.2" stroke-linecap="round" stroke-opacity="0.5"/>
<use href="#p15" stroke="#b0588a" stroke-width="3" stroke-linecap="round" stroke-opacity="0.75"/>
<use href="#p2" stroke="#2e3250" stroke-width="2.0" stroke-linecap="round" stroke-opacity="0.9" transform="translate(195.2 0) scale(-1 1)"/>
</g></g>
<rect x="2.5" y="62.4" width="8.5" height="1.3" fill="#e02828"/>
<rect x="2.5" y="64.2" width="15" height="1.7" fill="#333" opacity="0.45"/>
</g>
<g transform="translate(131.9 1011.2)">
<rect x="0.5" y="0.5" width="96.6" height="67" fill="#fbf9f9" stroke="#8e8e8e" stroke-width="1"/><g filter="url(#sm)"><g transform="scale(0.5)">
<defs><path id="p16" d="M49 82h0M123 24h0M179 94h0M75 77h0M54 57h0M72 19h0M70 78h0M140 22h0M101 79h0M77 97h0"/></defs>
<use href="#p16" stroke="#e4b8cc" stroke-width="5.2" stroke-linecap="round" stroke-opacity="0.5"/>
<use href="#p16" stroke="#b0588a" stroke-width="3" stroke-linecap="round" stroke-opacity="0.75"/>
<use href="#p1" stroke="#2e3250" stroke-width="2.0" stroke-linecap="round" stroke-opacity="0.9" transform="translate(0 136) scale(1 -1)"/>
</g></g>
<rect x="2.5" y="62.4" width="8.5" height="1.3" fill="#e02828"/>
<rect x="2.5" y="64.2" width="15" height="1.7" fill="#333" opacity="0.45"/>
</g>
<g transform="translate(231.9 1011.2)">
<rect x="0.5" y="0.5" width="96.6" height="67" fill="#fbf9f9" stroke="#8e8e8e" stroke-width="1"/><g filter="url(#sm)"><g transform="scale(0.5)">
<defs><path id="p17" d="M130 121h0M160 107h0M164 103h0M173 107h0M123 104h0M137 81h0M24 76h0M140 118h0M117 117h0M120 98h0M15 118h0M18 31h0M137 114h0M116 29h0M105 108h0M113 43h0M32 91h0M47 38h0M31 87h0M56 55h0M106 99h0M169 10h0M111 38h0M38 65h0M184 124h0M22 78h0M10 90h0M38 86h0M86 15h0M19 45h0M80 92h0M157 104h0M83 66h0M169 13h0M157 108h0M56 49h0M121 112h0M179 21h0M161 100h0M12 10h0M162 30h0M188 31h0M102 63h0M51 49h0M85 52h0M69 9h0M111 107h0M161 15h0M14 119h0M131 20h0M28 121h0M128 65h0M32 109h0M186 97h0M166 126h0M45 81h0M150 127h0M174 117h0M122 96h0M18 113h0M186 52h0M27 69h0M155 23h0M121 96h0M17 111h0M29 32h0M10 40h0M146 119h0M49 111h0M131 116h0M11 120h0M20 33h0M127 23h0M152 6h0M33 60h0M58 29h0M168 6h0M30 85h0M120 46h0M125 54h0M115 56h0M117 49h0M82 17h0M62 56h0M104 86h0M12 72h0M132 22h0M20 96h0M44 46h0M166 117h0M46 71h0M134 119h0M156 102h0M176 37h0M140 16h0M152 60h0M140 118h0M132 88h0M134 116h0M130 10h0M32 55h0M174 106h0M51 96h0M81 92h0M120 110h0M38 54h0M48 49h0M51 35h0M168 87h0M105 57h0M150 24h0M39 42h0M130 31h0M128 24h0M187 40h0M7 58h0M182 42h0M104 28h0M174 100h0M139 113h0M152 112h0M137 101h0M16 68h0M183 115h0M88 93h0M149 104h0M52 115h0M22 93h0M149 64h0M46 79h0M22 78h0M89 53h0M151 102h0M73 55h0M139 10h0M27 82h0M39 74h0M125 53h0M84 60h0M44 48h0M170 6h0M130 63h0M21 100h0M125 39h0M28 39h0M159 100h0M105 42h0M46 53h0M34 91h0M116 37h0M137 84h0M45 94h0M113 112h0M117 64h0M133 82h0M15 87h0M34 47h0M136 117h0M103 66h0M36 84h0M19 97h0M146 102h0M41 91h0M10 82h0M119 59h0M101 108h0M125 116h0M116 65h0M143 20h0M187 99h0M24 41h0M135 112h0M80 49h0M115 49h0M132 26h0M182 46h0M14 78h0M148 124h0M143 105h0M187 109h0M56 48h0M146 44h0M6 83h0M120 60h0M93 33h0M72 44h0M184 78h0M117 24h0M11 53h0M130 106h0M23 130h0M164 35h0M119 28h0M80 9h0M156 60h0M167 13h0M94 61h0M81 53h0M133 112h0M46 86h0M144 70h0M95 51h0M66 95h0M17 40h0M114 98h0M88 56h0M182 23h0M67 120h0M75 13h0M86 33h0M40 90h0M25 74h0M38 83h0M24 117h0M165 6h0M127 17h0M172 113h0M31 87h0M78 9h0M128 35h0M30 65h0M85 52h0M22 77h0M36 49h0M177 44h0M146 120h0M45 20h0M184 92h0M98 16h0M122 66h0M29 116h0M106 96h0M15 85h0M176 109h0M21 56h0M94 89h0M187 28h0M164 22h0M6 76h0M35 125h0M130 122h0M71 58h0M7 60h0M33 103h0M29 107h0M88 86h0M101 68h0M53 50h0M40 32h0M163 127h0M54 107h0M36 35h0M24 116h0M163 16h0M12 86h0M180 100h0M148 121h0M112 54h0M104 22h0M117 45h0M58 48h0M138 107h0M53 96h0M89 53h0M85 52h0M141 110h0M90 61h0M46 110h0M21 121h0M172 13h0M145 115h0M140 15h0M159 61h0M137 102h0M175 72h0M105 107h0M176 107h0M93 70h0M146 34h0M21 86h0M77 19h0M51 61h0M124 103h0M57 71h0M50 85h0M171 30h0M180 104h0M139 30h0M142 111h0M20 73h0M102 55h0M49 88h0M152 49h0M34 73h0M185 98h0M28 106h0M98 71h0M127 36h0M17 89h0M110 113h0M137 49h0M139 130h0M127 89h0M58 115h0M15 103h0M117 64h0M133 23h0M175 105h0M61 100h0M29 103h0M15 123h0M116 42h0M163 105h0M187 67h0M68 108h0M87 70h0M166 103h0M141 12h0M143 130h0M174 110h0M9 51h0M132 66h0M27 65h0M20 79h0M106 93h0M146 31h0M63 108h0M128 123h0M121 77h0M27 103h0M14 84h0M157 89h0M145 100h0M24 56h0M39 61h0M124 58h0M48 72h0M16 59h0M9 78h0M99 62h0M47 40h0M165 105h0M111 30h0M24 41h0M175 88h0M98 48h0M187 55h0M79 41h0M97 45h0M141 122h0M167 109h0M117 61h0M143 125h0M51 94h0M32 81h0"/></defs>
<path d="M171 16h0M38 120h0M158 56h0M169 40h0M78 40h0M181 27h0M60 24h0M16 122h0M9 56h0M136 62h0M29 118h0M121 17h0M59 61h0M146 24h0M48 82h0M13 38h0M70 9h0M18 62h0M125 10h0M135 54h0M74 50h0M29 108h0M107 17h0M121 25h0M79 95h0M166 52h0M88 102h0M79 108h0M37 70h0M130 103h0M150 69h0M97 35h0M122 63h0M79 21h0M62 44h0M117 116h0M64 85h0M19 17h0M175 44h0M142 109h0M149 14h0M127 67h0M130 125h0M69 8h0M179 61h0M12 18h0M15 114h0M84 125h0M175 33h0M69 22h0M175 52h0M31 124h0M75 82h0M39 59h0M103 117h0M158 50h0M159 12h0M74 113h0M98 44h0M188 62h0M189 13h0M54 81h0M9 86h0M177 11h0M105 91h0M189 106h0M171 52h0M107 108h0M186 50h0M90 95h0M164 102h0M76 15h0M92 104h0M162 121h0M119 22h0M24 123h0M132 32h0M149 66h0M96 89h0M105 24h0M60 67h0M92 109h0M51 61h0M40 114h0M183 21h0M141 108h0M172 39h0M125 39h0M184 46h0M126 35h0M128 13h0M179 85h0M42 36h0M156 25h0M170 82h0M178 79h0M123 29h0M126 59h0M176 70h0M183 112h0M130 74h0M71 37h0M85 9h0M63 131h0M46 65h0M105 105h0M78 84h0M35 8h0M85 13h0M121 116h0M155 35h0M13 15h0M23 59h0M86 101h0M41 35h0M134 33h0M178 21h0M120 24h0M56 90h0M70 8h0M180 114h0M21 28h0M167 45h0M31 23h0M17 48h0M165 12h0M176 58h0M21 35h0M11 113h0M16 31h0M92 113h0M46 82h0M35 40h0M83 91h0M114 71h0M178 26h0M140 99h0M25 44h0M12 102h0M176 109h0M102 8h0M139 5h0M93 94h0M139 63h0M176 69h0M10 110h0M162 70h0M105 10h0M147 10h0M41 111h0M38 70h0M158 75h0M68 25h0M6 92h0M175 58h0M52 91h0M50 55h0M120 32h0M143 6h0M187 51h0M105 96h0M122 16h0M82 100h0M33 36h0M150 21h0M66 91h0M54 28h0M29 17h0M188 59h0M12 14h0M184 25h0M34 60h0M176 92h0M152 73h0M84 122h0M15 108h0M111 97h0M133 39h0M77 94h0M60 10h0M82 22h0M156 26h0M75 86h0M30 104h0M144 34h0M165 14h0M70 21h0M148 53h0M81 5h0M96 95h0M160 41h0M177 18h0M95 17h0M140 67h0M74 14h0M67 60h0M10 50h0M150 47h0M101 122h0M20 102h0M188 82h0M23 24h0M72 73h0M104 52h0M35 115h0M67 90h0M27 109h0M38 8h0M117 16h0M15 57h0M124 21h0M101 30h0M98 112h0M138 35h0M115 38h0M132 45h0M158 59h0M104 106h0M88 8h0M156 47h0M183 53h0M169 67h0M133 80h0M63 100h0M152 36h0M185 21h0M112 82h0M123 18h0M44 37h0M142 21h0M136 31h0M72 43h0M164 23h0M177 12h0M181 76h0M156 13h0M141 26h0M184 65h0M165 16h0M144 37h0M25 114h0M114 10h0M72 27h0M122 16h0M72 29h0M145 28h0M84 87h0M76 73h0M124 10h0M16 107h0M32 43h0M132 32h0M29 22h0M57 93h0M69 21h0M67 87h0M32 70h0M145 20h0M83 116h0M184 82h0M105 17h0M164 114h0M48 79h0M17 37h0M9 118h0M37 113h0M86 29h0M40 62h0M136 18h0M8 113h0M32 98h0M14 87h0M166 35h0M124 80h0M42 106h0M103 108h0M21 39h0M120 65h0M24 92h0M67 115h0M177 37h0M158 117h0M148 49h0M26 66h0M119 124h0M11 109h0M116 16h0M33 18h0M68 106h0M103 14h0M43 122h0M73 25h0M29 79h0M78 48h0M144 75h0M155 8h0M79 22h0M72 25h0M82 99h0M70 10h0M161 5h0M156 90h0M147 37h0M109 48h0M67 43h0M43 21h0M93 91h0M144 32h0M176 34h0M134 89h0M153 39h0M161 52h0M177 52h0M166 116h0M66 66h0M111 55h0M141 40h0M173 49h0M59 109h0M56 58h0M137 5h0M172 17h0M41 94h0M31 56h0M168 86h0M157 14h0M184 95h0M68 46h0M125 76h0M135 30h0M79 38h0M171 50h0M83 22h0M69 19h0M111 97h0M176 94h0M50 7h0M189 54h0M90 16h0M121 18h0M65 125h0M183 55h0M30 83h0M79 108h0M174 54h0M178 54h0M92 109h0M160 38h0M39 49h0M120 15h0M176 119h0M163 50h0M30 66h0M96 6h0M78 20h0M13 97h0M42 63h0M119 106h0M27 107h0M85 113h0M29 120h0M92 99h0M20 118h0M76 109h0M186 91h0M137 40h0M184 49h0M158 38h0M118 36h0M129 20h0M124 30h0M110 5h0M138 48h0M38 104h0M115 45h0M78 47h0M109 26h0M176 81h0M34 22h0M119 101h0M166 82h0M171 85h0M135 23h0M142 19h0M117 126h0M64 95h0M9 53h0M91 105h0M80 98h0M154 68h0M172 72h0M135 123h0M99 65h0M148 13h0M141 119h0M53 56h0M128 32h0M38 40h0M140 13h0M26 99h0M68 74h0M37 30h0M101 70h0M172 86h0M165 96h0M167 55h0M128 90h0M160 52h0M27 18h0M82 20h0M39 37h0M125 14h0M97 35h0M86 98h0M33 7h0M90 17h0M100 110h0M34 69h0M12 30h0M32 87h0M185 63h0M165 43h0M31 9h0M15 28h0M106 128h0M60 34h0M28 111h0M118 28h0M10 115h0M164 31h0M134 23h0M113 5h0M159 12h0M91 91h0M71 102h0M79 110h0M85 64h0M128 36h0M141 18h0M124 32h0M74 86h0M181 56h0M170 18h0M144 72h0M121 31h0M92 25h0M181 81h0M141 107h0M163 109h0M120 30h0M93 56h0M159 106h0M23 44h0M151 104h0M33 48h0M114 122h0M175 64h0M29 57h0M109 105h0M136 66h0M69 20h0M17 106h0M80 120h0M120 8h0M190 112h0M34 61h0M69 22h0M135 17h0M167 41h0M146 32h0M97 67h0M68 66h0M133 10h0M120 96h0M145 87h0M37 24h0M99 68h0M190 68h0M129 86h0M20 102h0M29 12h0M79 115h0M59 96h0M122 31h0M102 100h0M26 17h0" stroke="#e6a4c2" stroke-width="9" stroke-linecap="round" stroke-opacity="0.5" transform="scale(1.0)"/>
<path d="M171 16h0M158 56h0M78 40h0M60 24h0M9 56h0M29 118h0M59 61h0M48 82h0M70 9h0M125 10h0M74 50h0M107 17h0M79 95h0M88 102h0M37 70h0M150 69h0M122 63h0M62 44h0M64 85h0M175 44h0M149 14h0M130 125h0M179 61h0M15 114h0M175 33h0M175 52h0M75 82h0M103 117h0M159 12h0M98 44h0M189 13h0M9 86h0M105 91h0M171 52h0M186 50h0M164 102h0M92 104h0M119 22h0M132 32h0M96 89h0M60 67h0M51 61h0M183 21h0M172 39h0M184 46h0M128 13h0M42 36h0M170 82h0M123 29h0M176 70h0M130 74h0M85 9h0M46 65h0M78 84h0M85 13h0M155 35h0M23 59h0M41 35h0M178 21h0M56 90h0M180 114h0M167 45h0M17 48h0M176 58h0M11 113h0M92 113h0M35 40h0M114 71h0M140 99h0M12 102h0M102 8h0M93 94h0M176 69h0M162 70h0M147 10h0M38 70h0M68 25h0M175 58h0M50 55h0M143 6h0M105 96h0M82 100h0M150 21h0M54 28h0M188 59h0M184 25h0M176 92h0M84 122h0M111 97h0M77 94h0M82 22h0M75 86h0M144 34h0M70 21h0M81 5h0M160 41h0M95 17h0M74 14h0M10 50h0M101 122h0M188 82h0M72 73h0M35 115h0M27 109h0M117 16h0M124 21h0M98 112h0M115 38h0M158 59h0M88 8h0M183 53h0M133 80h0M152 36h0M112 82h0M44 37h0M136 31h0M164 23h0M181 76h0M141 26h0M165 16h0M25 114h0M72 27h0M72 29h0M84 87h0M124 10h0M32 43h0M29 22h0M69 21h0M32 70h0M83 116h0M105 17h0M48 79h0M9 118h0M86 29h0M136 18h0M32 98h0M166 35h0M42 106h0M21 39h0M24 92h0M177 37h0M148 49h0M119 124h0M116 16h0M68 106h0M43 122h0M29 79h0M144 75h0M79 22h0M82 99h0M161 5h0M147 37h0M67 43h0M93 91h0M176 34h0M153 39h0M177 52h0M66 66h0M141 40h0M59 109h0M137 5h0M41 94h0M168 86h0M184 95h0M125 76h0M79 38h0M83 22h0M111 97h0M50 7h0M90 16h0M65 125h0M30 83h0M174 54h0M92 109h0M39 49h0M176 119h0M30 66h0M78 20h0M42 63h0M27 107h0M29 120h0M20 118h0M186 91h0M184 49h0M118 36h0M124 30h0M138 48h0M115 45h0M109 26h0M34 22h0M166 82h0M135 23h0M117 126h0M9 53h0M80 98h0M172 72h0M99 65h0M141 119h0M128 32h0M140 13h0M68 74h0M101 70h0M165 96h0M128 90h0M27 18h0M39 37h0M97 35h0M33 7h0M100 110h0M12 30h0M185 63h0M31 9h0M106 128h0M28 111h0M10 115h0M134 23h0M159 12h0M71 102h0M85 64h0M141 18h0M74 86h0M170 18h0M121 31h0M181 81h0M163 109h0M93 56h0M23 44h0M33 48h0M175 64h0M109 105h0M69 20h0M80 120h0M190 112h0M69 22h0M167 41h0M97 67h0M133 10h0M145 87h0M99 68h0M129 86h0M29 12h0M59 96h0M102 100h0" stroke="#c46a96" stroke-width="3.6" stroke-linecap="round" stroke-opacity="0.6" transform="scale(1.0)"/>
<use href="#p17" stroke="#e4b8cc" stroke-width="5.2" stroke-linecap="round" stroke-opacity="0.5"/>
<use href="#p17" stroke="#b0588a" stroke-width="3" stroke-linecap="round" stroke-opacity="0.75"/>
<use href="#p1" stroke="#2e3250" stroke-width="2.0" stroke-linecap="round" stroke-opacity="0.9" transform="translate(195.2 0) scale(-1 1)"/>
</g></g>
<rect x="2.5" y="62.4" width="8.5" height="1.3" fill="#e02828"/>
<rect x="2.5" y="64.2" width="15" height="1.7" fill="#333" opacity="0.45"/>
</g>
<g transform="translate(331.8 1011.2)">
<rect x="0.5" y="0.5" width="96.6" height="67" fill="#fbf9f9" stroke="#8e8e8e" stroke-width="1"/><g filter="url(#sm)"><g transform="scale(0.5)">
<defs><path id="p18" d="M105 68h0M114 126h0M24 81h0M141 68h0M112 51h0M54 101h0M115 24h0M53 89h0M117 110h0M8 58h0M70 102h0M100 127h0M178 59h0M35 77h0M129 26h0M27 78h0M50 54h0M89 18h0M30 118h0M26 46h0M18 20h0M48 57h0M42 53h0M33 123h0M185 82h0M6 103h0M54 45h0M112 130h0M39 37h0M16 6h0M167 98h0M126 72h0M103 89h0M53 63h0M26 14h0M167 113h0M90 29h0M115 110h0M25 27h0M71 93h0M162 79h0M29 61h0M125 43h0M127 34h0M64 92h0M10 35h0M140 47h0M44 48h0M38 125h0M22 72h0M76 63h0M19 51h0M186 17h0M81 19h0M127 116h0M153 8h0M109 33h0M44 57h0M179 88h0M35 77h0M83 105h0M32 41h0M51 94h0M93 7h0M96 10h0M90 73h0M108 34h0M31 71h0M174 73h0M46 129h0M99 27h0M150 34h0M87 29h0M78 19h0M23 89h0M41 14h0M143 17h0M44 79h0M47 120h0M158 70h0M164 42h0M23 44h0M126 22h0M105 124h0M187 65h0M183 37h0M107 11h0M75 110h0M29 89h0M123 30h0M189 53h0M114 105h0M90 13h0M9 73h0M169 89h0M110 53h0M31 119h0M110 52h0M54 129h0M134 61h0M24 79h0M39 119h0M166 25h0M115 66h0M182 100h0M100 51h0M47 85h0M87 91h0M49 35h0M35 32h0M35 79h0M80 68h0M55 95h0M80 82h0M184 48h0M48 77h0M111 127h0M94 99h0M66 98h0M189 43h0M12 40h0M84 46h0M117 11h0"/></defs>
<use href="#p18" stroke="#d8a8c4" stroke-width="7.6" stroke-linecap="round" stroke-opacity="0.45"/>
<use href="#p18" stroke="#e4b8cc" stroke-width="5.2" stroke-linecap="round" stroke-opacity="0.5"/>
<use href="#p18" stroke="#b0588a" stroke-width="3" stroke-linecap="round" stroke-opacity="0.75"/>
<use href="#p1" stroke="#2e3250" stroke-width="2.0" stroke-linecap="round" stroke-opacity="0.9" transform="translate(0 136) scale(1 -1)"/>
</g></g>
<rect x="2.5" y="62.4" width="8.5" height="1.3" fill="#e02828"/>
<rect x="2.5" y="64.2" width="15" height="1.7" fill="#333" opacity="0.45"/>
</g>
<rect x="479.4" y="733.2" width="9.5" height="9.2" fill="#606060" stroke="#4a4a4a" stroke-width="0.5"/>
<text x="490.1" y="741.3" font-size="10.2" text-anchor="start" fill="#1e1e1e">shNC&amp;vector</text>
<rect x="560.0" y="733.2" width="9.5" height="9.2" fill="#2e7e90" stroke="#21606e" stroke-width="0.5"/>
<text x="571.5" y="741.3" font-size="10.2" text-anchor="start" fill="#1e1e1e">vector&amp;shYBX1</text>
<rect x="654.7" y="734.0" width="9.5" height="9.2" fill="#c8433f" stroke="#9e302d" stroke-width="0.5"/>
<text x="665.3" y="741.6" font-size="10.2" text-anchor="start" fill="#1e1e1e">shNC&amp;oe-RNF115</text>
<rect x="757.4" y="734.0" width="9.5" height="9.2" fill="#1f4a9e" stroke="#163a80" stroke-width="0.5"/>
<text x="767.6" y="741.6" font-size="10.2" text-anchor="start" fill="#1e1e1e">shYBX1&amp;oe-RNF115</text>
<line x1="479.4" y1="748.0" x2="479.4" y2="898.0" stroke="#555" stroke-width="0.9"/>
<line x1="479.4" y1="898.0" x2="657.7" y2="898.0" stroke="#555" stroke-width="0.9"/>
<line x1="476.9" y1="898.0" x2="479.4" y2="898.0" stroke="#555" stroke-width="0.9"/>
<text x="475.9" y="901.4" font-size="10" text-anchor="end" fill="#1e1e1e">0</text>
<line x1="476.9" y1="857.7" x2="479.4" y2="857.7" stroke="#555" stroke-width="0.9"/>
<text x="475.9" y="861.1" font-size="10" text-anchor="end" fill="#1e1e1e">250</text>
<line x1="476.9" y1="817.5" x2="479.4" y2="817.5" stroke="#555" stroke-width="0.9"/>
<text x="475.9" y="820.9" font-size="10" text-anchor="end" fill="#1e1e1e">500</text>
<line x1="476.9" y1="777.2" x2="479.4" y2="777.2" stroke="#555" stroke-width="0.9"/>
<text x="475.9" y="780.6" font-size="10" text-anchor="end" fill="#1e1e1e">750</text>
<rect x="492.0" y="858.6" width="25.7" height="39.4" fill="#606060" stroke="#4a4a4a" stroke-width="0.6"/>
<line x1="504.9" y1="854.8" x2="504.9" y2="858.6" stroke="#222" stroke-width="0.7"/>
<path d="M503.5 854.8h2.8l-1.4 1.6z" fill="#111"/>
<circle cx="504.9" cy="855.6" r="1.35" fill="#111"/>
<circle cx="504.9" cy="858.6" r="1.35" fill="#111"/>
<circle cx="504.9" cy="861.1" r="1.35" fill="#111"/>
<rect x="534.1" y="880.2" width="25.7" height="17.8" fill="#2e7e90" stroke="#21606e" stroke-width="0.6"/>
<line x1="547.0" y1="875.6" x2="547.0" y2="880.2" stroke="#222" stroke-width="0.7"/>
<path d="M545.6 875.6h2.8l-1.4 1.6z" fill="#111"/>
<circle cx="547.0" cy="876.4" r="1.35" fill="#111"/>
<circle cx="547.0" cy="880.2" r="1.35" fill="#111"/>
<circle cx="547.0" cy="884.0" r="1.35" fill="#111"/>
<rect x="576.4" y="802.1" width="25.7" height="95.9" fill="#c8433f" stroke="#9e302d" stroke-width="0.6"/>
<line x1="589.3" y1="793.0" x2="589.3" y2="802.1" stroke="#222" stroke-width="0.7"/>
<path d="M587.9 793.0h2.8l-1.4 1.6z" fill="#111"/>
<circle cx="589.3" cy="796.8" r="1.35" fill="#111"/>
<circle cx="589.3" cy="797.6" r="1.35" fill="#111"/>
<circle cx="589.3" cy="812.8" r="1.35" fill="#111"/>
<rect x="618.9" y="864.0" width="25.7" height="34.0" fill="#1f4a9e" stroke="#163a80" stroke-width="0.6"/>
<line x1="631.7" y1="861.4" x2="631.7" y2="864.0" stroke="#222" stroke-width="0.7"/>
<path d="M630.3 861.4h2.8l-1.4 1.6z" fill="#111"/>
<circle cx="631.7" cy="861.9" r="1.35" fill="#111"/>
<circle cx="631.7" cy="864.0" r="1.35" fill="#111"/>
<circle cx="631.7" cy="865.0" r="1.35" fill="#111"/>
<polyline points="504.9,796.3 504.9,789.2 547.0,789.2 547.0,796.3" fill="none" stroke="#666" stroke-width="0.8"/>
<text x="526.0" y="790.1" font-size="10.5" text-anchor="middle" fill="#222">**</text>
<polyline points="504.9,782.3 504.9,775.4 589.3,775.4 589.3,782.3" fill="none" stroke="#666" stroke-width="0.8"/>
<text x="549.9" y="776.1" font-size="10.5" text-anchor="middle" fill="#222">**</text>
<polyline points="547.0,767.0 547.0,760.0 631.7,760.0 631.7,767.0" fill="none" stroke="#666" stroke-width="0.8"/>
<text x="592.6" y="760.8" font-size="10.5" text-anchor="middle" fill="#222">**</text>
<text x="568.4" y="907.7" font-size="10" text-anchor="middle" fill="#1e1e1e">Hep3B</text>
<text x="457.5" y="823.0" font-size="10.5" text-anchor="middle" fill="#1e1e1e" transform="rotate(-90 457.5 823.0)">Number of migration cells</text>
<line x1="683.1" y1="750.5" x2="683.1" y2="898.0" stroke="#555" stroke-width="0.9"/>
<line x1="683.1" y1="898.0" x2="863.0" y2="898.0" stroke="#555" stroke-width="0.9"/>
<line x1="680.6" y1="898.0" x2="683.1" y2="898.0" stroke="#555" stroke-width="0.9"/>
<text x="679.6" y="901.4" font-size="10" text-anchor="end" fill="#1e1e1e">0</text>
<line x1="680.6" y1="853.5" x2="683.1" y2="853.5" stroke="#555" stroke-width="0.9"/>
<text x="679.6" y="856.9" font-size="10" text-anchor="end" fill="#1e1e1e">50</text>
<line x1="680.6" y1="809.0" x2="683.1" y2="809.0" stroke="#555" stroke-width="0.9"/>
<text x="679.6" y="812.4" font-size="10" text-anchor="end" fill="#1e1e1e">100</text>
<line x1="680.6" y1="764.5" x2="683.1" y2="764.5" stroke="#555" stroke-width="0.9"/>
<text x="679.6" y="767.9" font-size="10" text-anchor="end" fill="#1e1e1e">150</text>
<rect x="697.1" y="840.0" width="26.0" height="58.0" fill="#606060" stroke="#4a4a4a" stroke-width="0.6"/>
<line x1="710.1" y1="833.7" x2="710.1" y2="840.0" stroke="#222" stroke-width="0.7"/>
<path d="M708.7 833.7h2.8l-1.4 1.6z" fill="#111"/>
<circle cx="710.1" cy="834.4" r="1.35" fill="#111"/>
<circle cx="710.1" cy="838.8" r="1.35" fill="#111"/>
<circle cx="710.1" cy="847.7" r="1.35" fill="#111"/>
<rect x="740.7" y="884.8" width="26.0" height="13.2" fill="#2e7e90" stroke="#21606e" stroke-width="0.6"/>
<line x1="753.7" y1="880.7" x2="753.7" y2="884.8" stroke="#222" stroke-width="0.7"/>
<path d="M752.3 880.7h2.8l-1.4 1.6z" fill="#111"/>
<circle cx="753.7" cy="881.5" r="1.35" fill="#111"/>
<circle cx="753.7" cy="885.3" r="1.35" fill="#111"/>
<circle cx="753.7" cy="888.6" r="1.35" fill="#111"/>
<rect x="784.6" y="809.5" width="26.0" height="88.5" fill="#c8433f" stroke="#9e302d" stroke-width="0.6"/>
<line x1="797.6" y1="800.9" x2="797.6" y2="809.5" stroke="#222" stroke-width="0.7"/>
<path d="M796.2 800.9h2.8l-1.4 1.6z" fill="#111"/>
<circle cx="797.6" cy="801.4" r="1.35" fill="#111"/>
<circle cx="797.6" cy="810.3" r="1.35" fill="#111"/>
<circle cx="797.6" cy="816.1" r="1.35" fill="#111"/>
<rect x="828.2" y="846.4" width="26.0" height="51.6" fill="#1f4a9e" stroke="#163a80" stroke-width="0.6"/>
<line x1="841.2" y1="842.8" x2="841.2" y2="846.4" stroke="#222" stroke-width="0.7"/>
<path d="M839.8 842.8h2.8l-1.4 1.6z" fill="#111"/>
<circle cx="841.2" cy="843.3" r="1.35" fill="#111"/>
<circle cx="841.2" cy="844.6" r="1.35" fill="#111"/>
<circle cx="841.2" cy="851.5" r="1.35" fill="#111"/>
<polyline points="710.1,800.0 710.1,793.0 753.7,793.0 753.7,800.0" fill="none" stroke="#666" stroke-width="0.8"/>
<text x="734.5" y="793.4" font-size="10.5" text-anchor="middle" fill="#222">**</text>
<polyline points="710.1,787.5 710.1,780.3 797.6,780.3 797.6,787.5" fill="none" stroke="#666" stroke-width="0.8"/>
<text x="756.0" y="780.6" font-size="10.5" text-anchor="middle" fill="#222">**</text>
<polyline points="753.7,772.0 753.7,764.5 841.2,764.5 841.2,772.0" fill="none" stroke="#666" stroke-width="0.8"/>
<text x="801.4" y="765.2" font-size="10.5" text-anchor="middle" fill="#222">***</text>
<text x="776.0" y="907.7" font-size="10" text-anchor="middle" fill="#1e1e1e">Hep3B</text>
<text x="665.0" y="823.5" font-size="10.5" text-anchor="middle" fill="#1e1e1e" transform="rotate(-90 665.0 823.5)">Number of invasion cells</text>
<line x1="478.7" y1="920.4" x2="478.7" y2="1072.5" stroke="#555" stroke-width="0.9"/>
<line x1="478.7" y1="1072.5" x2="657.7" y2="1072.5" stroke="#555" stroke-width="0.9"/>
<line x1="476.2" y1="1072.5" x2="478.7" y2="1072.5" stroke="#555" stroke-width="0.9"/>
<text x="475.2" y="1075.9" font-size="10" text-anchor="end" fill="#1e1e1e">0</text>
<line x1="476.2" y1="1029.3" x2="478.7" y2="1029.3" stroke="#555" stroke-width="0.9"/>
<text x="475.2" y="1032.7" font-size="10" text-anchor="end" fill="#1e1e1e">250</text>
<line x1="476.2" y1="986.0" x2="478.7" y2="986.0" stroke="#555" stroke-width="0.9"/>
<text x="475.2" y="989.4" font-size="10" text-anchor="end" fill="#1e1e1e">500</text>
<line x1="476.2" y1="942.8" x2="478.7" y2="942.8" stroke="#555" stroke-width="0.9"/>
<text x="475.2" y="946.2" font-size="10" text-anchor="end" fill="#1e1e1e">750</text>
<rect x="490.9" y="975.1" width="25.9" height="97.4" fill="#606060" stroke="#4a4a4a" stroke-width="0.6"/>
<line x1="503.9" y1="967.5" x2="503.9" y2="975.1" stroke="#222" stroke-width="0.7"/>
<path d="M502.5 967.5h2.8l-1.4 1.6z" fill="#111"/>
<circle cx="503.9" cy="968.8" r="1.35" fill="#111"/>
<circle cx="503.9" cy="971.3" r="1.35" fill="#111"/>
<circle cx="503.9" cy="982.7" r="1.35" fill="#111"/>
<rect x="533.6" y="1022.2" width="25.9" height="50.3" fill="#2e7e90" stroke="#21606e" stroke-width="0.6"/>
<line x1="546.6" y1="1014.5" x2="546.6" y2="1022.2" stroke="#222" stroke-width="0.7"/>
<path d="M545.2 1014.5h2.8l-1.4 1.6z" fill="#111"/>
<circle cx="546.6" cy="1016.3" r="1.35" fill="#111"/>
<circle cx="546.6" cy="1019.6" r="1.35" fill="#111"/>
<circle cx="546.6" cy="1031.0" r="1.35" fill="#111"/>
<rect x="576.3" y="957.3" width="25.9" height="115.2" fill="#c8433f" stroke="#9e302d" stroke-width="0.6"/>
<line x1="589.3" y1="951.5" x2="589.3" y2="957.3" stroke="#222" stroke-width="0.7"/>
<path d="M587.9 951.5h2.8l-1.4 1.6z" fill="#111"/>
<circle cx="589.3" cy="952.2" r="1.35" fill="#111"/>
<circle cx="589.3" cy="956.5" r="1.35" fill="#111"/>
<circle cx="589.3" cy="962.4" r="1.35" fill="#111"/>
<rect x="619.0" y="1000.5" width="25.9" height="72.0" fill="#1f4a9e" stroke="#163a80" stroke-width="0.6"/>
<line x1="632.0" y1="995.5" x2="632.0" y2="1000.5" stroke="#222" stroke-width="0.7"/>
<path d="M630.6 995.5h2.8l-1.4 1.6z" fill="#111"/>
<circle cx="632.0" cy="996.0" r="1.35" fill="#111"/>
<circle cx="632.0" cy="999.3" r="1.35" fill="#111"/>
<circle cx="632.0" cy="1005.6" r="1.35" fill="#111"/>
<polyline points="503.9,951.5 503.9,945.1 546.6,945.1 546.6,951.5" fill="none" stroke="#666" stroke-width="0.8"/>
<text x="529.5" y="945.5" font-size="10.5" text-anchor="middle" fill="#222">***</text>
<polyline points="503.9,941.0 503.9,934.4 589.3,934.4 589.3,941.0" fill="none" stroke="#666" stroke-width="0.8"/>
<text x="548.0" y="934.5" font-size="10.5" text-anchor="middle" fill="#222">*</text>
<polyline points="546.6,927.3 546.6,920.4 632.0,920.4 632.0,927.3" fill="none" stroke="#666" stroke-width="0.8"/>
<text x="590.6" y="921.8" font-size="10.5" text-anchor="middle" fill="#222">*</text>
<text x="568.4" y="1083.7" font-size="10" text-anchor="middle" fill="#1e1e1e">Huh7</text>
<text x="457.5" y="1003.7" font-size="10.5" text-anchor="middle" fill="#1e1e1e" transform="rotate(-90 457.5 1003.7)">Number of migration cells</text>
<line x1="682.6" y1="921.7" x2="682.6" y2="1072.5" stroke="#555" stroke-width="0.9"/>
<line x1="682.6" y1="1072.5" x2="863.0" y2="1072.5" stroke="#555" stroke-width="0.9"/>
<line x1="680.1" y1="1072.5" x2="682.6" y2="1072.5" stroke="#555" stroke-width="0.9"/>
<text x="679.1" y="1075.9" font-size="10" text-anchor="end" fill="#1e1e1e">0</text>
<line x1="680.1" y1="1031.7" x2="682.6" y2="1031.7" stroke="#555" stroke-width="0.9"/>
<text x="679.1" y="1035.1" font-size="10" text-anchor="end" fill="#1e1e1e">100</text>
<line x1="680.1" y1="991.0" x2="682.6" y2="991.0" stroke="#555" stroke-width="0.9"/>
<text x="679.1" y="994.4" font-size="10" text-anchor="end" fill="#1e1e1e">200</text>
<line x1="680.1" y1="950.2" x2="682.6" y2="950.2" stroke="#555" stroke-width="0.9"/>
<text x="679.1" y="953.6" font-size="10" text-anchor="end" fill="#1e1e1e">300</text>
<rect x="695.6" y="1025.5" width="26.3" height="47.0" fill="#606060" stroke="#4a4a4a" stroke-width="0.6"/>
<line x1="708.7" y1="1015.8" x2="708.7" y2="1025.5" stroke="#222" stroke-width="0.7"/>
<path d="M707.3 1015.8h2.8l-1.4 1.6z" fill="#111"/>
<circle cx="708.7" cy="1016.3" r="1.35" fill="#111"/>
<circle cx="708.7" cy="1026.0" r="1.35" fill="#111"/>
<circle cx="708.7" cy="1033.6" r="1.35" fill="#111"/>
<rect x="739.1" y="1064.9" width="26.3" height="7.6" fill="#2e7e90" stroke="#21606e" stroke-width="0.6"/>
<line x1="752.2" y1="1063.4" x2="752.2" y2="1064.9" stroke="#222" stroke-width="0.7"/>
<path d="M750.8 1063.4h2.8l-1.4 1.6z" fill="#111"/>
<circle cx="752.2" cy="1064.1" r="1.35" fill="#111"/>
<circle cx="752.2" cy="1064.9" r="1.35" fill="#111"/>
<circle cx="752.2" cy="1066.2" r="1.35" fill="#111"/>
<rect x="782.2" y="991.6" width="26.3" height="80.9" fill="#c8433f" stroke="#9e302d" stroke-width="0.6"/>
<line x1="795.4" y1="975.1" x2="795.4" y2="991.6" stroke="#222" stroke-width="0.7"/>
<path d="M794.0 975.1h2.8l-1.4 1.6z" fill="#111"/>
<circle cx="795.4" cy="975.6" r="1.35" fill="#111"/>
<circle cx="795.4" cy="996.2" r="1.35" fill="#111"/>
<circle cx="795.4" cy="1003.9" r="1.35" fill="#111"/>
<rect x="826.1" y="1040.0" width="26.3" height="32.5" fill="#1f4a9e" stroke="#163a80" stroke-width="0.6"/>
<line x1="839.2" y1="1036.7" x2="839.2" y2="1040.0" stroke="#222" stroke-width="0.7"/>
<path d="M837.8 1036.7h2.8l-1.4 1.6z" fill="#111"/>
<circle cx="839.2" cy="1037.4" r="1.35" fill="#111"/>
<circle cx="839.2" cy="1040.0" r="1.35" fill="#111"/>
<circle cx="839.2" cy="1043.0" r="1.35" fill="#111"/>
<polyline points="708.7,974.3 708.7,966.7 752.2,966.7 752.2,974.3" fill="none" stroke="#666" stroke-width="0.8"/>
<text x="732.0" y="967.1" font-size="10.5" text-anchor="middle" fill="#222">*</text>
<polyline points="708.7,960.0 708.7,952.2 795.4,952.2 795.4,960.0" fill="none" stroke="#666" stroke-width="0.8"/>
<text x="753.9" y="952.3" font-size="10.5" text-anchor="middle" fill="#222">*</text>
<polyline points="752.2,942.6 752.2,935.0 839.2,935.0 839.2,942.6" fill="none" stroke="#666" stroke-width="0.8"/>
<text x="798.9" y="935.8" font-size="10.5" text-anchor="middle" fill="#222">**</text>
<text x="774.7" y="1083.2" font-size="10" text-anchor="middle" fill="#1e1e1e">Huh7</text>
<text x="665.0" y="1003.0" font-size="10.5" text-anchor="middle" fill="#1e1e1e" transform="rotate(-90 665.0 1003.0)">Number of invasion cells</text>
<g opacity="0.7">
<g fill="#8e8e8e"><circle cx="610" cy="1050" r="10.3"/><path d="M603 1057l-3 5l6-3z"/></g>
<clipPath id="wmc"><circle cx="610" cy="1050" r="10.3"/></clipPath><circle cx="621.5" cy="1057.6" r="10" fill="#fff" clip-path="url(#wmc)"/>
<g fill="#7e7e7e"><circle cx="621.5" cy="1057.6" r="8.8"/><path d="M626 1064l3 4l-1-5z"/></g>
<g fill="#fff"><circle cx="607" cy="1047.2" r="1.4"/><circle cx="613.5" cy="1047.2" r="1.4"/><circle cx="617.8" cy="1055.4" r="1.2"/><circle cx="624.4" cy="1055.4" r="1.2"/></g>
<g fill="none" stroke="#7a7a7a" stroke-width="2.8" stroke-linejoin="round">
<path transform="translate(639.6 1039.5) scale(0.9 1)" d="M8 2L2 11M14 2L22 11M11 10L5 21L19 19M16 15L21 22"/>
<path transform="translate(663.6 1039.5) scale(0.9 1)" d="M12 1L4 10M12 1L20 10M7 11L2 22M7 14L11 21M17 11L13 22M17 14L22 21"/>
<path transform="translate(690.7 1039.5) scale(0.9 1)" d="M5 2H19V9H5ZM2 12.5H22M7 13L6 17H19Q19 23 14 22"/>
<path transform="translate(740.3 1039.5) scale(0.9 1)" d="M2 4H22M8 1V7M16 1V7M5 15V9H19V15M2 15H22M12 7V15M12 15L3 23M12 15L21 23"/>
<path transform="translate(765.8 1039.5) scale(0.9 1)" d="M2 4L10 3M2 9H10M2 14H10M6 2V20Q6 23 3 22M13 4H22M13 9H22M13 14H22M17 1V23"/>
<path transform="translate(791.4 1039.5) scale(0.9 1)" d="M6 2L3 9M4 8H21M5 15H19M2 22H22M12 1V22"/>
<path transform="translate(815.4 1039.5) scale(0.9 1)" d="M4 2L2 8M2 7H10M1 14L10 12M6 1V23M14 2L12 8M13 6H22V20Q22 23 18 22M16 8L12 18M19 8L14 21"/>
</g><circle cx="725.3" cy="1050" r="1.9" fill="#7a7a7a"/></g>
</svg></body></html>
